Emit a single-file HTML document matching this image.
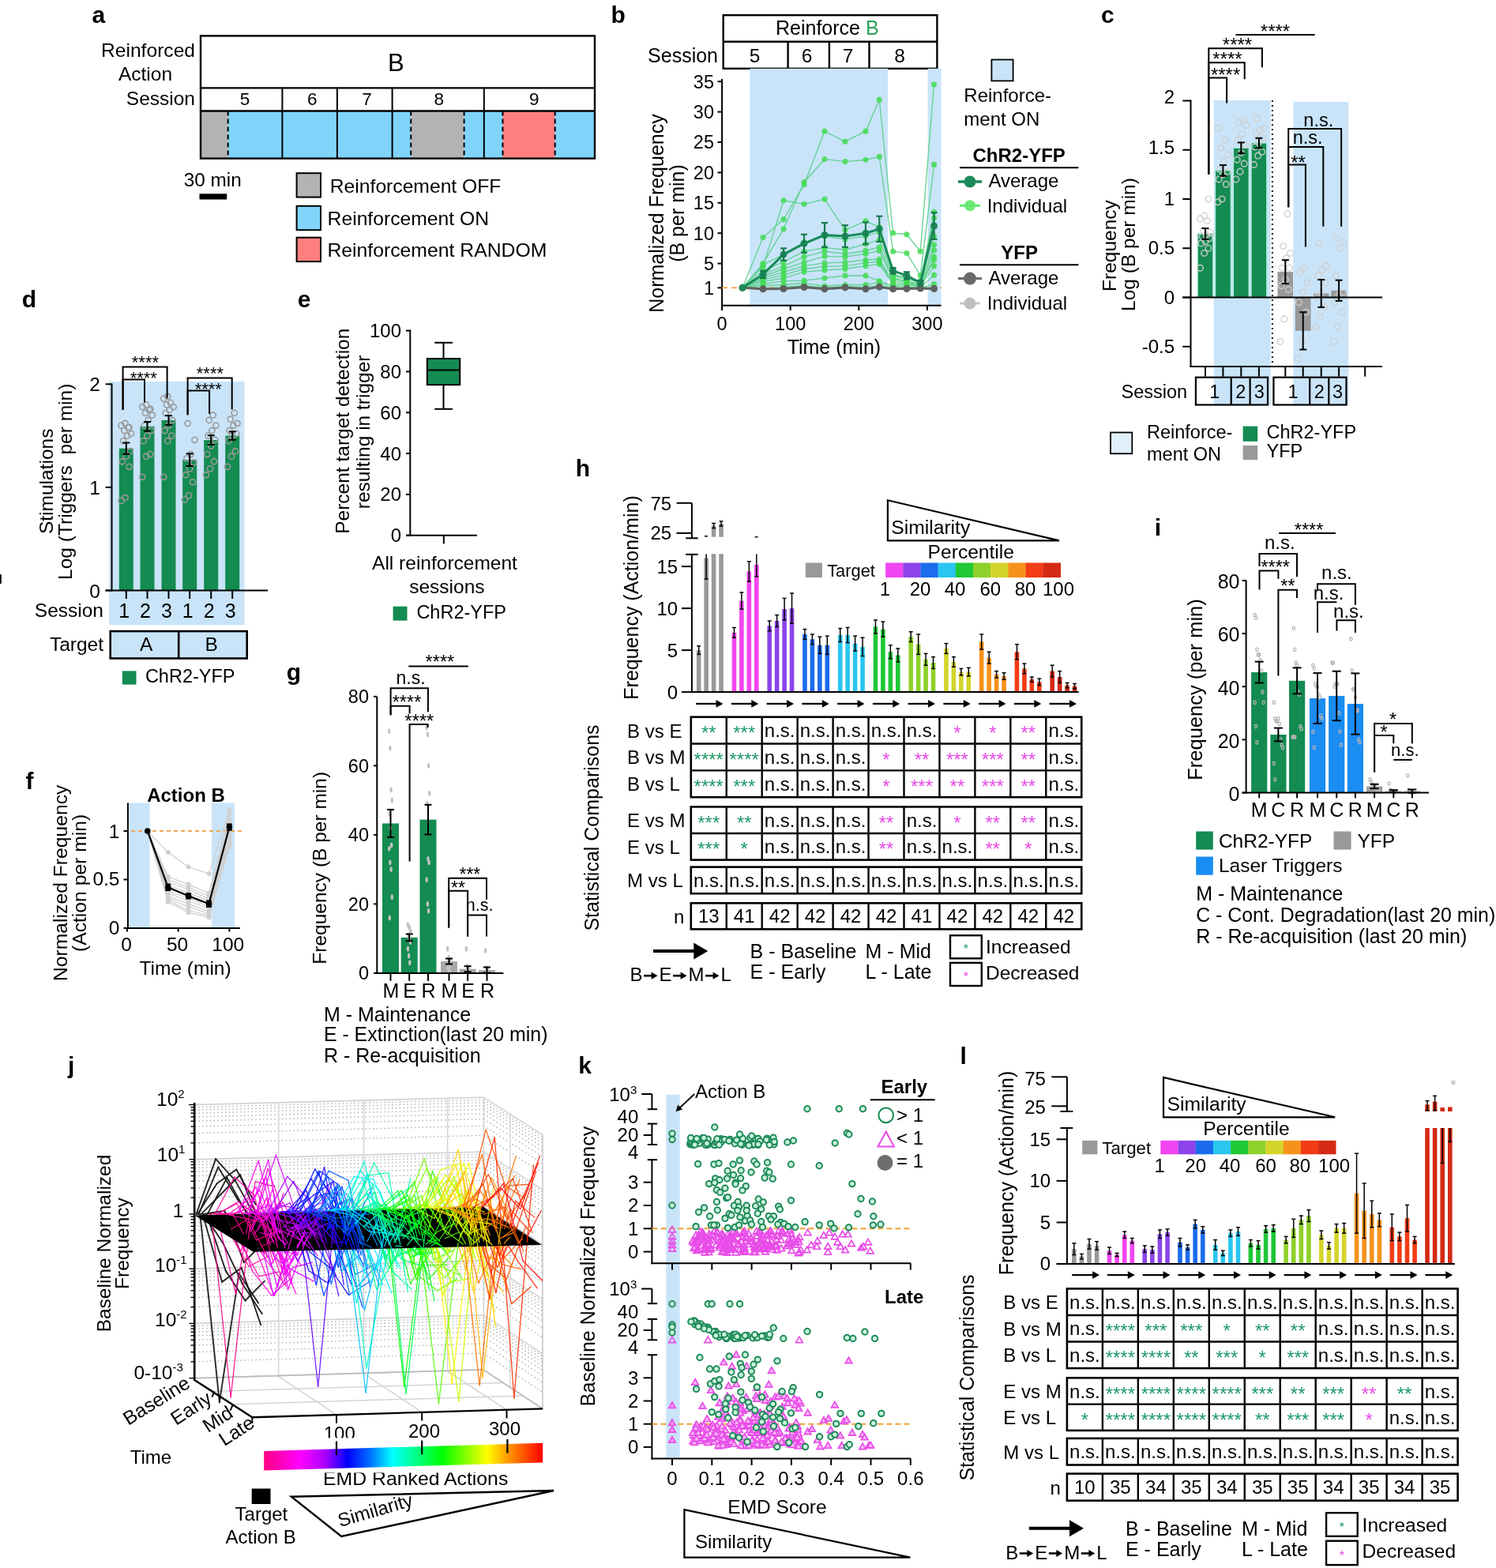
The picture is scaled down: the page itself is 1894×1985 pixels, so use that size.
<!DOCTYPE html>
<html><head><meta charset="utf-8"><title>Figure</title>
<style>html,body{margin:0;padding:0;background:#fff;width:1894px;height:1985px;overflow:hidden}
svg{display:block}text{font-family:'Liberation Sans',Arial,sans-serif}</style></head>
<body><svg width="1894" height="1985" viewBox="0 0 1894 1985">
<rect x="0" y="0" width="1894" height="1985" fill="#fff"/>
<text x="116.5" y="28.8" font-size="30" font-weight="bold">a</text>
<text x="247" y="72" font-size="24.5" text-anchor="end" textLength="119" lengthAdjust="spacingAndGlyphs">Reinforced</text>
<text x="184" y="102.3" font-size="24.5" text-anchor="middle">Action</text>
<text x="247" y="133" font-size="24.5" text-anchor="end">Session</text>
<rect x="254" y="140.5" width="34.7" height="60.1" fill="#b3b3b3"/>
<rect x="288.7" y="140.5" width="68.7" height="60.1" fill="#80d4fa"/>
<rect x="357.4" y="140.5" width="69.5" height="60.1" fill="#80d4fa"/>
<rect x="426.9" y="140.5" width="69.7" height="60.1" fill="#80d4fa"/>
<rect x="496.6" y="140.5" width="23.6" height="60.1" fill="#80d4fa"/>
<rect x="520.2" y="140.5" width="67.4" height="60.1" fill="#b3b3b3"/>
<rect x="587.6" y="140.5" width="25.2" height="60.1" fill="#80d4fa"/>
<rect x="612.8" y="140.5" width="23.7" height="60.1" fill="#80d4fa"/>
<rect x="636.5" y="140.5" width="66.2" height="60.1" fill="#ff7f7f"/>
<rect x="702.7" y="140.5" width="50.3" height="60.1" fill="#80d4fa"/>
<line x1="288.7" y1="140.5" x2="288.7" y2="200.6" stroke="#000" stroke-width="2" stroke-dasharray="6,4"/>
<line x1="520.2" y1="140.5" x2="520.2" y2="200.6" stroke="#000" stroke-width="2" stroke-dasharray="6,4"/>
<line x1="587.6" y1="140.5" x2="587.6" y2="200.6" stroke="#000" stroke-width="2" stroke-dasharray="6,4"/>
<line x1="636.5" y1="140.5" x2="636.5" y2="200.6" stroke="#000" stroke-width="2" stroke-dasharray="6,4"/>
<line x1="702.7" y1="140.5" x2="702.7" y2="200.6" stroke="#000" stroke-width="2" stroke-dasharray="6,4"/>
<line x1="357.4" y1="111.4" x2="357.4" y2="200.6" stroke="#000" stroke-width="2"/>
<line x1="426.9" y1="111.4" x2="426.9" y2="200.6" stroke="#000" stroke-width="2"/>
<line x1="496.6" y1="111.4" x2="496.6" y2="200.6" stroke="#000" stroke-width="2"/>
<line x1="612.8" y1="111.4" x2="612.8" y2="200.6" stroke="#000" stroke-width="2"/>
<rect x="254" y="45.4" width="499" height="155.2" fill="none" stroke="#000" stroke-width="2.4"/>
<line x1="254" y1="111.4" x2="753" y2="111.4" stroke="#000" stroke-width="2.4"/>
<line x1="254" y1="140.5" x2="753" y2="140.5" stroke="#000" stroke-width="2.4"/>
<text x="501.4" y="90" font-size="31" text-anchor="middle">B</text>
<text x="310" y="133.2" font-size="22.5" text-anchor="middle">5</text>
<text x="395.3" y="133.2" font-size="22.5" text-anchor="middle">6</text>
<text x="464.6" y="133.2" font-size="22.5" text-anchor="middle">7</text>
<text x="555.7" y="133.2" font-size="22.5" text-anchor="middle">8</text>
<text x="676.3" y="133.2" font-size="22.5" text-anchor="middle">9</text>
<text x="232.8" y="236" font-size="23" textLength="73" lengthAdjust="spacingAndGlyphs">30 min</text>
<rect x="252.5" y="245.3" width="34.7" height="7.2" fill="#000"/>
<rect x="375.6" y="219.2" width="30.4" height="30.4" fill="#b3b3b3" stroke="#000" stroke-width="2"/>
<rect x="375.6" y="260.8" width="30.4" height="30.4" fill="#80d4fa" stroke="#000" stroke-width="2"/>
<rect x="375.6" y="300.7" width="30.4" height="30.4" fill="#ff7f7f" stroke="#000" stroke-width="2"/>
<text x="417.8" y="244" font-size="24" textLength="216.6" lengthAdjust="spacingAndGlyphs">Reinforcement OFF</text>
<text x="414.6" y="284.8" font-size="24.5" textLength="204.4" lengthAdjust="spacingAndGlyphs">Reinforcement ON</text>
<text x="414.4" y="324.8" font-size="24" textLength="277.9" lengthAdjust="spacingAndGlyphs">Reinforcement RANDOM</text>
<text x="773.6" y="28.6" font-size="30" font-weight="bold">b</text>
<rect x="915.7" y="19.2" width="270.7" height="67.6" fill="none" stroke="#000" stroke-width="2.4"/>
<line x1="915.7" y1="52.8" x2="1186.4" y2="52.8" stroke="#000" stroke-width="2.4"/>
<line x1="997.6" y1="52.8" x2="997.6" y2="86.8" stroke="#000" stroke-width="2.4"/>
<line x1="1049.9" y1="52.8" x2="1049.9" y2="86.8" stroke="#000" stroke-width="2.4"/>
<line x1="1100.5" y1="52.8" x2="1100.5" y2="86.8" stroke="#000" stroke-width="2.4"/>
<text x="1047.3" y="43.5" font-size="25" text-anchor="middle">Reinforce <tspan fill="#2aa05a">B</tspan></text>
<text x="909" y="78.6" font-size="25" text-anchor="end">Session</text>
<text x="955.5" y="78.6" font-size="24.5" text-anchor="middle">5</text>
<text x="1021.5" y="78.6" font-size="24.5" text-anchor="middle">6</text>
<text x="1073.5" y="78.6" font-size="24.5" text-anchor="middle">7</text>
<text x="1139" y="78.6" font-size="24.5" text-anchor="middle">8</text>
<rect x="949.4" y="86.8" width="174.7" height="300" fill="#c9e4f9"/>
<rect x="1174.6" y="86.8" width="16.9" height="300" fill="#c9e4f9"/>
<line x1="914.1" y1="100" x2="914.1" y2="387.8" stroke="#000" stroke-width="2"/>
<line x1="913.1" y1="386.8" x2="1191.5" y2="386.8" stroke="#000" stroke-width="2"/>
<line x1="908.5" y1="103.2" x2="914.1" y2="103.2" stroke="#000" stroke-width="2"/>
<text x="904" y="111.5" font-size="23.5" text-anchor="end">35</text>
<line x1="908.5" y1="141.6" x2="914.1" y2="141.6" stroke="#000" stroke-width="2"/>
<text x="904" y="149.9" font-size="23.5" text-anchor="end">30</text>
<line x1="908.5" y1="180" x2="914.1" y2="180" stroke="#000" stroke-width="2"/>
<text x="904" y="188.3" font-size="23.5" text-anchor="end">25</text>
<line x1="908.5" y1="218.4" x2="914.1" y2="218.4" stroke="#000" stroke-width="2"/>
<text x="904" y="226.7" font-size="23.5" text-anchor="end">20</text>
<line x1="908.5" y1="256.8" x2="914.1" y2="256.8" stroke="#000" stroke-width="2"/>
<text x="904" y="265.1" font-size="23.5" text-anchor="end">15</text>
<line x1="908.5" y1="295.2" x2="914.1" y2="295.2" stroke="#000" stroke-width="2"/>
<text x="904" y="303.5" font-size="23.5" text-anchor="end">10</text>
<line x1="908.5" y1="333.6" x2="914.1" y2="333.6" stroke="#000" stroke-width="2"/>
<text x="904" y="341.9" font-size="23.5" text-anchor="end">5</text>
<line x1="908.5" y1="364.32" x2="914.1" y2="364.32" stroke="#000" stroke-width="2"/>
<text x="904" y="372.62" font-size="23.5" text-anchor="end">1</text>
<line x1="914.1" y1="386.8" x2="914.1" y2="393" stroke="#000" stroke-width="2"/>
<text x="914.1" y="417.7" font-size="23.5" text-anchor="middle">0</text>
<line x1="1000.7" y1="386.8" x2="1000.7" y2="393" stroke="#000" stroke-width="2"/>
<text x="1000.7" y="417.7" font-size="23.5" text-anchor="middle">100</text>
<line x1="1087.3" y1="386.8" x2="1087.3" y2="393" stroke="#000" stroke-width="2"/>
<text x="1087.3" y="417.7" font-size="23.5" text-anchor="middle">200</text>
<line x1="1173.9" y1="386.8" x2="1173.9" y2="393" stroke="#000" stroke-width="2"/>
<text x="1173.9" y="417.7" font-size="23.5" text-anchor="middle">300</text>
<text x="1055.9" y="448.2" font-size="25" text-anchor="middle">Time (min)</text>
<text x="840" y="270" font-size="25" text-anchor="middle" transform="rotate(-90 840 270)">Normalized Frequency</text>
<text x="866" y="270" font-size="25" text-anchor="middle" transform="rotate(-90 866 270)">(B per min)</text>
<line x1="914.1" y1="364.32" x2="1191.5" y2="364.32" stroke="#f2a65a" stroke-width="2" stroke-dasharray="7,5"/>
<path d="M940.08 364.32 L966.06 366.24 L992.04 365.86 L1018.02 362.02 L1044 366.24 L1069.98 363.17 L1095.96 366.24 L1113.28 362.78 L1130.6 365.86 L1147.92 365.86 L1165.24 365.47 L1182.56 365.47" fill="none" stroke="#bdbdbd" stroke-width="1.3" opacity="0.8"/>
<circle cx="940.08" cy="364.32" r="3.2" fill="#bdbdbd" opacity="0.8"/>
<circle cx="966.06" cy="366.24" r="3.2" fill="#bdbdbd" opacity="0.8"/>
<circle cx="992.04" cy="365.86" r="3.2" fill="#bdbdbd" opacity="0.8"/>
<circle cx="1018.02" cy="362.02" r="3.2" fill="#bdbdbd" opacity="0.8"/>
<circle cx="1044" cy="366.24" r="3.2" fill="#bdbdbd" opacity="0.8"/>
<circle cx="1069.98" cy="363.17" r="3.2" fill="#bdbdbd" opacity="0.8"/>
<circle cx="1095.96" cy="366.24" r="3.2" fill="#bdbdbd" opacity="0.8"/>
<circle cx="1113.28" cy="362.78" r="3.2" fill="#bdbdbd" opacity="0.8"/>
<circle cx="1130.6" cy="365.86" r="3.2" fill="#bdbdbd" opacity="0.8"/>
<circle cx="1147.92" cy="365.86" r="3.2" fill="#bdbdbd" opacity="0.8"/>
<circle cx="1165.24" cy="365.47" r="3.2" fill="#bdbdbd" opacity="0.8"/>
<circle cx="1182.56" cy="365.47" r="3.2" fill="#bdbdbd" opacity="0.8"/>
<path d="M940.08 364.32 L966.06 365.86 L992.04 365.47 L1018.02 364.32 L1044 365.86 L1069.98 364.32 L1095.96 365.86 L1113.28 363.55 L1130.6 365.86 L1147.92 365.47 L1165.24 365.09 L1182.56 365.86" fill="none" stroke="#bdbdbd" stroke-width="1.3" opacity="0.8"/>
<circle cx="940.08" cy="364.32" r="3.2" fill="#bdbdbd" opacity="0.8"/>
<circle cx="966.06" cy="365.86" r="3.2" fill="#bdbdbd" opacity="0.8"/>
<circle cx="992.04" cy="365.47" r="3.2" fill="#bdbdbd" opacity="0.8"/>
<circle cx="1018.02" cy="364.32" r="3.2" fill="#bdbdbd" opacity="0.8"/>
<circle cx="1044" cy="365.86" r="3.2" fill="#bdbdbd" opacity="0.8"/>
<circle cx="1069.98" cy="364.32" r="3.2" fill="#bdbdbd" opacity="0.8"/>
<circle cx="1095.96" cy="365.86" r="3.2" fill="#bdbdbd" opacity="0.8"/>
<circle cx="1113.28" cy="363.55" r="3.2" fill="#bdbdbd" opacity="0.8"/>
<circle cx="1130.6" cy="365.86" r="3.2" fill="#bdbdbd" opacity="0.8"/>
<circle cx="1147.92" cy="365.47" r="3.2" fill="#bdbdbd" opacity="0.8"/>
<circle cx="1165.24" cy="365.09" r="3.2" fill="#bdbdbd" opacity="0.8"/>
<circle cx="1182.56" cy="365.86" r="3.2" fill="#bdbdbd" opacity="0.8"/>
<path d="M940.08 364.32 L966.06 365.47 L992.04 365.09 L1018.02 363.55 L1044 365.47 L1069.98 364.7 L1095.96 365.47 L1113.28 363.94 L1130.6 365.47 L1147.92 365.09 L1165.24 364.7 L1182.56 365.09" fill="none" stroke="#bdbdbd" stroke-width="1.3" opacity="0.8"/>
<circle cx="940.08" cy="364.32" r="3.2" fill="#bdbdbd" opacity="0.8"/>
<circle cx="966.06" cy="365.47" r="3.2" fill="#bdbdbd" opacity="0.8"/>
<circle cx="992.04" cy="365.09" r="3.2" fill="#bdbdbd" opacity="0.8"/>
<circle cx="1018.02" cy="363.55" r="3.2" fill="#bdbdbd" opacity="0.8"/>
<circle cx="1044" cy="365.47" r="3.2" fill="#bdbdbd" opacity="0.8"/>
<circle cx="1069.98" cy="364.7" r="3.2" fill="#bdbdbd" opacity="0.8"/>
<circle cx="1095.96" cy="365.47" r="3.2" fill="#bdbdbd" opacity="0.8"/>
<circle cx="1113.28" cy="363.94" r="3.2" fill="#bdbdbd" opacity="0.8"/>
<circle cx="1130.6" cy="365.47" r="3.2" fill="#bdbdbd" opacity="0.8"/>
<circle cx="1147.92" cy="365.09" r="3.2" fill="#bdbdbd" opacity="0.8"/>
<circle cx="1165.24" cy="364.7" r="3.2" fill="#bdbdbd" opacity="0.8"/>
<circle cx="1182.56" cy="365.09" r="3.2" fill="#bdbdbd" opacity="0.8"/>
<path d="M940.08 364.32 L966.06 366.62 L992.04 366.24 L1018.02 364.7 L1044 366.62 L1069.98 365.09 L1095.96 366.62 L1113.28 364.32 L1130.6 366.24 L1147.92 365.86 L1165.24 365.47 L1182.56 366.24" fill="none" stroke="#bdbdbd" stroke-width="1.3" opacity="0.8"/>
<circle cx="940.08" cy="364.32" r="3.2" fill="#bdbdbd" opacity="0.8"/>
<circle cx="966.06" cy="366.62" r="3.2" fill="#bdbdbd" opacity="0.8"/>
<circle cx="992.04" cy="366.24" r="3.2" fill="#bdbdbd" opacity="0.8"/>
<circle cx="1018.02" cy="364.7" r="3.2" fill="#bdbdbd" opacity="0.8"/>
<circle cx="1044" cy="366.62" r="3.2" fill="#bdbdbd" opacity="0.8"/>
<circle cx="1069.98" cy="365.09" r="3.2" fill="#bdbdbd" opacity="0.8"/>
<circle cx="1095.96" cy="366.62" r="3.2" fill="#bdbdbd" opacity="0.8"/>
<circle cx="1113.28" cy="364.32" r="3.2" fill="#bdbdbd" opacity="0.8"/>
<circle cx="1130.6" cy="366.24" r="3.2" fill="#bdbdbd" opacity="0.8"/>
<circle cx="1147.92" cy="365.86" r="3.2" fill="#bdbdbd" opacity="0.8"/>
<circle cx="1165.24" cy="365.47" r="3.2" fill="#bdbdbd" opacity="0.8"/>
<circle cx="1182.56" cy="366.24" r="3.2" fill="#bdbdbd" opacity="0.8"/>
<path d="M940.08 364.32 L966.06 300.58 L992.04 277.54 L1018.02 233.76 L1044 166.18 L1069.98 179.23 L1095.96 166.18 L1113.28 126.24 L1130.6 295.2 L1147.92 296.74 L1165.24 318.24 L1182.56 107.04" fill="none" stroke="#5ccf8c" stroke-width="1.4" opacity="0.9"/>
<circle cx="940.08" cy="364.32" r="3.6" fill="#44dc55" opacity="0.85"/>
<circle cx="966.06" cy="300.58" r="3.6" fill="#44dc55" opacity="0.85"/>
<circle cx="992.04" cy="277.54" r="3.6" fill="#44dc55" opacity="0.85"/>
<circle cx="1018.02" cy="233.76" r="3.6" fill="#44dc55" opacity="0.85"/>
<circle cx="1044" cy="166.18" r="3.6" fill="#44dc55" opacity="0.85"/>
<circle cx="1069.98" cy="179.23" r="3.6" fill="#44dc55" opacity="0.85"/>
<circle cx="1095.96" cy="166.18" r="3.6" fill="#44dc55" opacity="0.85"/>
<circle cx="1113.28" cy="126.24" r="3.6" fill="#44dc55" opacity="0.85"/>
<circle cx="1130.6" cy="295.2" r="3.6" fill="#44dc55" opacity="0.85"/>
<circle cx="1147.92" cy="296.74" r="3.6" fill="#44dc55" opacity="0.85"/>
<circle cx="1165.24" cy="318.24" r="3.6" fill="#44dc55" opacity="0.85"/>
<circle cx="1182.56" cy="107.04" r="3.6" fill="#44dc55" opacity="0.85"/>
<path d="M940.08 364.32 L966.06 333.6 L992.04 289.82 L1018.02 230.69 L1044 201.5 L1069.98 204.58 L1095.96 202.27 L1113.28 198.43 L1130.6 318.24 L1147.92 320.54 L1165.24 348.96 L1182.56 208.42" fill="none" stroke="#5ccf8c" stroke-width="1.4" opacity="0.9"/>
<circle cx="940.08" cy="364.32" r="3.6" fill="#44dc55" opacity="0.85"/>
<circle cx="966.06" cy="333.6" r="3.6" fill="#44dc55" opacity="0.85"/>
<circle cx="992.04" cy="289.82" r="3.6" fill="#44dc55" opacity="0.85"/>
<circle cx="1018.02" cy="230.69" r="3.6" fill="#44dc55" opacity="0.85"/>
<circle cx="1044" cy="201.5" r="3.6" fill="#44dc55" opacity="0.85"/>
<circle cx="1069.98" cy="204.58" r="3.6" fill="#44dc55" opacity="0.85"/>
<circle cx="1095.96" cy="202.27" r="3.6" fill="#44dc55" opacity="0.85"/>
<circle cx="1113.28" cy="198.43" r="3.6" fill="#44dc55" opacity="0.85"/>
<circle cx="1130.6" cy="318.24" r="3.6" fill="#44dc55" opacity="0.85"/>
<circle cx="1147.92" cy="320.54" r="3.6" fill="#44dc55" opacity="0.85"/>
<circle cx="1165.24" cy="348.96" r="3.6" fill="#44dc55" opacity="0.85"/>
<circle cx="1182.56" cy="208.42" r="3.6" fill="#44dc55" opacity="0.85"/>
<path d="M940.08 364.32 L966.06 337.44 L992.04 253.73 L1018.02 258.34 L1044 252.19 L1069.98 291.36 L1095.96 279.84 L1113.28 287.52 L1130.6 348.96 L1147.92 350.5 L1165.24 356.64 L1182.56 268.32" fill="none" stroke="#5ccf8c" stroke-width="1.4" opacity="0.9"/>
<circle cx="940.08" cy="364.32" r="3.6" fill="#44dc55" opacity="0.85"/>
<circle cx="966.06" cy="337.44" r="3.6" fill="#44dc55" opacity="0.85"/>
<circle cx="992.04" cy="253.73" r="3.6" fill="#44dc55" opacity="0.85"/>
<circle cx="1018.02" cy="258.34" r="3.6" fill="#44dc55" opacity="0.85"/>
<circle cx="1044" cy="252.19" r="3.6" fill="#44dc55" opacity="0.85"/>
<circle cx="1069.98" cy="291.36" r="3.6" fill="#44dc55" opacity="0.85"/>
<circle cx="1095.96" cy="279.84" r="3.6" fill="#44dc55" opacity="0.85"/>
<circle cx="1113.28" cy="287.52" r="3.6" fill="#44dc55" opacity="0.85"/>
<circle cx="1130.6" cy="348.96" r="3.6" fill="#44dc55" opacity="0.85"/>
<circle cx="1147.92" cy="350.5" r="3.6" fill="#44dc55" opacity="0.85"/>
<circle cx="1165.24" cy="356.64" r="3.6" fill="#44dc55" opacity="0.85"/>
<circle cx="1182.56" cy="268.32" r="3.6" fill="#44dc55" opacity="0.85"/>
<path d="M940.08 364.32 L966.06 335.14 L992.04 322.08 L1018.02 306.72 L1044 299.04 L1069.98 302.88 L1095.96 299.04 L1113.28 293.66 L1130.6 347.42 L1147.92 352.03 L1165.24 355.87 L1182.56 276" fill="none" stroke="#5ccf8c" stroke-width="1.4" opacity="0.9"/>
<circle cx="940.08" cy="364.32" r="3.6" fill="#44dc55" opacity="0.85"/>
<circle cx="966.06" cy="335.14" r="3.6" fill="#44dc55" opacity="0.85"/>
<circle cx="992.04" cy="322.08" r="3.6" fill="#44dc55" opacity="0.85"/>
<circle cx="1018.02" cy="306.72" r="3.6" fill="#44dc55" opacity="0.85"/>
<circle cx="1044" cy="299.04" r="3.6" fill="#44dc55" opacity="0.85"/>
<circle cx="1069.98" cy="302.88" r="3.6" fill="#44dc55" opacity="0.85"/>
<circle cx="1095.96" cy="299.04" r="3.6" fill="#44dc55" opacity="0.85"/>
<circle cx="1113.28" cy="293.66" r="3.6" fill="#44dc55" opacity="0.85"/>
<circle cx="1130.6" cy="347.42" r="3.6" fill="#44dc55" opacity="0.85"/>
<circle cx="1147.92" cy="352.03" r="3.6" fill="#44dc55" opacity="0.85"/>
<circle cx="1165.24" cy="355.87" r="3.6" fill="#44dc55" opacity="0.85"/>
<circle cx="1182.56" cy="276" r="3.6" fill="#44dc55" opacity="0.85"/>
<path d="M940.08 364.32 L966.06 342.82 L992.04 331.3 L1018.02 318.24 L1044 313.63 L1069.98 315.94 L1095.96 309.02 L1113.28 303.65 L1130.6 349.73 L1147.92 353.57 L1165.24 357.41 L1182.56 299.04" fill="none" stroke="#5ccf8c" stroke-width="1.4" opacity="0.9"/>
<circle cx="940.08" cy="364.32" r="3.6" fill="#44dc55" opacity="0.85"/>
<circle cx="966.06" cy="342.82" r="3.6" fill="#44dc55" opacity="0.85"/>
<circle cx="992.04" cy="331.3" r="3.6" fill="#44dc55" opacity="0.85"/>
<circle cx="1018.02" cy="318.24" r="3.6" fill="#44dc55" opacity="0.85"/>
<circle cx="1044" cy="313.63" r="3.6" fill="#44dc55" opacity="0.85"/>
<circle cx="1069.98" cy="315.94" r="3.6" fill="#44dc55" opacity="0.85"/>
<circle cx="1095.96" cy="309.02" r="3.6" fill="#44dc55" opacity="0.85"/>
<circle cx="1113.28" cy="303.65" r="3.6" fill="#44dc55" opacity="0.85"/>
<circle cx="1130.6" cy="349.73" r="3.6" fill="#44dc55" opacity="0.85"/>
<circle cx="1147.92" cy="353.57" r="3.6" fill="#44dc55" opacity="0.85"/>
<circle cx="1165.24" cy="357.41" r="3.6" fill="#44dc55" opacity="0.85"/>
<circle cx="1182.56" cy="299.04" r="3.6" fill="#44dc55" opacity="0.85"/>
<path d="M940.08 364.32 L966.06 347.42 L992.04 336.67 L1018.02 325.15 L1044 318.24 L1069.98 321.31 L1095.96 317.47 L1113.28 312.86 L1130.6 352.03 L1147.92 355.87 L1165.24 359.71 L1182.56 309.79" fill="none" stroke="#5ccf8c" stroke-width="1.4" opacity="0.9"/>
<circle cx="940.08" cy="364.32" r="3.6" fill="#44dc55" opacity="0.85"/>
<circle cx="966.06" cy="347.42" r="3.6" fill="#44dc55" opacity="0.85"/>
<circle cx="992.04" cy="336.67" r="3.6" fill="#44dc55" opacity="0.85"/>
<circle cx="1018.02" cy="325.15" r="3.6" fill="#44dc55" opacity="0.85"/>
<circle cx="1044" cy="318.24" r="3.6" fill="#44dc55" opacity="0.85"/>
<circle cx="1069.98" cy="321.31" r="3.6" fill="#44dc55" opacity="0.85"/>
<circle cx="1095.96" cy="317.47" r="3.6" fill="#44dc55" opacity="0.85"/>
<circle cx="1113.28" cy="312.86" r="3.6" fill="#44dc55" opacity="0.85"/>
<circle cx="1130.6" cy="352.03" r="3.6" fill="#44dc55" opacity="0.85"/>
<circle cx="1147.92" cy="355.87" r="3.6" fill="#44dc55" opacity="0.85"/>
<circle cx="1165.24" cy="359.71" r="3.6" fill="#44dc55" opacity="0.85"/>
<circle cx="1182.56" cy="309.79" r="3.6" fill="#44dc55" opacity="0.85"/>
<path d="M940.08 364.32 L966.06 349.73 L992.04 340.51 L1018.02 332.06 L1044 324.38 L1069.98 325.15 L1095.96 321.31 L1113.28 317.47 L1130.6 353.57 L1147.92 356.64 L1165.24 360.48 L1182.56 316.7" fill="none" stroke="#5ccf8c" stroke-width="1.4" opacity="0.9"/>
<circle cx="940.08" cy="364.32" r="3.6" fill="#44dc55" opacity="0.85"/>
<circle cx="966.06" cy="349.73" r="3.6" fill="#44dc55" opacity="0.85"/>
<circle cx="992.04" cy="340.51" r="3.6" fill="#44dc55" opacity="0.85"/>
<circle cx="1018.02" cy="332.06" r="3.6" fill="#44dc55" opacity="0.85"/>
<circle cx="1044" cy="324.38" r="3.6" fill="#44dc55" opacity="0.85"/>
<circle cx="1069.98" cy="325.15" r="3.6" fill="#44dc55" opacity="0.85"/>
<circle cx="1095.96" cy="321.31" r="3.6" fill="#44dc55" opacity="0.85"/>
<circle cx="1113.28" cy="317.47" r="3.6" fill="#44dc55" opacity="0.85"/>
<circle cx="1130.6" cy="353.57" r="3.6" fill="#44dc55" opacity="0.85"/>
<circle cx="1147.92" cy="356.64" r="3.6" fill="#44dc55" opacity="0.85"/>
<circle cx="1165.24" cy="360.48" r="3.6" fill="#44dc55" opacity="0.85"/>
<circle cx="1182.56" cy="316.7" r="3.6" fill="#44dc55" opacity="0.85"/>
<path d="M940.08 364.32 L966.06 352.03 L992.04 344.35 L1018.02 336.67 L1044 332.83 L1069.98 332.06 L1095.96 328.99 L1113.28 328.22 L1130.6 355.87 L1147.92 358.18 L1165.24 361.25 L1182.56 325.15" fill="none" stroke="#5ccf8c" stroke-width="1.4" opacity="0.9"/>
<circle cx="940.08" cy="364.32" r="3.6" fill="#44dc55" opacity="0.85"/>
<circle cx="966.06" cy="352.03" r="3.6" fill="#44dc55" opacity="0.85"/>
<circle cx="992.04" cy="344.35" r="3.6" fill="#44dc55" opacity="0.85"/>
<circle cx="1018.02" cy="336.67" r="3.6" fill="#44dc55" opacity="0.85"/>
<circle cx="1044" cy="332.83" r="3.6" fill="#44dc55" opacity="0.85"/>
<circle cx="1069.98" cy="332.06" r="3.6" fill="#44dc55" opacity="0.85"/>
<circle cx="1095.96" cy="328.99" r="3.6" fill="#44dc55" opacity="0.85"/>
<circle cx="1113.28" cy="328.22" r="3.6" fill="#44dc55" opacity="0.85"/>
<circle cx="1130.6" cy="355.87" r="3.6" fill="#44dc55" opacity="0.85"/>
<circle cx="1147.92" cy="358.18" r="3.6" fill="#44dc55" opacity="0.85"/>
<circle cx="1165.24" cy="361.25" r="3.6" fill="#44dc55" opacity="0.85"/>
<circle cx="1182.56" cy="325.15" r="3.6" fill="#44dc55" opacity="0.85"/>
<path d="M940.08 364.32 L966.06 354.34 L992.04 348.19 L1018.02 340.51 L1044 337.44 L1069.98 336.67 L1095.96 332.83 L1113.28 331.3 L1130.6 358.18 L1147.92 359.71 L1165.24 362.02 L1182.56 328.99" fill="none" stroke="#5ccf8c" stroke-width="1.4" opacity="0.9"/>
<circle cx="940.08" cy="364.32" r="3.6" fill="#44dc55" opacity="0.85"/>
<circle cx="966.06" cy="354.34" r="3.6" fill="#44dc55" opacity="0.85"/>
<circle cx="992.04" cy="348.19" r="3.6" fill="#44dc55" opacity="0.85"/>
<circle cx="1018.02" cy="340.51" r="3.6" fill="#44dc55" opacity="0.85"/>
<circle cx="1044" cy="337.44" r="3.6" fill="#44dc55" opacity="0.85"/>
<circle cx="1069.98" cy="336.67" r="3.6" fill="#44dc55" opacity="0.85"/>
<circle cx="1095.96" cy="332.83" r="3.6" fill="#44dc55" opacity="0.85"/>
<circle cx="1113.28" cy="331.3" r="3.6" fill="#44dc55" opacity="0.85"/>
<circle cx="1130.6" cy="358.18" r="3.6" fill="#44dc55" opacity="0.85"/>
<circle cx="1147.92" cy="359.71" r="3.6" fill="#44dc55" opacity="0.85"/>
<circle cx="1165.24" cy="362.02" r="3.6" fill="#44dc55" opacity="0.85"/>
<circle cx="1182.56" cy="328.99" r="3.6" fill="#44dc55" opacity="0.85"/>
<path d="M940.08 364.32 L966.06 356.64 L992.04 352.03 L1018.02 344.35 L1044 342.05 L1069.98 340.51 L1095.96 336.67 L1113.28 334.37 L1130.6 360.48 L1147.92 361.25 L1165.24 362.78 L1182.56 336.67" fill="none" stroke="#5ccf8c" stroke-width="1.4" opacity="0.9"/>
<circle cx="940.08" cy="364.32" r="3.6" fill="#44dc55" opacity="0.85"/>
<circle cx="966.06" cy="356.64" r="3.6" fill="#44dc55" opacity="0.85"/>
<circle cx="992.04" cy="352.03" r="3.6" fill="#44dc55" opacity="0.85"/>
<circle cx="1018.02" cy="344.35" r="3.6" fill="#44dc55" opacity="0.85"/>
<circle cx="1044" cy="342.05" r="3.6" fill="#44dc55" opacity="0.85"/>
<circle cx="1069.98" cy="340.51" r="3.6" fill="#44dc55" opacity="0.85"/>
<circle cx="1095.96" cy="336.67" r="3.6" fill="#44dc55" opacity="0.85"/>
<circle cx="1113.28" cy="334.37" r="3.6" fill="#44dc55" opacity="0.85"/>
<circle cx="1130.6" cy="360.48" r="3.6" fill="#44dc55" opacity="0.85"/>
<circle cx="1147.92" cy="361.25" r="3.6" fill="#44dc55" opacity="0.85"/>
<circle cx="1165.24" cy="362.78" r="3.6" fill="#44dc55" opacity="0.85"/>
<circle cx="1182.56" cy="336.67" r="3.6" fill="#44dc55" opacity="0.85"/>
<path d="M940.08 364.32 L966.06 359.71 L992.04 355.87 L1018.02 355.1 L1044 352.03 L1069.98 348.96 L1095.96 348.96 L1113.28 355.87 L1130.6 362.02 L1147.92 363.55 L1165.24 364.32 L1182.56 348.19" fill="none" stroke="#5ccf8c" stroke-width="1.4" opacity="0.9"/>
<circle cx="940.08" cy="364.32" r="3.6" fill="#44dc55" opacity="0.85"/>
<circle cx="966.06" cy="359.71" r="3.6" fill="#44dc55" opacity="0.85"/>
<circle cx="992.04" cy="355.87" r="3.6" fill="#44dc55" opacity="0.85"/>
<circle cx="1018.02" cy="355.1" r="3.6" fill="#44dc55" opacity="0.85"/>
<circle cx="1044" cy="352.03" r="3.6" fill="#44dc55" opacity="0.85"/>
<circle cx="1069.98" cy="348.96" r="3.6" fill="#44dc55" opacity="0.85"/>
<circle cx="1095.96" cy="348.96" r="3.6" fill="#44dc55" opacity="0.85"/>
<circle cx="1113.28" cy="355.87" r="3.6" fill="#44dc55" opacity="0.85"/>
<circle cx="1130.6" cy="362.02" r="3.6" fill="#44dc55" opacity="0.85"/>
<circle cx="1147.92" cy="363.55" r="3.6" fill="#44dc55" opacity="0.85"/>
<circle cx="1165.24" cy="364.32" r="3.6" fill="#44dc55" opacity="0.85"/>
<circle cx="1182.56" cy="348.19" r="3.6" fill="#44dc55" opacity="0.85"/>
<path d="M940.08 364.32 L966.06 362.02 L992.04 360.48 L1018.02 358.18 L1044 362.02 L1069.98 360.48 L1095.96 360.48 L1113.28 357.41 L1130.6 364.32 L1147.92 364.32 L1165.24 364.32 L1182.56 359.71" fill="none" stroke="#5ccf8c" stroke-width="1.4" opacity="0.9"/>
<circle cx="940.08" cy="364.32" r="3.6" fill="#44dc55" opacity="0.85"/>
<circle cx="966.06" cy="362.02" r="3.6" fill="#44dc55" opacity="0.85"/>
<circle cx="992.04" cy="360.48" r="3.6" fill="#44dc55" opacity="0.85"/>
<circle cx="1018.02" cy="358.18" r="3.6" fill="#44dc55" opacity="0.85"/>
<circle cx="1044" cy="362.02" r="3.6" fill="#44dc55" opacity="0.85"/>
<circle cx="1069.98" cy="360.48" r="3.6" fill="#44dc55" opacity="0.85"/>
<circle cx="1095.96" cy="360.48" r="3.6" fill="#44dc55" opacity="0.85"/>
<circle cx="1113.28" cy="357.41" r="3.6" fill="#44dc55" opacity="0.85"/>
<circle cx="1130.6" cy="364.32" r="3.6" fill="#44dc55" opacity="0.85"/>
<circle cx="1147.92" cy="364.32" r="3.6" fill="#44dc55" opacity="0.85"/>
<circle cx="1165.24" cy="364.32" r="3.6" fill="#44dc55" opacity="0.85"/>
<circle cx="1182.56" cy="359.71" r="3.6" fill="#44dc55" opacity="0.85"/>
<path d="M940.08 364.32 L966.06 365.09 L992.04 363.55 L1018.02 361.25 L1044 364.32 L1069.98 362.78 L1095.96 363.55 L1113.28 361.25 L1130.6 365.09 L1147.92 365.09 L1165.24 364.32 L1182.56 364.32" fill="none" stroke="#5ccf8c" stroke-width="1.4" opacity="0.9"/>
<circle cx="940.08" cy="364.32" r="3.6" fill="#44dc55" opacity="0.85"/>
<circle cx="966.06" cy="365.09" r="3.6" fill="#44dc55" opacity="0.85"/>
<circle cx="992.04" cy="363.55" r="3.6" fill="#44dc55" opacity="0.85"/>
<circle cx="1018.02" cy="361.25" r="3.6" fill="#44dc55" opacity="0.85"/>
<circle cx="1044" cy="364.32" r="3.6" fill="#44dc55" opacity="0.85"/>
<circle cx="1069.98" cy="362.78" r="3.6" fill="#44dc55" opacity="0.85"/>
<circle cx="1095.96" cy="363.55" r="3.6" fill="#44dc55" opacity="0.85"/>
<circle cx="1113.28" cy="361.25" r="3.6" fill="#44dc55" opacity="0.85"/>
<circle cx="1130.6" cy="365.09" r="3.6" fill="#44dc55" opacity="0.85"/>
<circle cx="1147.92" cy="365.09" r="3.6" fill="#44dc55" opacity="0.85"/>
<circle cx="1165.24" cy="364.32" r="3.6" fill="#44dc55" opacity="0.85"/>
<circle cx="1182.56" cy="364.32" r="3.6" fill="#44dc55" opacity="0.85"/>
<path d="M940.08 364.32 L966.06 365.86 L992.04 365.47 L1018.02 363.55 L1044 365.86 L1069.98 363.94 L1095.96 365.86 L1113.28 363.17 L1130.6 365.86 L1147.92 365.47 L1165.24 365.09 L1182.56 365.47" fill="none" stroke="#606060" stroke-width="3"/>
<circle cx="940.08" cy="364.32" r="4.5" fill="#606060"/>
<circle cx="966.06" cy="365.86" r="4.5" fill="#606060"/>
<circle cx="992.04" cy="365.47" r="4.5" fill="#606060"/>
<circle cx="1018.02" cy="363.55" r="4.5" fill="#606060"/>
<circle cx="1044" cy="365.86" r="4.5" fill="#606060"/>
<circle cx="1069.98" cy="363.94" r="4.5" fill="#606060"/>
<circle cx="1095.96" cy="365.86" r="4.5" fill="#606060"/>
<circle cx="1113.28" cy="363.17" r="4.5" fill="#606060"/>
<circle cx="1130.6" cy="365.86" r="4.5" fill="#606060"/>
<circle cx="1147.92" cy="365.47" r="4.5" fill="#606060"/>
<circle cx="1165.24" cy="365.09" r="4.5" fill="#606060"/>
<circle cx="1182.56" cy="365.47" r="4.5" fill="#606060"/>
<path d="M940.08 364.32 L966.06 347.42 L992.04 322.08 L1018.02 308.26 L1044 297.5 L1069.98 299.04 L1095.96 295.2 L1113.28 289.82 L1130.6 342.82 L1147.92 348.96 L1165.24 358.18 L1182.56 285.98" fill="none" stroke="#1a8a5a" stroke-width="3"/>
<circle cx="940.08" cy="364.32" r="4.5" fill="#1a8a5a"/>
<circle cx="966.06" cy="347.42" r="4.5" fill="#1a8a5a"/>
<line x1="966.06" y1="342.82" x2="966.06" y2="352.03" stroke="#1a7a4e" stroke-width="2.2"/>
<line x1="962.06" y1="342.82" x2="970.06" y2="342.82" stroke="#1a7a4e" stroke-width="2.2"/>
<line x1="962.06" y1="352.03" x2="970.06" y2="352.03" stroke="#1a7a4e" stroke-width="2.2"/>
<circle cx="992.04" cy="322.08" r="4.5" fill="#1a8a5a"/>
<line x1="992.04" y1="314.4" x2="992.04" y2="329.76" stroke="#1a7a4e" stroke-width="2.2"/>
<line x1="988.04" y1="314.4" x2="996.04" y2="314.4" stroke="#1a7a4e" stroke-width="2.2"/>
<line x1="988.04" y1="329.76" x2="996.04" y2="329.76" stroke="#1a7a4e" stroke-width="2.2"/>
<circle cx="1018.02" cy="308.26" r="4.5" fill="#1a8a5a"/>
<line x1="1018.02" y1="296.74" x2="1018.02" y2="319.78" stroke="#1a7a4e" stroke-width="2.2"/>
<line x1="1014.02" y1="296.74" x2="1022.02" y2="296.74" stroke="#1a7a4e" stroke-width="2.2"/>
<line x1="1014.02" y1="319.78" x2="1022.02" y2="319.78" stroke="#1a7a4e" stroke-width="2.2"/>
<circle cx="1044" cy="297.5" r="4.5" fill="#1a8a5a"/>
<line x1="1044" y1="282.14" x2="1044" y2="312.86" stroke="#1a7a4e" stroke-width="2.2"/>
<line x1="1040" y1="282.14" x2="1048" y2="282.14" stroke="#1a7a4e" stroke-width="2.2"/>
<line x1="1040" y1="312.86" x2="1048" y2="312.86" stroke="#1a7a4e" stroke-width="2.2"/>
<circle cx="1069.98" cy="299.04" r="4.5" fill="#1a8a5a"/>
<line x1="1069.98" y1="285.22" x2="1069.98" y2="312.86" stroke="#1a7a4e" stroke-width="2.2"/>
<line x1="1065.98" y1="285.22" x2="1073.98" y2="285.22" stroke="#1a7a4e" stroke-width="2.2"/>
<line x1="1065.98" y1="312.86" x2="1073.98" y2="312.86" stroke="#1a7a4e" stroke-width="2.2"/>
<circle cx="1095.96" cy="295.2" r="4.5" fill="#1a8a5a"/>
<line x1="1095.96" y1="281.38" x2="1095.96" y2="309.02" stroke="#1a7a4e" stroke-width="2.2"/>
<line x1="1091.96" y1="281.38" x2="1099.96" y2="281.38" stroke="#1a7a4e" stroke-width="2.2"/>
<line x1="1091.96" y1="309.02" x2="1099.96" y2="309.02" stroke="#1a7a4e" stroke-width="2.2"/>
<circle cx="1113.28" cy="289.82" r="4.5" fill="#1a8a5a"/>
<line x1="1113.28" y1="273.7" x2="1113.28" y2="305.95" stroke="#1a7a4e" stroke-width="2.2"/>
<line x1="1109.28" y1="273.7" x2="1117.28" y2="273.7" stroke="#1a7a4e" stroke-width="2.2"/>
<line x1="1109.28" y1="305.95" x2="1117.28" y2="305.95" stroke="#1a7a4e" stroke-width="2.2"/>
<circle cx="1130.6" cy="342.82" r="4.5" fill="#1a8a5a"/>
<line x1="1130.6" y1="338.98" x2="1130.6" y2="346.66" stroke="#1a7a4e" stroke-width="2.2"/>
<line x1="1126.6" y1="338.98" x2="1134.6" y2="338.98" stroke="#1a7a4e" stroke-width="2.2"/>
<line x1="1126.6" y1="346.66" x2="1134.6" y2="346.66" stroke="#1a7a4e" stroke-width="2.2"/>
<circle cx="1147.92" cy="348.96" r="4.5" fill="#1a8a5a"/>
<line x1="1147.92" y1="344.35" x2="1147.92" y2="353.57" stroke="#1a7a4e" stroke-width="2.2"/>
<line x1="1143.92" y1="344.35" x2="1151.92" y2="344.35" stroke="#1a7a4e" stroke-width="2.2"/>
<line x1="1143.92" y1="353.57" x2="1151.92" y2="353.57" stroke="#1a7a4e" stroke-width="2.2"/>
<circle cx="1165.24" cy="358.18" r="4.5" fill="#1a8a5a"/>
<line x1="1165.24" y1="355.1" x2="1165.24" y2="361.25" stroke="#1a7a4e" stroke-width="2.2"/>
<line x1="1161.24" y1="355.1" x2="1169.24" y2="355.1" stroke="#1a7a4e" stroke-width="2.2"/>
<line x1="1161.24" y1="361.25" x2="1169.24" y2="361.25" stroke="#1a7a4e" stroke-width="2.2"/>
<circle cx="1182.56" cy="285.98" r="4.5" fill="#1a8a5a"/>
<line x1="1182.56" y1="269.09" x2="1182.56" y2="302.88" stroke="#1a7a4e" stroke-width="2.2"/>
<line x1="1178.56" y1="269.09" x2="1186.56" y2="269.09" stroke="#1a7a4e" stroke-width="2.2"/>
<line x1="1178.56" y1="302.88" x2="1186.56" y2="302.88" stroke="#1a7a4e" stroke-width="2.2"/>
<rect x="1255.4" y="75.5" width="27.2" height="26.9" fill="#c9e4f9" stroke="#000" stroke-width="1.8"/>
<text x="1220.3" y="128.6" font-size="24">Reinforce-</text>
<text x="1220.3" y="158.5" font-size="24">ment ON</text>
<text x="1290.2" y="205.1" font-size="24" text-anchor="middle" font-weight="bold">ChR2-YFP</text>
<line x1="1215" y1="212.3" x2="1365.4" y2="212.3" stroke="#000" stroke-width="2"/>
<line x1="1213" y1="230" x2="1243" y2="230" stroke="#1a8a5a" stroke-width="3.5"/>
<circle cx="1228" cy="230" r="7.5" fill="#1a8a5a"/>
<text x="1251.4" y="237.2" font-size="24">Average</text>
<line x1="1215" y1="260.3" x2="1241" y2="260.3" stroke="#5ee86a" stroke-width="3"/>
<circle cx="1228" cy="260.3" r="7" fill="#5ee86a" opacity="0.9"/>
<text x="1249.7" y="269.3" font-size="24">Individual</text>
<text x="1290.6" y="328" font-size="24" text-anchor="middle" font-weight="bold">YFP</text>
<line x1="1215" y1="335.2" x2="1365.4" y2="335.2" stroke="#000" stroke-width="2"/>
<line x1="1213" y1="352.6" x2="1243" y2="352.6" stroke="#6a6a6a" stroke-width="3"/>
<circle cx="1228" cy="352.6" r="8" fill="#6a6a6a"/>
<text x="1251.4" y="360" font-size="24">Average</text>
<line x1="1215" y1="384" x2="1241" y2="384" stroke="#c8c8c8" stroke-width="3"/>
<circle cx="1228" cy="384" r="7.5" fill="#bfbfbf"/>
<text x="1249.7" y="392" font-size="24">Individual</text>
<text x="1393.9" y="28.8" font-size="30" font-weight="bold">c</text>
<rect x="1536.7" y="127" width="71.9" height="386" fill="#c9e4f9"/>
<rect x="1637.4" y="129" width="69.9" height="384" fill="#c9e4f9"/>
<line x1="1610.9" y1="127" x2="1610.9" y2="466" stroke="#000" stroke-width="2" stroke-dasharray="2,4"/>
<rect x="1516.2" y="295.95" width="19.6" height="80.55" fill="#138b51" stroke="#a6ecd6" stroke-width="1.2"/>
<rect x="1538.6" y="215.89" width="19.6" height="160.61" fill="#138b51" stroke="#a6ecd6" stroke-width="1.2"/>
<rect x="1561.5" y="187.26" width="19.6" height="189.24" fill="#138b51" stroke="#a6ecd6" stroke-width="1.2"/>
<rect x="1584.1" y="181.03" width="19.6" height="195.47" fill="#138b51" stroke="#a6ecd6" stroke-width="1.2"/>
<rect x="1617.5" y="344.13" width="19.6" height="32.37" fill="#999999"/>
<rect x="1639.9" y="376.5" width="19.6" height="42.33" fill="#999999"/>
<rect x="1662.9" y="371.52" width="19.6" height="4.98" fill="#999999"/>
<rect x="1685.3" y="367.79" width="19.6" height="8.71" fill="#999999"/>
<circle cx="1519.5" cy="339.15" r="3.8" fill="none" stroke="#cfcfcf" stroke-width="1.6" opacity="0.85"/>
<circle cx="1524.7" cy="320.48" r="3.8" fill="none" stroke="#cfcfcf" stroke-width="1.6" opacity="0.85"/>
<circle cx="1529.9" cy="314.25" r="3.8" fill="none" stroke="#cfcfcf" stroke-width="1.6" opacity="0.85"/>
<circle cx="1520.8" cy="308.02" r="3.8" fill="none" stroke="#cfcfcf" stroke-width="1.6" opacity="0.85"/>
<circle cx="1526" cy="305.54" r="3.8" fill="none" stroke="#cfcfcf" stroke-width="1.6" opacity="0.85"/>
<circle cx="1531.2" cy="301.8" r="3.8" fill="none" stroke="#cfcfcf" stroke-width="1.6" opacity="0.85"/>
<circle cx="1522.1" cy="299.31" r="3.8" fill="none" stroke="#cfcfcf" stroke-width="1.6" opacity="0.85"/>
<circle cx="1527.3" cy="298.06" r="3.8" fill="none" stroke="#cfcfcf" stroke-width="1.6" opacity="0.85"/>
<circle cx="1532.5" cy="294.33" r="3.8" fill="none" stroke="#cfcfcf" stroke-width="1.6" opacity="0.85"/>
<circle cx="1523.4" cy="291.84" r="3.8" fill="none" stroke="#cfcfcf" stroke-width="1.6" opacity="0.85"/>
<circle cx="1528.6" cy="279.39" r="3.8" fill="none" stroke="#cfcfcf" stroke-width="1.6" opacity="0.85"/>
<circle cx="1519.5" cy="276.9" r="3.8" fill="none" stroke="#cfcfcf" stroke-width="1.6" opacity="0.85"/>
<circle cx="1524.7" cy="273.17" r="3.8" fill="none" stroke="#cfcfcf" stroke-width="1.6" opacity="0.85"/>
<circle cx="1529.9" cy="252" r="3.8" fill="none" stroke="#cfcfcf" stroke-width="1.6" opacity="0.85"/>
<circle cx="1541.9" cy="255.74" r="3.8" fill="none" stroke="#cfcfcf" stroke-width="1.6" opacity="0.85"/>
<circle cx="1547.1" cy="252" r="3.8" fill="none" stroke="#cfcfcf" stroke-width="1.6" opacity="0.85"/>
<circle cx="1552.3" cy="233.33" r="3.8" fill="none" stroke="#cfcfcf" stroke-width="1.6" opacity="0.85"/>
<circle cx="1543.2" cy="227.1" r="3.8" fill="none" stroke="#cfcfcf" stroke-width="1.6" opacity="0.85"/>
<circle cx="1548.4" cy="220.88" r="3.8" fill="none" stroke="#cfcfcf" stroke-width="1.6" opacity="0.85"/>
<circle cx="1553.6" cy="217.14" r="3.8" fill="none" stroke="#cfcfcf" stroke-width="1.6" opacity="0.85"/>
<circle cx="1544.5" cy="214.65" r="3.8" fill="none" stroke="#cfcfcf" stroke-width="1.6" opacity="0.85"/>
<circle cx="1549.7" cy="204.69" r="3.8" fill="none" stroke="#cfcfcf" stroke-width="1.6" opacity="0.85"/>
<circle cx="1554.9" cy="195.97" r="3.8" fill="none" stroke="#cfcfcf" stroke-width="1.6" opacity="0.85"/>
<circle cx="1545.8" cy="187.26" r="3.8" fill="none" stroke="#cfcfcf" stroke-width="1.6" opacity="0.85"/>
<circle cx="1551" cy="177.3" r="3.8" fill="none" stroke="#cfcfcf" stroke-width="1.6" opacity="0.85"/>
<circle cx="1541.9" cy="162.36" r="3.8" fill="none" stroke="#cfcfcf" stroke-width="1.6" opacity="0.85"/>
<circle cx="1564.8" cy="227.1" r="3.8" fill="none" stroke="#cfcfcf" stroke-width="1.6" opacity="0.85"/>
<circle cx="1570" cy="217.14" r="3.8" fill="none" stroke="#cfcfcf" stroke-width="1.6" opacity="0.85"/>
<circle cx="1575.2" cy="207.18" r="3.8" fill="none" stroke="#cfcfcf" stroke-width="1.6" opacity="0.85"/>
<circle cx="1566.1" cy="202.2" r="3.8" fill="none" stroke="#cfcfcf" stroke-width="1.6" opacity="0.85"/>
<circle cx="1571.3" cy="193.49" r="3.8" fill="none" stroke="#cfcfcf" stroke-width="1.6" opacity="0.85"/>
<circle cx="1576.5" cy="183.53" r="3.8" fill="none" stroke="#cfcfcf" stroke-width="1.6" opacity="0.85"/>
<circle cx="1567.4" cy="177.3" r="3.8" fill="none" stroke="#cfcfcf" stroke-width="1.6" opacity="0.85"/>
<circle cx="1572.6" cy="169.83" r="3.8" fill="none" stroke="#cfcfcf" stroke-width="1.6" opacity="0.85"/>
<circle cx="1577.8" cy="158.62" r="3.8" fill="none" stroke="#cfcfcf" stroke-width="1.6" opacity="0.85"/>
<circle cx="1568.7" cy="154.89" r="3.8" fill="none" stroke="#cfcfcf" stroke-width="1.6" opacity="0.85"/>
<circle cx="1573.9" cy="152.4" r="3.8" fill="none" stroke="#cfcfcf" stroke-width="1.6" opacity="0.85"/>
<circle cx="1587.4" cy="208.42" r="3.8" fill="none" stroke="#cfcfcf" stroke-width="1.6" opacity="0.85"/>
<circle cx="1592.6" cy="197.22" r="3.8" fill="none" stroke="#cfcfcf" stroke-width="1.6" opacity="0.85"/>
<circle cx="1597.8" cy="192.24" r="3.8" fill="none" stroke="#cfcfcf" stroke-width="1.6" opacity="0.85"/>
<circle cx="1588.7" cy="186.01" r="3.8" fill="none" stroke="#cfcfcf" stroke-width="1.6" opacity="0.85"/>
<circle cx="1593.9" cy="179.79" r="3.8" fill="none" stroke="#cfcfcf" stroke-width="1.6" opacity="0.85"/>
<circle cx="1599.1" cy="174.81" r="3.8" fill="none" stroke="#cfcfcf" stroke-width="1.6" opacity="0.85"/>
<circle cx="1590" cy="169.83" r="3.8" fill="none" stroke="#cfcfcf" stroke-width="1.6" opacity="0.85"/>
<circle cx="1595.2" cy="164.85" r="3.8" fill="none" stroke="#cfcfcf" stroke-width="1.6" opacity="0.85"/>
<circle cx="1600.4" cy="162.36" r="3.8" fill="none" stroke="#cfcfcf" stroke-width="1.6" opacity="0.85"/>
<circle cx="1591.3" cy="149.91" r="3.8" fill="none" stroke="#cfcfcf" stroke-width="1.6" opacity="0.85"/>
<circle cx="1620.8" cy="432.52" r="3.8" fill="none" stroke="#cfcfcf" stroke-width="1.6" opacity="0.85"/>
<circle cx="1626" cy="403.89" r="3.8" fill="none" stroke="#cfcfcf" stroke-width="1.6" opacity="0.85"/>
<circle cx="1631.2" cy="366.54" r="3.8" fill="none" stroke="#cfcfcf" stroke-width="1.6" opacity="0.85"/>
<circle cx="1622.1" cy="361.56" r="3.8" fill="none" stroke="#cfcfcf" stroke-width="1.6" opacity="0.85"/>
<circle cx="1627.3" cy="354.09" r="3.8" fill="none" stroke="#cfcfcf" stroke-width="1.6" opacity="0.85"/>
<circle cx="1632.5" cy="339.15" r="3.8" fill="none" stroke="#cfcfcf" stroke-width="1.6" opacity="0.85"/>
<circle cx="1623.4" cy="339.15" r="3.8" fill="none" stroke="#cfcfcf" stroke-width="1.6" opacity="0.85"/>
<circle cx="1628.6" cy="326.7" r="3.8" fill="none" stroke="#cfcfcf" stroke-width="1.6" opacity="0.85"/>
<circle cx="1633.8" cy="320.48" r="3.8" fill="none" stroke="#cfcfcf" stroke-width="1.6" opacity="0.85"/>
<circle cx="1624.7" cy="311.76" r="3.8" fill="none" stroke="#cfcfcf" stroke-width="1.6" opacity="0.85"/>
<circle cx="1629.9" cy="270.68" r="3.8" fill="none" stroke="#cfcfcf" stroke-width="1.6" opacity="0.85"/>
<circle cx="1643.2" cy="453.69" r="3.8" fill="none" stroke="#cfcfcf" stroke-width="1.6" opacity="0.85"/>
<circle cx="1648.4" cy="432.52" r="3.8" fill="none" stroke="#cfcfcf" stroke-width="1.6" opacity="0.85"/>
<circle cx="1653.6" cy="395.18" r="3.8" fill="none" stroke="#cfcfcf" stroke-width="1.6" opacity="0.85"/>
<circle cx="1644.5" cy="382.73" r="3.8" fill="none" stroke="#cfcfcf" stroke-width="1.6" opacity="0.85"/>
<circle cx="1649.7" cy="370.27" r="3.8" fill="none" stroke="#cfcfcf" stroke-width="1.6" opacity="0.85"/>
<circle cx="1654.9" cy="357.82" r="3.8" fill="none" stroke="#cfcfcf" stroke-width="1.6" opacity="0.85"/>
<circle cx="1645.8" cy="345.38" r="3.8" fill="none" stroke="#cfcfcf" stroke-width="1.6" opacity="0.85"/>
<circle cx="1651" cy="339.15" r="3.8" fill="none" stroke="#cfcfcf" stroke-width="1.6" opacity="0.85"/>
<circle cx="1666.2" cy="413.85" r="3.8" fill="none" stroke="#cfcfcf" stroke-width="1.6" opacity="0.85"/>
<circle cx="1671.4" cy="401.4" r="3.8" fill="none" stroke="#cfcfcf" stroke-width="1.6" opacity="0.85"/>
<circle cx="1676.6" cy="388.95" r="3.8" fill="none" stroke="#cfcfcf" stroke-width="1.6" opacity="0.85"/>
<circle cx="1667.5" cy="376.5" r="3.8" fill="none" stroke="#cfcfcf" stroke-width="1.6" opacity="0.85"/>
<circle cx="1672.7" cy="370.27" r="3.8" fill="none" stroke="#cfcfcf" stroke-width="1.6" opacity="0.85"/>
<circle cx="1677.9" cy="357.82" r="3.8" fill="none" stroke="#cfcfcf" stroke-width="1.6" opacity="0.85"/>
<circle cx="1668.8" cy="349.11" r="3.8" fill="none" stroke="#cfcfcf" stroke-width="1.6" opacity="0.85"/>
<circle cx="1674" cy="341.64" r="3.8" fill="none" stroke="#cfcfcf" stroke-width="1.6" opacity="0.85"/>
<circle cx="1679.2" cy="336.66" r="3.8" fill="none" stroke="#cfcfcf" stroke-width="1.6" opacity="0.85"/>
<circle cx="1670.1" cy="308.02" r="3.8" fill="none" stroke="#cfcfcf" stroke-width="1.6" opacity="0.85"/>
<circle cx="1688.6" cy="432.52" r="3.8" fill="none" stroke="#cfcfcf" stroke-width="1.6" opacity="0.85"/>
<circle cx="1693.8" cy="413.85" r="3.8" fill="none" stroke="#cfcfcf" stroke-width="1.6" opacity="0.85"/>
<circle cx="1699" cy="395.18" r="3.8" fill="none" stroke="#cfcfcf" stroke-width="1.6" opacity="0.85"/>
<circle cx="1689.9" cy="382.73" r="3.8" fill="none" stroke="#cfcfcf" stroke-width="1.6" opacity="0.85"/>
<circle cx="1695.1" cy="374.01" r="3.8" fill="none" stroke="#cfcfcf" stroke-width="1.6" opacity="0.85"/>
<circle cx="1700.3" cy="370.27" r="3.8" fill="none" stroke="#cfcfcf" stroke-width="1.6" opacity="0.85"/>
<circle cx="1691.2" cy="349.11" r="3.8" fill="none" stroke="#cfcfcf" stroke-width="1.6" opacity="0.85"/>
<circle cx="1696.4" cy="314.25" r="3.8" fill="none" stroke="#cfcfcf" stroke-width="1.6" opacity="0.85"/>
<circle cx="1701.6" cy="306.78" r="3.8" fill="none" stroke="#cfcfcf" stroke-width="1.6" opacity="0.85"/>
<circle cx="1692.5" cy="301.8" r="3.8" fill="none" stroke="#cfcfcf" stroke-width="1.6" opacity="0.85"/>
<line x1="1526" y1="289.1" x2="1526" y2="302.8" stroke="#000" stroke-width="2"/>
<line x1="1521.5" y1="289.1" x2="1530.5" y2="289.1" stroke="#000" stroke-width="2"/>
<line x1="1521.5" y1="302.8" x2="1530.5" y2="302.8" stroke="#000" stroke-width="2"/>
<line x1="1548.4" y1="209.05" x2="1548.4" y2="222.74" stroke="#000" stroke-width="2"/>
<line x1="1543.9" y1="209.05" x2="1552.9" y2="209.05" stroke="#000" stroke-width="2"/>
<line x1="1543.9" y1="222.74" x2="1552.9" y2="222.74" stroke="#000" stroke-width="2"/>
<line x1="1571.3" y1="180.41" x2="1571.3" y2="194.11" stroke="#000" stroke-width="2"/>
<line x1="1566.8" y1="180.41" x2="1575.8" y2="180.41" stroke="#000" stroke-width="2"/>
<line x1="1566.8" y1="194.11" x2="1575.8" y2="194.11" stroke="#000" stroke-width="2"/>
<line x1="1593.9" y1="174.81" x2="1593.9" y2="187.26" stroke="#000" stroke-width="2"/>
<line x1="1589.4" y1="174.81" x2="1598.4" y2="174.81" stroke="#000" stroke-width="2"/>
<line x1="1589.4" y1="187.26" x2="1598.4" y2="187.26" stroke="#000" stroke-width="2"/>
<line x1="1627.3" y1="329.19" x2="1627.3" y2="359.07" stroke="#000" stroke-width="2"/>
<line x1="1622.8" y1="329.19" x2="1631.8" y2="329.19" stroke="#000" stroke-width="2"/>
<line x1="1622.8" y1="359.07" x2="1631.8" y2="359.07" stroke="#000" stroke-width="2"/>
<line x1="1649.7" y1="395.18" x2="1649.7" y2="442.49" stroke="#000" stroke-width="2"/>
<line x1="1645.2" y1="395.18" x2="1654.2" y2="395.18" stroke="#000" stroke-width="2"/>
<line x1="1645.2" y1="442.49" x2="1654.2" y2="442.49" stroke="#000" stroke-width="2"/>
<line x1="1672.7" y1="354.09" x2="1672.7" y2="388.95" stroke="#000" stroke-width="2"/>
<line x1="1668.2" y1="354.09" x2="1677.2" y2="354.09" stroke="#000" stroke-width="2"/>
<line x1="1668.2" y1="388.95" x2="1677.2" y2="388.95" stroke="#000" stroke-width="2"/>
<line x1="1695.1" y1="354.71" x2="1695.1" y2="380.86" stroke="#000" stroke-width="2"/>
<line x1="1690.6" y1="354.71" x2="1699.6" y2="354.71" stroke="#000" stroke-width="2"/>
<line x1="1690.6" y1="380.86" x2="1699.6" y2="380.86" stroke="#000" stroke-width="2"/>
<line x1="1507.5" y1="126.5" x2="1507.5" y2="464.9" stroke="#000" stroke-width="2"/>
<line x1="1506.5" y1="463.9" x2="1750" y2="463.9" stroke="#000" stroke-width="2"/>
<line x1="1497" y1="376.5" x2="1750" y2="376.5" stroke="#000" stroke-width="2"/>
<line x1="1497.3" y1="127.5" x2="1507.5" y2="127.5" stroke="#000" stroke-width="2"/>
<text x="1487" y="130.5" font-size="24" text-anchor="end">2</text>
<line x1="1497.3" y1="189.75" x2="1507.5" y2="189.75" stroke="#000" stroke-width="2"/>
<text x="1487" y="194.75" font-size="24" text-anchor="end">1.5</text>
<line x1="1497.3" y1="252" x2="1507.5" y2="252" stroke="#000" stroke-width="2"/>
<text x="1487" y="259.5" font-size="24" text-anchor="end">1</text>
<line x1="1497.3" y1="314.25" x2="1507.5" y2="314.25" stroke="#000" stroke-width="2"/>
<text x="1487" y="322.25" font-size="24" text-anchor="end">0.5</text>
<line x1="1497.3" y1="376.5" x2="1507.5" y2="376.5" stroke="#000" stroke-width="2"/>
<text x="1487" y="384.5" font-size="24" text-anchor="end">0</text>
<line x1="1497.3" y1="438.75" x2="1507.5" y2="438.75" stroke="#000" stroke-width="2"/>
<text x="1487" y="446.75" font-size="24" text-anchor="end">-0.5</text>
<line x1="1526" y1="463.9" x2="1526" y2="476.7" stroke="#000" stroke-width="2"/>
<line x1="1548.4" y1="463.9" x2="1548.4" y2="476.7" stroke="#000" stroke-width="2"/>
<line x1="1571.3" y1="463.9" x2="1571.3" y2="476.7" stroke="#000" stroke-width="2"/>
<line x1="1593.9" y1="463.9" x2="1593.9" y2="476.7" stroke="#000" stroke-width="2"/>
<line x1="1627.3" y1="463.9" x2="1627.3" y2="476.7" stroke="#000" stroke-width="2"/>
<line x1="1649.7" y1="463.9" x2="1649.7" y2="476.7" stroke="#000" stroke-width="2"/>
<line x1="1672.7" y1="463.9" x2="1672.7" y2="476.7" stroke="#000" stroke-width="2"/>
<line x1="1695.1" y1="463.9" x2="1695.1" y2="476.7" stroke="#000" stroke-width="2"/>
<line x1="1728.2" y1="463.9" x2="1728.2" y2="476.7" stroke="#000" stroke-width="2"/>
<rect x="1513.9" y="477.7" width="91.1" height="34.8" fill="none" stroke="#000" stroke-width="2.2"/>
<line x1="1558.7" y1="477.7" x2="1558.7" y2="512.5" stroke="#000" stroke-width="2.2"/>
<line x1="1582.6" y1="477.7" x2="1582.6" y2="512.5" stroke="#000" stroke-width="2.2"/>
<rect x="1612.4" y="477.7" width="92.1" height="34.8" fill="none" stroke="#000" stroke-width="2.2"/>
<line x1="1658.2" y1="477.7" x2="1658.2" y2="512.5" stroke="#000" stroke-width="2.2"/>
<line x1="1682.3" y1="477.7" x2="1682.3" y2="512.5" stroke="#000" stroke-width="2.2"/>
<text x="1537.8" y="504" font-size="23.5" text-anchor="middle">1</text>
<text x="1570.8" y="504" font-size="23.5" text-anchor="middle">2</text>
<text x="1594.3" y="504" font-size="23.5" text-anchor="middle">3</text>
<text x="1637" y="504" font-size="23.5" text-anchor="middle">1</text>
<text x="1670.3" y="504" font-size="23.5" text-anchor="middle">2</text>
<text x="1693.6" y="504" font-size="23.5" text-anchor="middle">3</text>
<text x="1503.2" y="504" font-size="23.5" text-anchor="end">Session</text>
<line x1="1564.4" y1="44.1" x2="1664.6" y2="44.1" stroke="#000" stroke-width="2"/>
<text x="1614.5" y="48" font-size="24" text-anchor="middle">****</text>
<path d="M1530.3 220.7 L1530.3 61.2 L1597.9 61.2 L1597.9 85.3" fill="none" stroke="#000" stroke-width="2"/>
<text x="1566.5" y="64.6" font-size="24" text-anchor="middle">****</text>
<path d="M1530.3 220.7 L1530.3 79.3 L1575.7 79.3 L1575.7 100.2" fill="none" stroke="#000" stroke-width="2"/>
<text x="1554" y="83.2" font-size="24" text-anchor="middle">****</text>
<path d="M1530.3 220.7 L1530.3 98.5 L1553.1 98.5 L1553.1 130.5" fill="none" stroke="#000" stroke-width="2"/>
<text x="1551.6" y="103" font-size="24" text-anchor="middle">****</text>
<path d="M1631.2 262.3 L1631.2 163.1 L1698.1 163.1 L1698.1 286.8" fill="none" stroke="#000" stroke-width="2"/>
<text x="1669.3" y="159.5" font-size="23.5" text-anchor="middle">n.s.</text>
<path d="M1631.2 262.3 L1631.2 185.9 L1675.3 185.9 L1675.3 286.8" fill="none" stroke="#000" stroke-width="2"/>
<text x="1655.6" y="182.3" font-size="23.5" text-anchor="middle">n.s.</text>
<path d="M1631.2 262.3 L1631.2 208.5 L1652.9 208.5 L1652.9 312.5" fill="none" stroke="#000" stroke-width="2"/>
<text x="1643.5" y="214" font-size="24" text-anchor="middle">**</text>
<text x="1412.5" y="311" font-size="24.5" text-anchor="middle" transform="rotate(-90 1412.5 311)">Frequency</text>
<text x="1436.5" y="309.5" font-size="24.5" text-anchor="middle" transform="rotate(-90 1436.5 309.5)">Log (B per min)</text>
<rect x="1406" y="547.5" width="27.3" height="26.8" fill="#dff0fb" stroke="#000" stroke-width="1.8"/>
<text x="1452" y="554.5" font-size="23.5">Reinforce-</text>
<text x="1452" y="582.8" font-size="23.5">ment ON</text>
<rect x="1573.6" y="539.6" width="18.6" height="19.2" fill="#138b51"/>
<text x="1603.5" y="554.5" font-size="23.5">ChR2-YFP</text>
<rect x="1573.6" y="564" width="18.6" height="18.2" fill="#999999"/>
<text x="1603.5" y="579" font-size="23.5">YFP</text>
<text x="27.8" y="389.1" font-size="30" font-weight="bold">d</text>
<rect x="0" y="727.2" width="1.8" height="11.7" fill="#000"/>
<rect x="138.1" y="483" width="171.4" height="308.2" fill="#c9e4f9"/>
<rect x="150.8" y="567.66" width="18" height="179.84" fill="#138b51"/>
<rect x="177.5" y="539.85" width="18" height="207.65" fill="#138b51"/>
<rect x="204.5" y="532.01" width="18" height="215.49" fill="#138b51"/>
<rect x="231.2" y="582.16" width="18" height="165.34" fill="#138b51"/>
<rect x="258.2" y="557.09" width="18" height="190.41" fill="#138b51"/>
<rect x="285.2" y="551.6" width="18" height="195.9" fill="#138b51"/>
<circle cx="153.55" cy="633.88" r="3.6" fill="none" stroke="#9a9a9a" stroke-width="1.6"/>
<circle cx="158.55" cy="629.96" r="3.6" fill="none" stroke="#9a9a9a" stroke-width="1.6"/>
<circle cx="163.55" cy="590.78" r="3.6" fill="none" stroke="#9a9a9a" stroke-width="1.6"/>
<circle cx="154.8" cy="584.25" r="3.6" fill="none" stroke="#9a9a9a" stroke-width="1.6"/>
<circle cx="159.8" cy="577.72" r="3.6" fill="none" stroke="#9a9a9a" stroke-width="1.6"/>
<circle cx="164.8" cy="571.19" r="3.6" fill="none" stroke="#9a9a9a" stroke-width="1.6"/>
<circle cx="156.05" cy="558.13" r="3.6" fill="none" stroke="#9a9a9a" stroke-width="1.6"/>
<circle cx="161.05" cy="551.6" r="3.6" fill="none" stroke="#9a9a9a" stroke-width="1.6"/>
<circle cx="166.05" cy="548.99" r="3.6" fill="none" stroke="#9a9a9a" stroke-width="1.6"/>
<circle cx="157.3" cy="545.07" r="3.6" fill="none" stroke="#9a9a9a" stroke-width="1.6"/>
<circle cx="162.3" cy="541.15" r="3.6" fill="none" stroke="#9a9a9a" stroke-width="1.6"/>
<circle cx="153.55" cy="538.54" r="3.6" fill="none" stroke="#9a9a9a" stroke-width="1.6"/>
<circle cx="158.55" cy="535.93" r="3.6" fill="none" stroke="#9a9a9a" stroke-width="1.6"/>
<circle cx="163.55" cy="541.15" r="3.6" fill="none" stroke="#9a9a9a" stroke-width="1.6"/>
<circle cx="180.25" cy="603.84" r="3.6" fill="none" stroke="#9a9a9a" stroke-width="1.6"/>
<circle cx="185.25" cy="577.72" r="3.6" fill="none" stroke="#9a9a9a" stroke-width="1.6"/>
<circle cx="190.25" cy="575.11" r="3.6" fill="none" stroke="#9a9a9a" stroke-width="1.6"/>
<circle cx="181.5" cy="558.13" r="3.6" fill="none" stroke="#9a9a9a" stroke-width="1.6"/>
<circle cx="186.5" cy="551.6" r="3.6" fill="none" stroke="#9a9a9a" stroke-width="1.6"/>
<circle cx="191.5" cy="545.07" r="3.6" fill="none" stroke="#9a9a9a" stroke-width="1.6"/>
<circle cx="182.75" cy="538.54" r="3.6" fill="none" stroke="#9a9a9a" stroke-width="1.6"/>
<circle cx="187.75" cy="532.01" r="3.6" fill="none" stroke="#9a9a9a" stroke-width="1.6"/>
<circle cx="192.75" cy="525.48" r="3.6" fill="none" stroke="#9a9a9a" stroke-width="1.6"/>
<circle cx="184" cy="522.87" r="3.6" fill="none" stroke="#9a9a9a" stroke-width="1.6"/>
<circle cx="189" cy="518.95" r="3.6" fill="none" stroke="#9a9a9a" stroke-width="1.6"/>
<circle cx="180.25" cy="515.03" r="3.6" fill="none" stroke="#9a9a9a" stroke-width="1.6"/>
<circle cx="185.25" cy="512.42" r="3.6" fill="none" stroke="#9a9a9a" stroke-width="1.6"/>
<circle cx="190.25" cy="517.64" r="3.6" fill="none" stroke="#9a9a9a" stroke-width="1.6"/>
<circle cx="207.25" cy="603.84" r="3.6" fill="none" stroke="#9a9a9a" stroke-width="1.6"/>
<circle cx="212.25" cy="558.13" r="3.6" fill="none" stroke="#9a9a9a" stroke-width="1.6"/>
<circle cx="217.25" cy="551.6" r="3.6" fill="none" stroke="#9a9a9a" stroke-width="1.6"/>
<circle cx="208.5" cy="545.07" r="3.6" fill="none" stroke="#9a9a9a" stroke-width="1.6"/>
<circle cx="213.5" cy="538.54" r="3.6" fill="none" stroke="#9a9a9a" stroke-width="1.6"/>
<circle cx="218.5" cy="532.01" r="3.6" fill="none" stroke="#9a9a9a" stroke-width="1.6"/>
<circle cx="209.75" cy="522.87" r="3.6" fill="none" stroke="#9a9a9a" stroke-width="1.6"/>
<circle cx="214.75" cy="518.95" r="3.6" fill="none" stroke="#9a9a9a" stroke-width="1.6"/>
<circle cx="219.75" cy="515.03" r="3.6" fill="none" stroke="#9a9a9a" stroke-width="1.6"/>
<circle cx="211" cy="512.42" r="3.6" fill="none" stroke="#9a9a9a" stroke-width="1.6"/>
<circle cx="216" cy="509.81" r="3.6" fill="none" stroke="#9a9a9a" stroke-width="1.6"/>
<circle cx="207.25" cy="504.58" r="3.6" fill="none" stroke="#9a9a9a" stroke-width="1.6"/>
<circle cx="212.25" cy="501.97" r="3.6" fill="none" stroke="#9a9a9a" stroke-width="1.6"/>
<circle cx="233.95" cy="632.57" r="3.6" fill="none" stroke="#9a9a9a" stroke-width="1.6"/>
<circle cx="238.95" cy="627.35" r="3.6" fill="none" stroke="#9a9a9a" stroke-width="1.6"/>
<circle cx="243.95" cy="610.37" r="3.6" fill="none" stroke="#9a9a9a" stroke-width="1.6"/>
<circle cx="235.2" cy="601.23" r="3.6" fill="none" stroke="#9a9a9a" stroke-width="1.6"/>
<circle cx="240.2" cy="593.39" r="3.6" fill="none" stroke="#9a9a9a" stroke-width="1.6"/>
<circle cx="245.2" cy="585.56" r="3.6" fill="none" stroke="#9a9a9a" stroke-width="1.6"/>
<circle cx="236.45" cy="580.33" r="3.6" fill="none" stroke="#9a9a9a" stroke-width="1.6"/>
<circle cx="241.45" cy="575.11" r="3.6" fill="none" stroke="#9a9a9a" stroke-width="1.6"/>
<circle cx="246.45" cy="556.82" r="3.6" fill="none" stroke="#9a9a9a" stroke-width="1.6"/>
<circle cx="237.7" cy="535.93" r="3.6" fill="none" stroke="#9a9a9a" stroke-width="1.6"/>
<circle cx="260.95" cy="601.23" r="3.6" fill="none" stroke="#9a9a9a" stroke-width="1.6"/>
<circle cx="265.95" cy="593.39" r="3.6" fill="none" stroke="#9a9a9a" stroke-width="1.6"/>
<circle cx="270.95" cy="584.25" r="3.6" fill="none" stroke="#9a9a9a" stroke-width="1.6"/>
<circle cx="262.2" cy="575.11" r="3.6" fill="none" stroke="#9a9a9a" stroke-width="1.6"/>
<circle cx="267.2" cy="564.66" r="3.6" fill="none" stroke="#9a9a9a" stroke-width="1.6"/>
<circle cx="272.2" cy="556.82" r="3.6" fill="none" stroke="#9a9a9a" stroke-width="1.6"/>
<circle cx="263.45" cy="551.6" r="3.6" fill="none" stroke="#9a9a9a" stroke-width="1.6"/>
<circle cx="268.45" cy="545.07" r="3.6" fill="none" stroke="#9a9a9a" stroke-width="1.6"/>
<circle cx="273.45" cy="538.54" r="3.6" fill="none" stroke="#9a9a9a" stroke-width="1.6"/>
<circle cx="264.7" cy="532.01" r="3.6" fill="none" stroke="#9a9a9a" stroke-width="1.6"/>
<circle cx="269.7" cy="525.48" r="3.6" fill="none" stroke="#9a9a9a" stroke-width="1.6"/>
<circle cx="287.95" cy="590.78" r="3.6" fill="none" stroke="#9a9a9a" stroke-width="1.6"/>
<circle cx="292.95" cy="577.72" r="3.6" fill="none" stroke="#9a9a9a" stroke-width="1.6"/>
<circle cx="297.95" cy="571.19" r="3.6" fill="none" stroke="#9a9a9a" stroke-width="1.6"/>
<circle cx="289.2" cy="558.13" r="3.6" fill="none" stroke="#9a9a9a" stroke-width="1.6"/>
<circle cx="294.2" cy="551.6" r="3.6" fill="none" stroke="#9a9a9a" stroke-width="1.6"/>
<circle cx="299.2" cy="548.99" r="3.6" fill="none" stroke="#9a9a9a" stroke-width="1.6"/>
<circle cx="290.45" cy="545.07" r="3.6" fill="none" stroke="#9a9a9a" stroke-width="1.6"/>
<circle cx="295.45" cy="538.54" r="3.6" fill="none" stroke="#9a9a9a" stroke-width="1.6"/>
<circle cx="300.45" cy="535.93" r="3.6" fill="none" stroke="#9a9a9a" stroke-width="1.6"/>
<circle cx="291.7" cy="530.7" r="3.6" fill="none" stroke="#9a9a9a" stroke-width="1.6"/>
<circle cx="296.7" cy="522.87" r="3.6" fill="none" stroke="#9a9a9a" stroke-width="1.6"/>
<line x1="159.8" y1="560.48" x2="159.8" y2="574.85" stroke="#000" stroke-width="2"/>
<line x1="155.3" y1="560.48" x2="164.3" y2="560.48" stroke="#000" stroke-width="2"/>
<line x1="155.3" y1="574.85" x2="164.3" y2="574.85" stroke="#000" stroke-width="2"/>
<line x1="186.5" y1="533.97" x2="186.5" y2="545.72" stroke="#000" stroke-width="2"/>
<line x1="182" y1="533.97" x2="191" y2="533.97" stroke="#000" stroke-width="2"/>
<line x1="182" y1="545.72" x2="191" y2="545.72" stroke="#000" stroke-width="2"/>
<line x1="213.5" y1="526.13" x2="213.5" y2="537.89" stroke="#000" stroke-width="2"/>
<line x1="209" y1="526.13" x2="218" y2="526.13" stroke="#000" stroke-width="2"/>
<line x1="209" y1="537.89" x2="218" y2="537.89" stroke="#000" stroke-width="2"/>
<line x1="240.2" y1="574.32" x2="240.2" y2="590" stroke="#000" stroke-width="2"/>
<line x1="235.7" y1="574.32" x2="244.7" y2="574.32" stroke="#000" stroke-width="2"/>
<line x1="235.7" y1="590" x2="244.7" y2="590" stroke="#000" stroke-width="2"/>
<line x1="267.2" y1="551.21" x2="267.2" y2="562.96" stroke="#000" stroke-width="2"/>
<line x1="262.7" y1="551.21" x2="271.7" y2="551.21" stroke="#000" stroke-width="2"/>
<line x1="262.7" y1="562.96" x2="271.7" y2="562.96" stroke="#000" stroke-width="2"/>
<line x1="294.2" y1="546.38" x2="294.2" y2="556.82" stroke="#000" stroke-width="2"/>
<line x1="289.7" y1="546.38" x2="298.7" y2="546.38" stroke="#000" stroke-width="2"/>
<line x1="289.7" y1="556.82" x2="298.7" y2="556.82" stroke="#000" stroke-width="2"/>
<line x1="141.5" y1="485.5" x2="141.5" y2="748.5" stroke="#000" stroke-width="2"/>
<line x1="133.6" y1="747.5" x2="339.1" y2="747.5" stroke="#000" stroke-width="2"/>
<line x1="133.6" y1="486.3" x2="141.5" y2="486.3" stroke="#000" stroke-width="2"/>
<text x="127" y="495.3" font-size="24.5" text-anchor="end">2</text>
<line x1="133.6" y1="616.9" x2="141.5" y2="616.9" stroke="#000" stroke-width="2"/>
<text x="127" y="625.9" font-size="24.5" text-anchor="end">1</text>
<line x1="133.6" y1="747.5" x2="141.5" y2="747.5" stroke="#000" stroke-width="2"/>
<text x="127" y="756.5" font-size="24.5" text-anchor="end">0</text>
<line x1="159.8" y1="747.5" x2="159.8" y2="758" stroke="#000" stroke-width="2"/>
<line x1="186.5" y1="747.5" x2="186.5" y2="758" stroke="#000" stroke-width="2"/>
<line x1="213.5" y1="747.5" x2="213.5" y2="758" stroke="#000" stroke-width="2"/>
<line x1="240.2" y1="747.5" x2="240.2" y2="758" stroke="#000" stroke-width="2"/>
<line x1="267.2" y1="747.5" x2="267.2" y2="758" stroke="#000" stroke-width="2"/>
<line x1="294.2" y1="747.5" x2="294.2" y2="758" stroke="#000" stroke-width="2"/>
<text x="157.3" y="781.5" font-size="25" text-anchor="middle">1</text>
<text x="184" y="781.5" font-size="25" text-anchor="middle">2</text>
<text x="211" y="781.5" font-size="25" text-anchor="middle">3</text>
<text x="237.7" y="781.5" font-size="25" text-anchor="middle">1</text>
<text x="264.7" y="781.5" font-size="25" text-anchor="middle">2</text>
<text x="291.7" y="781.5" font-size="25" text-anchor="middle">3</text>
<text x="131" y="780.6" font-size="24.5" text-anchor="end">Session</text>
<rect x="139.7" y="799.1" width="173" height="34.4" fill="#c9e4f9" stroke="#000" stroke-width="2.6"/>
<line x1="226.2" y1="799.1" x2="226.2" y2="833.5" stroke="#000" stroke-width="2.6"/>
<text x="185.2" y="824.3" font-size="24.5" text-anchor="middle">A</text>
<text x="267.7" y="824.3" font-size="24.5" text-anchor="middle">B</text>
<text x="131" y="824.3" font-size="24.5" text-anchor="end">Target</text>
<rect x="154.8" y="849.4" width="17.7" height="17.2" fill="#138b51"/>
<text x="183.9" y="864" font-size="23.5">ChR2-YFP</text>
<path d="M155.6 518.7 L155.6 464.5 L211.6 464.5 L211.6 504.2" fill="none" stroke="#000" stroke-width="2"/>
<text x="183.9" y="466" font-size="22" text-anchor="middle">****</text>
<path d="M155.6 518.7 L155.6 480.4 L183 480.4 L183 509.5" fill="none" stroke="#000" stroke-width="2"/>
<text x="181.8" y="485.5" font-size="22" text-anchor="middle">****</text>
<path d="M237.6 525.3 L237.6 478.5 L293.7 478.5 L293.7 518.2" fill="none" stroke="#000" stroke-width="2"/>
<text x="265.9" y="480" font-size="22" text-anchor="middle">****</text>
<path d="M237.6 525.3 L237.6 494.4 L265.1 494.4 L265.1 524" fill="none" stroke="#000" stroke-width="2"/>
<text x="263.8" y="499.5" font-size="22" text-anchor="middle">****</text>
<text x="67.5" y="609.3" font-size="24.5" text-anchor="middle" transform="rotate(-90 67.5 609.3)">Stimulations</text>
<text x="91.3" y="609.8" font-size="24.5" text-anchor="middle" transform="rotate(-90 91.3 609.8)" xml:space="preserve">Log (Triggers  per min)</text>
<text x="376.8" y="389.1" font-size="30" font-weight="bold">e</text>
<line x1="519.3" y1="417.6" x2="519.3" y2="678.7" stroke="#000" stroke-width="2"/>
<line x1="514" y1="677.7" x2="603.9" y2="677.7" stroke="#000" stroke-width="2"/>
<line x1="514" y1="418.6" x2="519.3" y2="418.6" stroke="#000" stroke-width="2"/>
<text x="508" y="427.1" font-size="24" text-anchor="end">100</text>
<line x1="514" y1="470.42" x2="519.3" y2="470.42" stroke="#000" stroke-width="2"/>
<text x="508" y="478.92" font-size="24" text-anchor="end">80</text>
<line x1="514" y1="522.24" x2="519.3" y2="522.24" stroke="#000" stroke-width="2"/>
<text x="508" y="530.74" font-size="24" text-anchor="end">60</text>
<line x1="514" y1="574.06" x2="519.3" y2="574.06" stroke="#000" stroke-width="2"/>
<text x="508" y="582.56" font-size="24" text-anchor="end">40</text>
<line x1="514" y1="625.88" x2="519.3" y2="625.88" stroke="#000" stroke-width="2"/>
<text x="508" y="634.38" font-size="24" text-anchor="end">20</text>
<line x1="514" y1="677.7" x2="519.3" y2="677.7" stroke="#000" stroke-width="2"/>
<text x="508" y="686.2" font-size="24" text-anchor="end">0</text>
<line x1="561.8" y1="677.7" x2="561.8" y2="688.5" stroke="#000" stroke-width="2"/>
<line x1="561.5" y1="433.8" x2="561.5" y2="517.8" stroke="#000" stroke-width="2"/>
<line x1="550.2" y1="433.8" x2="573" y2="433.8" stroke="#000" stroke-width="2"/>
<line x1="550.2" y1="517.8" x2="573" y2="517.8" stroke="#000" stroke-width="2"/>
<rect x="540.8" y="454" width="41.4" height="33.1" fill="#138b51" stroke="#000" stroke-width="2"/>
<line x1="540.8" y1="468.5" x2="582.2" y2="468.5" stroke="#000" stroke-width="2"/>
<text x="442.4" y="545.7" font-size="24.5" text-anchor="middle" transform="rotate(-90 442.4 545.7)">Percent target detection</text>
<text x="468" y="546.9" font-size="24.5" text-anchor="middle" transform="rotate(-90 468 546.9)">resulting in trigger</text>
<text x="563" y="721.4" font-size="24.5" text-anchor="middle">All reinforcement</text>
<text x="565.9" y="750.5" font-size="24.5" text-anchor="middle">sessions</text>
<rect x="497.6" y="767.7" width="17.9" height="17.9" fill="#138b51"/>
<text x="527.4" y="782.9" font-size="23.5">ChR2-YFP</text>
<text x="32.6" y="999.3" font-size="30" font-weight="bold">f</text>
<text x="235.5" y="1014.7" font-size="24" text-anchor="middle" font-weight="bold">Action B</text>
<rect x="163.3" y="1016.4" width="26.3" height="158.5" fill="#c9e4f9"/>
<rect x="267.9" y="1016.4" width="29.1" height="158.5" fill="#c9e4f9"/>
<line x1="157" y1="1052" x2="309.5" y2="1052" stroke="#f2a65a" stroke-width="1.8" stroke-dasharray="5,4"/>
<path d="M186.8 1052 L212.7 1079.04 L238.6 1097.47 L264.5 1106.08 L290.4 1024.96" fill="none" stroke="#cfcfcf" stroke-width="1.2"/>
<circle cx="212.7" cy="1079.04" r="3" fill="#d0d0d0"/>
<circle cx="238.6" cy="1097.47" r="3" fill="#d0d0d0"/>
<circle cx="264.5" cy="1106.08" r="3" fill="#d0d0d0"/>
<circle cx="290.4" cy="1024.96" r="3" fill="#d0d0d0"/>
<path d="M186.8 1052 L212.7 1109.76 L238.6 1119.6 L264.5 1130.66 L290.4 1029.88" fill="none" stroke="#cfcfcf" stroke-width="1.2"/>
<circle cx="212.7" cy="1109.76" r="3" fill="#d0d0d0"/>
<circle cx="238.6" cy="1119.6" r="3" fill="#d0d0d0"/>
<circle cx="264.5" cy="1130.66" r="3" fill="#d0d0d0"/>
<circle cx="290.4" cy="1029.88" r="3" fill="#d0d0d0"/>
<path d="M186.8 1052 L212.7 1113.45 L238.6 1123.28 L264.5 1134.34 L290.4 1037.25" fill="none" stroke="#cfcfcf" stroke-width="1.2"/>
<circle cx="212.7" cy="1113.45" r="3" fill="#d0d0d0"/>
<circle cx="238.6" cy="1123.28" r="3" fill="#d0d0d0"/>
<circle cx="264.5" cy="1134.34" r="3" fill="#d0d0d0"/>
<circle cx="290.4" cy="1037.25" r="3" fill="#d0d0d0"/>
<path d="M186.8 1052 L212.7 1117.14 L238.6 1125.74 L264.5 1138.03 L290.4 1039.71" fill="none" stroke="#cfcfcf" stroke-width="1.2"/>
<circle cx="212.7" cy="1117.14" r="3" fill="#d0d0d0"/>
<circle cx="238.6" cy="1125.74" r="3" fill="#d0d0d0"/>
<circle cx="264.5" cy="1138.03" r="3" fill="#d0d0d0"/>
<circle cx="290.4" cy="1039.71" r="3" fill="#d0d0d0"/>
<path d="M186.8 1052 L212.7 1120.82 L238.6 1130.66 L264.5 1140.49 L290.4 1044.63" fill="none" stroke="#cfcfcf" stroke-width="1.2"/>
<circle cx="212.7" cy="1120.82" r="3" fill="#d0d0d0"/>
<circle cx="238.6" cy="1130.66" r="3" fill="#d0d0d0"/>
<circle cx="264.5" cy="1140.49" r="3" fill="#d0d0d0"/>
<circle cx="290.4" cy="1044.63" r="3" fill="#d0d0d0"/>
<path d="M186.8 1052 L212.7 1125.74 L238.6 1133.11 L264.5 1144.18 L290.4 1048.31" fill="none" stroke="#cfcfcf" stroke-width="1.2"/>
<circle cx="212.7" cy="1125.74" r="3" fill="#d0d0d0"/>
<circle cx="238.6" cy="1133.11" r="3" fill="#d0d0d0"/>
<circle cx="264.5" cy="1144.18" r="3" fill="#d0d0d0"/>
<circle cx="290.4" cy="1048.31" r="3" fill="#d0d0d0"/>
<path d="M186.8 1052 L212.7 1128.2 L238.6 1136.8 L264.5 1147.86 L290.4 1052" fill="none" stroke="#cfcfcf" stroke-width="1.2"/>
<circle cx="212.7" cy="1128.2" r="3" fill="#d0d0d0"/>
<circle cx="238.6" cy="1136.8" r="3" fill="#d0d0d0"/>
<circle cx="264.5" cy="1147.86" r="3" fill="#d0d0d0"/>
<circle cx="290.4" cy="1052" r="3" fill="#d0d0d0"/>
<path d="M186.8 1052 L212.7 1130.66 L238.6 1140.49 L264.5 1150.32 L290.4 1055.69" fill="none" stroke="#cfcfcf" stroke-width="1.2"/>
<circle cx="212.7" cy="1130.66" r="3" fill="#d0d0d0"/>
<circle cx="238.6" cy="1140.49" r="3" fill="#d0d0d0"/>
<circle cx="264.5" cy="1150.32" r="3" fill="#d0d0d0"/>
<circle cx="290.4" cy="1055.69" r="3" fill="#d0d0d0"/>
<path d="M186.8 1052 L212.7 1134.34 L238.6 1144.18 L264.5 1154.01 L290.4 1060.6" fill="none" stroke="#cfcfcf" stroke-width="1.2"/>
<circle cx="212.7" cy="1134.34" r="3" fill="#d0d0d0"/>
<circle cx="238.6" cy="1144.18" r="3" fill="#d0d0d0"/>
<circle cx="264.5" cy="1154.01" r="3" fill="#d0d0d0"/>
<circle cx="290.4" cy="1060.6" r="3" fill="#d0d0d0"/>
<path d="M186.8 1052 L212.7 1136.8 L238.6 1147.86 L264.5 1156.47 L290.4 1064.29" fill="none" stroke="#cfcfcf" stroke-width="1.2"/>
<circle cx="212.7" cy="1136.8" r="3" fill="#d0d0d0"/>
<circle cx="238.6" cy="1147.86" r="3" fill="#d0d0d0"/>
<circle cx="264.5" cy="1156.47" r="3" fill="#d0d0d0"/>
<circle cx="290.4" cy="1064.29" r="3" fill="#d0d0d0"/>
<path d="M186.8 1052 L212.7 1139.26 L238.6 1152.78 L264.5 1158.92 L290.4 1067.98" fill="none" stroke="#cfcfcf" stroke-width="1.2"/>
<circle cx="212.7" cy="1139.26" r="3" fill="#d0d0d0"/>
<circle cx="238.6" cy="1152.78" r="3" fill="#d0d0d0"/>
<circle cx="264.5" cy="1158.92" r="3" fill="#d0d0d0"/>
<circle cx="290.4" cy="1067.98" r="3" fill="#d0d0d0"/>
<path d="M186.8 1052 L212.7 1141.72 L238.6 1155.24 L264.5 1161.38 L290.4 1071.66" fill="none" stroke="#cfcfcf" stroke-width="1.2"/>
<circle cx="212.7" cy="1141.72" r="3" fill="#d0d0d0"/>
<circle cx="238.6" cy="1155.24" r="3" fill="#d0d0d0"/>
<circle cx="264.5" cy="1161.38" r="3" fill="#d0d0d0"/>
<circle cx="290.4" cy="1071.66" r="3" fill="#d0d0d0"/>
<path d="M186.8 1052 L212.7 1123.28 L238.6 1134.34 L264.5 1144.18 L290.4 1047.08" fill="none" stroke="#000" stroke-width="2.2"/>
<circle cx="186.8" cy="1052" r="3.8" fill="#000"/>
<circle cx="212.7" cy="1123.28" r="3.8" fill="#000"/>
<line x1="212.7" y1="1119.6" x2="212.7" y2="1126.97" stroke="#000" stroke-width="2"/>
<line x1="209.2" y1="1119.6" x2="216.2" y2="1119.6" stroke="#000" stroke-width="2"/>
<line x1="209.2" y1="1126.97" x2="216.2" y2="1126.97" stroke="#000" stroke-width="2"/>
<circle cx="238.6" cy="1134.34" r="3.8" fill="#000"/>
<line x1="238.6" y1="1131.27" x2="238.6" y2="1137.42" stroke="#000" stroke-width="2"/>
<line x1="235.1" y1="1131.27" x2="242.1" y2="1131.27" stroke="#000" stroke-width="2"/>
<line x1="235.1" y1="1137.42" x2="242.1" y2="1137.42" stroke="#000" stroke-width="2"/>
<circle cx="264.5" cy="1144.18" r="3.8" fill="#000"/>
<line x1="264.5" y1="1140.49" x2="264.5" y2="1147.86" stroke="#000" stroke-width="2"/>
<line x1="261" y1="1140.49" x2="268" y2="1140.49" stroke="#000" stroke-width="2"/>
<line x1="261" y1="1147.86" x2="268" y2="1147.86" stroke="#000" stroke-width="2"/>
<circle cx="290.4" cy="1047.08" r="3.8" fill="#000"/>
<line x1="290.4" y1="1043.4" x2="290.4" y2="1050.77" stroke="#000" stroke-width="2"/>
<line x1="286.9" y1="1043.4" x2="293.9" y2="1043.4" stroke="#000" stroke-width="2"/>
<line x1="286.9" y1="1050.77" x2="293.9" y2="1050.77" stroke="#000" stroke-width="2"/>
<line x1="161.9" y1="1016.4" x2="161.9" y2="1175.9" stroke="#000" stroke-width="2"/>
<line x1="160.9" y1="1174.9" x2="303.9" y2="1174.9" stroke="#000" stroke-width="2"/>
<line x1="156.5" y1="1052" x2="161.9" y2="1052" stroke="#000" stroke-width="2"/>
<line x1="156.5" y1="1113.45" x2="161.9" y2="1113.45" stroke="#000" stroke-width="2"/>
<line x1="156.5" y1="1174.9" x2="161.9" y2="1174.9" stroke="#000" stroke-width="2"/>
<line x1="160.9" y1="1174.9" x2="160.9" y2="1179.5" stroke="#000" stroke-width="2"/>
<line x1="225.65" y1="1174.9" x2="225.65" y2="1179.5" stroke="#000" stroke-width="2"/>
<line x1="290.4" y1="1174.9" x2="290.4" y2="1179.5" stroke="#000" stroke-width="2"/>
<text x="151.5" y="1060.5" font-size="24.5" text-anchor="end">1</text>
<text x="151.5" y="1120.5" font-size="24.5" text-anchor="end">0.5</text>
<text x="151.5" y="1182.8" font-size="24.5" text-anchor="end">0</text>
<text x="160.1" y="1203.8" font-size="24.5" text-anchor="middle">0</text>
<text x="224.6" y="1203.8" font-size="24.5" text-anchor="middle">50</text>
<text x="288.8" y="1203.8" font-size="24.5" text-anchor="middle">100</text>
<text x="234.6" y="1234.2" font-size="24.5" text-anchor="middle">Time (min)</text>
<text x="85" y="1117.8" font-size="24.7" text-anchor="middle" transform="rotate(-90 85 1117.8)">Normalized Frequency</text>
<text x="109.5" y="1117.9" font-size="24.7" text-anchor="middle" transform="rotate(-90 109.5 1117.9)">(Action per min)</text>
<text x="362.7" y="861" font-size="30" font-weight="bold">g</text>
<rect x="484" y="1042.42" width="21" height="189.48" fill="#138b51"/>
<rect x="507.7" y="1186.83" width="21" height="45.07" fill="#138b51"/>
<rect x="531.5" y="1037.61" width="21" height="194.29" fill="#138b51"/>
<rect x="558" y="1217.02" width="21" height="14.88" fill="#a8a8a8"/>
<rect x="581.6" y="1226.65" width="21" height="5.25" fill="#a8a8a8"/>
<rect x="606" y="1227.96" width="21" height="3.94" fill="#a8a8a8"/>
<ellipse cx="492.7" cy="925.58" rx="1.7" ry="3.4" fill="#c2c2c2"/>
<ellipse cx="493.9" cy="947.46" rx="1.7" ry="3.4" fill="#c2c2c2"/>
<ellipse cx="495.1" cy="999.97" rx="1.7" ry="3.4" fill="#c2c2c2"/>
<ellipse cx="496.3" cy="1013.1" rx="1.7" ry="3.4" fill="#c2c2c2"/>
<ellipse cx="493.3" cy="1030.6" rx="1.7" ry="3.4" fill="#c2c2c2"/>
<ellipse cx="494.5" cy="1048.11" rx="1.7" ry="3.4" fill="#c2c2c2"/>
<ellipse cx="495.7" cy="1069.99" rx="1.7" ry="3.4" fill="#c2c2c2"/>
<ellipse cx="492.7" cy="1074.36" rx="1.7" ry="3.4" fill="#c2c2c2"/>
<ellipse cx="493.9" cy="1091.87" rx="1.7" ry="3.4" fill="#c2c2c2"/>
<ellipse cx="495.1" cy="1100.62" rx="1.7" ry="3.4" fill="#c2c2c2"/>
<ellipse cx="496.3" cy="1135.63" rx="1.7" ry="3.4" fill="#c2c2c2"/>
<ellipse cx="493.3" cy="1161.88" rx="1.7" ry="3.4" fill="#c2c2c2"/>
<ellipse cx="516.4" cy="1170.64" rx="1.7" ry="3.4" fill="#c2c2c2"/>
<ellipse cx="517.6" cy="1172.82" rx="1.7" ry="3.4" fill="#c2c2c2"/>
<ellipse cx="518.8" cy="1175.01" rx="1.7" ry="3.4" fill="#c2c2c2"/>
<ellipse cx="520" cy="1179.39" rx="1.7" ry="3.4" fill="#c2c2c2"/>
<ellipse cx="517" cy="1183.76" rx="1.7" ry="3.4" fill="#c2c2c2"/>
<ellipse cx="518.2" cy="1188.14" rx="1.7" ry="3.4" fill="#c2c2c2"/>
<ellipse cx="519.4" cy="1192.52" rx="1.7" ry="3.4" fill="#c2c2c2"/>
<ellipse cx="516.4" cy="1201.27" rx="1.7" ry="3.4" fill="#c2c2c2"/>
<ellipse cx="517.6" cy="1210.02" rx="1.7" ry="3.4" fill="#c2c2c2"/>
<ellipse cx="518.8" cy="1218.77" rx="1.7" ry="3.4" fill="#c2c2c2"/>
<ellipse cx="540.2" cy="921.2" rx="1.7" ry="3.4" fill="#c2c2c2"/>
<ellipse cx="541.4" cy="929.96" rx="1.7" ry="3.4" fill="#c2c2c2"/>
<ellipse cx="542.6" cy="969.34" rx="1.7" ry="3.4" fill="#c2c2c2"/>
<ellipse cx="543.8" cy="1004.35" rx="1.7" ry="3.4" fill="#c2c2c2"/>
<ellipse cx="540.8" cy="1017.48" rx="1.7" ry="3.4" fill="#c2c2c2"/>
<ellipse cx="542" cy="1087.49" rx="1.7" ry="3.4" fill="#c2c2c2"/>
<ellipse cx="543.2" cy="1091.87" rx="1.7" ry="3.4" fill="#c2c2c2"/>
<ellipse cx="540.2" cy="1113.75" rx="1.7" ry="3.4" fill="#c2c2c2"/>
<ellipse cx="541.4" cy="1144.38" rx="1.7" ry="3.4" fill="#c2c2c2"/>
<ellipse cx="542.6" cy="1153.13" rx="1.7" ry="3.4" fill="#c2c2c2"/>
<ellipse cx="566.7" cy="1201.27" rx="1.7" ry="3.4" fill="#c2c2c2"/>
<ellipse cx="567.9" cy="1212.21" rx="1.7" ry="3.4" fill="#c2c2c2"/>
<ellipse cx="569.1" cy="1214.4" rx="1.7" ry="3.4" fill="#c2c2c2"/>
<ellipse cx="570.3" cy="1216.58" rx="1.7" ry="3.4" fill="#c2c2c2"/>
<ellipse cx="567.3" cy="1218.77" rx="1.7" ry="3.4" fill="#c2c2c2"/>
<ellipse cx="568.5" cy="1220.96" rx="1.7" ry="3.4" fill="#c2c2c2"/>
<ellipse cx="569.7" cy="1223.15" rx="1.7" ry="3.4" fill="#c2c2c2"/>
<ellipse cx="566.7" cy="1225.34" rx="1.7" ry="3.4" fill="#c2c2c2"/>
<ellipse cx="567.9" cy="1227.52" rx="1.7" ry="3.4" fill="#c2c2c2"/>
<ellipse cx="569.1" cy="1229.71" rx="1.7" ry="3.4" fill="#c2c2c2"/>
<ellipse cx="590.3" cy="1201.27" rx="1.7" ry="3.4" fill="#c2c2c2"/>
<ellipse cx="591.5" cy="1223.15" rx="1.7" ry="3.4" fill="#c2c2c2"/>
<ellipse cx="592.7" cy="1225.34" rx="1.7" ry="3.4" fill="#c2c2c2"/>
<ellipse cx="593.9" cy="1227.52" rx="1.7" ry="3.4" fill="#c2c2c2"/>
<ellipse cx="590.9" cy="1229.71" rx="1.7" ry="3.4" fill="#c2c2c2"/>
<ellipse cx="592.1" cy="1230.59" rx="1.7" ry="3.4" fill="#c2c2c2"/>
<ellipse cx="593.3" cy="1231.02" rx="1.7" ry="3.4" fill="#c2c2c2"/>
<ellipse cx="614.7" cy="1203.46" rx="1.7" ry="3.4" fill="#c2c2c2"/>
<ellipse cx="615.9" cy="1225.34" rx="1.7" ry="3.4" fill="#c2c2c2"/>
<ellipse cx="617.1" cy="1227.52" rx="1.7" ry="3.4" fill="#c2c2c2"/>
<ellipse cx="618.3" cy="1229.71" rx="1.7" ry="3.4" fill="#c2c2c2"/>
<ellipse cx="615.3" cy="1230.59" rx="1.7" ry="3.4" fill="#c2c2c2"/>
<ellipse cx="616.5" cy="1231.02" rx="1.7" ry="3.4" fill="#c2c2c2"/>
<line x1="494.5" y1="1024.92" x2="494.5" y2="1059.92" stroke="#000" stroke-width="2"/>
<line x1="490" y1="1024.92" x2="499" y2="1024.92" stroke="#000" stroke-width="2"/>
<line x1="490" y1="1059.92" x2="499" y2="1059.92" stroke="#000" stroke-width="2"/>
<line x1="518.2" y1="1182.45" x2="518.2" y2="1191.2" stroke="#000" stroke-width="2"/>
<line x1="513.7" y1="1182.45" x2="522.7" y2="1182.45" stroke="#000" stroke-width="2"/>
<line x1="513.7" y1="1191.2" x2="522.7" y2="1191.2" stroke="#000" stroke-width="2"/>
<line x1="542" y1="1018.79" x2="542" y2="1056.42" stroke="#000" stroke-width="2"/>
<line x1="537.5" y1="1018.79" x2="546.5" y2="1018.79" stroke="#000" stroke-width="2"/>
<line x1="537.5" y1="1056.42" x2="546.5" y2="1056.42" stroke="#000" stroke-width="2"/>
<line x1="568.5" y1="1213.52" x2="568.5" y2="1220.52" stroke="#000" stroke-width="2"/>
<line x1="564" y1="1213.52" x2="573" y2="1213.52" stroke="#000" stroke-width="2"/>
<line x1="564" y1="1220.52" x2="573" y2="1220.52" stroke="#000" stroke-width="2"/>
<line x1="592.1" y1="1223.15" x2="592.1" y2="1230.15" stroke="#000" stroke-width="2"/>
<line x1="587.6" y1="1223.15" x2="596.6" y2="1223.15" stroke="#000" stroke-width="2"/>
<line x1="587.6" y1="1230.15" x2="596.6" y2="1230.15" stroke="#000" stroke-width="2"/>
<line x1="616.5" y1="1224.46" x2="616.5" y2="1231.46" stroke="#000" stroke-width="2"/>
<line x1="612" y1="1224.46" x2="621" y2="1224.46" stroke="#000" stroke-width="2"/>
<line x1="612" y1="1231.46" x2="621" y2="1231.46" stroke="#000" stroke-width="2"/>
<line x1="477.3" y1="882" x2="477.3" y2="1232.9" stroke="#000" stroke-width="2"/>
<line x1="474" y1="1231.9" x2="637.4" y2="1231.9" stroke="#000" stroke-width="2"/>
<line x1="473" y1="881.82" x2="477.3" y2="881.82" stroke="#000" stroke-width="2"/>
<text x="467" y="890.32" font-size="23.5" text-anchor="end">80</text>
<line x1="473" y1="969.34" x2="477.3" y2="969.34" stroke="#000" stroke-width="2"/>
<text x="467" y="977.84" font-size="23.5" text-anchor="end">60</text>
<line x1="473" y1="1056.86" x2="477.3" y2="1056.86" stroke="#000" stroke-width="2"/>
<text x="467" y="1065.36" font-size="23.5" text-anchor="end">40</text>
<line x1="473" y1="1144.38" x2="477.3" y2="1144.38" stroke="#000" stroke-width="2"/>
<text x="467" y="1152.88" font-size="23.5" text-anchor="end">20</text>
<line x1="473" y1="1231.9" x2="477.3" y2="1231.9" stroke="#000" stroke-width="2"/>
<text x="467" y="1240.4" font-size="23.5" text-anchor="end">0</text>
<line x1="494.5" y1="1231.9" x2="494.5" y2="1241.7" stroke="#000" stroke-width="2"/>
<line x1="518.2" y1="1231.9" x2="518.2" y2="1241.7" stroke="#000" stroke-width="2"/>
<line x1="542" y1="1231.9" x2="542" y2="1241.7" stroke="#000" stroke-width="2"/>
<line x1="568.5" y1="1231.9" x2="568.5" y2="1241.7" stroke="#000" stroke-width="2"/>
<line x1="592.1" y1="1231.9" x2="592.1" y2="1241.7" stroke="#000" stroke-width="2"/>
<line x1="616.5" y1="1231.9" x2="616.5" y2="1241.7" stroke="#000" stroke-width="2"/>
<text x="495" y="1262.6" font-size="25" text-anchor="middle">M</text>
<text x="518.7" y="1262.6" font-size="25" text-anchor="middle">E</text>
<text x="542.5" y="1262.6" font-size="25" text-anchor="middle">R</text>
<text x="569" y="1262.6" font-size="25" text-anchor="middle">M</text>
<text x="592.6" y="1262.6" font-size="25" text-anchor="middle">E</text>
<text x="617" y="1262.6" font-size="25" text-anchor="middle">R</text>
<text x="413" y="1098.8" font-size="24.5" text-anchor="middle" transform="rotate(-90 413 1098.8)">Frequency (B per min)</text>
<text x="409.9" y="1292.5" font-size="25">M - Maintenance</text>
<text x="409.9" y="1318.3" font-size="25" textLength="283.6" lengthAdjust="spacingAndGlyphs">E - Extinction(last 20 min)</text>
<text x="409.9" y="1345.1" font-size="25">R - Re-acquisition</text>
<line x1="517.3" y1="843.6" x2="592.8" y2="843.6" stroke="#000" stroke-width="2"/>
<text x="556.9" y="845.5" font-size="23.5" text-anchor="middle">****</text>
<path d="M494.6 905.3 L494.6 871.3 L541.9 871.3 L541.9 901.3" fill="none" stroke="#000" stroke-width="2"/>
<text x="520.1" y="865.7" font-size="23" text-anchor="middle">n.s.</text>
<path d="M494.6 905.3 L494.6 893.7 L518.6 893.7 L518.6 903.3" fill="none" stroke="#000" stroke-width="2"/>
<text x="515" y="897.3" font-size="23.5" text-anchor="middle">****</text>
<path d="M518.6 1090.6 L518.6 916.9 L541.6 916.9 L541.6 921" fill="none" stroke="#000" stroke-width="2"/>
<text x="530.9" y="920.6" font-size="23.5" text-anchor="middle">****</text>
<path d="M568.2 1174.4 L568.2 1111.8 L616 1111.8 L616 1138.7" fill="none" stroke="#000" stroke-width="2"/>
<text x="594.9" y="1114.5" font-size="23" text-anchor="middle">***</text>
<path d="M568.2 1174.4 L568.2 1127.7 L592.1 1127.7 L592.1 1185.4" fill="none" stroke="#000" stroke-width="2"/>
<text x="580" y="1132" font-size="23" text-anchor="middle">**</text>
<path d="M592.1 1185.4 L592.1 1158.4 L616 1158.4 L616 1185.4" fill="none" stroke="#000" stroke-width="2"/>
<text x="607.2" y="1153" font-size="21.5" text-anchor="middle">n.s.</text>
<text x="728.8" y="603.4" font-size="30" font-weight="bold">h</text>
<rect x="881.9" y="823.1" width="5.6" height="53" fill="#999999"/>
<line x1="884.7" y1="817.8" x2="884.7" y2="828.4" stroke="#000" stroke-width="1.5"/>
<line x1="882.2" y1="817.8" x2="887.2" y2="817.8" stroke="#000" stroke-width="1.5"/>
<line x1="882.2" y1="828.4" x2="887.2" y2="828.4" stroke="#000" stroke-width="1.5"/>
<rect x="891.35" y="706.5" width="5.6" height="169.6" fill="#999999"/>
<line x1="894.15" y1="701.5" x2="894.15" y2="733" stroke="#000" stroke-width="1.5"/>
<line x1="891.65" y1="733" x2="896.65" y2="733" stroke="#000" stroke-width="1.5"/>
<rect x="900.8" y="701.2" width="5.6" height="174.9" fill="#999999"/>
<rect x="900.8" y="665.53" width="5.6" height="14.17" fill="#999999"/>
<line x1="903.6" y1="662.48" x2="903.6" y2="668.58" stroke="#000" stroke-width="1.5"/>
<line x1="901.1" y1="662.48" x2="906.1" y2="662.48" stroke="#000" stroke-width="1.5"/>
<line x1="901.1" y1="668.58" x2="906.1" y2="668.58" stroke="#000" stroke-width="1.5"/>
<rect x="910.25" y="701.2" width="5.6" height="174.9" fill="#999999"/>
<rect x="910.25" y="662.94" width="5.6" height="16.76" fill="#999999"/>
<line x1="913.05" y1="659.89" x2="913.05" y2="665.98" stroke="#000" stroke-width="1.5"/>
<line x1="910.55" y1="659.89" x2="915.55" y2="659.89" stroke="#000" stroke-width="1.5"/>
<line x1="910.55" y1="665.98" x2="915.55" y2="665.98" stroke="#000" stroke-width="1.5"/>
<rect x="926.65" y="800.84" width="5.6" height="75.26" fill="#f245f2"/>
<line x1="929.45" y1="794.48" x2="929.45" y2="807.2" stroke="#000" stroke-width="1.5"/>
<line x1="926.95" y1="794.48" x2="931.95" y2="794.48" stroke="#000" stroke-width="1.5"/>
<line x1="926.95" y1="807.2" x2="931.95" y2="807.2" stroke="#000" stroke-width="1.5"/>
<rect x="936.1" y="760.56" width="5.6" height="115.54" fill="#f245f2"/>
<line x1="938.9" y1="749.96" x2="938.9" y2="771.16" stroke="#000" stroke-width="1.5"/>
<line x1="936.4" y1="749.96" x2="941.4" y2="749.96" stroke="#000" stroke-width="1.5"/>
<line x1="936.4" y1="771.16" x2="941.4" y2="771.16" stroke="#000" stroke-width="1.5"/>
<rect x="945.55" y="723.46" width="5.6" height="152.64" fill="#f245f2"/>
<line x1="948.35" y1="710.74" x2="948.35" y2="736.18" stroke="#000" stroke-width="1.5"/>
<line x1="945.85" y1="710.74" x2="950.85" y2="710.74" stroke="#000" stroke-width="1.5"/>
<line x1="945.85" y1="736.18" x2="950.85" y2="736.18" stroke="#000" stroke-width="1.5"/>
<rect x="955" y="714.98" width="5.6" height="161.12" fill="#f245f2"/>
<line x1="957.8" y1="701.5" x2="957.8" y2="729.82" stroke="#000" stroke-width="1.5"/>
<line x1="955.3" y1="729.82" x2="960.3" y2="729.82" stroke="#000" stroke-width="1.5"/>
<rect x="971.4" y="792.36" width="5.6" height="83.74" fill="#8c44ea"/>
<line x1="974.2" y1="786" x2="974.2" y2="798.72" stroke="#000" stroke-width="1.5"/>
<line x1="971.7" y1="786" x2="976.7" y2="786" stroke="#000" stroke-width="1.5"/>
<line x1="971.7" y1="798.72" x2="976.7" y2="798.72" stroke="#000" stroke-width="1.5"/>
<rect x="980.85" y="786" width="5.6" height="90.1" fill="#8c44ea"/>
<line x1="983.65" y1="778.58" x2="983.65" y2="793.42" stroke="#000" stroke-width="1.5"/>
<line x1="981.15" y1="778.58" x2="986.15" y2="778.58" stroke="#000" stroke-width="1.5"/>
<line x1="981.15" y1="793.42" x2="986.15" y2="793.42" stroke="#000" stroke-width="1.5"/>
<rect x="990.3" y="771.16" width="5.6" height="104.94" fill="#8c44ea"/>
<line x1="993.1" y1="757.38" x2="993.1" y2="784.94" stroke="#000" stroke-width="1.5"/>
<line x1="990.6" y1="757.38" x2="995.6" y2="757.38" stroke="#000" stroke-width="1.5"/>
<line x1="990.6" y1="784.94" x2="995.6" y2="784.94" stroke="#000" stroke-width="1.5"/>
<rect x="999.75" y="770.1" width="5.6" height="106" fill="#8c44ea"/>
<line x1="1002.55" y1="751.02" x2="1002.55" y2="789.18" stroke="#000" stroke-width="1.5"/>
<line x1="1000.05" y1="751.02" x2="1005.05" y2="751.02" stroke="#000" stroke-width="1.5"/>
<line x1="1000.05" y1="789.18" x2="1005.05" y2="789.18" stroke="#000" stroke-width="1.5"/>
<rect x="1016.15" y="802.96" width="5.6" height="73.14" fill="#1b6ced"/>
<line x1="1018.95" y1="796.6" x2="1018.95" y2="809.32" stroke="#000" stroke-width="1.5"/>
<line x1="1016.45" y1="796.6" x2="1021.45" y2="796.6" stroke="#000" stroke-width="1.5"/>
<line x1="1016.45" y1="809.32" x2="1021.45" y2="809.32" stroke="#000" stroke-width="1.5"/>
<rect x="1025.6" y="809.32" width="5.6" height="66.78" fill="#1b6ced"/>
<line x1="1028.4" y1="802.96" x2="1028.4" y2="815.68" stroke="#000" stroke-width="1.5"/>
<line x1="1025.9" y1="802.96" x2="1030.9" y2="802.96" stroke="#000" stroke-width="1.5"/>
<line x1="1025.9" y1="815.68" x2="1030.9" y2="815.68" stroke="#000" stroke-width="1.5"/>
<rect x="1035.05" y="816.74" width="5.6" height="59.36" fill="#1b6ced"/>
<line x1="1037.85" y1="806.14" x2="1037.85" y2="827.34" stroke="#000" stroke-width="1.5"/>
<line x1="1035.35" y1="806.14" x2="1040.35" y2="806.14" stroke="#000" stroke-width="1.5"/>
<line x1="1035.35" y1="827.34" x2="1040.35" y2="827.34" stroke="#000" stroke-width="1.5"/>
<rect x="1044.5" y="816.74" width="5.6" height="59.36" fill="#1b6ced"/>
<line x1="1047.3" y1="805.08" x2="1047.3" y2="828.4" stroke="#000" stroke-width="1.5"/>
<line x1="1044.8" y1="805.08" x2="1049.8" y2="805.08" stroke="#000" stroke-width="1.5"/>
<line x1="1044.8" y1="828.4" x2="1049.8" y2="828.4" stroke="#000" stroke-width="1.5"/>
<rect x="1060.9" y="804.02" width="5.6" height="72.08" fill="#2ac6ef"/>
<line x1="1063.7" y1="795.54" x2="1063.7" y2="812.5" stroke="#000" stroke-width="1.5"/>
<line x1="1061.2" y1="795.54" x2="1066.2" y2="795.54" stroke="#000" stroke-width="1.5"/>
<line x1="1061.2" y1="812.5" x2="1066.2" y2="812.5" stroke="#000" stroke-width="1.5"/>
<rect x="1070.35" y="804.02" width="5.6" height="72.08" fill="#2ac6ef"/>
<line x1="1073.15" y1="794.48" x2="1073.15" y2="813.56" stroke="#000" stroke-width="1.5"/>
<line x1="1070.65" y1="794.48" x2="1075.65" y2="794.48" stroke="#000" stroke-width="1.5"/>
<line x1="1070.65" y1="813.56" x2="1075.65" y2="813.56" stroke="#000" stroke-width="1.5"/>
<rect x="1079.8" y="814.62" width="5.6" height="61.48" fill="#2ac6ef"/>
<line x1="1082.6" y1="805.08" x2="1082.6" y2="824.16" stroke="#000" stroke-width="1.5"/>
<line x1="1080.1" y1="805.08" x2="1085.1" y2="805.08" stroke="#000" stroke-width="1.5"/>
<line x1="1080.1" y1="824.16" x2="1085.1" y2="824.16" stroke="#000" stroke-width="1.5"/>
<rect x="1089.25" y="818.86" width="5.6" height="57.24" fill="#2ac6ef"/>
<line x1="1092.05" y1="807.2" x2="1092.05" y2="830.52" stroke="#000" stroke-width="1.5"/>
<line x1="1089.55" y1="807.2" x2="1094.55" y2="807.2" stroke="#000" stroke-width="1.5"/>
<line x1="1089.55" y1="830.52" x2="1094.55" y2="830.52" stroke="#000" stroke-width="1.5"/>
<rect x="1105.65" y="793.42" width="5.6" height="82.68" fill="#1ec836"/>
<line x1="1108.45" y1="784.94" x2="1108.45" y2="801.9" stroke="#000" stroke-width="1.5"/>
<line x1="1105.95" y1="784.94" x2="1110.95" y2="784.94" stroke="#000" stroke-width="1.5"/>
<line x1="1105.95" y1="801.9" x2="1110.95" y2="801.9" stroke="#000" stroke-width="1.5"/>
<rect x="1115.1" y="796.6" width="5.6" height="79.5" fill="#1ec836"/>
<line x1="1117.9" y1="787.06" x2="1117.9" y2="806.14" stroke="#000" stroke-width="1.5"/>
<line x1="1115.4" y1="787.06" x2="1120.4" y2="787.06" stroke="#000" stroke-width="1.5"/>
<line x1="1115.4" y1="806.14" x2="1120.4" y2="806.14" stroke="#000" stroke-width="1.5"/>
<rect x="1124.55" y="825.22" width="5.6" height="50.88" fill="#1ec836"/>
<line x1="1127.35" y1="816.74" x2="1127.35" y2="833.7" stroke="#000" stroke-width="1.5"/>
<line x1="1124.85" y1="816.74" x2="1129.85" y2="816.74" stroke="#000" stroke-width="1.5"/>
<line x1="1124.85" y1="833.7" x2="1129.85" y2="833.7" stroke="#000" stroke-width="1.5"/>
<rect x="1134" y="829.46" width="5.6" height="46.64" fill="#1ec836"/>
<line x1="1136.8" y1="820.98" x2="1136.8" y2="837.94" stroke="#000" stroke-width="1.5"/>
<line x1="1134.3" y1="820.98" x2="1139.3" y2="820.98" stroke="#000" stroke-width="1.5"/>
<line x1="1134.3" y1="837.94" x2="1139.3" y2="837.94" stroke="#000" stroke-width="1.5"/>
<rect x="1150.4" y="806.14" width="5.6" height="69.96" fill="#8ed12a"/>
<line x1="1153.2" y1="799.78" x2="1153.2" y2="812.5" stroke="#000" stroke-width="1.5"/>
<line x1="1150.7" y1="799.78" x2="1155.7" y2="799.78" stroke="#000" stroke-width="1.5"/>
<line x1="1150.7" y1="812.5" x2="1155.7" y2="812.5" stroke="#000" stroke-width="1.5"/>
<rect x="1159.85" y="815.68" width="5.6" height="60.42" fill="#8ed12a"/>
<line x1="1162.65" y1="802.96" x2="1162.65" y2="828.4" stroke="#000" stroke-width="1.5"/>
<line x1="1160.15" y1="802.96" x2="1165.15" y2="802.96" stroke="#000" stroke-width="1.5"/>
<line x1="1160.15" y1="828.4" x2="1165.15" y2="828.4" stroke="#000" stroke-width="1.5"/>
<rect x="1169.3" y="834.76" width="5.6" height="41.34" fill="#8ed12a"/>
<line x1="1172.1" y1="827.34" x2="1172.1" y2="842.18" stroke="#000" stroke-width="1.5"/>
<line x1="1169.6" y1="827.34" x2="1174.6" y2="827.34" stroke="#000" stroke-width="1.5"/>
<line x1="1169.6" y1="842.18" x2="1174.6" y2="842.18" stroke="#000" stroke-width="1.5"/>
<rect x="1178.75" y="839" width="5.6" height="37.1" fill="#8ed12a"/>
<line x1="1181.55" y1="831.58" x2="1181.55" y2="846.42" stroke="#000" stroke-width="1.5"/>
<line x1="1179.05" y1="831.58" x2="1184.05" y2="831.58" stroke="#000" stroke-width="1.5"/>
<line x1="1179.05" y1="846.42" x2="1184.05" y2="846.42" stroke="#000" stroke-width="1.5"/>
<rect x="1195.15" y="820.98" width="5.6" height="55.12" fill="#d4d42a"/>
<line x1="1197.95" y1="814.62" x2="1197.95" y2="827.34" stroke="#000" stroke-width="1.5"/>
<line x1="1195.45" y1="814.62" x2="1200.45" y2="814.62" stroke="#000" stroke-width="1.5"/>
<line x1="1195.45" y1="827.34" x2="1200.45" y2="827.34" stroke="#000" stroke-width="1.5"/>
<rect x="1204.6" y="837.94" width="5.6" height="38.16" fill="#d4d42a"/>
<line x1="1207.4" y1="831.58" x2="1207.4" y2="844.3" stroke="#000" stroke-width="1.5"/>
<line x1="1204.9" y1="831.58" x2="1209.9" y2="831.58" stroke="#000" stroke-width="1.5"/>
<line x1="1204.9" y1="844.3" x2="1209.9" y2="844.3" stroke="#000" stroke-width="1.5"/>
<rect x="1214.05" y="850.66" width="5.6" height="25.44" fill="#d4d42a"/>
<line x1="1216.85" y1="846.42" x2="1216.85" y2="854.9" stroke="#000" stroke-width="1.5"/>
<line x1="1214.35" y1="846.42" x2="1219.35" y2="846.42" stroke="#000" stroke-width="1.5"/>
<line x1="1214.35" y1="854.9" x2="1219.35" y2="854.9" stroke="#000" stroke-width="1.5"/>
<rect x="1223.5" y="850.66" width="5.6" height="25.44" fill="#d4d42a"/>
<line x1="1226.3" y1="845.36" x2="1226.3" y2="855.96" stroke="#000" stroke-width="1.5"/>
<line x1="1223.8" y1="845.36" x2="1228.8" y2="845.36" stroke="#000" stroke-width="1.5"/>
<line x1="1223.8" y1="855.96" x2="1228.8" y2="855.96" stroke="#000" stroke-width="1.5"/>
<rect x="1239.9" y="812.5" width="5.6" height="63.6" fill="#f6921c"/>
<line x1="1242.7" y1="802.96" x2="1242.7" y2="822.04" stroke="#000" stroke-width="1.5"/>
<line x1="1240.2" y1="802.96" x2="1245.2" y2="802.96" stroke="#000" stroke-width="1.5"/>
<line x1="1240.2" y1="822.04" x2="1245.2" y2="822.04" stroke="#000" stroke-width="1.5"/>
<rect x="1249.35" y="832.64" width="5.6" height="43.46" fill="#f6921c"/>
<line x1="1252.15" y1="825.22" x2="1252.15" y2="840.06" stroke="#000" stroke-width="1.5"/>
<line x1="1249.65" y1="825.22" x2="1254.65" y2="825.22" stroke="#000" stroke-width="1.5"/>
<line x1="1249.65" y1="840.06" x2="1254.65" y2="840.06" stroke="#000" stroke-width="1.5"/>
<rect x="1258.8" y="853.84" width="5.6" height="22.26" fill="#f6921c"/>
<line x1="1261.6" y1="849.6" x2="1261.6" y2="858.08" stroke="#000" stroke-width="1.5"/>
<line x1="1259.1" y1="849.6" x2="1264.1" y2="849.6" stroke="#000" stroke-width="1.5"/>
<line x1="1259.1" y1="858.08" x2="1264.1" y2="858.08" stroke="#000" stroke-width="1.5"/>
<rect x="1268.25" y="855.96" width="5.6" height="20.14" fill="#f6921c"/>
<line x1="1271.05" y1="851.72" x2="1271.05" y2="860.2" stroke="#000" stroke-width="1.5"/>
<line x1="1268.55" y1="851.72" x2="1273.55" y2="851.72" stroke="#000" stroke-width="1.5"/>
<line x1="1268.55" y1="860.2" x2="1273.55" y2="860.2" stroke="#000" stroke-width="1.5"/>
<rect x="1284.65" y="825.22" width="5.6" height="50.88" fill="#f23c16"/>
<line x1="1287.45" y1="815.68" x2="1287.45" y2="834.76" stroke="#000" stroke-width="1.5"/>
<line x1="1284.95" y1="815.68" x2="1289.95" y2="815.68" stroke="#000" stroke-width="1.5"/>
<line x1="1284.95" y1="834.76" x2="1289.95" y2="834.76" stroke="#000" stroke-width="1.5"/>
<rect x="1294.1" y="846.42" width="5.6" height="29.68" fill="#f23c16"/>
<line x1="1296.9" y1="840.06" x2="1296.9" y2="852.78" stroke="#000" stroke-width="1.5"/>
<line x1="1294.4" y1="840.06" x2="1299.4" y2="840.06" stroke="#000" stroke-width="1.5"/>
<line x1="1294.4" y1="852.78" x2="1299.4" y2="852.78" stroke="#000" stroke-width="1.5"/>
<rect x="1303.55" y="860.2" width="5.6" height="15.9" fill="#f23c16"/>
<line x1="1306.35" y1="857.02" x2="1306.35" y2="863.38" stroke="#000" stroke-width="1.5"/>
<line x1="1303.85" y1="857.02" x2="1308.85" y2="857.02" stroke="#000" stroke-width="1.5"/>
<line x1="1303.85" y1="863.38" x2="1308.85" y2="863.38" stroke="#000" stroke-width="1.5"/>
<rect x="1313" y="863.38" width="5.6" height="12.72" fill="#f23c16"/>
<line x1="1315.8" y1="859.14" x2="1315.8" y2="867.62" stroke="#000" stroke-width="1.5"/>
<line x1="1313.3" y1="859.14" x2="1318.3" y2="859.14" stroke="#000" stroke-width="1.5"/>
<line x1="1313.3" y1="867.62" x2="1318.3" y2="867.62" stroke="#000" stroke-width="1.5"/>
<rect x="1329.4" y="849.6" width="5.6" height="26.5" fill="#d42a14"/>
<line x1="1332.2" y1="842.18" x2="1332.2" y2="857.02" stroke="#000" stroke-width="1.5"/>
<line x1="1329.7" y1="842.18" x2="1334.7" y2="842.18" stroke="#000" stroke-width="1.5"/>
<line x1="1329.7" y1="857.02" x2="1334.7" y2="857.02" stroke="#000" stroke-width="1.5"/>
<rect x="1338.85" y="857.02" width="5.6" height="19.08" fill="#d42a14"/>
<line x1="1341.65" y1="849.6" x2="1341.65" y2="864.44" stroke="#000" stroke-width="1.5"/>
<line x1="1339.15" y1="849.6" x2="1344.15" y2="849.6" stroke="#000" stroke-width="1.5"/>
<line x1="1339.15" y1="864.44" x2="1344.15" y2="864.44" stroke="#000" stroke-width="1.5"/>
<rect x="1348.3" y="867.62" width="5.6" height="8.48" fill="#d42a14"/>
<line x1="1351.1" y1="864.44" x2="1351.1" y2="870.8" stroke="#000" stroke-width="1.5"/>
<line x1="1348.6" y1="864.44" x2="1353.6" y2="864.44" stroke="#000" stroke-width="1.5"/>
<line x1="1348.6" y1="870.8" x2="1353.6" y2="870.8" stroke="#000" stroke-width="1.5"/>
<rect x="1357.75" y="868.68" width="5.6" height="7.42" fill="#d42a14"/>
<line x1="1360.55" y1="865.5" x2="1360.55" y2="871.86" stroke="#000" stroke-width="1.5"/>
<line x1="1358.05" y1="865.5" x2="1363.05" y2="865.5" stroke="#000" stroke-width="1.5"/>
<line x1="1358.05" y1="871.86" x2="1363.05" y2="871.86" stroke="#000" stroke-width="1.5"/>
<rect x="892" y="677.8" width="4" height="2" fill="#333"/>
<rect x="955.6" y="678.7" width="4" height="2" fill="#333"/>
<line x1="875.9" y1="636.8" x2="875.9" y2="681.3" stroke="#000" stroke-width="2"/>
<line x1="875.9" y1="701.9" x2="875.9" y2="877.1" stroke="#000" stroke-width="2"/>
<line x1="875.9" y1="876.1" x2="1365.6" y2="876.1" stroke="#000" stroke-width="2"/>
<line x1="856.5" y1="636.8" x2="875.9" y2="636.8" stroke="#000" stroke-width="2"/>
<line x1="856.5" y1="674.9" x2="875.9" y2="674.9" stroke="#000" stroke-width="2"/>
<line x1="868.2" y1="681.3" x2="883.7" y2="681.3" stroke="#000" stroke-width="2"/>
<line x1="868.2" y1="701.9" x2="883.7" y2="701.9" stroke="#000" stroke-width="2"/>
<line x1="862.9" y1="717.1" x2="875.9" y2="717.1" stroke="#000" stroke-width="2"/>
<text x="858.1" y="725.6" font-size="24" text-anchor="end">15</text>
<line x1="862.9" y1="770.1" x2="875.9" y2="770.1" stroke="#000" stroke-width="2"/>
<text x="858.1" y="778.6" font-size="24" text-anchor="end">10</text>
<line x1="862.9" y1="823.1" x2="875.9" y2="823.1" stroke="#000" stroke-width="2"/>
<text x="858.1" y="831.6" font-size="24" text-anchor="end">5</text>
<line x1="862.9" y1="876.1" x2="875.9" y2="876.1" stroke="#000" stroke-width="2"/>
<text x="858.1" y="884.6" font-size="24" text-anchor="end">0</text>
<text x="850.1" y="646.1" font-size="24" text-anchor="end">75</text>
<text x="850.1" y="682.9" font-size="24" text-anchor="end">25</text>
<text x="808" y="756.5" font-size="25" text-anchor="middle" transform="rotate(-90 808 756.5)">Frequency (Action/min)</text>
<line x1="881.1" y1="890.9" x2="907.55" y2="890.9" stroke="#000" stroke-width="2.2"/>
<path d="M915.55 890.9 L906.55 886.1 L906.55 895.7 Z" fill="#000"/>
<line x1="925.85" y1="890.9" x2="952.3" y2="890.9" stroke="#000" stroke-width="2.2"/>
<path d="M960.3 890.9 L951.3 886.1 L951.3 895.7 Z" fill="#000"/>
<line x1="970.6" y1="890.9" x2="997.05" y2="890.9" stroke="#000" stroke-width="2.2"/>
<path d="M1005.05 890.9 L996.05 886.1 L996.05 895.7 Z" fill="#000"/>
<line x1="1015.35" y1="890.9" x2="1041.8" y2="890.9" stroke="#000" stroke-width="2.2"/>
<path d="M1049.8 890.9 L1040.8 886.1 L1040.8 895.7 Z" fill="#000"/>
<line x1="1060.1" y1="890.9" x2="1086.55" y2="890.9" stroke="#000" stroke-width="2.2"/>
<path d="M1094.55 890.9 L1085.55 886.1 L1085.55 895.7 Z" fill="#000"/>
<line x1="1104.85" y1="890.9" x2="1131.3" y2="890.9" stroke="#000" stroke-width="2.2"/>
<path d="M1139.3 890.9 L1130.3 886.1 L1130.3 895.7 Z" fill="#000"/>
<line x1="1149.6" y1="890.9" x2="1176.05" y2="890.9" stroke="#000" stroke-width="2.2"/>
<path d="M1184.05 890.9 L1175.05 886.1 L1175.05 895.7 Z" fill="#000"/>
<line x1="1194.35" y1="890.9" x2="1220.8" y2="890.9" stroke="#000" stroke-width="2.2"/>
<path d="M1228.8 890.9 L1219.8 886.1 L1219.8 895.7 Z" fill="#000"/>
<line x1="1239.1" y1="890.9" x2="1265.55" y2="890.9" stroke="#000" stroke-width="2.2"/>
<path d="M1273.55 890.9 L1264.55 886.1 L1264.55 895.7 Z" fill="#000"/>
<line x1="1283.85" y1="890.9" x2="1310.3" y2="890.9" stroke="#000" stroke-width="2.2"/>
<path d="M1318.3 890.9 L1309.3 886.1 L1309.3 895.7 Z" fill="#000"/>
<line x1="1328.6" y1="890.9" x2="1355.05" y2="890.9" stroke="#000" stroke-width="2.2"/>
<path d="M1363.05 890.9 L1354.05 886.1 L1354.05 895.7 Z" fill="#000"/>
<rect x="1019.8" y="712.5" width="21.1" height="18.6" fill="#999999"/>
<text x="1047.2" y="730.1" font-size="22.5" textLength="60.7" lengthAdjust="spacingAndGlyphs">Target</text>
<rect x="1121.1" y="712.5" width="22.4" height="18.6" fill="#f245f2"/>
<rect x="1143.27" y="712.5" width="22.4" height="18.6" fill="#8c44ea"/>
<rect x="1165.44" y="712.5" width="22.4" height="18.6" fill="#1b6ced"/>
<rect x="1187.61" y="712.5" width="22.4" height="18.6" fill="#2ac6ef"/>
<rect x="1209.78" y="712.5" width="22.4" height="18.6" fill="#1ec836"/>
<rect x="1231.95" y="712.5" width="22.4" height="18.6" fill="#8ed12a"/>
<rect x="1254.12" y="712.5" width="22.4" height="18.6" fill="#d4d42a"/>
<rect x="1276.29" y="712.5" width="22.4" height="18.6" fill="#f6921c"/>
<rect x="1298.46" y="712.5" width="22.4" height="18.6" fill="#f23c16"/>
<rect x="1320.63" y="712.5" width="22.4" height="18.6" fill="#d42a14"/>
<text x="1229.3" y="707.2" font-size="24.6" text-anchor="middle">Percentile</text>
<text x="1120.4" y="753.7" font-size="24" text-anchor="middle">1</text>
<text x="1165" y="753.7" font-size="24" text-anchor="middle">20</text>
<text x="1209" y="753.7" font-size="24" text-anchor="middle">40</text>
<text x="1253.8" y="753.7" font-size="24" text-anchor="middle">60</text>
<text x="1298.1" y="753.7" font-size="24" text-anchor="middle">80</text>
<text x="1340" y="753.7" font-size="24" text-anchor="middle">100</text>
<path d="M1123.9 633.3 L1123.9 684.4 L1341 684.4 Z" fill="none" stroke="#000" stroke-width="2.2"/>
<text x="1128.2" y="676.3" font-size="24.7">Similarity</text>
<text x="794.1" y="933.62" font-size="24">B vs E</text>
<text x="897.27" y="936.22" font-size="24" text-anchor="middle" fill="#1f9a68">**</text>
<text x="942.22" y="936.22" font-size="24" text-anchor="middle" fill="#1f9a68">***</text>
<text x="987.17" y="933.22" font-size="24" text-anchor="middle">n.s.</text>
<text x="1032.12" y="933.22" font-size="24" text-anchor="middle">n.s.</text>
<text x="1077.08" y="933.22" font-size="24" text-anchor="middle">n.s.</text>
<text x="1122.03" y="933.22" font-size="24" text-anchor="middle">n.s.</text>
<text x="1166.97" y="933.22" font-size="24" text-anchor="middle">n.s.</text>
<text x="1211.92" y="936.22" font-size="24" text-anchor="middle" fill="#e64ae6">*</text>
<text x="1256.88" y="936.22" font-size="24" text-anchor="middle" fill="#e64ae6">*</text>
<text x="1301.83" y="936.22" font-size="24" text-anchor="middle" fill="#e64ae6">**</text>
<text x="1346.78" y="933.22" font-size="24" text-anchor="middle">n.s.</text>
<text x="794.1" y="967.45" font-size="24">B vs M</text>
<text x="897.27" y="970.05" font-size="24" text-anchor="middle" fill="#1f9a68">****</text>
<text x="942.22" y="970.05" font-size="24" text-anchor="middle" fill="#1f9a68">****</text>
<text x="987.17" y="967.05" font-size="24" text-anchor="middle">n.s.</text>
<text x="1032.12" y="967.05" font-size="24" text-anchor="middle">n.s.</text>
<text x="1077.08" y="967.05" font-size="24" text-anchor="middle">n.s.</text>
<text x="1122.03" y="970.05" font-size="24" text-anchor="middle" fill="#e64ae6">*</text>
<text x="1166.97" y="970.05" font-size="24" text-anchor="middle" fill="#e64ae6">**</text>
<text x="1211.92" y="970.05" font-size="24" text-anchor="middle" fill="#e64ae6">***</text>
<text x="1256.88" y="970.05" font-size="24" text-anchor="middle" fill="#e64ae6">***</text>
<text x="1301.83" y="970.05" font-size="24" text-anchor="middle" fill="#e64ae6">**</text>
<text x="1346.78" y="967.05" font-size="24" text-anchor="middle">n.s.</text>
<text x="794.1" y="1001.28" font-size="24">B vs L</text>
<text x="897.27" y="1003.88" font-size="24" text-anchor="middle" fill="#1f9a68">****</text>
<text x="942.22" y="1003.88" font-size="24" text-anchor="middle" fill="#1f9a68">***</text>
<text x="987.17" y="1000.88" font-size="24" text-anchor="middle">n.s.</text>
<text x="1032.12" y="1000.88" font-size="24" text-anchor="middle">n.s.</text>
<text x="1077.08" y="1000.88" font-size="24" text-anchor="middle">n.s.</text>
<text x="1122.03" y="1003.88" font-size="24" text-anchor="middle" fill="#e64ae6">*</text>
<text x="1166.97" y="1003.88" font-size="24" text-anchor="middle" fill="#e64ae6">***</text>
<text x="1211.92" y="1003.88" font-size="24" text-anchor="middle" fill="#e64ae6">**</text>
<text x="1256.88" y="1003.88" font-size="24" text-anchor="middle" fill="#e64ae6">***</text>
<text x="1301.83" y="1003.88" font-size="24" text-anchor="middle" fill="#e64ae6">**</text>
<text x="1346.78" y="1000.88" font-size="24" text-anchor="middle">n.s.</text>
<rect x="874.8" y="907.7" width="494.45" height="101.49" fill="none" stroke="#000" stroke-width="2.6"/>
<line x1="874.8" y1="941.53" x2="1369.25" y2="941.53" stroke="#000" stroke-width="2.4"/>
<line x1="874.8" y1="975.36" x2="1369.25" y2="975.36" stroke="#000" stroke-width="2.4"/>
<line x1="919.75" y1="907.7" x2="919.75" y2="1009.19" stroke="#000" stroke-width="2.4"/>
<line x1="964.7" y1="907.7" x2="964.7" y2="1009.19" stroke="#000" stroke-width="2.4"/>
<line x1="1009.65" y1="907.7" x2="1009.65" y2="1009.19" stroke="#000" stroke-width="2.4"/>
<line x1="1054.6" y1="907.7" x2="1054.6" y2="1009.19" stroke="#000" stroke-width="2.4"/>
<line x1="1099.55" y1="907.7" x2="1099.55" y2="1009.19" stroke="#000" stroke-width="2.4"/>
<line x1="1144.5" y1="907.7" x2="1144.5" y2="1009.19" stroke="#000" stroke-width="2.4"/>
<line x1="1189.45" y1="907.7" x2="1189.45" y2="1009.19" stroke="#000" stroke-width="2.4"/>
<line x1="1234.4" y1="907.7" x2="1234.4" y2="1009.19" stroke="#000" stroke-width="2.4"/>
<line x1="1279.35" y1="907.7" x2="1279.35" y2="1009.19" stroke="#000" stroke-width="2.4"/>
<line x1="1324.3" y1="907.7" x2="1324.3" y2="1009.19" stroke="#000" stroke-width="2.4"/>
<text x="794.1" y="1047.2" font-size="24">E vs M</text>
<text x="897.27" y="1049.8" font-size="24" text-anchor="middle" fill="#1f9a68">***</text>
<text x="942.22" y="1049.8" font-size="24" text-anchor="middle" fill="#1f9a68">**</text>
<text x="987.17" y="1046.8" font-size="24" text-anchor="middle">n.s.</text>
<text x="1032.12" y="1046.8" font-size="24" text-anchor="middle">n.s.</text>
<text x="1077.08" y="1046.8" font-size="24" text-anchor="middle">n.s.</text>
<text x="1122.03" y="1049.8" font-size="24" text-anchor="middle" fill="#e64ae6">**</text>
<text x="1166.97" y="1046.8" font-size="24" text-anchor="middle">n.s.</text>
<text x="1211.92" y="1049.8" font-size="24" text-anchor="middle" fill="#e64ae6">*</text>
<text x="1256.88" y="1049.8" font-size="24" text-anchor="middle" fill="#e64ae6">**</text>
<text x="1301.83" y="1049.8" font-size="24" text-anchor="middle" fill="#e64ae6">**</text>
<text x="1346.78" y="1046.8" font-size="24" text-anchor="middle">n.s.</text>
<text x="794.1" y="1080.8" font-size="24">E vs L</text>
<text x="897.27" y="1083.4" font-size="24" text-anchor="middle" fill="#1f9a68">***</text>
<text x="942.22" y="1083.4" font-size="24" text-anchor="middle" fill="#1f9a68">*</text>
<text x="987.17" y="1080.4" font-size="24" text-anchor="middle">n.s.</text>
<text x="1032.12" y="1080.4" font-size="24" text-anchor="middle">n.s.</text>
<text x="1077.08" y="1080.4" font-size="24" text-anchor="middle">n.s.</text>
<text x="1122.03" y="1083.4" font-size="24" text-anchor="middle" fill="#e64ae6">**</text>
<text x="1166.97" y="1080.4" font-size="24" text-anchor="middle">n.s.</text>
<text x="1211.92" y="1080.4" font-size="24" text-anchor="middle">n.s.</text>
<text x="1256.88" y="1083.4" font-size="24" text-anchor="middle" fill="#e64ae6">**</text>
<text x="1301.83" y="1083.4" font-size="24" text-anchor="middle" fill="#e64ae6">*</text>
<text x="1346.78" y="1080.4" font-size="24" text-anchor="middle">n.s.</text>
<rect x="874.8" y="1021.4" width="494.45" height="67.2" fill="none" stroke="#000" stroke-width="2.6"/>
<line x1="874.8" y1="1055" x2="1369.25" y2="1055" stroke="#000" stroke-width="2.4"/>
<line x1="919.75" y1="1021.4" x2="919.75" y2="1088.6" stroke="#000" stroke-width="2.4"/>
<line x1="964.7" y1="1021.4" x2="964.7" y2="1088.6" stroke="#000" stroke-width="2.4"/>
<line x1="1009.65" y1="1021.4" x2="1009.65" y2="1088.6" stroke="#000" stroke-width="2.4"/>
<line x1="1054.6" y1="1021.4" x2="1054.6" y2="1088.6" stroke="#000" stroke-width="2.4"/>
<line x1="1099.55" y1="1021.4" x2="1099.55" y2="1088.6" stroke="#000" stroke-width="2.4"/>
<line x1="1144.5" y1="1021.4" x2="1144.5" y2="1088.6" stroke="#000" stroke-width="2.4"/>
<line x1="1189.45" y1="1021.4" x2="1189.45" y2="1088.6" stroke="#000" stroke-width="2.4"/>
<line x1="1234.4" y1="1021.4" x2="1234.4" y2="1088.6" stroke="#000" stroke-width="2.4"/>
<line x1="1279.35" y1="1021.4" x2="1279.35" y2="1088.6" stroke="#000" stroke-width="2.4"/>
<line x1="1324.3" y1="1021.4" x2="1324.3" y2="1088.6" stroke="#000" stroke-width="2.4"/>
<text x="794.1" y="1123.4" font-size="24">M vs L</text>
<text x="897.27" y="1123" font-size="24" text-anchor="middle">n.s.</text>
<text x="942.22" y="1123" font-size="24" text-anchor="middle">n.s.</text>
<text x="987.17" y="1123" font-size="24" text-anchor="middle">n.s.</text>
<text x="1032.12" y="1123" font-size="24" text-anchor="middle">n.s.</text>
<text x="1077.08" y="1123" font-size="24" text-anchor="middle">n.s.</text>
<text x="1122.03" y="1123" font-size="24" text-anchor="middle">n.s.</text>
<text x="1166.97" y="1123" font-size="24" text-anchor="middle">n.s.</text>
<text x="1211.92" y="1123" font-size="24" text-anchor="middle">n.s.</text>
<text x="1256.88" y="1123" font-size="24" text-anchor="middle">n.s.</text>
<text x="1301.83" y="1123" font-size="24" text-anchor="middle">n.s.</text>
<text x="1346.78" y="1123" font-size="24" text-anchor="middle">n.s.</text>
<rect x="874.8" y="1097.6" width="494.45" height="33.6" fill="none" stroke="#000" stroke-width="2.6"/>
<line x1="919.75" y1="1097.6" x2="919.75" y2="1131.2" stroke="#000" stroke-width="2.4"/>
<line x1="964.7" y1="1097.6" x2="964.7" y2="1131.2" stroke="#000" stroke-width="2.4"/>
<line x1="1009.65" y1="1097.6" x2="1009.65" y2="1131.2" stroke="#000" stroke-width="2.4"/>
<line x1="1054.6" y1="1097.6" x2="1054.6" y2="1131.2" stroke="#000" stroke-width="2.4"/>
<line x1="1099.55" y1="1097.6" x2="1099.55" y2="1131.2" stroke="#000" stroke-width="2.4"/>
<line x1="1144.5" y1="1097.6" x2="1144.5" y2="1131.2" stroke="#000" stroke-width="2.4"/>
<line x1="1189.45" y1="1097.6" x2="1189.45" y2="1131.2" stroke="#000" stroke-width="2.4"/>
<line x1="1234.4" y1="1097.6" x2="1234.4" y2="1131.2" stroke="#000" stroke-width="2.4"/>
<line x1="1279.35" y1="1097.6" x2="1279.35" y2="1131.2" stroke="#000" stroke-width="2.4"/>
<line x1="1324.3" y1="1097.6" x2="1324.3" y2="1131.2" stroke="#000" stroke-width="2.4"/>
<text x="897.27" y="1168.4" font-size="24" text-anchor="middle">13</text>
<text x="942.22" y="1168.4" font-size="24" text-anchor="middle">41</text>
<text x="987.17" y="1168.4" font-size="24" text-anchor="middle">42</text>
<text x="1032.12" y="1168.4" font-size="24" text-anchor="middle">42</text>
<text x="1077.08" y="1168.4" font-size="24" text-anchor="middle">42</text>
<text x="1122.03" y="1168.4" font-size="24" text-anchor="middle">42</text>
<text x="1166.97" y="1168.4" font-size="24" text-anchor="middle">41</text>
<text x="1211.92" y="1168.4" font-size="24" text-anchor="middle">42</text>
<text x="1256.88" y="1168.4" font-size="24" text-anchor="middle">42</text>
<text x="1301.83" y="1168.4" font-size="24" text-anchor="middle">42</text>
<text x="1346.78" y="1168.4" font-size="24" text-anchor="middle">42</text>
<rect x="874.8" y="1143.3" width="494.45" height="33" fill="none" stroke="#000" stroke-width="2.6"/>
<line x1="919.75" y1="1143.3" x2="919.75" y2="1176.3" stroke="#000" stroke-width="2.4"/>
<line x1="964.7" y1="1143.3" x2="964.7" y2="1176.3" stroke="#000" stroke-width="2.4"/>
<line x1="1009.65" y1="1143.3" x2="1009.65" y2="1176.3" stroke="#000" stroke-width="2.4"/>
<line x1="1054.6" y1="1143.3" x2="1054.6" y2="1176.3" stroke="#000" stroke-width="2.4"/>
<line x1="1099.55" y1="1143.3" x2="1099.55" y2="1176.3" stroke="#000" stroke-width="2.4"/>
<line x1="1144.5" y1="1143.3" x2="1144.5" y2="1176.3" stroke="#000" stroke-width="2.4"/>
<line x1="1189.45" y1="1143.3" x2="1189.45" y2="1176.3" stroke="#000" stroke-width="2.4"/>
<line x1="1234.4" y1="1143.3" x2="1234.4" y2="1176.3" stroke="#000" stroke-width="2.4"/>
<line x1="1279.35" y1="1143.3" x2="1279.35" y2="1176.3" stroke="#000" stroke-width="2.4"/>
<line x1="1324.3" y1="1143.3" x2="1324.3" y2="1176.3" stroke="#000" stroke-width="2.4"/>
<text x="853" y="1169.3" font-size="24">n</text>
<text x="758" y="1048" font-size="25" text-anchor="middle" transform="rotate(-90 758 1048)">Statistical Comparisons</text>
<line x1="827" y1="1204" x2="879.3" y2="1204" stroke="#000" stroke-width="4"/>
<path d="M896.3 1204 L878.3 1193.5 L878.3 1214.5 Z" fill="#000"/>
<text x="797.6" y="1242.1" font-size="24">B</text>
<line x1="815.1" y1="1235.2" x2="825.6" y2="1235.2" stroke="#000" stroke-width="2.6"/>
<path d="M832.6 1235.2 L824.6 1230.6 L824.6 1239.8 Z" fill="#000"/>
<text x="834.6" y="1242.1" font-size="24">E</text>
<line x1="852.1" y1="1235.2" x2="862.6" y2="1235.2" stroke="#000" stroke-width="2.6"/>
<path d="M869.6 1235.2 L861.6 1230.6 L861.6 1239.8 Z" fill="#000"/>
<text x="871.6" y="1242.1" font-size="24">M</text>
<line x1="893.1" y1="1235.2" x2="903.6" y2="1235.2" stroke="#000" stroke-width="2.6"/>
<path d="M910.6 1235.2 L902.6 1230.6 L902.6 1239.8 Z" fill="#000"/>
<text x="912.6" y="1242.1" font-size="24">L</text>
<text x="949.6" y="1212.6" font-size="25">B - Baseline</text>
<text x="949.6" y="1238.6" font-size="25">E - Early</text>
<text x="1095.6" y="1212.6" font-size="25">M - Mid</text>
<text x="1095.6" y="1238.6" font-size="25">L - Late</text>
<rect x="1203" y="1184.2" width="39.8" height="29.1" fill="none" stroke="#000" stroke-width="2.4"/>
<rect x="1203" y="1218.9" width="39.8" height="29.1" fill="none" stroke="#000" stroke-width="2.4"/>
<text x="1222.9" y="1207" font-size="16" text-anchor="middle" fill="#1f9a68">*</text>
<text x="1222.9" y="1241.5" font-size="16" text-anchor="middle" fill="#e64ae6">*</text>
<text x="1248" y="1207.4" font-size="24.5">Increased</text>
<text x="1248" y="1240.4" font-size="24.5">Decreased</text>
<text x="1461.8" y="678.2" font-size="30" font-weight="bold">i</text>
<rect x="1584.1" y="851.07" width="20.2" height="152.43" fill="#138b51"/>
<rect x="1608.3" y="929.97" width="20.2" height="73.53" fill="#138b51"/>
<rect x="1632" y="861.81" width="20.2" height="141.69" fill="#138b51"/>
<rect x="1657.9" y="883.97" width="20.2" height="119.53" fill="#1a8cf2"/>
<rect x="1682.1" y="880.95" width="20.2" height="122.55" fill="#1a8cf2"/>
<rect x="1705.8" y="891.02" width="20.2" height="112.48" fill="#1a8cf2"/>
<rect x="1730" y="995.44" width="20.2" height="8.06" fill="#a0a0a0"/>
<rect x="1754.2" y="1001.49" width="20.2" height="2.01" fill="#a0a0a0"/>
<rect x="1777.7" y="1001.49" width="20.2" height="2.01" fill="#a0a0a0"/>
<ellipse cx="1588.6" cy="778.55" rx="1.6" ry="2.2" fill="none" stroke="#b5b5b5" stroke-width="1.2"/>
<ellipse cx="1590" cy="781.9" rx="1.6" ry="2.2" fill="none" stroke="#b5b5b5" stroke-width="1.2"/>
<ellipse cx="1591.4" cy="822.19" rx="1.6" ry="2.2" fill="none" stroke="#b5b5b5" stroke-width="1.2"/>
<ellipse cx="1592.8" cy="828.91" rx="1.6" ry="2.2" fill="none" stroke="#b5b5b5" stroke-width="1.2"/>
<ellipse cx="1594.2" cy="828.91" rx="1.6" ry="2.2" fill="none" stroke="#b5b5b5" stroke-width="1.2"/>
<ellipse cx="1595.6" cy="835.62" rx="1.6" ry="2.2" fill="none" stroke="#b5b5b5" stroke-width="1.2"/>
<ellipse cx="1597" cy="849.06" rx="1.6" ry="2.2" fill="none" stroke="#b5b5b5" stroke-width="1.2"/>
<ellipse cx="1598.4" cy="875.91" rx="1.6" ry="2.2" fill="none" stroke="#b5b5b5" stroke-width="1.2"/>
<ellipse cx="1599.8" cy="889.35" rx="1.6" ry="2.2" fill="none" stroke="#b5b5b5" stroke-width="1.2"/>
<ellipse cx="1588.6" cy="889.35" rx="1.6" ry="2.2" fill="none" stroke="#b5b5b5" stroke-width="1.2"/>
<ellipse cx="1590" cy="919.56" rx="1.6" ry="2.2" fill="none" stroke="#b5b5b5" stroke-width="1.2"/>
<ellipse cx="1591.4" cy="939.71" rx="1.6" ry="2.2" fill="none" stroke="#b5b5b5" stroke-width="1.2"/>
<ellipse cx="1612.8" cy="889.35" rx="1.6" ry="2.2" fill="none" stroke="#b5b5b5" stroke-width="1.2"/>
<ellipse cx="1614.2" cy="909.49" rx="1.6" ry="2.2" fill="none" stroke="#b5b5b5" stroke-width="1.2"/>
<ellipse cx="1615.6" cy="912.85" rx="1.6" ry="2.2" fill="none" stroke="#b5b5b5" stroke-width="1.2"/>
<ellipse cx="1617" cy="912.85" rx="1.6" ry="2.2" fill="none" stroke="#b5b5b5" stroke-width="1.2"/>
<ellipse cx="1618.4" cy="909.49" rx="1.6" ry="2.2" fill="none" stroke="#b5b5b5" stroke-width="1.2"/>
<ellipse cx="1619.8" cy="916.21" rx="1.6" ry="2.2" fill="none" stroke="#b5b5b5" stroke-width="1.2"/>
<ellipse cx="1621.2" cy="936.35" rx="1.6" ry="2.2" fill="none" stroke="#b5b5b5" stroke-width="1.2"/>
<ellipse cx="1622.6" cy="943.07" rx="1.6" ry="2.2" fill="none" stroke="#b5b5b5" stroke-width="1.2"/>
<ellipse cx="1624" cy="946.42" rx="1.6" ry="2.2" fill="none" stroke="#b5b5b5" stroke-width="1.2"/>
<ellipse cx="1612.8" cy="966.57" rx="1.6" ry="2.2" fill="none" stroke="#b5b5b5" stroke-width="1.2"/>
<ellipse cx="1614.2" cy="986.71" rx="1.6" ry="2.2" fill="none" stroke="#b5b5b5" stroke-width="1.2"/>
<ellipse cx="1636.5" cy="734.9" rx="1.6" ry="2.2" fill="none" stroke="#b5b5b5" stroke-width="1.2"/>
<ellipse cx="1637.9" cy="795.34" rx="1.6" ry="2.2" fill="none" stroke="#b5b5b5" stroke-width="1.2"/>
<ellipse cx="1639.3" cy="822.19" rx="1.6" ry="2.2" fill="none" stroke="#b5b5b5" stroke-width="1.2"/>
<ellipse cx="1640.7" cy="838.98" rx="1.6" ry="2.2" fill="none" stroke="#b5b5b5" stroke-width="1.2"/>
<ellipse cx="1642.1" cy="842.34" rx="1.6" ry="2.2" fill="none" stroke="#b5b5b5" stroke-width="1.2"/>
<ellipse cx="1643.5" cy="875.91" rx="1.6" ry="2.2" fill="none" stroke="#b5b5b5" stroke-width="1.2"/>
<ellipse cx="1644.9" cy="879.27" rx="1.6" ry="2.2" fill="none" stroke="#b5b5b5" stroke-width="1.2"/>
<ellipse cx="1646.3" cy="919.56" rx="1.6" ry="2.2" fill="none" stroke="#b5b5b5" stroke-width="1.2"/>
<ellipse cx="1647.7" cy="922.92" rx="1.6" ry="2.2" fill="none" stroke="#b5b5b5" stroke-width="1.2"/>
<ellipse cx="1636.5" cy="932.99" rx="1.6" ry="2.2" fill="none" stroke="#b5b5b5" stroke-width="1.2"/>
<ellipse cx="1637.9" cy="932.99" rx="1.6" ry="2.2" fill="none" stroke="#b5b5b5" stroke-width="1.2"/>
<ellipse cx="1639.3" cy="932.99" rx="1.6" ry="2.2" fill="none" stroke="#b5b5b5" stroke-width="1.2"/>
<ellipse cx="1662.4" cy="842.34" rx="1.6" ry="2.2" fill="none" stroke="#b5b5b5" stroke-width="1.2"/>
<ellipse cx="1663.8" cy="845.7" rx="1.6" ry="2.2" fill="none" stroke="#b5b5b5" stroke-width="1.2"/>
<ellipse cx="1665.2" cy="865.84" rx="1.6" ry="2.2" fill="none" stroke="#b5b5b5" stroke-width="1.2"/>
<ellipse cx="1666.6" cy="869.2" rx="1.6" ry="2.2" fill="none" stroke="#b5b5b5" stroke-width="1.2"/>
<ellipse cx="1668" cy="869.2" rx="1.6" ry="2.2" fill="none" stroke="#b5b5b5" stroke-width="1.2"/>
<ellipse cx="1669.4" cy="879.27" rx="1.6" ry="2.2" fill="none" stroke="#b5b5b5" stroke-width="1.2"/>
<ellipse cx="1670.8" cy="882.63" rx="1.6" ry="2.2" fill="none" stroke="#b5b5b5" stroke-width="1.2"/>
<ellipse cx="1672.2" cy="906.13" rx="1.6" ry="2.2" fill="none" stroke="#b5b5b5" stroke-width="1.2"/>
<ellipse cx="1673.6" cy="909.49" rx="1.6" ry="2.2" fill="none" stroke="#b5b5b5" stroke-width="1.2"/>
<ellipse cx="1662.4" cy="926.28" rx="1.6" ry="2.2" fill="none" stroke="#b5b5b5" stroke-width="1.2"/>
<ellipse cx="1663.8" cy="946.42" rx="1.6" ry="2.2" fill="none" stroke="#b5b5b5" stroke-width="1.2"/>
<ellipse cx="1686.6" cy="838.98" rx="1.6" ry="2.2" fill="none" stroke="#b5b5b5" stroke-width="1.2"/>
<ellipse cx="1688" cy="838.98" rx="1.6" ry="2.2" fill="none" stroke="#b5b5b5" stroke-width="1.2"/>
<ellipse cx="1689.4" cy="869.2" rx="1.6" ry="2.2" fill="none" stroke="#b5b5b5" stroke-width="1.2"/>
<ellipse cx="1690.8" cy="865.84" rx="1.6" ry="2.2" fill="none" stroke="#b5b5b5" stroke-width="1.2"/>
<ellipse cx="1692.2" cy="865.84" rx="1.6" ry="2.2" fill="none" stroke="#b5b5b5" stroke-width="1.2"/>
<ellipse cx="1693.6" cy="865.84" rx="1.6" ry="2.2" fill="none" stroke="#b5b5b5" stroke-width="1.2"/>
<ellipse cx="1695" cy="902.77" rx="1.6" ry="2.2" fill="none" stroke="#b5b5b5" stroke-width="1.2"/>
<ellipse cx="1696.4" cy="926.28" rx="1.6" ry="2.2" fill="none" stroke="#b5b5b5" stroke-width="1.2"/>
<ellipse cx="1697.8" cy="943.07" rx="1.6" ry="2.2" fill="none" stroke="#b5b5b5" stroke-width="1.2"/>
<ellipse cx="1710.3" cy="808.76" rx="1.6" ry="2.2" fill="none" stroke="#b5b5b5" stroke-width="1.2"/>
<ellipse cx="1711.7" cy="849.06" rx="1.6" ry="2.2" fill="none" stroke="#b5b5b5" stroke-width="1.2"/>
<ellipse cx="1713.1" cy="872.56" rx="1.6" ry="2.2" fill="none" stroke="#b5b5b5" stroke-width="1.2"/>
<ellipse cx="1714.5" cy="872.56" rx="1.6" ry="2.2" fill="none" stroke="#b5b5b5" stroke-width="1.2"/>
<ellipse cx="1715.9" cy="882.63" rx="1.6" ry="2.2" fill="none" stroke="#b5b5b5" stroke-width="1.2"/>
<ellipse cx="1717.3" cy="899.42" rx="1.6" ry="2.2" fill="none" stroke="#b5b5b5" stroke-width="1.2"/>
<ellipse cx="1718.7" cy="899.42" rx="1.6" ry="2.2" fill="none" stroke="#b5b5b5" stroke-width="1.2"/>
<ellipse cx="1720.1" cy="936.35" rx="1.6" ry="2.2" fill="none" stroke="#b5b5b5" stroke-width="1.2"/>
<ellipse cx="1721.5" cy="939.71" rx="1.6" ry="2.2" fill="none" stroke="#b5b5b5" stroke-width="1.2"/>
<ellipse cx="1734.5" cy="986.71" rx="1.6" ry="2.2" fill="none" stroke="#b5b5b5" stroke-width="1.2"/>
<ellipse cx="1735.9" cy="990.07" rx="1.6" ry="2.2" fill="none" stroke="#b5b5b5" stroke-width="1.2"/>
<ellipse cx="1737.3" cy="993.43" rx="1.6" ry="2.2" fill="none" stroke="#b5b5b5" stroke-width="1.2"/>
<ellipse cx="1738.7" cy="993.43" rx="1.6" ry="2.2" fill="none" stroke="#b5b5b5" stroke-width="1.2"/>
<ellipse cx="1740.1" cy="995.11" rx="1.6" ry="2.2" fill="none" stroke="#b5b5b5" stroke-width="1.2"/>
<ellipse cx="1741.5" cy="996.78" rx="1.6" ry="2.2" fill="none" stroke="#b5b5b5" stroke-width="1.2"/>
<ellipse cx="1742.9" cy="998.46" rx="1.6" ry="2.2" fill="none" stroke="#b5b5b5" stroke-width="1.2"/>
<ellipse cx="1744.3" cy="1000.14" rx="1.6" ry="2.2" fill="none" stroke="#b5b5b5" stroke-width="1.2"/>
<ellipse cx="1745.7" cy="1001.82" rx="1.6" ry="2.2" fill="none" stroke="#b5b5b5" stroke-width="1.2"/>
<ellipse cx="1758.7" cy="991.75" rx="1.6" ry="2.2" fill="none" stroke="#b5b5b5" stroke-width="1.2"/>
<ellipse cx="1760.1" cy="1000.14" rx="1.6" ry="2.2" fill="none" stroke="#b5b5b5" stroke-width="1.2"/>
<ellipse cx="1761.5" cy="1000.81" rx="1.6" ry="2.2" fill="none" stroke="#b5b5b5" stroke-width="1.2"/>
<ellipse cx="1762.9" cy="1001.82" rx="1.6" ry="2.2" fill="none" stroke="#b5b5b5" stroke-width="1.2"/>
<ellipse cx="1764.3" cy="1002.49" rx="1.6" ry="2.2" fill="none" stroke="#b5b5b5" stroke-width="1.2"/>
<ellipse cx="1765.7" cy="1002.83" rx="1.6" ry="2.2" fill="none" stroke="#b5b5b5" stroke-width="1.2"/>
<ellipse cx="1782.2" cy="981.68" rx="1.6" ry="2.2" fill="none" stroke="#b5b5b5" stroke-width="1.2"/>
<ellipse cx="1783.6" cy="1000.14" rx="1.6" ry="2.2" fill="none" stroke="#b5b5b5" stroke-width="1.2"/>
<ellipse cx="1785" cy="1001.82" rx="1.6" ry="2.2" fill="none" stroke="#b5b5b5" stroke-width="1.2"/>
<ellipse cx="1786.4" cy="1002.49" rx="1.6" ry="2.2" fill="none" stroke="#b5b5b5" stroke-width="1.2"/>
<ellipse cx="1787.8" cy="1002.83" rx="1.6" ry="2.2" fill="none" stroke="#b5b5b5" stroke-width="1.2"/>
<ellipse cx="1789.2" cy="1003.16" rx="1.6" ry="2.2" fill="none" stroke="#b5b5b5" stroke-width="1.2"/>
<line x1="1594.2" y1="837.64" x2="1594.2" y2="864.5" stroke="#000" stroke-width="2"/>
<line x1="1588.7" y1="837.64" x2="1599.7" y2="837.64" stroke="#000" stroke-width="2"/>
<line x1="1588.7" y1="864.5" x2="1599.7" y2="864.5" stroke="#000" stroke-width="2"/>
<line x1="1618.4" y1="921.58" x2="1618.4" y2="938.36" stroke="#000" stroke-width="2"/>
<line x1="1612.9" y1="921.58" x2="1623.9" y2="921.58" stroke="#000" stroke-width="2"/>
<line x1="1612.9" y1="938.36" x2="1623.9" y2="938.36" stroke="#000" stroke-width="2"/>
<line x1="1642.1" y1="845.36" x2="1642.1" y2="878.27" stroke="#000" stroke-width="2"/>
<line x1="1636.6" y1="845.36" x2="1647.6" y2="845.36" stroke="#000" stroke-width="2"/>
<line x1="1636.6" y1="878.27" x2="1647.6" y2="878.27" stroke="#000" stroke-width="2"/>
<line x1="1668" y1="852.08" x2="1668" y2="915.87" stroke="#000" stroke-width="2"/>
<line x1="1662.5" y1="852.08" x2="1673.5" y2="852.08" stroke="#000" stroke-width="2"/>
<line x1="1662.5" y1="915.87" x2="1673.5" y2="915.87" stroke="#000" stroke-width="2"/>
<line x1="1692.2" y1="849.73" x2="1692.2" y2="912.18" stroke="#000" stroke-width="2"/>
<line x1="1686.7" y1="849.73" x2="1697.7" y2="849.73" stroke="#000" stroke-width="2"/>
<line x1="1686.7" y1="912.18" x2="1697.7" y2="912.18" stroke="#000" stroke-width="2"/>
<line x1="1715.9" y1="852.41" x2="1715.9" y2="929.63" stroke="#000" stroke-width="2"/>
<line x1="1710.4" y1="852.41" x2="1721.4" y2="852.41" stroke="#000" stroke-width="2"/>
<line x1="1710.4" y1="929.63" x2="1721.4" y2="929.63" stroke="#000" stroke-width="2"/>
<line x1="1740.1" y1="992.76" x2="1740.1" y2="998.13" stroke="#000" stroke-width="2"/>
<line x1="1734.6" y1="992.76" x2="1745.6" y2="992.76" stroke="#000" stroke-width="2"/>
<line x1="1734.6" y1="998.13" x2="1745.6" y2="998.13" stroke="#000" stroke-width="2"/>
<line x1="1764.3" y1="1000.14" x2="1764.3" y2="1002.83" stroke="#000" stroke-width="2"/>
<line x1="1758.8" y1="1000.14" x2="1769.8" y2="1000.14" stroke="#000" stroke-width="2"/>
<line x1="1758.8" y1="1002.83" x2="1769.8" y2="1002.83" stroke="#000" stroke-width="2"/>
<line x1="1787.8" y1="999.47" x2="1787.8" y2="1003.5" stroke="#000" stroke-width="2"/>
<line x1="1782.3" y1="999.47" x2="1793.3" y2="999.47" stroke="#000" stroke-width="2"/>
<line x1="1782.3" y1="1003.5" x2="1793.3" y2="1003.5" stroke="#000" stroke-width="2"/>
<line x1="1577.6" y1="734.5" x2="1577.6" y2="1004.5" stroke="#000" stroke-width="2"/>
<line x1="1572.6" y1="1003.5" x2="1809" y2="1003.5" stroke="#000" stroke-width="2"/>
<line x1="1572.6" y1="734.9" x2="1577.6" y2="734.9" stroke="#000" stroke-width="2"/>
<text x="1569.5" y="745.2" font-size="25" text-anchor="end">80</text>
<line x1="1572.6" y1="802.05" x2="1577.6" y2="802.05" stroke="#000" stroke-width="2"/>
<text x="1569.5" y="812.35" font-size="25" text-anchor="end">60</text>
<line x1="1572.6" y1="869.2" x2="1577.6" y2="869.2" stroke="#000" stroke-width="2"/>
<text x="1569.5" y="879.5" font-size="25" text-anchor="end">40</text>
<line x1="1572.6" y1="936.35" x2="1577.6" y2="936.35" stroke="#000" stroke-width="2"/>
<text x="1569.5" y="946.65" font-size="25" text-anchor="end">20</text>
<line x1="1572.6" y1="1003.5" x2="1577.6" y2="1003.5" stroke="#000" stroke-width="2"/>
<text x="1569.5" y="1013.8" font-size="25" text-anchor="end">0</text>
<line x1="1594.2" y1="1003.5" x2="1594.2" y2="1010.3" stroke="#000" stroke-width="2"/>
<line x1="1618.4" y1="1003.5" x2="1618.4" y2="1010.3" stroke="#000" stroke-width="2"/>
<line x1="1642.1" y1="1003.5" x2="1642.1" y2="1010.3" stroke="#000" stroke-width="2"/>
<line x1="1668" y1="1003.5" x2="1668" y2="1010.3" stroke="#000" stroke-width="2"/>
<line x1="1692.2" y1="1003.5" x2="1692.2" y2="1010.3" stroke="#000" stroke-width="2"/>
<line x1="1715.9" y1="1003.5" x2="1715.9" y2="1010.3" stroke="#000" stroke-width="2"/>
<line x1="1740.1" y1="1003.5" x2="1740.1" y2="1010.3" stroke="#000" stroke-width="2"/>
<line x1="1764.3" y1="1003.5" x2="1764.3" y2="1010.3" stroke="#000" stroke-width="2"/>
<line x1="1787.8" y1="1003.5" x2="1787.8" y2="1010.3" stroke="#000" stroke-width="2"/>
<text x="1594.2" y="1034.1" font-size="25" text-anchor="middle">M</text>
<text x="1618.4" y="1034.1" font-size="25" text-anchor="middle">C</text>
<text x="1642.1" y="1034.1" font-size="25" text-anchor="middle">R</text>
<text x="1668" y="1034.1" font-size="25" text-anchor="middle">M</text>
<text x="1692.2" y="1034.1" font-size="25" text-anchor="middle">C</text>
<text x="1715.9" y="1034.1" font-size="25" text-anchor="middle">R</text>
<text x="1740.1" y="1034.1" font-size="25" text-anchor="middle">M</text>
<text x="1764.3" y="1034.1" font-size="25" text-anchor="middle">C</text>
<text x="1787.8" y="1034.1" font-size="25" text-anchor="middle">R</text>
<text x="1521.5" y="873" font-size="25.5" text-anchor="middle" transform="rotate(-90 1521.5 873)">Frequency (per min)</text>
<line x1="1619.1" y1="675.1" x2="1691" y2="675.1" stroke="#000" stroke-width="2"/>
<text x="1657.1" y="678.5" font-size="23.5" text-anchor="middle">****</text>
<path d="M1594.5 717 L1594.5 700.9 L1642 700.9 L1642 730.3" fill="none" stroke="#000" stroke-width="2"/>
<text x="1620.3" y="694.5" font-size="24" text-anchor="middle">n.s.</text>
<path d="M1594.5 746.5 L1594.5 722.6 L1618.4 722.6 L1618.4 732.8" fill="none" stroke="#000" stroke-width="2"/>
<text x="1614.7" y="726.1" font-size="23.5" text-anchor="middle">****</text>
<path d="M1618.4 855.4 L1618.4 746.7 L1642 746.7 L1642 757.1" fill="none" stroke="#000" stroke-width="2"/>
<text x="1630.3" y="749.5" font-size="23.5" text-anchor="middle">**</text>
<path d="M1668 748 L1668 739.2 L1715.9 739.2 L1715.9 765.8" fill="none" stroke="#000" stroke-width="2"/>
<text x="1692.4" y="733.2" font-size="24" text-anchor="middle">n.s.</text>
<path d="M1668 801 L1668 762.2 L1692.4 762.2 L1692.4 762.2" fill="none" stroke="#000" stroke-width="2"/>
<text x="1682" y="758.6" font-size="24" text-anchor="middle">n.s.</text>
<path d="M1692.4 798.5 L1692.4 785.2 L1715.9 785.2 L1715.9 801" fill="none" stroke="#000" stroke-width="2"/>
<text x="1707.4" y="781.6" font-size="24" text-anchor="middle">n.s.</text>
<path d="M1740.1 977.6 L1740.1 915.9 L1787.8 915.9 L1787.8 941.3" fill="none" stroke="#000" stroke-width="2"/>
<text x="1763.6" y="918.5" font-size="23.5" text-anchor="middle">*</text>
<path d="M1740.1 977.6 L1740.1 931.1 L1764.3 931.1 L1764.3 941.3" fill="none" stroke="#000" stroke-width="2"/>
<text x="1752.2" y="934.5" font-size="23.5" text-anchor="middle">*</text>
<line x1="1764.3" y1="961.9" x2="1787.8" y2="961.9" stroke="#000" stroke-width="2"/>
<text x="1778.8" y="957" font-size="22" text-anchor="middle">n.s.</text>
<rect x="1514.2" y="1052.5" width="21.6" height="23.1" fill="#138b51"/>
<text x="1542.9" y="1072.8" font-size="24.5">ChR2-YFP</text>
<rect x="1688.5" y="1052.5" width="22.1" height="23.1" fill="#999999"/>
<text x="1718.4" y="1072.8" font-size="24.5">YFP</text>
<rect x="1514.2" y="1084.5" width="21.6" height="23.2" fill="#1a8cf2"/>
<text x="1542.9" y="1104.3" font-size="24.5">Laser Triggers</text>
<text x="1514.2" y="1140.1" font-size="25">M - Maintenance</text>
<text x="1514.2" y="1166.6" font-size="25" textLength="379" lengthAdjust="spacingAndGlyphs">C - Cont. Degradation(last 20 min)</text>
<text x="1514.2" y="1194.2" font-size="25">R - Re-acquisition (last 20 min)</text>
<text x="86.1" y="1359" font-size="30" font-weight="bold">j</text>
<line x1="246.5" y1="1723.86" x2="612.4" y2="1713.14" stroke="#b4b4b4" stroke-width="1.4" stroke-dasharray="1.6,3.2"/>
<line x1="612.4" y1="1713.14" x2="686.8" y2="1762.51" stroke="#b4b4b4" stroke-width="1.4" stroke-dasharray="1.6,3.2"/>
<line x1="246.5" y1="1711.66" x2="612.4" y2="1701" stroke="#b4b4b4" stroke-width="1.4" stroke-dasharray="1.6,3.2"/>
<line x1="612.4" y1="1701" x2="686.8" y2="1750.3" stroke="#b4b4b4" stroke-width="1.4" stroke-dasharray="1.6,3.2"/>
<line x1="246.5" y1="1703.01" x2="612.4" y2="1692.38" stroke="#b4b4b4" stroke-width="1.4" stroke-dasharray="1.6,3.2"/>
<line x1="612.4" y1="1692.38" x2="686.8" y2="1741.63" stroke="#b4b4b4" stroke-width="1.4" stroke-dasharray="1.6,3.2"/>
<line x1="246.5" y1="1696.3" x2="612.4" y2="1685.7" stroke="#b4b4b4" stroke-width="1.4" stroke-dasharray="1.6,3.2"/>
<line x1="612.4" y1="1685.7" x2="686.8" y2="1734.91" stroke="#b4b4b4" stroke-width="1.4" stroke-dasharray="1.6,3.2"/>
<line x1="246.5" y1="1690.82" x2="612.4" y2="1680.24" stroke="#b4b4b4" stroke-width="1.4" stroke-dasharray="1.6,3.2"/>
<line x1="612.4" y1="1680.24" x2="686.8" y2="1729.41" stroke="#b4b4b4" stroke-width="1.4" stroke-dasharray="1.6,3.2"/>
<line x1="246.5" y1="1686.19" x2="612.4" y2="1675.62" stroke="#b4b4b4" stroke-width="1.4" stroke-dasharray="1.6,3.2"/>
<line x1="612.4" y1="1675.62" x2="686.8" y2="1724.77" stroke="#b4b4b4" stroke-width="1.4" stroke-dasharray="1.6,3.2"/>
<line x1="246.5" y1="1682.17" x2="612.4" y2="1671.62" stroke="#b4b4b4" stroke-width="1.4" stroke-dasharray="1.6,3.2"/>
<line x1="612.4" y1="1671.62" x2="686.8" y2="1720.74" stroke="#b4b4b4" stroke-width="1.4" stroke-dasharray="1.6,3.2"/>
<line x1="246.5" y1="1678.63" x2="612.4" y2="1668.1" stroke="#b4b4b4" stroke-width="1.4" stroke-dasharray="1.6,3.2"/>
<line x1="612.4" y1="1668.1" x2="686.8" y2="1717.19" stroke="#b4b4b4" stroke-width="1.4" stroke-dasharray="1.6,3.2"/>
<line x1="246.5" y1="1654.62" x2="612.4" y2="1644.18" stroke="#b4b4b4" stroke-width="1.4" stroke-dasharray="1.6,3.2"/>
<line x1="612.4" y1="1644.18" x2="686.8" y2="1693.13" stroke="#b4b4b4" stroke-width="1.4" stroke-dasharray="1.6,3.2"/>
<line x1="246.5" y1="1642.42" x2="612.4" y2="1632.04" stroke="#b4b4b4" stroke-width="1.4" stroke-dasharray="1.6,3.2"/>
<line x1="612.4" y1="1632.04" x2="686.8" y2="1680.92" stroke="#b4b4b4" stroke-width="1.4" stroke-dasharray="1.6,3.2"/>
<line x1="246.5" y1="1633.77" x2="612.4" y2="1623.42" stroke="#b4b4b4" stroke-width="1.4" stroke-dasharray="1.6,3.2"/>
<line x1="612.4" y1="1623.42" x2="686.8" y2="1672.25" stroke="#b4b4b4" stroke-width="1.4" stroke-dasharray="1.6,3.2"/>
<line x1="246.5" y1="1627.06" x2="612.4" y2="1616.74" stroke="#b4b4b4" stroke-width="1.4" stroke-dasharray="1.6,3.2"/>
<line x1="612.4" y1="1616.74" x2="686.8" y2="1665.53" stroke="#b4b4b4" stroke-width="1.4" stroke-dasharray="1.6,3.2"/>
<line x1="246.5" y1="1621.58" x2="612.4" y2="1611.28" stroke="#b4b4b4" stroke-width="1.4" stroke-dasharray="1.6,3.2"/>
<line x1="612.4" y1="1611.28" x2="686.8" y2="1660.03" stroke="#b4b4b4" stroke-width="1.4" stroke-dasharray="1.6,3.2"/>
<line x1="246.5" y1="1616.95" x2="612.4" y2="1606.66" stroke="#b4b4b4" stroke-width="1.4" stroke-dasharray="1.6,3.2"/>
<line x1="612.4" y1="1606.66" x2="686.8" y2="1655.39" stroke="#b4b4b4" stroke-width="1.4" stroke-dasharray="1.6,3.2"/>
<line x1="246.5" y1="1612.93" x2="612.4" y2="1602.66" stroke="#b4b4b4" stroke-width="1.4" stroke-dasharray="1.6,3.2"/>
<line x1="612.4" y1="1602.66" x2="686.8" y2="1651.36" stroke="#b4b4b4" stroke-width="1.4" stroke-dasharray="1.6,3.2"/>
<line x1="246.5" y1="1609.39" x2="612.4" y2="1599.14" stroke="#b4b4b4" stroke-width="1.4" stroke-dasharray="1.6,3.2"/>
<line x1="612.4" y1="1599.14" x2="686.8" y2="1647.81" stroke="#b4b4b4" stroke-width="1.4" stroke-dasharray="1.6,3.2"/>
<line x1="246.5" y1="1585.38" x2="612.4" y2="1575.22" stroke="#b4b4b4" stroke-width="1.4" stroke-dasharray="1.6,3.2"/>
<line x1="612.4" y1="1575.22" x2="686.8" y2="1623.75" stroke="#b4b4b4" stroke-width="1.4" stroke-dasharray="1.6,3.2"/>
<line x1="246.5" y1="1573.18" x2="612.4" y2="1563.08" stroke="#b4b4b4" stroke-width="1.4" stroke-dasharray="1.6,3.2"/>
<line x1="612.4" y1="1563.08" x2="686.8" y2="1611.54" stroke="#b4b4b4" stroke-width="1.4" stroke-dasharray="1.6,3.2"/>
<line x1="246.5" y1="1564.53" x2="612.4" y2="1554.46" stroke="#b4b4b4" stroke-width="1.4" stroke-dasharray="1.6,3.2"/>
<line x1="612.4" y1="1554.46" x2="686.8" y2="1602.87" stroke="#b4b4b4" stroke-width="1.4" stroke-dasharray="1.6,3.2"/>
<line x1="246.5" y1="1557.82" x2="612.4" y2="1547.78" stroke="#b4b4b4" stroke-width="1.4" stroke-dasharray="1.6,3.2"/>
<line x1="612.4" y1="1547.78" x2="686.8" y2="1596.15" stroke="#b4b4b4" stroke-width="1.4" stroke-dasharray="1.6,3.2"/>
<line x1="246.5" y1="1552.34" x2="612.4" y2="1542.32" stroke="#b4b4b4" stroke-width="1.4" stroke-dasharray="1.6,3.2"/>
<line x1="612.4" y1="1542.32" x2="686.8" y2="1590.65" stroke="#b4b4b4" stroke-width="1.4" stroke-dasharray="1.6,3.2"/>
<line x1="246.5" y1="1547.71" x2="612.4" y2="1537.7" stroke="#b4b4b4" stroke-width="1.4" stroke-dasharray="1.6,3.2"/>
<line x1="612.4" y1="1537.7" x2="686.8" y2="1586.01" stroke="#b4b4b4" stroke-width="1.4" stroke-dasharray="1.6,3.2"/>
<line x1="246.5" y1="1543.69" x2="612.4" y2="1533.7" stroke="#b4b4b4" stroke-width="1.4" stroke-dasharray="1.6,3.2"/>
<line x1="612.4" y1="1533.7" x2="686.8" y2="1581.98" stroke="#b4b4b4" stroke-width="1.4" stroke-dasharray="1.6,3.2"/>
<line x1="246.5" y1="1540.15" x2="612.4" y2="1530.18" stroke="#b4b4b4" stroke-width="1.4" stroke-dasharray="1.6,3.2"/>
<line x1="612.4" y1="1530.18" x2="686.8" y2="1578.43" stroke="#b4b4b4" stroke-width="1.4" stroke-dasharray="1.6,3.2"/>
<line x1="246.5" y1="1516.14" x2="612.4" y2="1506.26" stroke="#b4b4b4" stroke-width="1.4" stroke-dasharray="1.6,3.2"/>
<line x1="612.4" y1="1506.26" x2="686.8" y2="1554.37" stroke="#b4b4b4" stroke-width="1.4" stroke-dasharray="1.6,3.2"/>
<line x1="246.5" y1="1503.94" x2="612.4" y2="1494.12" stroke="#b4b4b4" stroke-width="1.4" stroke-dasharray="1.6,3.2"/>
<line x1="612.4" y1="1494.12" x2="686.8" y2="1542.16" stroke="#b4b4b4" stroke-width="1.4" stroke-dasharray="1.6,3.2"/>
<line x1="246.5" y1="1495.29" x2="612.4" y2="1485.5" stroke="#b4b4b4" stroke-width="1.4" stroke-dasharray="1.6,3.2"/>
<line x1="612.4" y1="1485.5" x2="686.8" y2="1533.49" stroke="#b4b4b4" stroke-width="1.4" stroke-dasharray="1.6,3.2"/>
<line x1="246.5" y1="1488.58" x2="612.4" y2="1478.82" stroke="#b4b4b4" stroke-width="1.4" stroke-dasharray="1.6,3.2"/>
<line x1="612.4" y1="1478.82" x2="686.8" y2="1526.77" stroke="#b4b4b4" stroke-width="1.4" stroke-dasharray="1.6,3.2"/>
<line x1="246.5" y1="1483.1" x2="612.4" y2="1473.36" stroke="#b4b4b4" stroke-width="1.4" stroke-dasharray="1.6,3.2"/>
<line x1="612.4" y1="1473.36" x2="686.8" y2="1521.27" stroke="#b4b4b4" stroke-width="1.4" stroke-dasharray="1.6,3.2"/>
<line x1="246.5" y1="1478.47" x2="612.4" y2="1468.74" stroke="#b4b4b4" stroke-width="1.4" stroke-dasharray="1.6,3.2"/>
<line x1="612.4" y1="1468.74" x2="686.8" y2="1516.63" stroke="#b4b4b4" stroke-width="1.4" stroke-dasharray="1.6,3.2"/>
<line x1="246.5" y1="1474.45" x2="612.4" y2="1464.74" stroke="#b4b4b4" stroke-width="1.4" stroke-dasharray="1.6,3.2"/>
<line x1="612.4" y1="1464.74" x2="686.8" y2="1512.6" stroke="#b4b4b4" stroke-width="1.4" stroke-dasharray="1.6,3.2"/>
<line x1="246.5" y1="1470.91" x2="612.4" y2="1461.22" stroke="#b4b4b4" stroke-width="1.4" stroke-dasharray="1.6,3.2"/>
<line x1="612.4" y1="1461.22" x2="686.8" y2="1509.05" stroke="#b4b4b4" stroke-width="1.4" stroke-dasharray="1.6,3.2"/>
<line x1="246.5" y1="1446.9" x2="612.4" y2="1437.3" stroke="#b4b4b4" stroke-width="1.4" stroke-dasharray="1.6,3.2"/>
<line x1="612.4" y1="1437.3" x2="686.8" y2="1484.99" stroke="#b4b4b4" stroke-width="1.4" stroke-dasharray="1.6,3.2"/>
<line x1="246.5" y1="1434.7" x2="612.4" y2="1425.16" stroke="#b4b4b4" stroke-width="1.4" stroke-dasharray="1.6,3.2"/>
<line x1="612.4" y1="1425.16" x2="686.8" y2="1472.78" stroke="#b4b4b4" stroke-width="1.4" stroke-dasharray="1.6,3.2"/>
<line x1="246.5" y1="1426.05" x2="612.4" y2="1416.54" stroke="#b4b4b4" stroke-width="1.4" stroke-dasharray="1.6,3.2"/>
<line x1="612.4" y1="1416.54" x2="686.8" y2="1464.11" stroke="#b4b4b4" stroke-width="1.4" stroke-dasharray="1.6,3.2"/>
<line x1="246.5" y1="1419.34" x2="612.4" y2="1409.86" stroke="#b4b4b4" stroke-width="1.4" stroke-dasharray="1.6,3.2"/>
<line x1="612.4" y1="1409.86" x2="686.8" y2="1457.39" stroke="#b4b4b4" stroke-width="1.4" stroke-dasharray="1.6,3.2"/>
<line x1="246.5" y1="1413.86" x2="612.4" y2="1404.4" stroke="#b4b4b4" stroke-width="1.4" stroke-dasharray="1.6,3.2"/>
<line x1="612.4" y1="1404.4" x2="686.8" y2="1451.89" stroke="#b4b4b4" stroke-width="1.4" stroke-dasharray="1.6,3.2"/>
<line x1="246.5" y1="1409.23" x2="612.4" y2="1399.78" stroke="#b4b4b4" stroke-width="1.4" stroke-dasharray="1.6,3.2"/>
<line x1="612.4" y1="1399.78" x2="686.8" y2="1447.25" stroke="#b4b4b4" stroke-width="1.4" stroke-dasharray="1.6,3.2"/>
<line x1="246.5" y1="1405.21" x2="612.4" y2="1395.78" stroke="#b4b4b4" stroke-width="1.4" stroke-dasharray="1.6,3.2"/>
<line x1="612.4" y1="1395.78" x2="686.8" y2="1443.22" stroke="#b4b4b4" stroke-width="1.4" stroke-dasharray="1.6,3.2"/>
<line x1="246.5" y1="1401.67" x2="612.4" y2="1392.26" stroke="#b4b4b4" stroke-width="1.4" stroke-dasharray="1.6,3.2"/>
<line x1="612.4" y1="1392.26" x2="686.8" y2="1439.67" stroke="#b4b4b4" stroke-width="1.4" stroke-dasharray="1.6,3.2"/>
<line x1="246.5" y1="1398.5" x2="612.4" y2="1389.1" stroke="#d4d4d4" stroke-width="1.8"/>
<line x1="612.4" y1="1389.1" x2="686.8" y2="1436.5" stroke="#d4d4d4" stroke-width="1.6"/>
<line x1="246.5" y1="1467.74" x2="612.4" y2="1458.06" stroke="#d4d4d4" stroke-width="1.8"/>
<line x1="612.4" y1="1458.06" x2="686.8" y2="1505.88" stroke="#d4d4d4" stroke-width="1.6"/>
<line x1="246.5" y1="1536.98" x2="612.4" y2="1527.02" stroke="#d4d4d4" stroke-width="1.8"/>
<line x1="612.4" y1="1527.02" x2="686.8" y2="1575.26" stroke="#d4d4d4" stroke-width="1.6"/>
<line x1="246.5" y1="1606.22" x2="612.4" y2="1595.98" stroke="#d4d4d4" stroke-width="1.8"/>
<line x1="612.4" y1="1595.98" x2="686.8" y2="1644.64" stroke="#d4d4d4" stroke-width="1.6"/>
<line x1="246.5" y1="1675.46" x2="612.4" y2="1664.94" stroke="#d4d4d4" stroke-width="1.8"/>
<line x1="612.4" y1="1664.94" x2="686.8" y2="1714.02" stroke="#d4d4d4" stroke-width="1.6"/>
<line x1="246.5" y1="1744.7" x2="612.4" y2="1733.9" stroke="#d4d4d4" stroke-width="1.8"/>
<line x1="612.4" y1="1733.9" x2="686.8" y2="1783.4" stroke="#d4d4d4" stroke-width="1.6"/>
<line x1="352.61" y1="1395.77" x2="352.61" y2="1741.57" stroke="#d4d4d4" stroke-width="1.6"/>
<line x1="460.55" y1="1393" x2="460.55" y2="1738.38" stroke="#d4d4d4" stroke-width="1.6"/>
<line x1="566.66" y1="1390.27" x2="566.66" y2="1735.25" stroke="#d4d4d4" stroke-width="1.6"/>
<line x1="612.4" y1="1389.1" x2="612.4" y2="1733.9" stroke="#d4d4d4" stroke-width="1.6"/>
<line x1="645.88" y1="1410.43" x2="645.88" y2="1756.18" stroke="#d4d4d4" stroke-width="1.4"/>
<line x1="686.8" y1="1436.5" x2="686.8" y2="1783.4" stroke="#d4d4d4" stroke-width="1.4"/>
<line x1="269.83" y1="1761.2" x2="636.73" y2="1750.4" stroke="#d4d4d4" stroke-width="1.5"/>
<line x1="294.57" y1="1777.7" x2="661.97" y2="1766.9" stroke="#d4d4d4" stroke-width="1.5"/>
<line x1="351.36" y1="1741.57" x2="425.99" y2="1791.07" stroke="#d4d4d4" stroke-width="1.5"/>
<line x1="459.44" y1="1738.38" x2="534.52" y2="1787.88" stroke="#d4d4d4" stroke-width="1.5"/>
<line x1="565.7" y1="1735.25" x2="641.21" y2="1784.75" stroke="#d4d4d4" stroke-width="1.5"/>
<line x1="245.1" y1="1744.7" x2="611.5" y2="1733.9" stroke="#bbbbbb" stroke-width="1.6"/>
<line x1="611.5" y1="1733.9" x2="687.2" y2="1783.4" stroke="#bbbbbb" stroke-width="1.6"/>
<line x1="686.8" y1="1436.5" x2="686.8" y2="1783.4" stroke="#cccccc" stroke-width="1.6"/>
<line x1="253.27" y1="1536.85" x2="277.87" y2="1775.41" stroke="#111111" stroke-width="1.9" stroke-linecap="round" opacity="0.9"/>
<line x1="277.87" y1="1775.41" x2="302.47" y2="1612.03" stroke="#111111" stroke-width="1.9" stroke-linecap="round" opacity="0.9"/>
<line x1="302.47" y1="1612.03" x2="327.07" y2="1649.62" stroke="#111111" stroke-width="1.9" stroke-linecap="round" opacity="0.9"/>
<line x1="256.45" y1="1536.76" x2="281.05" y2="1622.86" stroke="#111111" stroke-width="1.9" stroke-linecap="round" opacity="0.9"/>
<line x1="281.05" y1="1622.86" x2="305.65" y2="1605.01" stroke="#111111" stroke-width="1.9" stroke-linecap="round" opacity="0.9"/>
<line x1="305.65" y1="1605.01" x2="330.25" y2="1677.25" stroke="#111111" stroke-width="1.9" stroke-linecap="round" opacity="0.9"/>
<line x1="258.05" y1="1536.72" x2="282.65" y2="1574.31" stroke="#111111" stroke-width="1.9" stroke-linecap="round" opacity="0.9"/>
<line x1="282.65" y1="1574.31" x2="307.25" y2="1625.76" stroke="#111111" stroke-width="1.9" stroke-linecap="round" opacity="0.9"/>
<line x1="307.25" y1="1625.76" x2="331.85" y2="1663.35" stroke="#111111" stroke-width="1.9" stroke-linecap="round" opacity="0.9"/>
<line x1="294.78" y1="1560.68" x2="308.84" y2="1598" stroke="#111111" stroke-width="1.9" stroke-linecap="round" opacity="0.9"/>
<line x1="308.84" y1="1598" x2="325.24" y2="1581.48" stroke="#111111" stroke-width="1.9" stroke-linecap="round" opacity="0.9"/>
<line x1="261.23" y1="1536.63" x2="285.83" y2="1608.87" stroke="#111111" stroke-width="1.9" stroke-linecap="round" opacity="0.9"/>
<line x1="285.83" y1="1608.87" x2="310.43" y2="1646.46" stroke="#111111" stroke-width="1.9" stroke-linecap="round" opacity="0.9"/>
<line x1="310.43" y1="1646.46" x2="335.03" y2="1621.68" stroke="#111111" stroke-width="1.9" stroke-linecap="round" opacity="0.9"/>
<line x1="264.41" y1="1536.55" x2="289.01" y2="1558.44" stroke="#ff0080" stroke-width="1.25" stroke-linecap="round" opacity="0.9"/>
<line x1="289.01" y1="1558.44" x2="292.94" y2="1556.03" stroke="#ff0080" stroke-width="1.25" stroke-linecap="round" opacity="0.9"/>
<line x1="335.11" y1="1584.83" x2="338.21" y2="1590.8" stroke="#ff0080" stroke-width="1.25" stroke-linecap="round" opacity="0.9"/>
<line x1="266" y1="1536.5" x2="290.6" y2="1560.86" stroke="#ff0084" stroke-width="1.25" stroke-linecap="round" opacity="0.9"/>
<line x1="290.6" y1="1560.86" x2="315.2" y2="1603.23" stroke="#ff0084" stroke-width="1.25" stroke-linecap="round" opacity="0.9"/>
<line x1="315.2" y1="1603.23" x2="339.8" y2="1590.23" stroke="#ff0084" stroke-width="1.25" stroke-linecap="round" opacity="0.9"/>
<line x1="267.59" y1="1536.46" x2="292.19" y2="1768.89" stroke="#ff0089" stroke-width="1.25" stroke-linecap="round" opacity="0.9"/>
<line x1="292.19" y1="1768.89" x2="314.4" y2="1568.43" stroke="#ff0089" stroke-width="1.25" stroke-linecap="round" opacity="0.9"/>
<line x1="308.56" y1="1562.18" x2="319.97" y2="1583.36" stroke="#ff0092" stroke-width="1.25" stroke-linecap="round" opacity="0.9"/>
<line x1="319.97" y1="1583.36" x2="331.44" y2="1577.81" stroke="#ff0092" stroke-width="1.25" stroke-linecap="round" opacity="0.9"/>
<line x1="341.88" y1="1583.8" x2="346.16" y2="1598.79" stroke="#ff0096" stroke-width="1.25" stroke-linecap="round" opacity="0.9"/>
<line x1="273.95" y1="1536.29" x2="298.55" y2="1638.13" stroke="#ff009b" stroke-width="1.25" stroke-linecap="round" opacity="0.9"/>
<line x1="298.55" y1="1638.13" x2="311.68" y2="1562.05" stroke="#ff009b" stroke-width="1.25" stroke-linecap="round" opacity="0.9"/>
<line x1="324.6" y1="1569.75" x2="324.74" y2="1570.02" stroke="#ff009f" stroke-width="1.25" stroke-linecap="round" opacity="0.9"/>
<line x1="324.74" y1="1570.02" x2="324.9" y2="1569.95" stroke="#ff009f" stroke-width="1.25" stroke-linecap="round" opacity="0.9"/>
<line x1="278.73" y1="1536.16" x2="303.33" y2="1571.43" stroke="#ff00a8" stroke-width="1.25" stroke-linecap="round" opacity="0.9"/>
<line x1="303.33" y1="1571.43" x2="327.93" y2="1615.93" stroke="#ff00a8" stroke-width="1.25" stroke-linecap="round" opacity="0.9"/>
<line x1="327.93" y1="1615.93" x2="352.53" y2="1610.13" stroke="#ff00a8" stroke-width="1.25" stroke-linecap="round" opacity="0.9"/>
<line x1="280.32" y1="1536.11" x2="304.92" y2="1583.8" stroke="#ff00ac" stroke-width="1.25" stroke-linecap="round" opacity="0.9"/>
<line x1="304.92" y1="1583.8" x2="315.17" y2="1559.92" stroke="#ff00ac" stroke-width="1.25" stroke-linecap="round" opacity="0.9"/>
<line x1="283.5" y1="1536.03" x2="308.1" y2="1579.72" stroke="#ff00b5" stroke-width="1.25" stroke-linecap="round" opacity="0.9"/>
<line x1="308.1" y1="1579.72" x2="321.79" y2="1562.18" stroke="#ff00b5" stroke-width="1.25" stroke-linecap="round" opacity="0.9"/>
<line x1="342.26" y1="1576.15" x2="357.3" y2="1620.13" stroke="#ff00b5" stroke-width="1.25" stroke-linecap="round" opacity="0.9"/>
<line x1="285.09" y1="1535.98" x2="309.69" y2="1570.64" stroke="#ff00ba" stroke-width="1.25" stroke-linecap="round" opacity="0.9"/>
<line x1="309.69" y1="1570.64" x2="334.29" y2="1586.79" stroke="#ff00ba" stroke-width="1.25" stroke-linecap="round" opacity="0.9"/>
<line x1="334.29" y1="1586.79" x2="338.84" y2="1572.69" stroke="#ff00ba" stroke-width="1.25" stroke-linecap="round" opacity="0.9"/>
<line x1="286.68" y1="1535.94" x2="311.28" y2="1557" stroke="#ff00be" stroke-width="1.25" stroke-linecap="round" opacity="0.9"/>
<line x1="311.28" y1="1557" x2="335.88" y2="1593.52" stroke="#ff00be" stroke-width="1.25" stroke-linecap="round" opacity="0.9"/>
<line x1="335.88" y1="1593.52" x2="360.48" y2="1626.1" stroke="#ff00be" stroke-width="1.25" stroke-linecap="round" opacity="0.9"/>
<line x1="288.27" y1="1535.9" x2="312.87" y2="1570.03" stroke="#ff00c3" stroke-width="1.25" stroke-linecap="round" opacity="0.9"/>
<line x1="312.87" y1="1570.03" x2="318.92" y2="1556.83" stroke="#ff00c3" stroke-width="1.25" stroke-linecap="round" opacity="0.9"/>
<line x1="351.22" y1="1578.88" x2="362.07" y2="1628.25" stroke="#ff00c3" stroke-width="1.25" stroke-linecap="round" opacity="0.9"/>
<line x1="289.86" y1="1535.85" x2="314.46" y2="1574.6" stroke="#ff00c7" stroke-width="1.25" stroke-linecap="round" opacity="0.9"/>
<line x1="314.46" y1="1574.6" x2="319.28" y2="1555.95" stroke="#ff00c7" stroke-width="1.25" stroke-linecap="round" opacity="0.9"/>
<line x1="347.18" y1="1573.87" x2="365.25" y2="1604.52" stroke="#ff00cb" stroke-width="1.25" stroke-linecap="round" opacity="0.9"/>
<line x1="293.04" y1="1535.77" x2="317.64" y2="1558.76" stroke="#ff00d0" stroke-width="1.25" stroke-linecap="round" opacity="0.9"/>
<line x1="317.64" y1="1558.76" x2="329.78" y2="1560.85" stroke="#ff00d0" stroke-width="1.25" stroke-linecap="round" opacity="0.9"/>
<line x1="346.64" y1="1572.37" x2="366.84" y2="1615.39" stroke="#ff00d0" stroke-width="1.25" stroke-linecap="round" opacity="0.9"/>
<line x1="294.64" y1="1535.72" x2="319.24" y2="1608.57" stroke="#ff00d4" stroke-width="1.25" stroke-linecap="round" opacity="0.9"/>
<line x1="319.24" y1="1608.57" x2="343.84" y2="1639.88" stroke="#ff00d4" stroke-width="1.25" stroke-linecap="round" opacity="0.9"/>
<line x1="343.84" y1="1639.88" x2="368.44" y2="1618.17" stroke="#ff00d4" stroke-width="1.25" stroke-linecap="round" opacity="0.9"/>
<line x1="296.23" y1="1535.68" x2="320.83" y2="1571.93" stroke="#ff00d9" stroke-width="1.25" stroke-linecap="round" opacity="0.9"/>
<line x1="320.83" y1="1571.93" x2="326.52" y2="1556.37" stroke="#ff00d9" stroke-width="1.25" stroke-linecap="round" opacity="0.9"/>
<line x1="360.64" y1="1579.67" x2="370.03" y2="1625.95" stroke="#ff00d9" stroke-width="1.25" stroke-linecap="round" opacity="0.9"/>
<line x1="297.82" y1="1535.64" x2="322.42" y2="1577.49" stroke="#ff00dd" stroke-width="1.25" stroke-linecap="round" opacity="0.9"/>
<line x1="322.42" y1="1577.49" x2="347.02" y2="1640.3" stroke="#ff00dd" stroke-width="1.25" stroke-linecap="round" opacity="0.9"/>
<line x1="347.02" y1="1640.3" x2="364.81" y2="1581.39" stroke="#ff00dd" stroke-width="1.25" stroke-linecap="round" opacity="0.9"/>
<line x1="344.32" y1="1566.27" x2="348.61" y2="1579.71" stroke="#ff00e2" stroke-width="1.25" stroke-linecap="round" opacity="0.9"/>
<line x1="348.61" y1="1579.71" x2="373.21" y2="1588.01" stroke="#ff00e2" stroke-width="1.25" stroke-linecap="round" opacity="0.9"/>
<line x1="301" y1="1535.55" x2="325.6" y2="1559.43" stroke="#ff00e6" stroke-width="1.25" stroke-linecap="round" opacity="0.9"/>
<line x1="325.6" y1="1559.43" x2="350.2" y2="1581.62" stroke="#ff00e6" stroke-width="1.25" stroke-linecap="round" opacity="0.9"/>
<line x1="350.2" y1="1581.62" x2="374.8" y2="1637.66" stroke="#ff00e6" stroke-width="1.25" stroke-linecap="round" opacity="0.9"/>
<line x1="361.6" y1="1575.81" x2="376.39" y2="1589.22" stroke="#ff00eb" stroke-width="1.25" stroke-linecap="round" opacity="0.9"/>
<line x1="362.05" y1="1574.98" x2="377.98" y2="1588.07" stroke="#ff00ef" stroke-width="1.25" stroke-linecap="round" opacity="0.9"/>
<line x1="305.77" y1="1535.42" x2="330.37" y2="1571.17" stroke="#ff00f3" stroke-width="1.25" stroke-linecap="round" opacity="0.9"/>
<line x1="330.37" y1="1571.17" x2="345.65" y2="1562.66" stroke="#ff00f3" stroke-width="1.25" stroke-linecap="round" opacity="0.9"/>
<line x1="364.73" y1="1574.55" x2="381.16" y2="1601.97" stroke="#ff00f8" stroke-width="1.25" stroke-linecap="round" opacity="0.9"/>
<line x1="310.54" y1="1535.29" x2="335.14" y2="1558.87" stroke="#fd00ff" stroke-width="1.25" stroke-linecap="round" opacity="0.9"/>
<line x1="335.14" y1="1558.87" x2="359.74" y2="1613.2" stroke="#fd00ff" stroke-width="1.25" stroke-linecap="round" opacity="0.9"/>
<line x1="359.74" y1="1613.2" x2="376.18" y2="1580.11" stroke="#fd00ff" stroke-width="1.25" stroke-linecap="round" opacity="0.9"/>
<line x1="350.94" y1="1561.75" x2="361.33" y2="1614.75" stroke="#f900ff" stroke-width="1.25" stroke-linecap="round" opacity="0.9"/>
<line x1="361.33" y1="1614.75" x2="376.7" y2="1579.34" stroke="#f900ff" stroke-width="1.25" stroke-linecap="round" opacity="0.9"/>
<line x1="313.73" y1="1535.2" x2="338.33" y2="1571.8" stroke="#f500ff" stroke-width="1.25" stroke-linecap="round" opacity="0.9"/>
<line x1="338.33" y1="1571.8" x2="362.93" y2="1597.04" stroke="#f500ff" stroke-width="1.25" stroke-linecap="round" opacity="0.9"/>
<line x1="362.93" y1="1597.04" x2="375.87" y2="1577.64" stroke="#f500ff" stroke-width="1.25" stroke-linecap="round" opacity="0.9"/>
<line x1="353.85" y1="1561.48" x2="364.52" y2="1632.78" stroke="#f000ff" stroke-width="1.25" stroke-linecap="round" opacity="0.9"/>
<line x1="364.52" y1="1632.78" x2="383.12" y2="1581.47" stroke="#f000ff" stroke-width="1.25" stroke-linecap="round" opacity="0.9"/>
<line x1="318.5" y1="1535.07" x2="343.1" y2="1601.54" stroke="#e800ff" stroke-width="1.25" stroke-linecap="round" opacity="0.9"/>
<line x1="343.1" y1="1601.54" x2="363.31" y2="1565.68" stroke="#e800ff" stroke-width="1.25" stroke-linecap="round" opacity="0.9"/>
<line x1="350.61" y1="1555.88" x2="369.29" y2="1597.94" stroke="#e400ff" stroke-width="1.25" stroke-linecap="round" opacity="0.9"/>
<line x1="369.29" y1="1597.94" x2="382.56" y2="1577.7" stroke="#e400ff" stroke-width="1.25" stroke-linecap="round" opacity="0.9"/>
<line x1="321.68" y1="1534.99" x2="346.28" y2="1640.29" stroke="#df00ff" stroke-width="1.25" stroke-linecap="round" opacity="0.9"/>
<line x1="346.28" y1="1640.29" x2="370.88" y2="1604.69" stroke="#df00ff" stroke-width="1.25" stroke-linecap="round" opacity="0.9"/>
<line x1="370.88" y1="1604.69" x2="395.48" y2="1598.13" stroke="#df00ff" stroke-width="1.25" stroke-linecap="round" opacity="0.9"/>
<line x1="323.27" y1="1534.94" x2="347.87" y2="1592.8" stroke="#db00ff" stroke-width="1.25" stroke-linecap="round" opacity="0.9"/>
<line x1="347.87" y1="1592.8" x2="372.47" y2="1609.16" stroke="#db00ff" stroke-width="1.25" stroke-linecap="round" opacity="0.9"/>
<line x1="372.47" y1="1609.16" x2="397.07" y2="1621.85" stroke="#db00ff" stroke-width="1.25" stroke-linecap="round" opacity="0.9"/>
<line x1="326.45" y1="1534.86" x2="351.05" y2="1629.33" stroke="#d200ff" stroke-width="1.25" stroke-linecap="round" opacity="0.9"/>
<line x1="351.05" y1="1629.33" x2="371.06" y2="1565.32" stroke="#d200ff" stroke-width="1.25" stroke-linecap="round" opacity="0.9"/>
<line x1="384.1" y1="1574.23" x2="400.25" y2="1619.36" stroke="#d200ff" stroke-width="1.25" stroke-linecap="round" opacity="0.9"/>
<line x1="328.04" y1="1534.81" x2="352.64" y2="1561.72" stroke="#ce00ff" stroke-width="1.25" stroke-linecap="round" opacity="0.9"/>
<line x1="352.64" y1="1561.72" x2="361.79" y2="1557.86" stroke="#ce00ff" stroke-width="1.25" stroke-linecap="round" opacity="0.9"/>
<line x1="396.83" y1="1581.79" x2="401.84" y2="1589.58" stroke="#ce00ff" stroke-width="1.25" stroke-linecap="round" opacity="0.9"/>
<line x1="329.63" y1="1534.77" x2="354.23" y2="1557.17" stroke="#ca00ff" stroke-width="1.25" stroke-linecap="round" opacity="0.9"/>
<line x1="354.23" y1="1557.17" x2="357.95" y2="1554.11" stroke="#ca00ff" stroke-width="1.25" stroke-linecap="round" opacity="0.9"/>
<line x1="334.41" y1="1534.64" x2="359.01" y2="1552.09" stroke="#bd00ff" stroke-width="1.25" stroke-linecap="round" opacity="0.9"/>
<line x1="359.01" y1="1552.09" x2="360.2" y2="1552.25" stroke="#bd00ff" stroke-width="1.25" stroke-linecap="round" opacity="0.9"/>
<line x1="336" y1="1534.6" x2="360.6" y2="1586.6" stroke="#b900ff" stroke-width="1.25" stroke-linecap="round" opacity="0.9"/>
<line x1="360.6" y1="1586.6" x2="375.12" y2="1561.32" stroke="#b900ff" stroke-width="1.25" stroke-linecap="round" opacity="0.9"/>
<line x1="337.59" y1="1534.55" x2="362.19" y2="1568.54" stroke="#b400ff" stroke-width="1.25" stroke-linecap="round" opacity="0.9"/>
<line x1="362.19" y1="1568.54" x2="369.86" y2="1556.59" stroke="#b400ff" stroke-width="1.25" stroke-linecap="round" opacity="0.9"/>
<line x1="340.77" y1="1534.47" x2="365.37" y2="1563.25" stroke="#ac00ff" stroke-width="1.25" stroke-linecap="round" opacity="0.9"/>
<line x1="365.37" y1="1563.25" x2="380.63" y2="1561.69" stroke="#ac00ff" stroke-width="1.25" stroke-linecap="round" opacity="0.9"/>
<line x1="390.18" y1="1567.08" x2="391.56" y2="1569.71" stroke="#a400ff" stroke-width="1.25" stroke-linecap="round" opacity="0.9"/>
<line x1="391.56" y1="1569.71" x2="392.05" y2="1568.36" stroke="#a400ff" stroke-width="1.25" stroke-linecap="round" opacity="0.9"/>
<line x1="345.54" y1="1534.34" x2="370.14" y2="1561.04" stroke="#9100ff" stroke-width="1.25" stroke-linecap="round" opacity="0.9"/>
<line x1="370.14" y1="1561.04" x2="375.34" y2="1554.68" stroke="#9100ff" stroke-width="1.25" stroke-linecap="round" opacity="0.9"/>
<line x1="348.72" y1="1534.25" x2="373.32" y2="1556.68" stroke="#7e00ff" stroke-width="1.25" stroke-linecap="round" opacity="0.9"/>
<line x1="373.32" y1="1556.68" x2="397.92" y2="1573.04" stroke="#7e00ff" stroke-width="1.25" stroke-linecap="round" opacity="0.9"/>
<line x1="397.92" y1="1573.04" x2="422.52" y2="1609.62" stroke="#7e00ff" stroke-width="1.25" stroke-linecap="round" opacity="0.9"/>
<line x1="350.32" y1="1534.21" x2="374.92" y2="1562.29" stroke="#7400ff" stroke-width="1.25" stroke-linecap="round" opacity="0.9"/>
<line x1="374.92" y1="1562.29" x2="382.73" y2="1556.35" stroke="#7400ff" stroke-width="1.25" stroke-linecap="round" opacity="0.9"/>
<line x1="351.91" y1="1534.17" x2="376.51" y2="1596.22" stroke="#6a00ff" stroke-width="1.25" stroke-linecap="round" opacity="0.9"/>
<line x1="376.51" y1="1596.22" x2="395.85" y2="1564.18" stroke="#6a00ff" stroke-width="1.25" stroke-linecap="round" opacity="0.9"/>
<line x1="408.09" y1="1572.53" x2="425.71" y2="1615.59" stroke="#6a00ff" stroke-width="1.25" stroke-linecap="round" opacity="0.9"/>
<line x1="380.29" y1="1552.42" x2="402.7" y2="1755.29" stroke="#6100ff" stroke-width="1.25" stroke-linecap="round" opacity="0.9"/>
<line x1="402.7" y1="1755.29" x2="419.53" y2="1579.22" stroke="#6100ff" stroke-width="1.25" stroke-linecap="round" opacity="0.9"/>
<line x1="355.09" y1="1534.08" x2="379.69" y2="1553.03" stroke="#5700ff" stroke-width="1.25" stroke-linecap="round" opacity="0.9"/>
<line x1="379.69" y1="1553.03" x2="381.15" y2="1551.88" stroke="#5700ff" stroke-width="1.25" stroke-linecap="round" opacity="0.9"/>
<line x1="413.52" y1="1573.98" x2="428.89" y2="1640.98" stroke="#5700ff" stroke-width="1.25" stroke-linecap="round" opacity="0.9"/>
<line x1="430.19" y1="1584.24" x2="430.48" y2="1585.1" stroke="#4d00ff" stroke-width="1.25" stroke-linecap="round" opacity="0.9"/>
<line x1="361.45" y1="1533.91" x2="386.05" y2="1557.38" stroke="#3000ff" stroke-width="1.25" stroke-linecap="round" opacity="0.9"/>
<line x1="386.05" y1="1557.38" x2="387.75" y2="1551.86" stroke="#3000ff" stroke-width="1.25" stroke-linecap="round" opacity="0.9"/>
<line x1="427.41" y1="1578.95" x2="435.25" y2="1626.45" stroke="#3000ff" stroke-width="1.25" stroke-linecap="round" opacity="0.9"/>
<line x1="409.48" y1="1565.58" x2="412.24" y2="1572.97" stroke="#2700ff" stroke-width="1.25" stroke-linecap="round" opacity="0.9"/>
<line x1="412.24" y1="1572.97" x2="420.42" y2="1573.05" stroke="#2700ff" stroke-width="1.25" stroke-linecap="round" opacity="0.9"/>
<line x1="366.22" y1="1533.78" x2="390.82" y2="1608.54" stroke="#1300ff" stroke-width="1.25" stroke-linecap="round" opacity="0.9"/>
<line x1="390.82" y1="1608.54" x2="415.42" y2="1624.6" stroke="#1300ff" stroke-width="1.25" stroke-linecap="round" opacity="0.9"/>
<line x1="415.42" y1="1624.6" x2="431.36" y2="1578.26" stroke="#1300ff" stroke-width="1.25" stroke-linecap="round" opacity="0.9"/>
<line x1="367.82" y1="1533.73" x2="392.42" y2="1585.04" stroke="#0a00ff" stroke-width="1.25" stroke-linecap="round" opacity="0.9"/>
<line x1="392.42" y1="1585.04" x2="417.02" y2="1604.48" stroke="#0a00ff" stroke-width="1.25" stroke-linecap="round" opacity="0.9"/>
<line x1="417.02" y1="1604.48" x2="441.62" y2="1639.72" stroke="#0a00ff" stroke-width="1.25" stroke-linecap="round" opacity="0.9"/>
<line x1="371" y1="1533.65" x2="395.6" y2="1583.89" stroke="#0006ff" stroke-width="1.25" stroke-linecap="round" opacity="0.9"/>
<line x1="395.6" y1="1583.89" x2="416.68" y2="1564.84" stroke="#0006ff" stroke-width="1.25" stroke-linecap="round" opacity="0.9"/>
<line x1="423.09" y1="1569.22" x2="444.8" y2="1625.92" stroke="#0006ff" stroke-width="1.25" stroke-linecap="round" opacity="0.9"/>
<line x1="438.88" y1="1578.87" x2="446.39" y2="1615.47" stroke="#000dff" stroke-width="1.25" stroke-linecap="round" opacity="0.9"/>
<line x1="447.04" y1="1583.32" x2="447.98" y2="1585.81" stroke="#0013ff" stroke-width="1.25" stroke-linecap="round" opacity="0.9"/>
<line x1="375.77" y1="1533.52" x2="400.37" y2="1626.77" stroke="#0019ff" stroke-width="1.25" stroke-linecap="round" opacity="0.9"/>
<line x1="400.37" y1="1626.77" x2="413.76" y2="1559.46" stroke="#0019ff" stroke-width="1.25" stroke-linecap="round" opacity="0.9"/>
<line x1="377.36" y1="1533.47" x2="401.96" y2="1569.79" stroke="#001fff" stroke-width="1.25" stroke-linecap="round" opacity="0.9"/>
<line x1="401.96" y1="1569.79" x2="413.48" y2="1558.14" stroke="#001fff" stroke-width="1.25" stroke-linecap="round" opacity="0.9"/>
<line x1="419.49" y1="1561.11" x2="428.15" y2="1603.9" stroke="#0026ff" stroke-width="1.25" stroke-linecap="round" opacity="0.9"/>
<line x1="428.15" y1="1603.9" x2="438.27" y2="1573.94" stroke="#0026ff" stroke-width="1.25" stroke-linecap="round" opacity="0.9"/>
<line x1="453.63" y1="1583.3" x2="454.34" y2="1585.75" stroke="#002cff" stroke-width="1.25" stroke-linecap="round" opacity="0.9"/>
<line x1="382.13" y1="1533.34" x2="406.73" y2="1575.54" stroke="#0032ff" stroke-width="1.25" stroke-linecap="round" opacity="0.9"/>
<line x1="406.73" y1="1575.54" x2="415.26" y2="1555.96" stroke="#0032ff" stroke-width="1.25" stroke-linecap="round" opacity="0.9"/>
<line x1="455.63" y1="1582.4" x2="457.52" y2="1589.11" stroke="#0038ff" stroke-width="1.25" stroke-linecap="round" opacity="0.9"/>
<line x1="385.31" y1="1533.26" x2="409.91" y2="1640.01" stroke="#003fff" stroke-width="1.25" stroke-linecap="round" opacity="0.9"/>
<line x1="409.91" y1="1640.01" x2="434.51" y2="1577.41" stroke="#003fff" stroke-width="1.25" stroke-linecap="round" opacity="0.9"/>
<line x1="434.51" y1="1577.41" x2="459.11" y2="1655.2" stroke="#003fff" stroke-width="1.25" stroke-linecap="round" opacity="0.9"/>
<line x1="448.04" y1="1574.96" x2="460.71" y2="1603.48" stroke="#0045ff" stroke-width="1.25" stroke-linecap="round" opacity="0.9"/>
<line x1="459.67" y1="1579.52" x2="465.48" y2="1605.87" stroke="#0058ff" stroke-width="1.25" stroke-linecap="round" opacity="0.9"/>
<line x1="426.91" y1="1556.02" x2="442.47" y2="1639.1" stroke="#005eff" stroke-width="1.25" stroke-linecap="round" opacity="0.9"/>
<line x1="442.47" y1="1639.1" x2="467.07" y2="1622.94" stroke="#005eff" stroke-width="1.25" stroke-linecap="round" opacity="0.9"/>
<line x1="394.86" y1="1533" x2="419.46" y2="1625.86" stroke="#0064ff" stroke-width="1.25" stroke-linecap="round" opacity="0.9"/>
<line x1="419.46" y1="1625.86" x2="434.3" y2="1559.93" stroke="#0064ff" stroke-width="1.25" stroke-linecap="round" opacity="0.9"/>
<line x1="456.91" y1="1575.37" x2="468.66" y2="1629.08" stroke="#0064ff" stroke-width="1.25" stroke-linecap="round" opacity="0.9"/>
<line x1="437.58" y1="1561.04" x2="445.65" y2="1569" stroke="#006aff" stroke-width="1.25" stroke-linecap="round" opacity="0.9"/>
<line x1="445.65" y1="1569" x2="454.5" y2="1572.6" stroke="#006aff" stroke-width="1.25" stroke-linecap="round" opacity="0.9"/>
<line x1="398.04" y1="1532.91" x2="422.64" y2="1568.76" stroke="#0071ff" stroke-width="1.25" stroke-linecap="round" opacity="0.9"/>
<line x1="422.64" y1="1568.76" x2="436.3" y2="1559.04" stroke="#0071ff" stroke-width="1.25" stroke-linecap="round" opacity="0.9"/>
<line x1="401.22" y1="1532.82" x2="425.82" y2="1552.31" stroke="#0082ff" stroke-width="1.25" stroke-linecap="round" opacity="0.9"/>
<line x1="425.82" y1="1552.31" x2="450.42" y2="1613.26" stroke="#0082ff" stroke-width="1.25" stroke-linecap="round" opacity="0.9"/>
<line x1="450.42" y1="1613.26" x2="475.02" y2="1600.77" stroke="#0082ff" stroke-width="1.25" stroke-linecap="round" opacity="0.9"/>
<line x1="438.33" y1="1557.03" x2="452.01" y2="1629.29" stroke="#008aff" stroke-width="1.25" stroke-linecap="round" opacity="0.9"/>
<line x1="452.01" y1="1629.29" x2="476.61" y2="1602.49" stroke="#008aff" stroke-width="1.25" stroke-linecap="round" opacity="0.9"/>
<line x1="460.67" y1="1570.03" x2="479.8" y2="1626.57" stroke="#009aff" stroke-width="1.25" stroke-linecap="round" opacity="0.9"/>
<line x1="407.59" y1="1532.65" x2="432.19" y2="1608.93" stroke="#00a3ff" stroke-width="1.25" stroke-linecap="round" opacity="0.9"/>
<line x1="432.19" y1="1608.93" x2="456.79" y2="1587.27" stroke="#00a3ff" stroke-width="1.25" stroke-linecap="round" opacity="0.9"/>
<line x1="456.79" y1="1587.27" x2="464.75" y2="1571.69" stroke="#00a3ff" stroke-width="1.25" stroke-linecap="round" opacity="0.9"/>
<line x1="409.18" y1="1532.61" x2="433.78" y2="1567.38" stroke="#00abff" stroke-width="1.25" stroke-linecap="round" opacity="0.9"/>
<line x1="433.78" y1="1567.38" x2="458.38" y2="1598.18" stroke="#00abff" stroke-width="1.25" stroke-linecap="round" opacity="0.9"/>
<line x1="458.38" y1="1598.18" x2="482.98" y2="1609.52" stroke="#00abff" stroke-width="1.25" stroke-linecap="round" opacity="0.9"/>
<line x1="410.77" y1="1532.56" x2="435.37" y2="1607.51" stroke="#00b3ff" stroke-width="1.25" stroke-linecap="round" opacity="0.9"/>
<line x1="435.37" y1="1607.51" x2="459.69" y2="1565.97" stroke="#00b3ff" stroke-width="1.25" stroke-linecap="round" opacity="0.9"/>
<line x1="460.34" y1="1566.42" x2="484.57" y2="1626.47" stroke="#00b3ff" stroke-width="1.25" stroke-linecap="round" opacity="0.9"/>
<line x1="441.45" y1="1552.39" x2="461.56" y2="1658.71" stroke="#00bbff" stroke-width="1.25" stroke-linecap="round" opacity="0.9"/>
<line x1="461.56" y1="1658.71" x2="481.94" y2="1580.04" stroke="#00bbff" stroke-width="1.25" stroke-linecap="round" opacity="0.9"/>
<line x1="413.95" y1="1532.48" x2="438.55" y2="1570.41" stroke="#00c4ff" stroke-width="1.25" stroke-linecap="round" opacity="0.9"/>
<line x1="438.55" y1="1570.41" x2="463.15" y2="1763.05" stroke="#00c4ff" stroke-width="1.25" stroke-linecap="round" opacity="0.9"/>
<line x1="463.15" y1="1763.05" x2="483.98" y2="1580.3" stroke="#00c4ff" stroke-width="1.25" stroke-linecap="round" opacity="0.9"/>
<line x1="415.54" y1="1532.43" x2="440.14" y2="1555.14" stroke="#00ccff" stroke-width="1.25" stroke-linecap="round" opacity="0.9"/>
<line x1="440.14" y1="1555.14" x2="441.83" y2="1550.39" stroke="#00ccff" stroke-width="1.25" stroke-linecap="round" opacity="0.9"/>
<line x1="484" y1="1579.18" x2="489.34" y2="1605.07" stroke="#00ccff" stroke-width="1.25" stroke-linecap="round" opacity="0.9"/>
<line x1="483.4" y1="1577.65" x2="490.93" y2="1592.33" stroke="#00d4ff" stroke-width="1.25" stroke-linecap="round" opacity="0.9"/>
<line x1="420.31" y1="1532.3" x2="444.91" y2="1578.84" stroke="#00e5ff" stroke-width="1.25" stroke-linecap="round" opacity="0.9"/>
<line x1="444.91" y1="1578.84" x2="469.51" y2="1624.03" stroke="#00e5ff" stroke-width="1.25" stroke-linecap="round" opacity="0.9"/>
<line x1="469.51" y1="1624.03" x2="486.76" y2="1577.68" stroke="#00e5ff" stroke-width="1.25" stroke-linecap="round" opacity="0.9"/>
<line x1="421.9" y1="1532.26" x2="446.5" y2="1558.03" stroke="#00edff" stroke-width="1.25" stroke-linecap="round" opacity="0.9"/>
<line x1="446.5" y1="1558.03" x2="471.1" y2="1573.22" stroke="#00edff" stroke-width="1.25" stroke-linecap="round" opacity="0.9"/>
<line x1="471.1" y1="1573.22" x2="495.7" y2="1636.83" stroke="#00edff" stroke-width="1.25" stroke-linecap="round" opacity="0.9"/>
<line x1="425.09" y1="1532.17" x2="449.69" y2="1549.36" stroke="#00fdff" stroke-width="1.25" stroke-linecap="round" opacity="0.9"/>
<line x1="449.69" y1="1549.36" x2="449.89" y2="1549.11" stroke="#00fdff" stroke-width="1.25" stroke-linecap="round" opacity="0.9"/>
<line x1="495.7" y1="1580.4" x2="498.89" y2="1589.35" stroke="#00fdff" stroke-width="1.25" stroke-linecap="round" opacity="0.9"/>
<line x1="426.68" y1="1532.13" x2="451.28" y2="1649.41" stroke="#00fffa" stroke-width="1.25" stroke-linecap="round" opacity="0.9"/>
<line x1="451.28" y1="1649.41" x2="472.57" y2="1563.47" stroke="#00fffa" stroke-width="1.25" stroke-linecap="round" opacity="0.9"/>
<line x1="428.27" y1="1532.09" x2="452.87" y2="1564.78" stroke="#00fff3" stroke-width="1.25" stroke-linecap="round" opacity="0.9"/>
<line x1="452.87" y1="1564.78" x2="477.47" y2="1605.64" stroke="#00fff3" stroke-width="1.25" stroke-linecap="round" opacity="0.9"/>
<line x1="477.47" y1="1605.64" x2="492.28" y2="1575.8" stroke="#00fff3" stroke-width="1.25" stroke-linecap="round" opacity="0.9"/>
<line x1="429.86" y1="1532.04" x2="454.46" y2="1557.88" stroke="#00ffed" stroke-width="1.25" stroke-linecap="round" opacity="0.9"/>
<line x1="454.46" y1="1557.88" x2="460.33" y2="1552.85" stroke="#00ffed" stroke-width="1.25" stroke-linecap="round" opacity="0.9"/>
<line x1="492.94" y1="1575.12" x2="503.66" y2="1604.67" stroke="#00ffed" stroke-width="1.25" stroke-linecap="round" opacity="0.9"/>
<line x1="433.04" y1="1531.96" x2="457.64" y2="1550.61" stroke="#00ffe0" stroke-width="1.25" stroke-linecap="round" opacity="0.9"/>
<line x1="457.64" y1="1550.61" x2="462.06" y2="1551.77" stroke="#00ffe0" stroke-width="1.25" stroke-linecap="round" opacity="0.9"/>
<line x1="488.86" y1="1570.08" x2="506.84" y2="1605.31" stroke="#00ffe0" stroke-width="1.25" stroke-linecap="round" opacity="0.9"/>
<line x1="480.25" y1="1563.07" x2="483.83" y2="1575.08" stroke="#00ffda" stroke-width="1.25" stroke-linecap="round" opacity="0.9"/>
<line x1="483.83" y1="1575.08" x2="500.71" y2="1577.04" stroke="#00ffda" stroke-width="1.25" stroke-linecap="round" opacity="0.9"/>
<line x1="485.02" y1="1565.19" x2="485.42" y2="1566.78" stroke="#00ffd3" stroke-width="1.25" stroke-linecap="round" opacity="0.9"/>
<line x1="485.42" y1="1566.78" x2="486.66" y2="1566.32" stroke="#00ffd3" stroke-width="1.25" stroke-linecap="round" opacity="0.9"/>
<line x1="439.4" y1="1531.78" x2="464" y2="1732.14" stroke="#00ffc7" stroke-width="1.25" stroke-linecap="round" opacity="0.9"/>
<line x1="464" y1="1732.14" x2="488.6" y2="1592.31" stroke="#00ffc7" stroke-width="1.25" stroke-linecap="round" opacity="0.9"/>
<line x1="488.6" y1="1592.31" x2="499.22" y2="1572.64" stroke="#00ffc7" stroke-width="1.25" stroke-linecap="round" opacity="0.9"/>
<line x1="501.17" y1="1572.84" x2="514.8" y2="1605.79" stroke="#00ffc0" stroke-width="1.25" stroke-linecap="round" opacity="0.9"/>
<line x1="506.67" y1="1575.46" x2="516.39" y2="1634.86" stroke="#00ffba" stroke-width="1.25" stroke-linecap="round" opacity="0.9"/>
<line x1="444.18" y1="1531.65" x2="468.78" y2="1570.62" stroke="#00ffb3" stroke-width="1.25" stroke-linecap="round" opacity="0.9"/>
<line x1="468.78" y1="1570.62" x2="482.47" y2="1557.8" stroke="#00ffb3" stroke-width="1.25" stroke-linecap="round" opacity="0.9"/>
<line x1="445.77" y1="1531.61" x2="470.37" y2="1559.44" stroke="#00ffad" stroke-width="1.25" stroke-linecap="round" opacity="0.9"/>
<line x1="470.37" y1="1559.44" x2="494.97" y2="1600.17" stroke="#00ffad" stroke-width="1.25" stroke-linecap="round" opacity="0.9"/>
<line x1="494.97" y1="1600.17" x2="501.85" y2="1569.91" stroke="#00ffad" stroke-width="1.25" stroke-linecap="round" opacity="0.9"/>
<line x1="484.86" y1="1557.18" x2="496.56" y2="1609.28" stroke="#00ffa6" stroke-width="1.25" stroke-linecap="round" opacity="0.9"/>
<line x1="496.56" y1="1609.28" x2="521.16" y2="1632.35" stroke="#00ffa6" stroke-width="1.25" stroke-linecap="round" opacity="0.9"/>
<line x1="488.94" y1="1557.7" x2="499.74" y2="1595.8" stroke="#00ff9a" stroke-width="1.25" stroke-linecap="round" opacity="0.9"/>
<line x1="499.74" y1="1595.8" x2="515.78" y2="1576.04" stroke="#00ff9a" stroke-width="1.25" stroke-linecap="round" opacity="0.9"/>
<line x1="452.13" y1="1531.44" x2="476.73" y2="1632.51" stroke="#00ff93" stroke-width="1.25" stroke-linecap="round" opacity="0.9"/>
<line x1="476.73" y1="1632.51" x2="501.33" y2="1590.6" stroke="#00ff93" stroke-width="1.25" stroke-linecap="round" opacity="0.9"/>
<line x1="501.33" y1="1590.6" x2="523.27" y2="1580.02" stroke="#00ff93" stroke-width="1.25" stroke-linecap="round" opacity="0.9"/>
<line x1="491.23" y1="1557.01" x2="502.92" y2="1589.7" stroke="#00ff8d" stroke-width="1.25" stroke-linecap="round" opacity="0.9"/>
<line x1="502.92" y1="1589.7" x2="527.15" y2="1581.54" stroke="#00ff8d" stroke-width="1.25" stroke-linecap="round" opacity="0.9"/>
<line x1="497.31" y1="1558.9" x2="506.1" y2="1572.83" stroke="#00ff80" stroke-width="1.25" stroke-linecap="round" opacity="0.9"/>
<line x1="506.1" y1="1572.83" x2="510.32" y2="1567.78" stroke="#00ff80" stroke-width="1.25" stroke-linecap="round" opacity="0.9"/>
<line x1="488.23" y1="1551.57" x2="507.69" y2="1593.67" stroke="#00ff7a" stroke-width="1.25" stroke-linecap="round" opacity="0.9"/>
<line x1="507.69" y1="1593.67" x2="532.29" y2="1602.15" stroke="#00ff7a" stroke-width="1.25" stroke-linecap="round" opacity="0.9"/>
<line x1="535.4" y1="1581.53" x2="535.48" y2="1581.62" stroke="#00ff6d" stroke-width="1.25" stroke-linecap="round" opacity="0.9"/>
<line x1="463.27" y1="1531.13" x2="487.87" y2="1594.72" stroke="#00ff66" stroke-width="1.25" stroke-linecap="round" opacity="0.9"/>
<line x1="487.87" y1="1594.72" x2="504.34" y2="1559.19" stroke="#00ff66" stroke-width="1.25" stroke-linecap="round" opacity="0.9"/>
<line x1="492.06" y1="1549.67" x2="514.06" y2="1764.12" stroke="#00ff60" stroke-width="1.25" stroke-linecap="round" opacity="0.9"/>
<line x1="514.06" y1="1764.12" x2="536.01" y2="1579.68" stroke="#00ff60" stroke-width="1.25" stroke-linecap="round" opacity="0.9"/>
<line x1="466.45" y1="1531.05" x2="491.05" y2="1582.46" stroke="#00ff59" stroke-width="1.25" stroke-linecap="round" opacity="0.9"/>
<line x1="491.05" y1="1582.46" x2="504.96" y2="1557.35" stroke="#00ff59" stroke-width="1.25" stroke-linecap="round" opacity="0.9"/>
<line x1="527.16" y1="1572.51" x2="540.25" y2="1611.72" stroke="#00ff59" stroke-width="1.25" stroke-linecap="round" opacity="0.9"/>
<line x1="468.04" y1="1531" x2="492.64" y2="1605.64" stroke="#00ff53" stroke-width="1.25" stroke-linecap="round" opacity="0.9"/>
<line x1="492.64" y1="1605.64" x2="516.07" y2="1563.81" stroke="#00ff53" stroke-width="1.25" stroke-linecap="round" opacity="0.9"/>
<line x1="529.28" y1="1571.7" x2="543.43" y2="1632.43" stroke="#00ff4c" stroke-width="1.25" stroke-linecap="round" opacity="0.9"/>
<line x1="471.22" y1="1530.92" x2="495.82" y2="1569.98" stroke="#00ff46" stroke-width="1.25" stroke-linecap="round" opacity="0.9"/>
<line x1="495.82" y1="1569.98" x2="520.42" y2="1590.91" stroke="#00ff46" stroke-width="1.25" stroke-linecap="round" opacity="0.9"/>
<line x1="520.42" y1="1590.91" x2="545.02" y2="1583.77" stroke="#00ff46" stroke-width="1.25" stroke-linecap="round" opacity="0.9"/>
<line x1="502.04" y1="1549.71" x2="523.6" y2="1590.78" stroke="#00ff39" stroke-width="1.25" stroke-linecap="round" opacity="0.9"/>
<line x1="523.6" y1="1590.78" x2="539.43" y2="1575.24" stroke="#00ff39" stroke-width="1.25" stroke-linecap="round" opacity="0.9"/>
<line x1="536.02" y1="1571.78" x2="549.79" y2="1646.27" stroke="#00ff32" stroke-width="1.25" stroke-linecap="round" opacity="0.9"/>
<line x1="477.59" y1="1530.74" x2="502.19" y2="1558.2" stroke="#00ff2c" stroke-width="1.25" stroke-linecap="round" opacity="0.9"/>
<line x1="502.19" y1="1558.2" x2="526.79" y2="1588.51" stroke="#00ff2c" stroke-width="1.25" stroke-linecap="round" opacity="0.9"/>
<line x1="526.79" y1="1588.51" x2="545.72" y2="1577.27" stroke="#00ff2c" stroke-width="1.25" stroke-linecap="round" opacity="0.9"/>
<line x1="520.75" y1="1559.1" x2="528.38" y2="1582.32" stroke="#00ff25" stroke-width="1.25" stroke-linecap="round" opacity="0.9"/>
<line x1="528.38" y1="1582.32" x2="543.3" y2="1574.49" stroke="#00ff25" stroke-width="1.25" stroke-linecap="round" opacity="0.9"/>
<line x1="480.77" y1="1530.66" x2="505.37" y2="1572.55" stroke="#00ff1f" stroke-width="1.25" stroke-linecap="round" opacity="0.9"/>
<line x1="505.37" y1="1572.55" x2="520.25" y2="1557.62" stroke="#00ff1f" stroke-width="1.25" stroke-linecap="round" opacity="0.9"/>
<line x1="482.36" y1="1530.61" x2="506.96" y2="1568.39" stroke="#00ff19" stroke-width="1.25" stroke-linecap="round" opacity="0.9"/>
<line x1="506.96" y1="1568.39" x2="531.56" y2="1588.45" stroke="#00ff19" stroke-width="1.25" stroke-linecap="round" opacity="0.9"/>
<line x1="531.56" y1="1588.45" x2="556.16" y2="1584.54" stroke="#00ff19" stroke-width="1.25" stroke-linecap="round" opacity="0.9"/>
<line x1="531.93" y1="1563.34" x2="533.15" y2="1566.29" stroke="#00ff12" stroke-width="1.25" stroke-linecap="round" opacity="0.9"/>
<line x1="533.15" y1="1566.29" x2="541.2" y2="1569.67" stroke="#00ff12" stroke-width="1.25" stroke-linecap="round" opacity="0.9"/>
<line x1="514.93" y1="1550.6" x2="534.74" y2="1593.3" stroke="#00ff0c" stroke-width="1.25" stroke-linecap="round" opacity="0.9"/>
<line x1="534.74" y1="1593.3" x2="545.51" y2="1571.48" stroke="#00ff0c" stroke-width="1.25" stroke-linecap="round" opacity="0.9"/>
<line x1="487.13" y1="1530.48" x2="511.73" y2="1755.51" stroke="#00ff05" stroke-width="1.25" stroke-linecap="round" opacity="0.9"/>
<line x1="511.73" y1="1755.51" x2="535.75" y2="1563.69" stroke="#00ff05" stroke-width="1.25" stroke-linecap="round" opacity="0.9"/>
<line x1="555.05" y1="1574.61" x2="564.11" y2="1585.37" stroke="#09ff00" stroke-width="1.25" stroke-linecap="round" opacity="0.9"/>
<line x1="528.09" y1="1555.07" x2="541.1" y2="1602.24" stroke="#10ff00" stroke-width="1.25" stroke-linecap="round" opacity="0.9"/>
<line x1="541.1" y1="1602.24" x2="565.7" y2="1601.35" stroke="#10ff00" stroke-width="1.25" stroke-linecap="round" opacity="0.9"/>
<line x1="520.41" y1="1548.69" x2="542.69" y2="1619.24" stroke="#17ff00" stroke-width="1.25" stroke-linecap="round" opacity="0.9"/>
<line x1="542.69" y1="1619.24" x2="567.29" y2="1593.29" stroke="#17ff00" stroke-width="1.25" stroke-linecap="round" opacity="0.9"/>
<line x1="495.08" y1="1530.27" x2="519.68" y2="1625.05" stroke="#1eff00" stroke-width="1.25" stroke-linecap="round" opacity="0.9"/>
<line x1="519.68" y1="1625.05" x2="544.28" y2="1586.72" stroke="#1eff00" stroke-width="1.25" stroke-linecap="round" opacity="0.9"/>
<line x1="544.28" y1="1586.72" x2="555.09" y2="1571.25" stroke="#1eff00" stroke-width="1.25" stroke-linecap="round" opacity="0.9"/>
<line x1="556.79" y1="1571.28" x2="570.48" y2="1584.73" stroke="#26ff00" stroke-width="1.25" stroke-linecap="round" opacity="0.9"/>
<line x1="498.27" y1="1530.18" x2="522.87" y2="1600.35" stroke="#2dff00" stroke-width="1.25" stroke-linecap="round" opacity="0.9"/>
<line x1="522.87" y1="1600.35" x2="532.6" y2="1553.63" stroke="#2dff00" stroke-width="1.25" stroke-linecap="round" opacity="0.9"/>
<line x1="539.73" y1="1557.37" x2="549.06" y2="1594.88" stroke="#34ff00" stroke-width="1.25" stroke-linecap="round" opacity="0.9"/>
<line x1="549.06" y1="1594.88" x2="573.66" y2="1582.7" stroke="#34ff00" stroke-width="1.25" stroke-linecap="round" opacity="0.9"/>
<line x1="501.45" y1="1530.09" x2="526.05" y2="1617.01" stroke="#3bff00" stroke-width="1.25" stroke-linecap="round" opacity="0.9"/>
<line x1="526.05" y1="1617.01" x2="542" y2="1557.79" stroke="#3bff00" stroke-width="1.25" stroke-linecap="round" opacity="0.9"/>
<line x1="503.04" y1="1530.05" x2="527.64" y2="1620.2" stroke="#43ff00" stroke-width="1.25" stroke-linecap="round" opacity="0.9"/>
<line x1="527.64" y1="1620.2" x2="551.16" y2="1562.91" stroke="#43ff00" stroke-width="1.25" stroke-linecap="round" opacity="0.9"/>
<line x1="504.63" y1="1530.01" x2="529.23" y2="1614.53" stroke="#4aff00" stroke-width="1.25" stroke-linecap="round" opacity="0.9"/>
<line x1="529.23" y1="1614.53" x2="553.83" y2="1633.97" stroke="#4aff00" stroke-width="1.25" stroke-linecap="round" opacity="0.9"/>
<line x1="553.83" y1="1633.97" x2="578.43" y2="1619.15" stroke="#4aff00" stroke-width="1.25" stroke-linecap="round" opacity="0.9"/>
<line x1="506.22" y1="1529.96" x2="530.82" y2="1567.38" stroke="#51ff00" stroke-width="1.25" stroke-linecap="round" opacity="0.9"/>
<line x1="530.82" y1="1567.38" x2="555.42" y2="1776.79" stroke="#51ff00" stroke-width="1.25" stroke-linecap="round" opacity="0.9"/>
<line x1="555.42" y1="1776.79" x2="579.25" y2="1579.84" stroke="#51ff00" stroke-width="1.25" stroke-linecap="round" opacity="0.9"/>
<line x1="549.5" y1="1558.39" x2="557.01" y2="1570.52" stroke="#58ff00" stroke-width="1.25" stroke-linecap="round" opacity="0.9"/>
<line x1="557.01" y1="1570.52" x2="563.26" y2="1567.79" stroke="#58ff00" stroke-width="1.25" stroke-linecap="round" opacity="0.9"/>
<line x1="545.08" y1="1554.24" x2="558.6" y2="1603.56" stroke="#60ff00" stroke-width="1.25" stroke-linecap="round" opacity="0.9"/>
<line x1="558.6" y1="1603.56" x2="583.2" y2="1615.26" stroke="#60ff00" stroke-width="1.25" stroke-linecap="round" opacity="0.9"/>
<line x1="510.99" y1="1529.83" x2="535.59" y2="1583.05" stroke="#67ff00" stroke-width="1.25" stroke-linecap="round" opacity="0.9"/>
<line x1="535.59" y1="1583.05" x2="560.19" y2="1578.23" stroke="#67ff00" stroke-width="1.25" stroke-linecap="round" opacity="0.9"/>
<line x1="560.19" y1="1578.23" x2="584.79" y2="1618.39" stroke="#67ff00" stroke-width="1.25" stroke-linecap="round" opacity="0.9"/>
<line x1="514.18" y1="1529.75" x2="538.78" y2="1590.17" stroke="#75ff00" stroke-width="1.25" stroke-linecap="round" opacity="0.9"/>
<line x1="538.78" y1="1590.17" x2="563.38" y2="1617.34" stroke="#75ff00" stroke-width="1.25" stroke-linecap="round" opacity="0.9"/>
<line x1="563.38" y1="1617.34" x2="587.98" y2="1587.99" stroke="#75ff00" stroke-width="1.25" stroke-linecap="round" opacity="0.9"/>
<line x1="565.47" y1="1562.52" x2="566.56" y2="1564.28" stroke="#84ff00" stroke-width="1.25" stroke-linecap="round" opacity="0.9"/>
<line x1="566.56" y1="1564.28" x2="566.9" y2="1563.49" stroke="#84ff00" stroke-width="1.25" stroke-linecap="round" opacity="0.9"/>
<line x1="520.54" y1="1529.57" x2="545.14" y2="1548.2" stroke="#92ff00" stroke-width="1.25" stroke-linecap="round" opacity="0.9"/>
<line x1="545.14" y1="1548.2" x2="569.74" y2="1592.76" stroke="#92ff00" stroke-width="1.25" stroke-linecap="round" opacity="0.9"/>
<line x1="569.74" y1="1592.76" x2="580.59" y2="1570.59" stroke="#92ff00" stroke-width="1.25" stroke-linecap="round" opacity="0.9"/>
<line x1="522.13" y1="1529.53" x2="546.73" y2="1569.51" stroke="#9aff00" stroke-width="1.25" stroke-linecap="round" opacity="0.9"/>
<line x1="546.73" y1="1569.51" x2="571.33" y2="1622.49" stroke="#9aff00" stroke-width="1.25" stroke-linecap="round" opacity="0.9"/>
<line x1="571.33" y1="1622.49" x2="595.93" y2="1618.65" stroke="#9aff00" stroke-width="1.25" stroke-linecap="round" opacity="0.9"/>
<line x1="523.72" y1="1529.49" x2="548.32" y2="1580.75" stroke="#a1ff00" stroke-width="1.25" stroke-linecap="round" opacity="0.9"/>
<line x1="548.32" y1="1580.75" x2="562.27" y2="1555.82" stroke="#a1ff00" stroke-width="1.25" stroke-linecap="round" opacity="0.9"/>
<line x1="595.56" y1="1577.42" x2="599.11" y2="1592.36" stroke="#a8ff00" stroke-width="1.25" stroke-linecap="round" opacity="0.9"/>
<line x1="528.49" y1="1529.36" x2="553.09" y2="1547.92" stroke="#b7ff00" stroke-width="1.25" stroke-linecap="round" opacity="0.9"/>
<line x1="553.09" y1="1547.92" x2="553.72" y2="1546.59" stroke="#b7ff00" stroke-width="1.25" stroke-linecap="round" opacity="0.9"/>
<line x1="597.41" y1="1576.43" x2="602.29" y2="1596.39" stroke="#b7ff00" stroke-width="1.25" stroke-linecap="round" opacity="0.9"/>
<line x1="530.08" y1="1529.32" x2="554.68" y2="1598.9" stroke="#beff00" stroke-width="1.25" stroke-linecap="round" opacity="0.9"/>
<line x1="554.68" y1="1598.9" x2="579.28" y2="1570.1" stroke="#beff00" stroke-width="1.25" stroke-linecap="round" opacity="0.9"/>
<line x1="579.28" y1="1570.1" x2="582.17" y2="1564.89" stroke="#beff00" stroke-width="1.25" stroke-linecap="round" opacity="0.9"/>
<line x1="531.67" y1="1529.27" x2="556.27" y2="1585.98" stroke="#c5ff00" stroke-width="1.25" stroke-linecap="round" opacity="0.9"/>
<line x1="556.27" y1="1585.98" x2="580.87" y2="1773.57" stroke="#c5ff00" stroke-width="1.25" stroke-linecap="round" opacity="0.9"/>
<line x1="580.87" y1="1773.57" x2="599.32" y2="1575.47" stroke="#c5ff00" stroke-width="1.25" stroke-linecap="round" opacity="0.9"/>
<line x1="605.1" y1="1578.29" x2="607.07" y2="1587.45" stroke="#ccff00" stroke-width="1.25" stroke-linecap="round" opacity="0.9"/>
<line x1="536.45" y1="1529.14" x2="561.05" y2="1639.19" stroke="#dbff00" stroke-width="1.25" stroke-linecap="round" opacity="0.9"/>
<line x1="561.05" y1="1639.19" x2="585.65" y2="1588.44" stroke="#dbff00" stroke-width="1.25" stroke-linecap="round" opacity="0.9"/>
<line x1="585.65" y1="1588.44" x2="600.88" y2="1573.14" stroke="#dbff00" stroke-width="1.25" stroke-linecap="round" opacity="0.9"/>
<line x1="589.58" y1="1562.04" x2="590.42" y2="1563.56" stroke="#f1ff00" stroke-width="1.25" stroke-linecap="round" opacity="0.9"/>
<line x1="590.42" y1="1563.56" x2="591.26" y2="1563.19" stroke="#f1ff00" stroke-width="1.25" stroke-linecap="round" opacity="0.9"/>
<line x1="542.81" y1="1528.97" x2="567.41" y2="1585.05" stroke="#f8ff00" stroke-width="1.25" stroke-linecap="round" opacity="0.9"/>
<line x1="567.41" y1="1585.05" x2="577.7" y2="1552.79" stroke="#f8ff00" stroke-width="1.25" stroke-linecap="round" opacity="0.9"/>
<line x1="606.72" y1="1572.61" x2="616.61" y2="1616.12" stroke="#f8ff00" stroke-width="1.25" stroke-linecap="round" opacity="0.9"/>
<line x1="617.22" y1="1578.65" x2="618.2" y2="1583.07" stroke="#ffff00" stroke-width="1.25" stroke-linecap="round" opacity="0.9"/>
<line x1="547.58" y1="1528.84" x2="572.18" y2="1751.89" stroke="#fff300" stroke-width="1.25" stroke-linecap="round" opacity="0.9"/>
<line x1="572.18" y1="1751.89" x2="594.98" y2="1561.21" stroke="#fff300" stroke-width="1.25" stroke-linecap="round" opacity="0.9"/>
<line x1="577.19" y1="1546.8" x2="599.97" y2="1636.29" stroke="#ffe600" stroke-width="1.25" stroke-linecap="round" opacity="0.9"/>
<line x1="599.97" y1="1636.29" x2="612.2" y2="1570.71" stroke="#ffe600" stroke-width="1.25" stroke-linecap="round" opacity="0.9"/>
<line x1="597.23" y1="1559.35" x2="601.56" y2="1577.38" stroke="#ffe000" stroke-width="1.25" stroke-linecap="round" opacity="0.9"/>
<line x1="601.56" y1="1577.38" x2="626.16" y2="1660.69" stroke="#ffe000" stroke-width="1.25" stroke-linecap="round" opacity="0.9"/>
<line x1="553.95" y1="1528.67" x2="578.55" y2="1549.86" stroke="#ffda00" stroke-width="1.25" stroke-linecap="round" opacity="0.9"/>
<line x1="578.55" y1="1549.86" x2="580.76" y2="1546.98" stroke="#ffda00" stroke-width="1.25" stroke-linecap="round" opacity="0.9"/>
<line x1="610.69" y1="1567.42" x2="627.75" y2="1679.55" stroke="#ffda00" stroke-width="1.25" stroke-linecap="round" opacity="0.9"/>
<line x1="598.94" y1="1558.26" x2="604.74" y2="1590" stroke="#ffd400" stroke-width="1.25" stroke-linecap="round" opacity="0.9"/>
<line x1="604.74" y1="1590" x2="629.34" y2="1594.38" stroke="#ffd400" stroke-width="1.25" stroke-linecap="round" opacity="0.9"/>
<line x1="557.13" y1="1528.58" x2="581.73" y2="1569.84" stroke="#ffce00" stroke-width="1.25" stroke-linecap="round" opacity="0.9"/>
<line x1="581.73" y1="1569.84" x2="595.23" y2="1554.6" stroke="#ffce00" stroke-width="1.25" stroke-linecap="round" opacity="0.9"/>
<line x1="619.96" y1="1570.36" x2="632.52" y2="1602.78" stroke="#ffc700" stroke-width="1.25" stroke-linecap="round" opacity="0.9"/>
<line x1="605.43" y1="1559.31" x2="609.51" y2="1568.95" stroke="#ffc100" stroke-width="1.25" stroke-linecap="round" opacity="0.9"/>
<line x1="609.51" y1="1568.95" x2="632.02" y2="1577.46" stroke="#ffc100" stroke-width="1.25" stroke-linecap="round" opacity="0.9"/>
<line x1="592.22" y1="1549.15" x2="611.1" y2="1743.9" stroke="#ffbb00" stroke-width="1.25" stroke-linecap="round" opacity="0.9"/>
<line x1="611.1" y1="1743.9" x2="631.01" y2="1575.64" stroke="#ffbb00" stroke-width="1.25" stroke-linecap="round" opacity="0.9"/>
<line x1="602.38" y1="1554.96" x2="612.69" y2="1606.99" stroke="#ffb500" stroke-width="1.25" stroke-linecap="round" opacity="0.9"/>
<line x1="612.69" y1="1606.99" x2="637.29" y2="1635.85" stroke="#ffb500" stroke-width="1.25" stroke-linecap="round" opacity="0.9"/>
<line x1="565.08" y1="1528.36" x2="589.68" y2="1607.02" stroke="#ffaf00" stroke-width="1.25" stroke-linecap="round" opacity="0.9"/>
<line x1="589.68" y1="1607.02" x2="602.77" y2="1554.1" stroke="#ffaf00" stroke-width="1.25" stroke-linecap="round" opacity="0.9"/>
<line x1="633.98" y1="1575.41" x2="638.88" y2="1592.33" stroke="#ffaf00" stroke-width="1.25" stroke-linecap="round" opacity="0.9"/>
<line x1="598.37" y1="1549.97" x2="615.87" y2="1569.38" stroke="#ffa900" stroke-width="1.25" stroke-linecap="round" opacity="0.9"/>
<line x1="615.87" y1="1569.38" x2="638.91" y2="1577.65" stroke="#ffa900" stroke-width="1.25" stroke-linecap="round" opacity="0.9"/>
<line x1="568.26" y1="1528.28" x2="592.86" y2="1584.78" stroke="#ffa200" stroke-width="1.25" stroke-linecap="round" opacity="0.9"/>
<line x1="592.86" y1="1584.78" x2="613.98" y2="1559.5" stroke="#ffa200" stroke-width="1.25" stroke-linecap="round" opacity="0.9"/>
<line x1="620.11" y1="1563.68" x2="642.06" y2="1632.92" stroke="#ffa200" stroke-width="1.25" stroke-linecap="round" opacity="0.9"/>
<line x1="571.45" y1="1528.19" x2="596.05" y2="1549.08" stroke="#ff9700" stroke-width="1.25" stroke-linecap="round" opacity="0.9"/>
<line x1="596.05" y1="1549.08" x2="620.65" y2="1593.82" stroke="#ff9700" stroke-width="1.25" stroke-linecap="round" opacity="0.9"/>
<line x1="620.65" y1="1593.82" x2="638.47" y2="1573.96" stroke="#ff9700" stroke-width="1.25" stroke-linecap="round" opacity="0.9"/>
<line x1="573.04" y1="1528.15" x2="597.64" y2="1559.55" stroke="#ff9100" stroke-width="1.25" stroke-linecap="round" opacity="0.9"/>
<line x1="597.64" y1="1559.55" x2="601.85" y2="1547.82" stroke="#ff9100" stroke-width="1.25" stroke-linecap="round" opacity="0.9"/>
<line x1="600.48" y1="1545.76" x2="623.83" y2="1575.75" stroke="#ff8c00" stroke-width="1.25" stroke-linecap="round" opacity="0.9"/>
<line x1="623.83" y1="1575.75" x2="648.43" y2="1602.18" stroke="#ff8c00" stroke-width="1.25" stroke-linecap="round" opacity="0.9"/>
<line x1="576.22" y1="1528.06" x2="600.82" y2="1578.29" stroke="#ff8600" stroke-width="1.25" stroke-linecap="round" opacity="0.9"/>
<line x1="600.82" y1="1578.29" x2="625.42" y2="1570.79" stroke="#ff8600" stroke-width="1.25" stroke-linecap="round" opacity="0.9"/>
<line x1="625.42" y1="1570.79" x2="633.76" y2="1567.36" stroke="#ff8600" stroke-width="1.25" stroke-linecap="round" opacity="0.9"/>
<line x1="579.4" y1="1527.97" x2="604" y2="1564.08" stroke="#ff7b00" stroke-width="1.25" stroke-linecap="round" opacity="0.9"/>
<line x1="604" y1="1564.08" x2="616.73" y2="1553.47" stroke="#ff7b00" stroke-width="1.25" stroke-linecap="round" opacity="0.9"/>
<line x1="580.99" y1="1527.93" x2="605.59" y2="1624.45" stroke="#ff7500" stroke-width="1.25" stroke-linecap="round" opacity="0.9"/>
<line x1="605.59" y1="1624.45" x2="630.19" y2="1571.31" stroke="#ff7500" stroke-width="1.25" stroke-linecap="round" opacity="0.9"/>
<line x1="630.19" y1="1571.31" x2="636.89" y2="1566.1" stroke="#ff7500" stroke-width="1.25" stroke-linecap="round" opacity="0.9"/>
<line x1="582.58" y1="1527.89" x2="607.18" y2="1753.87" stroke="#ff7000" stroke-width="1.25" stroke-linecap="round" opacity="0.9"/>
<line x1="607.18" y1="1753.87" x2="627.96" y2="1558.87" stroke="#ff7000" stroke-width="1.25" stroke-linecap="round" opacity="0.9"/>
<line x1="627.11" y1="1556.03" x2="634.96" y2="1600.36" stroke="#ff6500" stroke-width="1.25" stroke-linecap="round" opacity="0.9"/>
<line x1="634.96" y1="1600.36" x2="659.56" y2="1606.73" stroke="#ff6500" stroke-width="1.25" stroke-linecap="round" opacity="0.9"/>
<line x1="626.25" y1="1554.32" x2="636.56" y2="1594" stroke="#ff5f00" stroke-width="1.25" stroke-linecap="round" opacity="0.9"/>
<line x1="636.56" y1="1594" x2="655.53" y2="1574.31" stroke="#ff5f00" stroke-width="1.25" stroke-linecap="round" opacity="0.9"/>
<line x1="658.92" y1="1575.5" x2="662.75" y2="1584.21" stroke="#ff5a00" stroke-width="1.25" stroke-linecap="round" opacity="0.9"/>
<line x1="592.13" y1="1527.63" x2="616.73" y2="1598.2" stroke="#ff4e00" stroke-width="1.25" stroke-linecap="round" opacity="0.9"/>
<line x1="616.73" y1="1598.2" x2="641.33" y2="1619.26" stroke="#ff4e00" stroke-width="1.25" stroke-linecap="round" opacity="0.9"/>
<line x1="641.33" y1="1619.26" x2="658.3" y2="1572.82" stroke="#ff4e00" stroke-width="1.25" stroke-linecap="round" opacity="0.9"/>
<line x1="595.31" y1="1527.54" x2="619.91" y2="1644.82" stroke="#ff4300" stroke-width="1.25" stroke-linecap="round" opacity="0.9"/>
<line x1="619.91" y1="1644.82" x2="635.28" y2="1554.84" stroke="#ff4300" stroke-width="1.25" stroke-linecap="round" opacity="0.9"/>
<line x1="596.9" y1="1527.5" x2="621.5" y2="1612.89" stroke="#ff3e00" stroke-width="1.25" stroke-linecap="round" opacity="0.9"/>
<line x1="621.5" y1="1612.89" x2="638.53" y2="1555.92" stroke="#ff3e00" stroke-width="1.25" stroke-linecap="round" opacity="0.9"/>
<line x1="598.49" y1="1527.45" x2="623.09" y2="1554.74" stroke="#ff3800" stroke-width="1.25" stroke-linecap="round" opacity="0.9"/>
<line x1="623.09" y1="1554.74" x2="647.69" y2="1650.68" stroke="#ff3800" stroke-width="1.25" stroke-linecap="round" opacity="0.9"/>
<line x1="647.69" y1="1650.68" x2="672.29" y2="1628.69" stroke="#ff3800" stroke-width="1.25" stroke-linecap="round" opacity="0.9"/>
<line x1="634.47" y1="1549.77" x2="650.87" y2="1769.79" stroke="#ff2d00" stroke-width="1.25" stroke-linecap="round" opacity="0.9"/>
<line x1="650.87" y1="1769.79" x2="667.35" y2="1572.22" stroke="#ff2d00" stroke-width="1.25" stroke-linecap="round" opacity="0.9"/>
<line x1="603.26" y1="1527.32" x2="627.86" y2="1636.51" stroke="#ff2700" stroke-width="1.25" stroke-linecap="round" opacity="0.9"/>
<line x1="627.86" y1="1636.51" x2="644.95" y2="1555.79" stroke="#ff2700" stroke-width="1.25" stroke-linecap="round" opacity="0.9"/>
<line x1="604.85" y1="1527.28" x2="629.45" y2="1604.66" stroke="#ff2200" stroke-width="1.25" stroke-linecap="round" opacity="0.9"/>
<line x1="629.45" y1="1604.66" x2="651.74" y2="1559.3" stroke="#ff2200" stroke-width="1.25" stroke-linecap="round" opacity="0.9"/>
<line x1="606.45" y1="1527.24" x2="631.05" y2="1556.59" stroke="#ff1c00" stroke-width="1.25" stroke-linecap="round" opacity="0.9"/>
<line x1="631.05" y1="1556.59" x2="655.65" y2="1596.67" stroke="#ff1c00" stroke-width="1.25" stroke-linecap="round" opacity="0.9"/>
<line x1="655.65" y1="1596.67" x2="680.25" y2="1630.98" stroke="#ff1c00" stroke-width="1.25" stroke-linecap="round" opacity="0.9"/>
<line x1="608.04" y1="1527.19" x2="632.64" y2="1590.14" stroke="#ff1600" stroke-width="1.25" stroke-linecap="round" opacity="0.9"/>
<line x1="632.64" y1="1590.14" x2="646.67" y2="1553.57" stroke="#ff1600" stroke-width="1.25" stroke-linecap="round" opacity="0.9"/>
<line x1="611.22" y1="1527.11" x2="635.82" y2="1553.58" stroke="#ff0b00" stroke-width="1.25" stroke-linecap="round" opacity="0.9"/>
<line x1="635.82" y1="1553.58" x2="660.42" y2="1578.42" stroke="#ff0b00" stroke-width="1.25" stroke-linecap="round" opacity="0.9"/>
<line x1="660.42" y1="1578.42" x2="667.39" y2="1565.47" stroke="#ff0b00" stroke-width="1.25" stroke-linecap="round" opacity="0.9"/>
<line x1="651.29" y1="1553.34" x2="662.01" y2="1596.08" stroke="#ff0600" stroke-width="1.25" stroke-linecap="round" opacity="0.9"/>
<line x1="662.01" y1="1596.08" x2="686.61" y2="1620.95" stroke="#ff0600" stroke-width="1.25" stroke-linecap="round" opacity="0.9"/>
<path d="M246.5 1538.5 L611.5 1527.8 L686 1576 L320.5 1584.8 Z" fill="#000"/>
<line x1="248.5" y1="1536.98" x2="273.1" y2="1467.15" stroke="#111111" stroke-width="1.9" stroke-linecap="round" opacity="0.9"/>
<line x1="273.1" y1="1467.15" x2="297.7" y2="1494.35" stroke="#111111" stroke-width="1.9" stroke-linecap="round" opacity="0.9"/>
<line x1="297.7" y1="1494.35" x2="322.3" y2="1538.87" stroke="#111111" stroke-width="1.9" stroke-linecap="round" opacity="0.9"/>
<line x1="250.09" y1="1536.94" x2="274.69" y2="1498.3" stroke="#111111" stroke-width="1.9" stroke-linecap="round" opacity="0.9"/>
<line x1="274.69" y1="1498.3" x2="299.29" y2="1480.45" stroke="#111111" stroke-width="1.9" stroke-linecap="round" opacity="0.9"/>
<line x1="299.29" y1="1480.45" x2="323.89" y2="1524.97" stroke="#111111" stroke-width="1.9" stroke-linecap="round" opacity="0.9"/>
<line x1="251.68" y1="1536.89" x2="276.28" y2="1477.46" stroke="#111111" stroke-width="1.9" stroke-linecap="round" opacity="0.9"/>
<line x1="276.28" y1="1477.46" x2="300.88" y2="1518.52" stroke="#111111" stroke-width="1.9" stroke-linecap="round" opacity="0.9"/>
<line x1="300.88" y1="1518.52" x2="325.48" y2="1552.64" stroke="#111111" stroke-width="1.9" stroke-linecap="round" opacity="0.9"/>
<line x1="254.86" y1="1536.81" x2="279.46" y2="1512.03" stroke="#111111" stroke-width="1.9" stroke-linecap="round" opacity="0.9"/>
<line x1="279.46" y1="1512.03" x2="304.06" y2="1487.25" stroke="#111111" stroke-width="1.9" stroke-linecap="round" opacity="0.9"/>
<line x1="304.06" y1="1487.25" x2="328.66" y2="1549.09" stroke="#111111" stroke-width="1.9" stroke-linecap="round" opacity="0.9"/>
<line x1="259.64" y1="1536.68" x2="284.24" y2="1532.69" stroke="#111111" stroke-width="1.9" stroke-linecap="round" opacity="0.9"/>
<line x1="284.24" y1="1532.69" x2="294.78" y2="1560.68" stroke="#111111" stroke-width="1.9" stroke-linecap="round" opacity="0.9"/>
<line x1="325.24" y1="1581.48" x2="333.44" y2="1573.22" stroke="#111111" stroke-width="1.9" stroke-linecap="round" opacity="0.9"/>
<line x1="262.82" y1="1536.59" x2="287.42" y2="1491.02" stroke="#111111" stroke-width="1.9" stroke-linecap="round" opacity="0.9"/>
<line x1="287.42" y1="1491.02" x2="312.02" y2="1535.54" stroke="#111111" stroke-width="1.9" stroke-linecap="round" opacity="0.9"/>
<line x1="312.02" y1="1535.54" x2="336.62" y2="1559.27" stroke="#111111" stroke-width="1.9" stroke-linecap="round" opacity="0.9"/>
<line x1="292.94" y1="1556.03" x2="313.61" y2="1543.34" stroke="#ff0080" stroke-width="1.25" stroke-linecap="round" opacity="0.9"/>
<line x1="313.61" y1="1543.34" x2="335.11" y2="1584.83" stroke="#ff0080" stroke-width="1.25" stroke-linecap="round" opacity="0.9"/>
<line x1="314.4" y1="1568.43" x2="316.79" y2="1546.88" stroke="#ff0089" stroke-width="1.25" stroke-linecap="round" opacity="0.9"/>
<line x1="316.79" y1="1546.88" x2="341.39" y2="1538.2" stroke="#ff0089" stroke-width="1.25" stroke-linecap="round" opacity="0.9"/>
<line x1="269.18" y1="1536.42" x2="293.78" y2="1537.32" stroke="#ff008d" stroke-width="1.25" stroke-linecap="round" opacity="0.9"/>
<line x1="293.78" y1="1537.32" x2="318.38" y2="1527.67" stroke="#ff008d" stroke-width="1.25" stroke-linecap="round" opacity="0.9"/>
<line x1="318.38" y1="1527.67" x2="342.98" y2="1557.69" stroke="#ff008d" stroke-width="1.25" stroke-linecap="round" opacity="0.9"/>
<line x1="270.77" y1="1536.37" x2="295.37" y2="1537.7" stroke="#ff0092" stroke-width="1.25" stroke-linecap="round" opacity="0.9"/>
<line x1="295.37" y1="1537.7" x2="308.56" y2="1562.18" stroke="#ff0092" stroke-width="1.25" stroke-linecap="round" opacity="0.9"/>
<line x1="331.44" y1="1577.81" x2="344.57" y2="1571.45" stroke="#ff0092" stroke-width="1.25" stroke-linecap="round" opacity="0.9"/>
<line x1="272.36" y1="1536.33" x2="296.96" y2="1489.98" stroke="#ff0096" stroke-width="1.25" stroke-linecap="round" opacity="0.9"/>
<line x1="296.96" y1="1489.98" x2="321.56" y2="1512.75" stroke="#ff0096" stroke-width="1.25" stroke-linecap="round" opacity="0.9"/>
<line x1="321.56" y1="1512.75" x2="341.88" y2="1583.8" stroke="#ff0096" stroke-width="1.25" stroke-linecap="round" opacity="0.9"/>
<line x1="311.68" y1="1562.05" x2="323.15" y2="1495.59" stroke="#ff009b" stroke-width="1.25" stroke-linecap="round" opacity="0.9"/>
<line x1="323.15" y1="1495.59" x2="347.75" y2="1502.42" stroke="#ff009b" stroke-width="1.25" stroke-linecap="round" opacity="0.9"/>
<line x1="275.54" y1="1536.24" x2="300.14" y2="1523.78" stroke="#ff009f" stroke-width="1.25" stroke-linecap="round" opacity="0.9"/>
<line x1="300.14" y1="1523.78" x2="324.6" y2="1569.75" stroke="#ff009f" stroke-width="1.25" stroke-linecap="round" opacity="0.9"/>
<line x1="324.9" y1="1569.95" x2="349.34" y2="1558.61" stroke="#ff009f" stroke-width="1.25" stroke-linecap="round" opacity="0.9"/>
<line x1="277.14" y1="1536.2" x2="301.74" y2="1521.09" stroke="#ff00a4" stroke-width="1.25" stroke-linecap="round" opacity="0.9"/>
<line x1="301.74" y1="1521.09" x2="326.34" y2="1540.17" stroke="#ff00a4" stroke-width="1.25" stroke-linecap="round" opacity="0.9"/>
<line x1="326.34" y1="1540.17" x2="350.94" y2="1570.46" stroke="#ff00a4" stroke-width="1.25" stroke-linecap="round" opacity="0.9"/>
<line x1="315.17" y1="1559.92" x2="329.52" y2="1526.53" stroke="#ff00ac" stroke-width="1.25" stroke-linecap="round" opacity="0.9"/>
<line x1="329.52" y1="1526.53" x2="354.12" y2="1567.51" stroke="#ff00ac" stroke-width="1.25" stroke-linecap="round" opacity="0.9"/>
<line x1="281.91" y1="1536.07" x2="306.51" y2="1541.72" stroke="#ff00b1" stroke-width="1.25" stroke-linecap="round" opacity="0.9"/>
<line x1="306.51" y1="1541.72" x2="331.11" y2="1546.97" stroke="#ff00b1" stroke-width="1.25" stroke-linecap="round" opacity="0.9"/>
<line x1="331.11" y1="1546.97" x2="355.71" y2="1520.51" stroke="#ff00b1" stroke-width="1.25" stroke-linecap="round" opacity="0.9"/>
<line x1="321.79" y1="1562.18" x2="332.7" y2="1548.22" stroke="#ff00b5" stroke-width="1.25" stroke-linecap="round" opacity="0.9"/>
<line x1="332.7" y1="1548.22" x2="342.26" y2="1576.15" stroke="#ff00b5" stroke-width="1.25" stroke-linecap="round" opacity="0.9"/>
<line x1="338.84" y1="1572.69" x2="358.89" y2="1510.47" stroke="#ff00ba" stroke-width="1.25" stroke-linecap="round" opacity="0.9"/>
<line x1="318.92" y1="1556.83" x2="337.47" y2="1516.37" stroke="#ff00c3" stroke-width="1.25" stroke-linecap="round" opacity="0.9"/>
<line x1="337.47" y1="1516.37" x2="351.22" y2="1578.88" stroke="#ff00c3" stroke-width="1.25" stroke-linecap="round" opacity="0.9"/>
<line x1="319.28" y1="1555.95" x2="339.06" y2="1479.36" stroke="#ff00c7" stroke-width="1.25" stroke-linecap="round" opacity="0.9"/>
<line x1="339.06" y1="1479.36" x2="363.66" y2="1548.81" stroke="#ff00c7" stroke-width="1.25" stroke-linecap="round" opacity="0.9"/>
<line x1="291.45" y1="1535.81" x2="316.05" y2="1517.83" stroke="#ff00cb" stroke-width="1.25" stroke-linecap="round" opacity="0.9"/>
<line x1="316.05" y1="1517.83" x2="340.65" y2="1562.8" stroke="#ff00cb" stroke-width="1.25" stroke-linecap="round" opacity="0.9"/>
<line x1="340.65" y1="1562.8" x2="347.18" y2="1573.87" stroke="#ff00cb" stroke-width="1.25" stroke-linecap="round" opacity="0.9"/>
<line x1="329.78" y1="1560.85" x2="342.24" y2="1563.01" stroke="#ff00d0" stroke-width="1.25" stroke-linecap="round" opacity="0.9"/>
<line x1="342.24" y1="1563.01" x2="346.64" y2="1572.37" stroke="#ff00d0" stroke-width="1.25" stroke-linecap="round" opacity="0.9"/>
<line x1="326.52" y1="1556.37" x2="345.43" y2="1504.71" stroke="#ff00d9" stroke-width="1.25" stroke-linecap="round" opacity="0.9"/>
<line x1="345.43" y1="1504.71" x2="360.64" y2="1579.67" stroke="#ff00d9" stroke-width="1.25" stroke-linecap="round" opacity="0.9"/>
<line x1="364.81" y1="1581.39" x2="371.62" y2="1558.87" stroke="#ff00dd" stroke-width="1.25" stroke-linecap="round" opacity="0.9"/>
<line x1="299.41" y1="1535.59" x2="324.01" y2="1502.53" stroke="#ff00e2" stroke-width="1.25" stroke-linecap="round" opacity="0.9"/>
<line x1="324.01" y1="1502.53" x2="344.32" y2="1566.27" stroke="#ff00e2" stroke-width="1.25" stroke-linecap="round" opacity="0.9"/>
<line x1="302.59" y1="1535.51" x2="327.19" y2="1469.59" stroke="#ff00eb" stroke-width="1.25" stroke-linecap="round" opacity="0.9"/>
<line x1="327.19" y1="1469.59" x2="351.79" y2="1566.91" stroke="#ff00eb" stroke-width="1.25" stroke-linecap="round" opacity="0.9"/>
<line x1="351.79" y1="1566.91" x2="361.6" y2="1575.81" stroke="#ff00eb" stroke-width="1.25" stroke-linecap="round" opacity="0.9"/>
<line x1="304.18" y1="1535.46" x2="328.78" y2="1506.63" stroke="#ff00ef" stroke-width="1.25" stroke-linecap="round" opacity="0.9"/>
<line x1="328.78" y1="1506.63" x2="353.38" y2="1567.87" stroke="#ff00ef" stroke-width="1.25" stroke-linecap="round" opacity="0.9"/>
<line x1="353.38" y1="1567.87" x2="362.05" y2="1574.98" stroke="#ff00ef" stroke-width="1.25" stroke-linecap="round" opacity="0.9"/>
<line x1="345.65" y1="1562.66" x2="354.97" y2="1557.47" stroke="#ff00f3" stroke-width="1.25" stroke-linecap="round" opacity="0.9"/>
<line x1="354.97" y1="1557.47" x2="379.57" y2="1569.53" stroke="#ff00f3" stroke-width="1.25" stroke-linecap="round" opacity="0.9"/>
<line x1="307.36" y1="1535.38" x2="331.96" y2="1536.91" stroke="#ff00f8" stroke-width="1.25" stroke-linecap="round" opacity="0.9"/>
<line x1="331.96" y1="1536.91" x2="356.56" y2="1560.93" stroke="#ff00f8" stroke-width="1.25" stroke-linecap="round" opacity="0.9"/>
<line x1="356.56" y1="1560.93" x2="364.73" y2="1574.55" stroke="#ff00f8" stroke-width="1.25" stroke-linecap="round" opacity="0.9"/>
<line x1="308.95" y1="1535.33" x2="333.55" y2="1545.97" stroke="#ff00fc" stroke-width="1.25" stroke-linecap="round" opacity="0.9"/>
<line x1="333.55" y1="1545.97" x2="358.15" y2="1521.99" stroke="#ff00fc" stroke-width="1.25" stroke-linecap="round" opacity="0.9"/>
<line x1="358.15" y1="1521.99" x2="382.75" y2="1568.41" stroke="#ff00fc" stroke-width="1.25" stroke-linecap="round" opacity="0.9"/>
<line x1="376.18" y1="1580.11" x2="384.34" y2="1563.67" stroke="#fd00ff" stroke-width="1.25" stroke-linecap="round" opacity="0.9"/>
<line x1="312.13" y1="1535.25" x2="336.73" y2="1489.33" stroke="#f900ff" stroke-width="1.25" stroke-linecap="round" opacity="0.9"/>
<line x1="336.73" y1="1489.33" x2="350.94" y2="1561.75" stroke="#f900ff" stroke-width="1.25" stroke-linecap="round" opacity="0.9"/>
<line x1="376.7" y1="1579.34" x2="385.93" y2="1558.05" stroke="#f900ff" stroke-width="1.25" stroke-linecap="round" opacity="0.9"/>
<line x1="375.87" y1="1577.64" x2="387.53" y2="1560.17" stroke="#f500ff" stroke-width="1.25" stroke-linecap="round" opacity="0.9"/>
<line x1="315.32" y1="1535.16" x2="339.92" y2="1468.31" stroke="#f000ff" stroke-width="1.25" stroke-linecap="round" opacity="0.9"/>
<line x1="339.92" y1="1468.31" x2="353.85" y2="1561.48" stroke="#f000ff" stroke-width="1.25" stroke-linecap="round" opacity="0.9"/>
<line x1="383.12" y1="1581.47" x2="389.12" y2="1564.92" stroke="#f000ff" stroke-width="1.25" stroke-linecap="round" opacity="0.9"/>
<line x1="316.91" y1="1535.12" x2="341.51" y2="1525.34" stroke="#ec00ff" stroke-width="1.25" stroke-linecap="round" opacity="0.9"/>
<line x1="341.51" y1="1525.34" x2="366.11" y2="1559.74" stroke="#ec00ff" stroke-width="1.25" stroke-linecap="round" opacity="0.9"/>
<line x1="366.11" y1="1559.74" x2="390.71" y2="1549.86" stroke="#ec00ff" stroke-width="1.25" stroke-linecap="round" opacity="0.9"/>
<line x1="363.31" y1="1565.68" x2="367.7" y2="1557.9" stroke="#e800ff" stroke-width="1.25" stroke-linecap="round" opacity="0.9"/>
<line x1="367.7" y1="1557.9" x2="392.3" y2="1580.23" stroke="#e800ff" stroke-width="1.25" stroke-linecap="round" opacity="0.9"/>
<line x1="320.09" y1="1535.03" x2="344.69" y2="1542.53" stroke="#e400ff" stroke-width="1.25" stroke-linecap="round" opacity="0.9"/>
<line x1="344.69" y1="1542.53" x2="350.61" y2="1555.88" stroke="#e400ff" stroke-width="1.25" stroke-linecap="round" opacity="0.9"/>
<line x1="382.56" y1="1577.7" x2="393.89" y2="1560.43" stroke="#e400ff" stroke-width="1.25" stroke-linecap="round" opacity="0.9"/>
<line x1="324.86" y1="1534.9" x2="349.46" y2="1462.1" stroke="#d700ff" stroke-width="1.25" stroke-linecap="round" opacity="0.9"/>
<line x1="349.46" y1="1462.1" x2="374.06" y2="1533.29" stroke="#d700ff" stroke-width="1.25" stroke-linecap="round" opacity="0.9"/>
<line x1="374.06" y1="1533.29" x2="398.66" y2="1563.9" stroke="#d700ff" stroke-width="1.25" stroke-linecap="round" opacity="0.9"/>
<line x1="371.06" y1="1565.32" x2="375.65" y2="1550.62" stroke="#d200ff" stroke-width="1.25" stroke-linecap="round" opacity="0.9"/>
<line x1="375.65" y1="1550.62" x2="384.1" y2="1574.23" stroke="#d200ff" stroke-width="1.25" stroke-linecap="round" opacity="0.9"/>
<line x1="361.79" y1="1557.86" x2="377.24" y2="1551.34" stroke="#ce00ff" stroke-width="1.25" stroke-linecap="round" opacity="0.9"/>
<line x1="377.24" y1="1551.34" x2="396.83" y2="1581.79" stroke="#ce00ff" stroke-width="1.25" stroke-linecap="round" opacity="0.9"/>
<line x1="357.95" y1="1554.11" x2="378.83" y2="1536.88" stroke="#ca00ff" stroke-width="1.25" stroke-linecap="round" opacity="0.9"/>
<line x1="378.83" y1="1536.88" x2="403.43" y2="1567.94" stroke="#ca00ff" stroke-width="1.25" stroke-linecap="round" opacity="0.9"/>
<line x1="331.23" y1="1534.73" x2="355.83" y2="1526.14" stroke="#c500ff" stroke-width="1.25" stroke-linecap="round" opacity="0.9"/>
<line x1="355.83" y1="1526.14" x2="380.43" y2="1530.49" stroke="#c500ff" stroke-width="1.25" stroke-linecap="round" opacity="0.9"/>
<line x1="380.43" y1="1530.49" x2="405.03" y2="1578.73" stroke="#c500ff" stroke-width="1.25" stroke-linecap="round" opacity="0.9"/>
<line x1="332.82" y1="1534.68" x2="357.42" y2="1545.65" stroke="#c100ff" stroke-width="1.25" stroke-linecap="round" opacity="0.9"/>
<line x1="357.42" y1="1545.65" x2="382.02" y2="1551.56" stroke="#c100ff" stroke-width="1.25" stroke-linecap="round" opacity="0.9"/>
<line x1="382.02" y1="1551.56" x2="406.62" y2="1563.89" stroke="#c100ff" stroke-width="1.25" stroke-linecap="round" opacity="0.9"/>
<line x1="360.2" y1="1552.25" x2="383.61" y2="1555.55" stroke="#bd00ff" stroke-width="1.25" stroke-linecap="round" opacity="0.9"/>
<line x1="383.61" y1="1555.55" x2="408.21" y2="1539.1" stroke="#bd00ff" stroke-width="1.25" stroke-linecap="round" opacity="0.9"/>
<line x1="375.12" y1="1561.32" x2="385.2" y2="1543.79" stroke="#b900ff" stroke-width="1.25" stroke-linecap="round" opacity="0.9"/>
<line x1="385.2" y1="1543.79" x2="409.8" y2="1553.98" stroke="#b900ff" stroke-width="1.25" stroke-linecap="round" opacity="0.9"/>
<line x1="369.86" y1="1556.59" x2="386.79" y2="1530.22" stroke="#b400ff" stroke-width="1.25" stroke-linecap="round" opacity="0.9"/>
<line x1="386.79" y1="1530.22" x2="411.39" y2="1521.48" stroke="#b400ff" stroke-width="1.25" stroke-linecap="round" opacity="0.9"/>
<line x1="339.18" y1="1534.51" x2="363.78" y2="1489.38" stroke="#b000ff" stroke-width="1.25" stroke-linecap="round" opacity="0.9"/>
<line x1="363.78" y1="1489.38" x2="388.38" y2="1516.04" stroke="#b000ff" stroke-width="1.25" stroke-linecap="round" opacity="0.9"/>
<line x1="388.38" y1="1516.04" x2="412.98" y2="1581.39" stroke="#b000ff" stroke-width="1.25" stroke-linecap="round" opacity="0.9"/>
<line x1="380.63" y1="1561.69" x2="389.97" y2="1560.74" stroke="#ac00ff" stroke-width="1.25" stroke-linecap="round" opacity="0.9"/>
<line x1="389.97" y1="1560.74" x2="414.57" y2="1548.82" stroke="#ac00ff" stroke-width="1.25" stroke-linecap="round" opacity="0.9"/>
<line x1="342.36" y1="1534.43" x2="366.96" y2="1522.87" stroke="#a400ff" stroke-width="1.25" stroke-linecap="round" opacity="0.9"/>
<line x1="366.96" y1="1522.87" x2="390.18" y2="1567.08" stroke="#a400ff" stroke-width="1.25" stroke-linecap="round" opacity="0.9"/>
<line x1="392.05" y1="1568.36" x2="416.16" y2="1501.49" stroke="#a400ff" stroke-width="1.25" stroke-linecap="round" opacity="0.9"/>
<line x1="343.95" y1="1534.38" x2="368.55" y2="1540.89" stroke="#9b00ff" stroke-width="1.25" stroke-linecap="round" opacity="0.9"/>
<line x1="368.55" y1="1540.89" x2="393.15" y2="1554.81" stroke="#9b00ff" stroke-width="1.25" stroke-linecap="round" opacity="0.9"/>
<line x1="393.15" y1="1554.81" x2="417.75" y2="1530.67" stroke="#9b00ff" stroke-width="1.25" stroke-linecap="round" opacity="0.9"/>
<line x1="375.34" y1="1554.68" x2="394.74" y2="1530.91" stroke="#9100ff" stroke-width="1.25" stroke-linecap="round" opacity="0.9"/>
<line x1="394.74" y1="1530.91" x2="419.34" y2="1537.75" stroke="#9100ff" stroke-width="1.25" stroke-linecap="round" opacity="0.9"/>
<line x1="347.13" y1="1534.3" x2="371.73" y2="1495.33" stroke="#8700ff" stroke-width="1.25" stroke-linecap="round" opacity="0.9"/>
<line x1="371.73" y1="1495.33" x2="396.33" y2="1553.73" stroke="#8700ff" stroke-width="1.25" stroke-linecap="round" opacity="0.9"/>
<line x1="396.33" y1="1553.73" x2="420.93" y2="1496.95" stroke="#8700ff" stroke-width="1.25" stroke-linecap="round" opacity="0.9"/>
<line x1="382.73" y1="1556.35" x2="399.52" y2="1543.59" stroke="#7400ff" stroke-width="1.25" stroke-linecap="round" opacity="0.9"/>
<line x1="399.52" y1="1543.59" x2="424.12" y2="1572.02" stroke="#7400ff" stroke-width="1.25" stroke-linecap="round" opacity="0.9"/>
<line x1="395.85" y1="1564.18" x2="401.11" y2="1555.47" stroke="#6a00ff" stroke-width="1.25" stroke-linecap="round" opacity="0.9"/>
<line x1="401.11" y1="1555.47" x2="408.09" y2="1572.53" stroke="#6a00ff" stroke-width="1.25" stroke-linecap="round" opacity="0.9"/>
<line x1="353.5" y1="1534.12" x2="378.1" y2="1532.57" stroke="#6100ff" stroke-width="1.25" stroke-linecap="round" opacity="0.9"/>
<line x1="378.1" y1="1532.57" x2="380.29" y2="1552.42" stroke="#6100ff" stroke-width="1.25" stroke-linecap="round" opacity="0.9"/>
<line x1="419.53" y1="1579.22" x2="427.3" y2="1497.97" stroke="#6100ff" stroke-width="1.25" stroke-linecap="round" opacity="0.9"/>
<line x1="381.15" y1="1551.88" x2="404.29" y2="1533.73" stroke="#5700ff" stroke-width="1.25" stroke-linecap="round" opacity="0.9"/>
<line x1="404.29" y1="1533.73" x2="413.52" y2="1573.98" stroke="#5700ff" stroke-width="1.25" stroke-linecap="round" opacity="0.9"/>
<line x1="356.68" y1="1534.04" x2="381.28" y2="1537.98" stroke="#4d00ff" stroke-width="1.25" stroke-linecap="round" opacity="0.9"/>
<line x1="381.28" y1="1537.98" x2="405.88" y2="1512.42" stroke="#4d00ff" stroke-width="1.25" stroke-linecap="round" opacity="0.9"/>
<line x1="405.88" y1="1512.42" x2="430.19" y2="1584.24" stroke="#4d00ff" stroke-width="1.25" stroke-linecap="round" opacity="0.9"/>
<line x1="358.27" y1="1533.99" x2="382.87" y2="1537.3" stroke="#4400ff" stroke-width="1.25" stroke-linecap="round" opacity="0.9"/>
<line x1="382.87" y1="1537.3" x2="407.47" y2="1528.9" stroke="#4400ff" stroke-width="1.25" stroke-linecap="round" opacity="0.9"/>
<line x1="407.47" y1="1528.9" x2="432.07" y2="1572.97" stroke="#4400ff" stroke-width="1.25" stroke-linecap="round" opacity="0.9"/>
<line x1="359.86" y1="1533.95" x2="384.46" y2="1548.88" stroke="#3a00ff" stroke-width="1.25" stroke-linecap="round" opacity="0.9"/>
<line x1="384.46" y1="1548.88" x2="409.06" y2="1498.25" stroke="#3a00ff" stroke-width="1.25" stroke-linecap="round" opacity="0.9"/>
<line x1="409.06" y1="1498.25" x2="433.66" y2="1535.21" stroke="#3a00ff" stroke-width="1.25" stroke-linecap="round" opacity="0.9"/>
<line x1="387.75" y1="1551.86" x2="410.65" y2="1477.42" stroke="#3000ff" stroke-width="1.25" stroke-linecap="round" opacity="0.9"/>
<line x1="410.65" y1="1477.42" x2="427.41" y2="1578.95" stroke="#3000ff" stroke-width="1.25" stroke-linecap="round" opacity="0.9"/>
<line x1="363.04" y1="1533.86" x2="387.64" y2="1507.09" stroke="#2700ff" stroke-width="1.25" stroke-linecap="round" opacity="0.9"/>
<line x1="387.64" y1="1507.09" x2="409.48" y2="1565.58" stroke="#2700ff" stroke-width="1.25" stroke-linecap="round" opacity="0.9"/>
<line x1="420.42" y1="1573.05" x2="436.84" y2="1573.21" stroke="#2700ff" stroke-width="1.25" stroke-linecap="round" opacity="0.9"/>
<line x1="364.63" y1="1533.82" x2="389.23" y2="1515.76" stroke="#1d00ff" stroke-width="1.25" stroke-linecap="round" opacity="0.9"/>
<line x1="389.23" y1="1515.76" x2="413.83" y2="1552.63" stroke="#1d00ff" stroke-width="1.25" stroke-linecap="round" opacity="0.9"/>
<line x1="413.83" y1="1552.63" x2="438.43" y2="1552.12" stroke="#1d00ff" stroke-width="1.25" stroke-linecap="round" opacity="0.9"/>
<line x1="431.36" y1="1578.26" x2="440.02" y2="1553.06" stroke="#1300ff" stroke-width="1.25" stroke-linecap="round" opacity="0.9"/>
<line x1="369.41" y1="1533.69" x2="394.01" y2="1492.29" stroke="#0000ff" stroke-width="1.25" stroke-linecap="round" opacity="0.9"/>
<line x1="394.01" y1="1492.29" x2="418.61" y2="1530.7" stroke="#0000ff" stroke-width="1.25" stroke-linecap="round" opacity="0.9"/>
<line x1="418.61" y1="1530.7" x2="443.21" y2="1517.29" stroke="#0000ff" stroke-width="1.25" stroke-linecap="round" opacity="0.9"/>
<line x1="416.68" y1="1564.84" x2="420.2" y2="1561.66" stroke="#0006ff" stroke-width="1.25" stroke-linecap="round" opacity="0.9"/>
<line x1="420.2" y1="1561.66" x2="423.09" y2="1569.22" stroke="#0006ff" stroke-width="1.25" stroke-linecap="round" opacity="0.9"/>
<line x1="372.59" y1="1533.6" x2="397.19" y2="1513.01" stroke="#000dff" stroke-width="1.25" stroke-linecap="round" opacity="0.9"/>
<line x1="397.19" y1="1513.01" x2="421.79" y2="1495.57" stroke="#000dff" stroke-width="1.25" stroke-linecap="round" opacity="0.9"/>
<line x1="421.79" y1="1495.57" x2="438.88" y2="1578.87" stroke="#000dff" stroke-width="1.25" stroke-linecap="round" opacity="0.9"/>
<line x1="374.18" y1="1533.56" x2="398.78" y2="1479.94" stroke="#0013ff" stroke-width="1.25" stroke-linecap="round" opacity="0.9"/>
<line x1="398.78" y1="1479.94" x2="423.38" y2="1520.53" stroke="#0013ff" stroke-width="1.25" stroke-linecap="round" opacity="0.9"/>
<line x1="423.38" y1="1520.53" x2="447.04" y2="1583.32" stroke="#0013ff" stroke-width="1.25" stroke-linecap="round" opacity="0.9"/>
<line x1="413.76" y1="1559.46" x2="424.97" y2="1503.08" stroke="#0019ff" stroke-width="1.25" stroke-linecap="round" opacity="0.9"/>
<line x1="424.97" y1="1503.08" x2="449.57" y2="1582.37" stroke="#0019ff" stroke-width="1.25" stroke-linecap="round" opacity="0.9"/>
<line x1="413.48" y1="1558.14" x2="426.56" y2="1544.91" stroke="#001fff" stroke-width="1.25" stroke-linecap="round" opacity="0.9"/>
<line x1="426.56" y1="1544.91" x2="451.16" y2="1561.28" stroke="#001fff" stroke-width="1.25" stroke-linecap="round" opacity="0.9"/>
<line x1="378.95" y1="1533.43" x2="403.55" y2="1482.39" stroke="#0026ff" stroke-width="1.25" stroke-linecap="round" opacity="0.9"/>
<line x1="403.55" y1="1482.39" x2="419.49" y2="1561.11" stroke="#0026ff" stroke-width="1.25" stroke-linecap="round" opacity="0.9"/>
<line x1="438.27" y1="1573.94" x2="452.75" y2="1531.04" stroke="#0026ff" stroke-width="1.25" stroke-linecap="round" opacity="0.9"/>
<line x1="380.54" y1="1533.39" x2="405.14" y2="1482.8" stroke="#002cff" stroke-width="1.25" stroke-linecap="round" opacity="0.9"/>
<line x1="405.14" y1="1482.8" x2="429.74" y2="1501.06" stroke="#002cff" stroke-width="1.25" stroke-linecap="round" opacity="0.9"/>
<line x1="429.74" y1="1501.06" x2="453.63" y2="1583.3" stroke="#002cff" stroke-width="1.25" stroke-linecap="round" opacity="0.9"/>
<line x1="415.26" y1="1555.96" x2="431.33" y2="1519.05" stroke="#0032ff" stroke-width="1.25" stroke-linecap="round" opacity="0.9"/>
<line x1="431.33" y1="1519.05" x2="455.93" y2="1573.41" stroke="#0032ff" stroke-width="1.25" stroke-linecap="round" opacity="0.9"/>
<line x1="383.72" y1="1533.3" x2="408.32" y2="1539.39" stroke="#0038ff" stroke-width="1.25" stroke-linecap="round" opacity="0.9"/>
<line x1="408.32" y1="1539.39" x2="432.92" y2="1502.14" stroke="#0038ff" stroke-width="1.25" stroke-linecap="round" opacity="0.9"/>
<line x1="432.92" y1="1502.14" x2="455.63" y2="1582.4" stroke="#0038ff" stroke-width="1.25" stroke-linecap="round" opacity="0.9"/>
<line x1="386.91" y1="1533.21" x2="411.51" y2="1510.42" stroke="#0045ff" stroke-width="1.25" stroke-linecap="round" opacity="0.9"/>
<line x1="411.51" y1="1510.42" x2="436.11" y2="1548.09" stroke="#0045ff" stroke-width="1.25" stroke-linecap="round" opacity="0.9"/>
<line x1="436.11" y1="1548.09" x2="448.04" y2="1574.96" stroke="#0045ff" stroke-width="1.25" stroke-linecap="round" opacity="0.9"/>
<line x1="388.5" y1="1533.17" x2="413.1" y2="1544.82" stroke="#004bff" stroke-width="1.25" stroke-linecap="round" opacity="0.9"/>
<line x1="413.1" y1="1544.82" x2="437.7" y2="1526.6" stroke="#004bff" stroke-width="1.25" stroke-linecap="round" opacity="0.9"/>
<line x1="437.7" y1="1526.6" x2="462.3" y2="1574.74" stroke="#004bff" stroke-width="1.25" stroke-linecap="round" opacity="0.9"/>
<line x1="390.09" y1="1533.13" x2="414.69" y2="1489.23" stroke="#0051ff" stroke-width="1.25" stroke-linecap="round" opacity="0.9"/>
<line x1="414.69" y1="1489.23" x2="439.29" y2="1563.73" stroke="#0051ff" stroke-width="1.25" stroke-linecap="round" opacity="0.9"/>
<line x1="439.29" y1="1563.73" x2="463.89" y2="1534.72" stroke="#0051ff" stroke-width="1.25" stroke-linecap="round" opacity="0.9"/>
<line x1="391.68" y1="1533.08" x2="416.28" y2="1482.32" stroke="#0058ff" stroke-width="1.25" stroke-linecap="round" opacity="0.9"/>
<line x1="416.28" y1="1482.32" x2="440.88" y2="1494.2" stroke="#0058ff" stroke-width="1.25" stroke-linecap="round" opacity="0.9"/>
<line x1="440.88" y1="1494.2" x2="459.67" y2="1579.52" stroke="#0058ff" stroke-width="1.25" stroke-linecap="round" opacity="0.9"/>
<line x1="393.27" y1="1533.04" x2="417.87" y2="1507.71" stroke="#005eff" stroke-width="1.25" stroke-linecap="round" opacity="0.9"/>
<line x1="417.87" y1="1507.71" x2="426.91" y2="1556.02" stroke="#005eff" stroke-width="1.25" stroke-linecap="round" opacity="0.9"/>
<line x1="434.3" y1="1559.93" x2="444.06" y2="1516.6" stroke="#0064ff" stroke-width="1.25" stroke-linecap="round" opacity="0.9"/>
<line x1="444.06" y1="1516.6" x2="456.91" y2="1575.37" stroke="#0064ff" stroke-width="1.25" stroke-linecap="round" opacity="0.9"/>
<line x1="396.45" y1="1532.95" x2="421.05" y2="1544.74" stroke="#006aff" stroke-width="1.25" stroke-linecap="round" opacity="0.9"/>
<line x1="421.05" y1="1544.74" x2="437.58" y2="1561.04" stroke="#006aff" stroke-width="1.25" stroke-linecap="round" opacity="0.9"/>
<line x1="454.5" y1="1572.6" x2="470.25" y2="1579" stroke="#006aff" stroke-width="1.25" stroke-linecap="round" opacity="0.9"/>
<line x1="436.3" y1="1559.04" x2="447.24" y2="1551.25" stroke="#0071ff" stroke-width="1.25" stroke-linecap="round" opacity="0.9"/>
<line x1="447.24" y1="1551.25" x2="471.84" y2="1503.28" stroke="#0071ff" stroke-width="1.25" stroke-linecap="round" opacity="0.9"/>
<line x1="399.63" y1="1532.87" x2="424.23" y2="1542.28" stroke="#007aff" stroke-width="1.25" stroke-linecap="round" opacity="0.9"/>
<line x1="424.23" y1="1542.28" x2="448.83" y2="1538.84" stroke="#007aff" stroke-width="1.25" stroke-linecap="round" opacity="0.9"/>
<line x1="448.83" y1="1538.84" x2="473.43" y2="1536.12" stroke="#007aff" stroke-width="1.25" stroke-linecap="round" opacity="0.9"/>
<line x1="402.81" y1="1532.78" x2="427.41" y2="1499.4" stroke="#008aff" stroke-width="1.25" stroke-linecap="round" opacity="0.9"/>
<line x1="427.41" y1="1499.4" x2="438.33" y2="1557.03" stroke="#008aff" stroke-width="1.25" stroke-linecap="round" opacity="0.9"/>
<line x1="404.41" y1="1532.74" x2="429.01" y2="1502.1" stroke="#0092ff" stroke-width="1.25" stroke-linecap="round" opacity="0.9"/>
<line x1="429.01" y1="1502.1" x2="453.61" y2="1527.83" stroke="#0092ff" stroke-width="1.25" stroke-linecap="round" opacity="0.9"/>
<line x1="453.61" y1="1527.83" x2="478.21" y2="1577.28" stroke="#0092ff" stroke-width="1.25" stroke-linecap="round" opacity="0.9"/>
<line x1="406" y1="1532.69" x2="430.6" y2="1510.47" stroke="#009aff" stroke-width="1.25" stroke-linecap="round" opacity="0.9"/>
<line x1="430.6" y1="1510.47" x2="455.2" y2="1553.85" stroke="#009aff" stroke-width="1.25" stroke-linecap="round" opacity="0.9"/>
<line x1="455.2" y1="1553.85" x2="460.67" y2="1570.03" stroke="#009aff" stroke-width="1.25" stroke-linecap="round" opacity="0.9"/>
<line x1="464.75" y1="1571.69" x2="481.39" y2="1539.14" stroke="#00a3ff" stroke-width="1.25" stroke-linecap="round" opacity="0.9"/>
<line x1="459.69" y1="1565.97" x2="459.97" y2="1565.5" stroke="#00b3ff" stroke-width="1.25" stroke-linecap="round" opacity="0.9"/>
<line x1="459.97" y1="1565.5" x2="460.34" y2="1566.42" stroke="#00b3ff" stroke-width="1.25" stroke-linecap="round" opacity="0.9"/>
<line x1="412.36" y1="1532.52" x2="436.96" y2="1528.63" stroke="#00bbff" stroke-width="1.25" stroke-linecap="round" opacity="0.9"/>
<line x1="436.96" y1="1528.63" x2="441.45" y2="1552.39" stroke="#00bbff" stroke-width="1.25" stroke-linecap="round" opacity="0.9"/>
<line x1="481.94" y1="1580.04" x2="486.16" y2="1563.75" stroke="#00bbff" stroke-width="1.25" stroke-linecap="round" opacity="0.9"/>
<line x1="483.98" y1="1580.3" x2="487.75" y2="1547.2" stroke="#00c4ff" stroke-width="1.25" stroke-linecap="round" opacity="0.9"/>
<line x1="441.83" y1="1550.39" x2="464.74" y2="1485.89" stroke="#00ccff" stroke-width="1.25" stroke-linecap="round" opacity="0.9"/>
<line x1="464.74" y1="1485.89" x2="484" y2="1579.18" stroke="#00ccff" stroke-width="1.25" stroke-linecap="round" opacity="0.9"/>
<line x1="417.13" y1="1532.39" x2="441.73" y2="1529.86" stroke="#00d4ff" stroke-width="1.25" stroke-linecap="round" opacity="0.9"/>
<line x1="441.73" y1="1529.86" x2="466.33" y2="1544.38" stroke="#00d4ff" stroke-width="1.25" stroke-linecap="round" opacity="0.9"/>
<line x1="466.33" y1="1544.38" x2="483.4" y2="1577.65" stroke="#00d4ff" stroke-width="1.25" stroke-linecap="round" opacity="0.9"/>
<line x1="418.72" y1="1532.35" x2="443.32" y2="1537.86" stroke="#00dcff" stroke-width="1.25" stroke-linecap="round" opacity="0.9"/>
<line x1="443.32" y1="1537.86" x2="467.92" y2="1559.45" stroke="#00dcff" stroke-width="1.25" stroke-linecap="round" opacity="0.9"/>
<line x1="467.92" y1="1559.45" x2="492.52" y2="1561.03" stroke="#00dcff" stroke-width="1.25" stroke-linecap="round" opacity="0.9"/>
<line x1="486.76" y1="1577.68" x2="494.11" y2="1557.94" stroke="#00e5ff" stroke-width="1.25" stroke-linecap="round" opacity="0.9"/>
<line x1="423.5" y1="1532.22" x2="448.1" y2="1489.84" stroke="#00f5ff" stroke-width="1.25" stroke-linecap="round" opacity="0.9"/>
<line x1="448.1" y1="1489.84" x2="472.7" y2="1492.91" stroke="#00f5ff" stroke-width="1.25" stroke-linecap="round" opacity="0.9"/>
<line x1="472.7" y1="1492.91" x2="497.3" y2="1548.4" stroke="#00f5ff" stroke-width="1.25" stroke-linecap="round" opacity="0.9"/>
<line x1="449.89" y1="1549.11" x2="474.29" y2="1520.17" stroke="#00fdff" stroke-width="1.25" stroke-linecap="round" opacity="0.9"/>
<line x1="474.29" y1="1520.17" x2="495.7" y2="1580.4" stroke="#00fdff" stroke-width="1.25" stroke-linecap="round" opacity="0.9"/>
<line x1="472.57" y1="1563.47" x2="475.88" y2="1550.11" stroke="#00fffa" stroke-width="1.25" stroke-linecap="round" opacity="0.9"/>
<line x1="475.88" y1="1550.11" x2="500.48" y2="1564.77" stroke="#00fffa" stroke-width="1.25" stroke-linecap="round" opacity="0.9"/>
<line x1="492.28" y1="1575.8" x2="502.07" y2="1556.06" stroke="#00fff3" stroke-width="1.25" stroke-linecap="round" opacity="0.9"/>
<line x1="460.33" y1="1552.85" x2="479.06" y2="1536.85" stroke="#00ffed" stroke-width="1.25" stroke-linecap="round" opacity="0.9"/>
<line x1="479.06" y1="1536.85" x2="492.94" y2="1575.12" stroke="#00ffed" stroke-width="1.25" stroke-linecap="round" opacity="0.9"/>
<line x1="431.45" y1="1532" x2="456.05" y2="1482.78" stroke="#00ffe7" stroke-width="1.25" stroke-linecap="round" opacity="0.9"/>
<line x1="456.05" y1="1482.78" x2="480.65" y2="1507.61" stroke="#00ffe7" stroke-width="1.25" stroke-linecap="round" opacity="0.9"/>
<line x1="480.65" y1="1507.61" x2="505.25" y2="1570.4" stroke="#00ffe7" stroke-width="1.25" stroke-linecap="round" opacity="0.9"/>
<line x1="462.06" y1="1551.77" x2="482.24" y2="1557.11" stroke="#00ffe0" stroke-width="1.25" stroke-linecap="round" opacity="0.9"/>
<line x1="482.24" y1="1557.11" x2="488.86" y2="1570.08" stroke="#00ffe0" stroke-width="1.25" stroke-linecap="round" opacity="0.9"/>
<line x1="434.63" y1="1531.91" x2="459.23" y2="1492.48" stroke="#00ffda" stroke-width="1.25" stroke-linecap="round" opacity="0.9"/>
<line x1="459.23" y1="1492.48" x2="480.25" y2="1563.07" stroke="#00ffda" stroke-width="1.25" stroke-linecap="round" opacity="0.9"/>
<line x1="500.71" y1="1577.04" x2="508.43" y2="1577.94" stroke="#00ffda" stroke-width="1.25" stroke-linecap="round" opacity="0.9"/>
<line x1="436.22" y1="1531.87" x2="460.82" y2="1470.17" stroke="#00ffd3" stroke-width="1.25" stroke-linecap="round" opacity="0.9"/>
<line x1="460.82" y1="1470.17" x2="485.02" y2="1565.19" stroke="#00ffd3" stroke-width="1.25" stroke-linecap="round" opacity="0.9"/>
<line x1="486.66" y1="1566.32" x2="510.02" y2="1557.47" stroke="#00ffd3" stroke-width="1.25" stroke-linecap="round" opacity="0.9"/>
<line x1="437.81" y1="1531.83" x2="462.41" y2="1546.54" stroke="#00ffcd" stroke-width="1.25" stroke-linecap="round" opacity="0.9"/>
<line x1="462.41" y1="1546.54" x2="487.01" y2="1561.04" stroke="#00ffcd" stroke-width="1.25" stroke-linecap="round" opacity="0.9"/>
<line x1="487.01" y1="1561.04" x2="511.61" y2="1564.92" stroke="#00ffcd" stroke-width="1.25" stroke-linecap="round" opacity="0.9"/>
<line x1="499.22" y1="1572.64" x2="513.2" y2="1546.74" stroke="#00ffc7" stroke-width="1.25" stroke-linecap="round" opacity="0.9"/>
<line x1="441" y1="1531.74" x2="465.6" y2="1511.33" stroke="#00ffc0" stroke-width="1.25" stroke-linecap="round" opacity="0.9"/>
<line x1="465.6" y1="1511.33" x2="490.2" y2="1546.29" stroke="#00ffc0" stroke-width="1.25" stroke-linecap="round" opacity="0.9"/>
<line x1="490.2" y1="1546.29" x2="501.17" y2="1572.84" stroke="#00ffc0" stroke-width="1.25" stroke-linecap="round" opacity="0.9"/>
<line x1="442.59" y1="1531.7" x2="467.19" y2="1487.84" stroke="#00ffba" stroke-width="1.25" stroke-linecap="round" opacity="0.9"/>
<line x1="467.19" y1="1487.84" x2="491.79" y2="1484.52" stroke="#00ffba" stroke-width="1.25" stroke-linecap="round" opacity="0.9"/>
<line x1="491.79" y1="1484.52" x2="506.67" y2="1575.46" stroke="#00ffba" stroke-width="1.25" stroke-linecap="round" opacity="0.9"/>
<line x1="482.47" y1="1557.8" x2="493.38" y2="1547.6" stroke="#00ffb3" stroke-width="1.25" stroke-linecap="round" opacity="0.9"/>
<line x1="493.38" y1="1547.6" x2="517.98" y2="1568.88" stroke="#00ffb3" stroke-width="1.25" stroke-linecap="round" opacity="0.9"/>
<line x1="501.85" y1="1569.91" x2="519.57" y2="1491.92" stroke="#00ffad" stroke-width="1.25" stroke-linecap="round" opacity="0.9"/>
<line x1="447.36" y1="1531.57" x2="471.96" y2="1499.69" stroke="#00ffa6" stroke-width="1.25" stroke-linecap="round" opacity="0.9"/>
<line x1="471.96" y1="1499.69" x2="484.86" y2="1557.18" stroke="#00ffa6" stroke-width="1.25" stroke-linecap="round" opacity="0.9"/>
<line x1="448.95" y1="1531.52" x2="473.55" y2="1471.96" stroke="#00ffa0" stroke-width="1.25" stroke-linecap="round" opacity="0.9"/>
<line x1="473.55" y1="1471.96" x2="498.15" y2="1518.45" stroke="#00ffa0" stroke-width="1.25" stroke-linecap="round" opacity="0.9"/>
<line x1="498.15" y1="1518.45" x2="522.75" y2="1500.66" stroke="#00ffa0" stroke-width="1.25" stroke-linecap="round" opacity="0.9"/>
<line x1="450.54" y1="1531.48" x2="475.14" y2="1509.05" stroke="#00ff9a" stroke-width="1.25" stroke-linecap="round" opacity="0.9"/>
<line x1="475.14" y1="1509.05" x2="488.94" y2="1557.7" stroke="#00ff9a" stroke-width="1.25" stroke-linecap="round" opacity="0.9"/>
<line x1="515.78" y1="1576.04" x2="524.34" y2="1565.5" stroke="#00ff9a" stroke-width="1.25" stroke-linecap="round" opacity="0.9"/>
<line x1="523.27" y1="1580.02" x2="525.93" y2="1578.74" stroke="#00ff93" stroke-width="1.25" stroke-linecap="round" opacity="0.9"/>
<line x1="453.72" y1="1531.39" x2="478.32" y2="1520.91" stroke="#00ff8d" stroke-width="1.25" stroke-linecap="round" opacity="0.9"/>
<line x1="478.32" y1="1520.91" x2="491.23" y2="1557.01" stroke="#00ff8d" stroke-width="1.25" stroke-linecap="round" opacity="0.9"/>
<line x1="527.15" y1="1581.54" x2="527.52" y2="1581.41" stroke="#00ff8d" stroke-width="1.25" stroke-linecap="round" opacity="0.9"/>
<line x1="455.31" y1="1531.35" x2="479.91" y2="1523.54" stroke="#00ff86" stroke-width="1.25" stroke-linecap="round" opacity="0.9"/>
<line x1="479.91" y1="1523.54" x2="504.51" y2="1543.74" stroke="#00ff86" stroke-width="1.25" stroke-linecap="round" opacity="0.9"/>
<line x1="504.51" y1="1543.74" x2="529.11" y2="1549.68" stroke="#00ff86" stroke-width="1.25" stroke-linecap="round" opacity="0.9"/>
<line x1="456.9" y1="1531.31" x2="481.5" y2="1533.87" stroke="#00ff80" stroke-width="1.25" stroke-linecap="round" opacity="0.9"/>
<line x1="481.5" y1="1533.87" x2="497.31" y2="1558.9" stroke="#00ff80" stroke-width="1.25" stroke-linecap="round" opacity="0.9"/>
<line x1="510.32" y1="1567.78" x2="530.7" y2="1543.35" stroke="#00ff80" stroke-width="1.25" stroke-linecap="round" opacity="0.9"/>
<line x1="458.49" y1="1531.26" x2="483.09" y2="1540.47" stroke="#00ff7a" stroke-width="1.25" stroke-linecap="round" opacity="0.9"/>
<line x1="483.09" y1="1540.47" x2="488.23" y2="1551.57" stroke="#00ff7a" stroke-width="1.25" stroke-linecap="round" opacity="0.9"/>
<line x1="460.09" y1="1531.22" x2="484.69" y2="1542.49" stroke="#00ff73" stroke-width="1.25" stroke-linecap="round" opacity="0.9"/>
<line x1="484.69" y1="1542.49" x2="509.29" y2="1563.83" stroke="#00ff73" stroke-width="1.25" stroke-linecap="round" opacity="0.9"/>
<line x1="509.29" y1="1563.83" x2="533.89" y2="1569.55" stroke="#00ff73" stroke-width="1.25" stroke-linecap="round" opacity="0.9"/>
<line x1="461.68" y1="1531.18" x2="486.28" y2="1542.45" stroke="#00ff6d" stroke-width="1.25" stroke-linecap="round" opacity="0.9"/>
<line x1="486.28" y1="1542.45" x2="510.88" y2="1551.92" stroke="#00ff6d" stroke-width="1.25" stroke-linecap="round" opacity="0.9"/>
<line x1="510.88" y1="1551.92" x2="535.4" y2="1581.53" stroke="#00ff6d" stroke-width="1.25" stroke-linecap="round" opacity="0.9"/>
<line x1="504.34" y1="1559.19" x2="512.47" y2="1541.67" stroke="#00ff66" stroke-width="1.25" stroke-linecap="round" opacity="0.9"/>
<line x1="512.47" y1="1541.67" x2="537.07" y2="1532.18" stroke="#00ff66" stroke-width="1.25" stroke-linecap="round" opacity="0.9"/>
<line x1="464.86" y1="1531.09" x2="489.46" y2="1524.27" stroke="#00ff60" stroke-width="1.25" stroke-linecap="round" opacity="0.9"/>
<line x1="489.46" y1="1524.27" x2="492.06" y2="1549.67" stroke="#00ff60" stroke-width="1.25" stroke-linecap="round" opacity="0.9"/>
<line x1="536.01" y1="1579.68" x2="538.66" y2="1557.38" stroke="#00ff60" stroke-width="1.25" stroke-linecap="round" opacity="0.9"/>
<line x1="504.96" y1="1557.35" x2="515.65" y2="1538.04" stroke="#00ff59" stroke-width="1.25" stroke-linecap="round" opacity="0.9"/>
<line x1="515.65" y1="1538.04" x2="527.16" y2="1572.51" stroke="#00ff59" stroke-width="1.25" stroke-linecap="round" opacity="0.9"/>
<line x1="516.07" y1="1563.81" x2="517.24" y2="1561.72" stroke="#00ff53" stroke-width="1.25" stroke-linecap="round" opacity="0.9"/>
<line x1="517.24" y1="1561.72" x2="541.84" y2="1538" stroke="#00ff53" stroke-width="1.25" stroke-linecap="round" opacity="0.9"/>
<line x1="469.63" y1="1530.96" x2="494.23" y2="1546.41" stroke="#00ff4c" stroke-width="1.25" stroke-linecap="round" opacity="0.9"/>
<line x1="494.23" y1="1546.41" x2="518.83" y2="1526.83" stroke="#00ff4c" stroke-width="1.25" stroke-linecap="round" opacity="0.9"/>
<line x1="518.83" y1="1526.83" x2="529.28" y2="1571.7" stroke="#00ff4c" stroke-width="1.25" stroke-linecap="round" opacity="0.9"/>
<line x1="472.81" y1="1530.87" x2="497.41" y2="1530.76" stroke="#00ff3f" stroke-width="1.25" stroke-linecap="round" opacity="0.9"/>
<line x1="497.41" y1="1530.76" x2="522.01" y2="1548.02" stroke="#00ff3f" stroke-width="1.25" stroke-linecap="round" opacity="0.9"/>
<line x1="522.01" y1="1548.02" x2="546.61" y2="1564.13" stroke="#00ff3f" stroke-width="1.25" stroke-linecap="round" opacity="0.9"/>
<line x1="474.4" y1="1530.83" x2="499" y2="1543.91" stroke="#00ff39" stroke-width="1.25" stroke-linecap="round" opacity="0.9"/>
<line x1="499" y1="1543.91" x2="502.04" y2="1549.71" stroke="#00ff39" stroke-width="1.25" stroke-linecap="round" opacity="0.9"/>
<line x1="539.43" y1="1575.24" x2="548.2" y2="1566.63" stroke="#00ff39" stroke-width="1.25" stroke-linecap="round" opacity="0.9"/>
<line x1="475.99" y1="1530.79" x2="500.59" y2="1527.1" stroke="#00ff32" stroke-width="1.25" stroke-linecap="round" opacity="0.9"/>
<line x1="500.59" y1="1527.1" x2="525.19" y2="1513.23" stroke="#00ff32" stroke-width="1.25" stroke-linecap="round" opacity="0.9"/>
<line x1="525.19" y1="1513.23" x2="536.02" y2="1571.78" stroke="#00ff32" stroke-width="1.25" stroke-linecap="round" opacity="0.9"/>
<line x1="545.72" y1="1577.27" x2="551.39" y2="1573.91" stroke="#00ff2c" stroke-width="1.25" stroke-linecap="round" opacity="0.9"/>
<line x1="479.18" y1="1530.7" x2="503.78" y2="1507.37" stroke="#00ff25" stroke-width="1.25" stroke-linecap="round" opacity="0.9"/>
<line x1="503.78" y1="1507.37" x2="520.75" y2="1559.1" stroke="#00ff25" stroke-width="1.25" stroke-linecap="round" opacity="0.9"/>
<line x1="543.3" y1="1574.49" x2="552.98" y2="1569.42" stroke="#00ff25" stroke-width="1.25" stroke-linecap="round" opacity="0.9"/>
<line x1="520.25" y1="1557.62" x2="529.97" y2="1547.86" stroke="#00ff1f" stroke-width="1.25" stroke-linecap="round" opacity="0.9"/>
<line x1="529.97" y1="1547.86" x2="554.57" y2="1490.97" stroke="#00ff1f" stroke-width="1.25" stroke-linecap="round" opacity="0.9"/>
<line x1="483.95" y1="1530.57" x2="508.55" y2="1506.87" stroke="#00ff12" stroke-width="1.25" stroke-linecap="round" opacity="0.9"/>
<line x1="508.55" y1="1506.87" x2="531.93" y2="1563.34" stroke="#00ff12" stroke-width="1.25" stroke-linecap="round" opacity="0.9"/>
<line x1="541.2" y1="1569.67" x2="557.75" y2="1576.62" stroke="#00ff12" stroke-width="1.25" stroke-linecap="round" opacity="0.9"/>
<line x1="485.54" y1="1530.53" x2="510.14" y2="1540.28" stroke="#00ff0c" stroke-width="1.25" stroke-linecap="round" opacity="0.9"/>
<line x1="510.14" y1="1540.28" x2="514.93" y2="1550.6" stroke="#00ff0c" stroke-width="1.25" stroke-linecap="round" opacity="0.9"/>
<line x1="545.51" y1="1571.48" x2="559.34" y2="1543.44" stroke="#00ff0c" stroke-width="1.25" stroke-linecap="round" opacity="0.9"/>
<line x1="535.75" y1="1563.69" x2="536.33" y2="1559.02" stroke="#00ff05" stroke-width="1.25" stroke-linecap="round" opacity="0.9"/>
<line x1="536.33" y1="1559.02" x2="560.93" y2="1579.48" stroke="#00ff05" stroke-width="1.25" stroke-linecap="round" opacity="0.9"/>
<line x1="488.72" y1="1530.44" x2="513.32" y2="1541.82" stroke="#01ff00" stroke-width="1.25" stroke-linecap="round" opacity="0.9"/>
<line x1="513.32" y1="1541.82" x2="537.92" y2="1523.01" stroke="#01ff00" stroke-width="1.25" stroke-linecap="round" opacity="0.9"/>
<line x1="537.92" y1="1523.01" x2="562.52" y2="1552.85" stroke="#01ff00" stroke-width="1.25" stroke-linecap="round" opacity="0.9"/>
<line x1="490.31" y1="1530.4" x2="514.91" y2="1533.09" stroke="#09ff00" stroke-width="1.25" stroke-linecap="round" opacity="0.9"/>
<line x1="514.91" y1="1533.09" x2="539.51" y2="1556.16" stroke="#09ff00" stroke-width="1.25" stroke-linecap="round" opacity="0.9"/>
<line x1="539.51" y1="1556.16" x2="555.05" y2="1574.61" stroke="#09ff00" stroke-width="1.25" stroke-linecap="round" opacity="0.9"/>
<line x1="491.9" y1="1530.35" x2="516.5" y2="1513.08" stroke="#10ff00" stroke-width="1.25" stroke-linecap="round" opacity="0.9"/>
<line x1="516.5" y1="1513.08" x2="528.09" y2="1555.07" stroke="#10ff00" stroke-width="1.25" stroke-linecap="round" opacity="0.9"/>
<line x1="493.49" y1="1530.31" x2="518.09" y2="1541.36" stroke="#17ff00" stroke-width="1.25" stroke-linecap="round" opacity="0.9"/>
<line x1="518.09" y1="1541.36" x2="520.41" y2="1548.69" stroke="#17ff00" stroke-width="1.25" stroke-linecap="round" opacity="0.9"/>
<line x1="555.09" y1="1571.25" x2="568.88" y2="1551.49" stroke="#1eff00" stroke-width="1.25" stroke-linecap="round" opacity="0.9"/>
<line x1="496.68" y1="1530.22" x2="521.28" y2="1517.93" stroke="#26ff00" stroke-width="1.25" stroke-linecap="round" opacity="0.9"/>
<line x1="521.28" y1="1517.93" x2="545.88" y2="1560.55" stroke="#26ff00" stroke-width="1.25" stroke-linecap="round" opacity="0.9"/>
<line x1="545.88" y1="1560.55" x2="556.79" y2="1571.28" stroke="#26ff00" stroke-width="1.25" stroke-linecap="round" opacity="0.9"/>
<line x1="532.6" y1="1553.63" x2="547.47" y2="1482.24" stroke="#2dff00" stroke-width="1.25" stroke-linecap="round" opacity="0.9"/>
<line x1="547.47" y1="1482.24" x2="572.07" y2="1553.58" stroke="#2dff00" stroke-width="1.25" stroke-linecap="round" opacity="0.9"/>
<line x1="499.86" y1="1530.14" x2="524.46" y2="1495.93" stroke="#34ff00" stroke-width="1.25" stroke-linecap="round" opacity="0.9"/>
<line x1="524.46" y1="1495.93" x2="539.73" y2="1557.37" stroke="#34ff00" stroke-width="1.25" stroke-linecap="round" opacity="0.9"/>
<line x1="542" y1="1557.79" x2="550.65" y2="1525.7" stroke="#3bff00" stroke-width="1.25" stroke-linecap="round" opacity="0.9"/>
<line x1="550.65" y1="1525.7" x2="575.25" y2="1536.07" stroke="#3bff00" stroke-width="1.25" stroke-linecap="round" opacity="0.9"/>
<line x1="551.16" y1="1562.91" x2="552.24" y2="1560.27" stroke="#43ff00" stroke-width="1.25" stroke-linecap="round" opacity="0.9"/>
<line x1="552.24" y1="1560.27" x2="576.84" y2="1548.7" stroke="#43ff00" stroke-width="1.25" stroke-linecap="round" opacity="0.9"/>
<line x1="579.25" y1="1579.84" x2="580.02" y2="1573.51" stroke="#51ff00" stroke-width="1.25" stroke-linecap="round" opacity="0.9"/>
<line x1="507.81" y1="1529.92" x2="532.41" y2="1530.8" stroke="#58ff00" stroke-width="1.25" stroke-linecap="round" opacity="0.9"/>
<line x1="532.41" y1="1530.8" x2="549.5" y2="1558.39" stroke="#58ff00" stroke-width="1.25" stroke-linecap="round" opacity="0.9"/>
<line x1="563.26" y1="1567.79" x2="581.61" y2="1559.75" stroke="#58ff00" stroke-width="1.25" stroke-linecap="round" opacity="0.9"/>
<line x1="509.4" y1="1529.88" x2="534" y2="1513.83" stroke="#60ff00" stroke-width="1.25" stroke-linecap="round" opacity="0.9"/>
<line x1="534" y1="1513.83" x2="545.08" y2="1554.24" stroke="#60ff00" stroke-width="1.25" stroke-linecap="round" opacity="0.9"/>
<line x1="512.58" y1="1529.79" x2="537.18" y2="1466.73" stroke="#6eff00" stroke-width="1.25" stroke-linecap="round" opacity="0.9"/>
<line x1="537.18" y1="1466.73" x2="561.78" y2="1556.3" stroke="#6eff00" stroke-width="1.25" stroke-linecap="round" opacity="0.9"/>
<line x1="561.78" y1="1556.3" x2="586.38" y2="1575.18" stroke="#6eff00" stroke-width="1.25" stroke-linecap="round" opacity="0.9"/>
<line x1="515.77" y1="1529.7" x2="540.37" y2="1478.79" stroke="#7dff00" stroke-width="1.25" stroke-linecap="round" opacity="0.9"/>
<line x1="540.37" y1="1478.79" x2="564.97" y2="1530.37" stroke="#7dff00" stroke-width="1.25" stroke-linecap="round" opacity="0.9"/>
<line x1="564.97" y1="1530.37" x2="589.57" y2="1574.79" stroke="#7dff00" stroke-width="1.25" stroke-linecap="round" opacity="0.9"/>
<line x1="517.36" y1="1529.66" x2="541.96" y2="1524.56" stroke="#84ff00" stroke-width="1.25" stroke-linecap="round" opacity="0.9"/>
<line x1="541.96" y1="1524.56" x2="565.47" y2="1562.52" stroke="#84ff00" stroke-width="1.25" stroke-linecap="round" opacity="0.9"/>
<line x1="566.9" y1="1563.49" x2="591.16" y2="1507.62" stroke="#84ff00" stroke-width="1.25" stroke-linecap="round" opacity="0.9"/>
<line x1="518.95" y1="1529.62" x2="543.55" y2="1521.93" stroke="#8bff00" stroke-width="1.25" stroke-linecap="round" opacity="0.9"/>
<line x1="543.55" y1="1521.93" x2="568.15" y2="1492.13" stroke="#8bff00" stroke-width="1.25" stroke-linecap="round" opacity="0.9"/>
<line x1="568.15" y1="1492.13" x2="592.75" y2="1526.51" stroke="#8bff00" stroke-width="1.25" stroke-linecap="round" opacity="0.9"/>
<line x1="580.59" y1="1570.59" x2="594.34" y2="1542.49" stroke="#92ff00" stroke-width="1.25" stroke-linecap="round" opacity="0.9"/>
<line x1="562.27" y1="1555.82" x2="572.92" y2="1536.79" stroke="#a1ff00" stroke-width="1.25" stroke-linecap="round" opacity="0.9"/>
<line x1="572.92" y1="1536.79" x2="597.52" y2="1563.36" stroke="#a1ff00" stroke-width="1.25" stroke-linecap="round" opacity="0.9"/>
<line x1="525.31" y1="1529.45" x2="549.91" y2="1542.4" stroke="#a8ff00" stroke-width="1.25" stroke-linecap="round" opacity="0.9"/>
<line x1="549.91" y1="1542.4" x2="574.51" y2="1488.96" stroke="#a8ff00" stroke-width="1.25" stroke-linecap="round" opacity="0.9"/>
<line x1="574.51" y1="1488.96" x2="595.56" y2="1577.42" stroke="#a8ff00" stroke-width="1.25" stroke-linecap="round" opacity="0.9"/>
<line x1="526.9" y1="1529.4" x2="551.5" y2="1489.92" stroke="#afff00" stroke-width="1.25" stroke-linecap="round" opacity="0.9"/>
<line x1="551.5" y1="1489.92" x2="576.1" y2="1542.79" stroke="#afff00" stroke-width="1.25" stroke-linecap="round" opacity="0.9"/>
<line x1="576.1" y1="1542.79" x2="600.7" y2="1573.11" stroke="#afff00" stroke-width="1.25" stroke-linecap="round" opacity="0.9"/>
<line x1="553.72" y1="1546.59" x2="577.69" y2="1495.76" stroke="#b7ff00" stroke-width="1.25" stroke-linecap="round" opacity="0.9"/>
<line x1="577.69" y1="1495.76" x2="597.41" y2="1576.43" stroke="#b7ff00" stroke-width="1.25" stroke-linecap="round" opacity="0.9"/>
<line x1="582.17" y1="1564.89" x2="603.88" y2="1525.68" stroke="#beff00" stroke-width="1.25" stroke-linecap="round" opacity="0.9"/>
<line x1="599.32" y1="1575.47" x2="605.47" y2="1509.39" stroke="#c5ff00" stroke-width="1.25" stroke-linecap="round" opacity="0.9"/>
<line x1="533.27" y1="1529.23" x2="557.87" y2="1480.83" stroke="#ccff00" stroke-width="1.25" stroke-linecap="round" opacity="0.9"/>
<line x1="557.87" y1="1480.83" x2="582.47" y2="1472.74" stroke="#ccff00" stroke-width="1.25" stroke-linecap="round" opacity="0.9"/>
<line x1="582.47" y1="1472.74" x2="605.1" y2="1578.29" stroke="#ccff00" stroke-width="1.25" stroke-linecap="round" opacity="0.9"/>
<line x1="534.86" y1="1529.19" x2="559.46" y2="1494.63" stroke="#d4ff00" stroke-width="1.25" stroke-linecap="round" opacity="0.9"/>
<line x1="559.46" y1="1494.63" x2="584.06" y2="1552.18" stroke="#d4ff00" stroke-width="1.25" stroke-linecap="round" opacity="0.9"/>
<line x1="584.06" y1="1552.18" x2="608.66" y2="1527.63" stroke="#d4ff00" stroke-width="1.25" stroke-linecap="round" opacity="0.9"/>
<line x1="600.88" y1="1573.14" x2="610.25" y2="1563.73" stroke="#dbff00" stroke-width="1.25" stroke-linecap="round" opacity="0.9"/>
<line x1="538.04" y1="1529.1" x2="562.64" y2="1515.3" stroke="#e2ff00" stroke-width="1.25" stroke-linecap="round" opacity="0.9"/>
<line x1="562.64" y1="1515.3" x2="587.24" y2="1472.61" stroke="#e2ff00" stroke-width="1.25" stroke-linecap="round" opacity="0.9"/>
<line x1="587.24" y1="1472.61" x2="611.84" y2="1560.54" stroke="#e2ff00" stroke-width="1.25" stroke-linecap="round" opacity="0.9"/>
<line x1="539.63" y1="1529.06" x2="564.23" y2="1487.1" stroke="#e9ff00" stroke-width="1.25" stroke-linecap="round" opacity="0.9"/>
<line x1="564.23" y1="1487.1" x2="588.83" y2="1525.24" stroke="#e9ff00" stroke-width="1.25" stroke-linecap="round" opacity="0.9"/>
<line x1="588.83" y1="1525.24" x2="613.43" y2="1534.52" stroke="#e9ff00" stroke-width="1.25" stroke-linecap="round" opacity="0.9"/>
<line x1="541.22" y1="1529.01" x2="565.82" y2="1519.06" stroke="#f1ff00" stroke-width="1.25" stroke-linecap="round" opacity="0.9"/>
<line x1="565.82" y1="1519.06" x2="589.58" y2="1562.04" stroke="#f1ff00" stroke-width="1.25" stroke-linecap="round" opacity="0.9"/>
<line x1="591.26" y1="1563.19" x2="615.02" y2="1552.7" stroke="#f1ff00" stroke-width="1.25" stroke-linecap="round" opacity="0.9"/>
<line x1="577.7" y1="1552.79" x2="592.01" y2="1507.9" stroke="#f8ff00" stroke-width="1.25" stroke-linecap="round" opacity="0.9"/>
<line x1="592.01" y1="1507.9" x2="606.72" y2="1572.61" stroke="#f8ff00" stroke-width="1.25" stroke-linecap="round" opacity="0.9"/>
<line x1="544.4" y1="1528.93" x2="569" y2="1529.82" stroke="#ffff00" stroke-width="1.25" stroke-linecap="round" opacity="0.9"/>
<line x1="569" y1="1529.82" x2="593.6" y2="1472.44" stroke="#ffff00" stroke-width="1.25" stroke-linecap="round" opacity="0.9"/>
<line x1="593.6" y1="1472.44" x2="617.22" y2="1578.65" stroke="#ffff00" stroke-width="1.25" stroke-linecap="round" opacity="0.9"/>
<line x1="545.99" y1="1528.88" x2="570.59" y2="1539.33" stroke="#fff900" stroke-width="1.25" stroke-linecap="round" opacity="0.9"/>
<line x1="570.59" y1="1539.33" x2="595.19" y2="1508.58" stroke="#fff900" stroke-width="1.25" stroke-linecap="round" opacity="0.9"/>
<line x1="595.19" y1="1508.58" x2="619.79" y2="1572.65" stroke="#fff900" stroke-width="1.25" stroke-linecap="round" opacity="0.9"/>
<line x1="594.98" y1="1561.21" x2="596.78" y2="1546.16" stroke="#fff300" stroke-width="1.25" stroke-linecap="round" opacity="0.9"/>
<line x1="596.78" y1="1546.16" x2="621.38" y2="1549.49" stroke="#fff300" stroke-width="1.25" stroke-linecap="round" opacity="0.9"/>
<line x1="549.17" y1="1528.8" x2="573.77" y2="1510.53" stroke="#ffec00" stroke-width="1.25" stroke-linecap="round" opacity="0.9"/>
<line x1="573.77" y1="1510.53" x2="598.37" y2="1555.53" stroke="#ffec00" stroke-width="1.25" stroke-linecap="round" opacity="0.9"/>
<line x1="598.37" y1="1555.53" x2="622.97" y2="1575.72" stroke="#ffec00" stroke-width="1.25" stroke-linecap="round" opacity="0.9"/>
<line x1="550.77" y1="1528.75" x2="575.37" y2="1539.64" stroke="#ffe600" stroke-width="1.25" stroke-linecap="round" opacity="0.9"/>
<line x1="575.37" y1="1539.64" x2="577.19" y2="1546.8" stroke="#ffe600" stroke-width="1.25" stroke-linecap="round" opacity="0.9"/>
<line x1="612.2" y1="1570.71" x2="624.57" y2="1504.39" stroke="#ffe600" stroke-width="1.25" stroke-linecap="round" opacity="0.9"/>
<line x1="552.36" y1="1528.71" x2="576.96" y2="1474.93" stroke="#ffe000" stroke-width="1.25" stroke-linecap="round" opacity="0.9"/>
<line x1="576.96" y1="1474.93" x2="597.23" y2="1559.35" stroke="#ffe000" stroke-width="1.25" stroke-linecap="round" opacity="0.9"/>
<line x1="580.76" y1="1546.98" x2="603.15" y2="1517.85" stroke="#ffda00" stroke-width="1.25" stroke-linecap="round" opacity="0.9"/>
<line x1="603.15" y1="1517.85" x2="610.69" y2="1567.42" stroke="#ffda00" stroke-width="1.25" stroke-linecap="round" opacity="0.9"/>
<line x1="555.54" y1="1528.62" x2="580.14" y2="1455.33" stroke="#ffd400" stroke-width="1.25" stroke-linecap="round" opacity="0.9"/>
<line x1="580.14" y1="1455.33" x2="598.94" y2="1558.26" stroke="#ffd400" stroke-width="1.25" stroke-linecap="round" opacity="0.9"/>
<line x1="595.23" y1="1554.6" x2="606.33" y2="1542.06" stroke="#ffce00" stroke-width="1.25" stroke-linecap="round" opacity="0.9"/>
<line x1="606.33" y1="1542.06" x2="630.93" y2="1555.06" stroke="#ffce00" stroke-width="1.25" stroke-linecap="round" opacity="0.9"/>
<line x1="558.72" y1="1528.54" x2="583.32" y2="1534.04" stroke="#ffc700" stroke-width="1.25" stroke-linecap="round" opacity="0.9"/>
<line x1="583.32" y1="1534.04" x2="607.92" y2="1539.29" stroke="#ffc700" stroke-width="1.25" stroke-linecap="round" opacity="0.9"/>
<line x1="607.92" y1="1539.29" x2="619.96" y2="1570.36" stroke="#ffc700" stroke-width="1.25" stroke-linecap="round" opacity="0.9"/>
<line x1="560.31" y1="1528.49" x2="584.91" y2="1510.8" stroke="#ffc100" stroke-width="1.25" stroke-linecap="round" opacity="0.9"/>
<line x1="584.91" y1="1510.8" x2="605.43" y2="1559.31" stroke="#ffc100" stroke-width="1.25" stroke-linecap="round" opacity="0.9"/>
<line x1="632.02" y1="1577.46" x2="634.11" y2="1578.26" stroke="#ffc100" stroke-width="1.25" stroke-linecap="round" opacity="0.9"/>
<line x1="561.9" y1="1528.45" x2="586.5" y2="1490.21" stroke="#ffbb00" stroke-width="1.25" stroke-linecap="round" opacity="0.9"/>
<line x1="586.5" y1="1490.21" x2="592.22" y2="1549.15" stroke="#ffbb00" stroke-width="1.25" stroke-linecap="round" opacity="0.9"/>
<line x1="631.01" y1="1575.64" x2="635.7" y2="1535.94" stroke="#ffbb00" stroke-width="1.25" stroke-linecap="round" opacity="0.9"/>
<line x1="563.49" y1="1528.41" x2="588.09" y2="1482.87" stroke="#ffb500" stroke-width="1.25" stroke-linecap="round" opacity="0.9"/>
<line x1="588.09" y1="1482.87" x2="602.38" y2="1554.96" stroke="#ffb500" stroke-width="1.25" stroke-linecap="round" opacity="0.9"/>
<line x1="602.77" y1="1554.1" x2="614.28" y2="1507.53" stroke="#ffaf00" stroke-width="1.25" stroke-linecap="round" opacity="0.9"/>
<line x1="614.28" y1="1507.53" x2="633.98" y2="1575.41" stroke="#ffaf00" stroke-width="1.25" stroke-linecap="round" opacity="0.9"/>
<line x1="566.67" y1="1528.32" x2="591.27" y2="1542.09" stroke="#ffa900" stroke-width="1.25" stroke-linecap="round" opacity="0.9"/>
<line x1="591.27" y1="1542.09" x2="598.37" y2="1549.97" stroke="#ffa900" stroke-width="1.25" stroke-linecap="round" opacity="0.9"/>
<line x1="638.91" y1="1577.65" x2="640.47" y2="1578.21" stroke="#ffa900" stroke-width="1.25" stroke-linecap="round" opacity="0.9"/>
<line x1="613.98" y1="1559.5" x2="617.46" y2="1555.33" stroke="#ffa200" stroke-width="1.25" stroke-linecap="round" opacity="0.9"/>
<line x1="617.46" y1="1555.33" x2="620.11" y2="1563.68" stroke="#ffa200" stroke-width="1.25" stroke-linecap="round" opacity="0.9"/>
<line x1="569.86" y1="1528.23" x2="594.46" y2="1542.46" stroke="#ff9d00" stroke-width="1.25" stroke-linecap="round" opacity="0.9"/>
<line x1="594.46" y1="1542.46" x2="619.06" y2="1543.45" stroke="#ff9d00" stroke-width="1.25" stroke-linecap="round" opacity="0.9"/>
<line x1="619.06" y1="1543.45" x2="643.66" y2="1553.65" stroke="#ff9d00" stroke-width="1.25" stroke-linecap="round" opacity="0.9"/>
<line x1="638.47" y1="1573.96" x2="645.25" y2="1566.41" stroke="#ff9700" stroke-width="1.25" stroke-linecap="round" opacity="0.9"/>
<line x1="601.85" y1="1547.82" x2="622.24" y2="1491.09" stroke="#ff9100" stroke-width="1.25" stroke-linecap="round" opacity="0.9"/>
<line x1="622.24" y1="1491.09" x2="646.84" y2="1541.08" stroke="#ff9100" stroke-width="1.25" stroke-linecap="round" opacity="0.9"/>
<line x1="574.63" y1="1528.1" x2="599.23" y2="1544.15" stroke="#ff8c00" stroke-width="1.25" stroke-linecap="round" opacity="0.9"/>
<line x1="599.23" y1="1544.15" x2="600.48" y2="1545.76" stroke="#ff8c00" stroke-width="1.25" stroke-linecap="round" opacity="0.9"/>
<line x1="633.76" y1="1567.36" x2="650.02" y2="1560.66" stroke="#ff8600" stroke-width="1.25" stroke-linecap="round" opacity="0.9"/>
<line x1="577.81" y1="1528.02" x2="602.41" y2="1517.84" stroke="#ff8100" stroke-width="1.25" stroke-linecap="round" opacity="0.9"/>
<line x1="602.41" y1="1517.84" x2="627.01" y2="1532.42" stroke="#ff8100" stroke-width="1.25" stroke-linecap="round" opacity="0.9"/>
<line x1="627.01" y1="1532.42" x2="651.61" y2="1488.33" stroke="#ff8100" stroke-width="1.25" stroke-linecap="round" opacity="0.9"/>
<line x1="616.73" y1="1553.47" x2="628.6" y2="1543.57" stroke="#ff7b00" stroke-width="1.25" stroke-linecap="round" opacity="0.9"/>
<line x1="628.6" y1="1543.57" x2="653.2" y2="1464.03" stroke="#ff7b00" stroke-width="1.25" stroke-linecap="round" opacity="0.9"/>
<line x1="636.89" y1="1566.1" x2="654.79" y2="1552.19" stroke="#ff7500" stroke-width="1.25" stroke-linecap="round" opacity="0.9"/>
<line x1="627.96" y1="1558.87" x2="631.78" y2="1522.96" stroke="#ff7000" stroke-width="1.25" stroke-linecap="round" opacity="0.9"/>
<line x1="631.78" y1="1522.96" x2="656.38" y2="1573.37" stroke="#ff7000" stroke-width="1.25" stroke-linecap="round" opacity="0.9"/>
<line x1="584.17" y1="1527.84" x2="608.77" y2="1508.29" stroke="#ff6a00" stroke-width="1.25" stroke-linecap="round" opacity="0.9"/>
<line x1="608.77" y1="1508.29" x2="633.37" y2="1547.66" stroke="#ff6a00" stroke-width="1.25" stroke-linecap="round" opacity="0.9"/>
<line x1="633.37" y1="1547.66" x2="657.97" y2="1493.52" stroke="#ff6a00" stroke-width="1.25" stroke-linecap="round" opacity="0.9"/>
<line x1="585.76" y1="1527.8" x2="610.36" y2="1461.59" stroke="#ff6500" stroke-width="1.25" stroke-linecap="round" opacity="0.9"/>
<line x1="610.36" y1="1461.59" x2="627.11" y2="1556.03" stroke="#ff6500" stroke-width="1.25" stroke-linecap="round" opacity="0.9"/>
<line x1="587.36" y1="1527.76" x2="611.96" y2="1499.24" stroke="#ff5f00" stroke-width="1.25" stroke-linecap="round" opacity="0.9"/>
<line x1="611.96" y1="1499.24" x2="626.25" y2="1554.32" stroke="#ff5f00" stroke-width="1.25" stroke-linecap="round" opacity="0.9"/>
<line x1="655.53" y1="1574.31" x2="661.16" y2="1568.48" stroke="#ff5f00" stroke-width="1.25" stroke-linecap="round" opacity="0.9"/>
<line x1="588.95" y1="1527.71" x2="613.55" y2="1536.98" stroke="#ff5a00" stroke-width="1.25" stroke-linecap="round" opacity="0.9"/>
<line x1="613.55" y1="1536.98" x2="638.15" y2="1528.17" stroke="#ff5a00" stroke-width="1.25" stroke-linecap="round" opacity="0.9"/>
<line x1="638.15" y1="1528.17" x2="658.92" y2="1575.5" stroke="#ff5a00" stroke-width="1.25" stroke-linecap="round" opacity="0.9"/>
<line x1="590.54" y1="1527.67" x2="615.14" y2="1430.12" stroke="#ff5400" stroke-width="1.25" stroke-linecap="round" opacity="0.9"/>
<line x1="615.14" y1="1430.12" x2="639.74" y2="1500.7" stroke="#ff5400" stroke-width="1.25" stroke-linecap="round" opacity="0.9"/>
<line x1="639.74" y1="1500.7" x2="664.34" y2="1517.02" stroke="#ff5400" stroke-width="1.25" stroke-linecap="round" opacity="0.9"/>
<line x1="658.3" y1="1572.82" x2="665.93" y2="1551.93" stroke="#ff4e00" stroke-width="1.25" stroke-linecap="round" opacity="0.9"/>
<line x1="593.72" y1="1527.58" x2="618.32" y2="1486.67" stroke="#ff4900" stroke-width="1.25" stroke-linecap="round" opacity="0.9"/>
<line x1="618.32" y1="1486.67" x2="642.92" y2="1543.35" stroke="#ff4900" stroke-width="1.25" stroke-linecap="round" opacity="0.9"/>
<line x1="642.92" y1="1543.35" x2="667.52" y2="1508.15" stroke="#ff4900" stroke-width="1.25" stroke-linecap="round" opacity="0.9"/>
<line x1="635.28" y1="1554.84" x2="644.51" y2="1500.79" stroke="#ff4300" stroke-width="1.25" stroke-linecap="round" opacity="0.9"/>
<line x1="644.51" y1="1500.79" x2="669.11" y2="1499.27" stroke="#ff4300" stroke-width="1.25" stroke-linecap="round" opacity="0.9"/>
<line x1="638.53" y1="1555.92" x2="646.1" y2="1530.59" stroke="#ff3e00" stroke-width="1.25" stroke-linecap="round" opacity="0.9"/>
<line x1="646.1" y1="1530.59" x2="670.7" y2="1558.75" stroke="#ff3e00" stroke-width="1.25" stroke-linecap="round" opacity="0.9"/>
<line x1="600.08" y1="1527.41" x2="624.68" y2="1515.33" stroke="#ff3200" stroke-width="1.25" stroke-linecap="round" opacity="0.9"/>
<line x1="624.68" y1="1515.33" x2="649.28" y2="1491.88" stroke="#ff3200" stroke-width="1.25" stroke-linecap="round" opacity="0.9"/>
<line x1="649.28" y1="1491.88" x2="673.88" y2="1560.43" stroke="#ff3200" stroke-width="1.25" stroke-linecap="round" opacity="0.9"/>
<line x1="601.67" y1="1527.37" x2="626.27" y2="1439.79" stroke="#ff2d00" stroke-width="1.25" stroke-linecap="round" opacity="0.9"/>
<line x1="626.27" y1="1439.79" x2="634.47" y2="1549.77" stroke="#ff2d00" stroke-width="1.25" stroke-linecap="round" opacity="0.9"/>
<line x1="667.35" y1="1572.22" x2="675.47" y2="1474.83" stroke="#ff2d00" stroke-width="1.25" stroke-linecap="round" opacity="0.9"/>
<line x1="644.95" y1="1555.79" x2="652.46" y2="1520.29" stroke="#ff2700" stroke-width="1.25" stroke-linecap="round" opacity="0.9"/>
<line x1="652.46" y1="1520.29" x2="677.06" y2="1541.35" stroke="#ff2700" stroke-width="1.25" stroke-linecap="round" opacity="0.9"/>
<line x1="651.74" y1="1559.3" x2="654.05" y2="1554.58" stroke="#ff2200" stroke-width="1.25" stroke-linecap="round" opacity="0.9"/>
<line x1="654.05" y1="1554.58" x2="678.65" y2="1482.78" stroke="#ff2200" stroke-width="1.25" stroke-linecap="round" opacity="0.9"/>
<line x1="646.67" y1="1553.57" x2="657.24" y2="1526.03" stroke="#ff1600" stroke-width="1.25" stroke-linecap="round" opacity="0.9"/>
<line x1="657.24" y1="1526.03" x2="681.84" y2="1472.3" stroke="#ff1600" stroke-width="1.25" stroke-linecap="round" opacity="0.9"/>
<line x1="609.63" y1="1527.15" x2="634.23" y2="1504.3" stroke="#ff1100" stroke-width="1.25" stroke-linecap="round" opacity="0.9"/>
<line x1="634.23" y1="1504.3" x2="658.83" y2="1530.66" stroke="#ff1100" stroke-width="1.25" stroke-linecap="round" opacity="0.9"/>
<line x1="658.83" y1="1530.66" x2="683.43" y2="1463.2" stroke="#ff1100" stroke-width="1.25" stroke-linecap="round" opacity="0.9"/>
<line x1="667.39" y1="1565.47" x2="685.02" y2="1532.72" stroke="#ff0b00" stroke-width="1.25" stroke-linecap="round" opacity="0.9"/>
<line x1="612.81" y1="1527.06" x2="637.41" y2="1498.03" stroke="#ff0600" stroke-width="1.25" stroke-linecap="round" opacity="0.9"/>
<line x1="637.41" y1="1498.03" x2="651.29" y2="1553.34" stroke="#ff0600" stroke-width="1.25" stroke-linecap="round" opacity="0.9"/>
<line x1="246.2" y1="1396" x2="246.2" y2="1746" stroke="#000" stroke-width="2.6"/>
<line x1="239.5" y1="1744.7" x2="246.2" y2="1744.7" stroke="#000" stroke-width="1.4"/>
<line x1="241.5" y1="1723.86" x2="246.2" y2="1723.86" stroke="#000" stroke-width="1.4"/>
<line x1="241.5" y1="1711.66" x2="246.2" y2="1711.66" stroke="#000" stroke-width="1.4"/>
<line x1="241.5" y1="1703.01" x2="246.2" y2="1703.01" stroke="#000" stroke-width="1.4"/>
<line x1="241.5" y1="1696.3" x2="246.2" y2="1696.3" stroke="#000" stroke-width="1.4"/>
<line x1="241.5" y1="1690.82" x2="246.2" y2="1690.82" stroke="#000" stroke-width="1.4"/>
<line x1="241.5" y1="1686.19" x2="246.2" y2="1686.19" stroke="#000" stroke-width="1.4"/>
<line x1="241.5" y1="1682.17" x2="246.2" y2="1682.17" stroke="#000" stroke-width="1.4"/>
<line x1="241.5" y1="1678.63" x2="246.2" y2="1678.63" stroke="#000" stroke-width="1.4"/>
<line x1="239.5" y1="1675.46" x2="246.2" y2="1675.46" stroke="#000" stroke-width="1.4"/>
<line x1="241.5" y1="1654.62" x2="246.2" y2="1654.62" stroke="#000" stroke-width="1.4"/>
<line x1="241.5" y1="1642.42" x2="246.2" y2="1642.42" stroke="#000" stroke-width="1.4"/>
<line x1="241.5" y1="1633.77" x2="246.2" y2="1633.77" stroke="#000" stroke-width="1.4"/>
<line x1="241.5" y1="1627.06" x2="246.2" y2="1627.06" stroke="#000" stroke-width="1.4"/>
<line x1="241.5" y1="1621.58" x2="246.2" y2="1621.58" stroke="#000" stroke-width="1.4"/>
<line x1="241.5" y1="1616.95" x2="246.2" y2="1616.95" stroke="#000" stroke-width="1.4"/>
<line x1="241.5" y1="1612.93" x2="246.2" y2="1612.93" stroke="#000" stroke-width="1.4"/>
<line x1="241.5" y1="1609.39" x2="246.2" y2="1609.39" stroke="#000" stroke-width="1.4"/>
<line x1="239.5" y1="1606.22" x2="246.2" y2="1606.22" stroke="#000" stroke-width="1.4"/>
<line x1="241.5" y1="1585.38" x2="246.2" y2="1585.38" stroke="#000" stroke-width="1.4"/>
<line x1="241.5" y1="1573.18" x2="246.2" y2="1573.18" stroke="#000" stroke-width="1.4"/>
<line x1="241.5" y1="1564.53" x2="246.2" y2="1564.53" stroke="#000" stroke-width="1.4"/>
<line x1="241.5" y1="1557.82" x2="246.2" y2="1557.82" stroke="#000" stroke-width="1.4"/>
<line x1="241.5" y1="1552.34" x2="246.2" y2="1552.34" stroke="#000" stroke-width="1.4"/>
<line x1="241.5" y1="1547.71" x2="246.2" y2="1547.71" stroke="#000" stroke-width="1.4"/>
<line x1="241.5" y1="1543.69" x2="246.2" y2="1543.69" stroke="#000" stroke-width="1.4"/>
<line x1="241.5" y1="1540.15" x2="246.2" y2="1540.15" stroke="#000" stroke-width="1.4"/>
<line x1="239.5" y1="1536.98" x2="246.2" y2="1536.98" stroke="#000" stroke-width="1.4"/>
<line x1="241.5" y1="1516.14" x2="246.2" y2="1516.14" stroke="#000" stroke-width="1.4"/>
<line x1="241.5" y1="1503.94" x2="246.2" y2="1503.94" stroke="#000" stroke-width="1.4"/>
<line x1="241.5" y1="1495.29" x2="246.2" y2="1495.29" stroke="#000" stroke-width="1.4"/>
<line x1="241.5" y1="1488.58" x2="246.2" y2="1488.58" stroke="#000" stroke-width="1.4"/>
<line x1="241.5" y1="1483.1" x2="246.2" y2="1483.1" stroke="#000" stroke-width="1.4"/>
<line x1="241.5" y1="1478.47" x2="246.2" y2="1478.47" stroke="#000" stroke-width="1.4"/>
<line x1="241.5" y1="1474.45" x2="246.2" y2="1474.45" stroke="#000" stroke-width="1.4"/>
<line x1="241.5" y1="1470.91" x2="246.2" y2="1470.91" stroke="#000" stroke-width="1.4"/>
<line x1="239.5" y1="1467.74" x2="246.2" y2="1467.74" stroke="#000" stroke-width="1.4"/>
<line x1="241.5" y1="1446.9" x2="246.2" y2="1446.9" stroke="#000" stroke-width="1.4"/>
<line x1="241.5" y1="1434.7" x2="246.2" y2="1434.7" stroke="#000" stroke-width="1.4"/>
<line x1="241.5" y1="1426.05" x2="246.2" y2="1426.05" stroke="#000" stroke-width="1.4"/>
<line x1="241.5" y1="1419.34" x2="246.2" y2="1419.34" stroke="#000" stroke-width="1.4"/>
<line x1="241.5" y1="1413.86" x2="246.2" y2="1413.86" stroke="#000" stroke-width="1.4"/>
<line x1="241.5" y1="1409.23" x2="246.2" y2="1409.23" stroke="#000" stroke-width="1.4"/>
<line x1="241.5" y1="1405.21" x2="246.2" y2="1405.21" stroke="#000" stroke-width="1.4"/>
<line x1="241.5" y1="1401.67" x2="246.2" y2="1401.67" stroke="#000" stroke-width="1.4"/>
<line x1="246.2" y1="1398.5" x2="239" y2="1398.5" stroke="#000" stroke-width="1.4"/>
<line x1="245.1" y1="1746.3" x2="319.3" y2="1794.2" stroke="#000" stroke-width="2.4"/>
<line x1="319.3" y1="1794.2" x2="687.2" y2="1783.4" stroke="#000" stroke-width="2.4"/>
<line x1="319.3" y1="1794.2" x2="319.3" y2="1802" stroke="#000" stroke-width="2"/>
<line x1="271.4" y1="1761.7" x2="268.4" y2="1768.7" stroke="#000" stroke-width="2"/>
<line x1="294.6" y1="1778.7" x2="291.6" y2="1785.7" stroke="#000" stroke-width="2"/>
<line x1="426" y1="1791.7" x2="426" y2="1801.7" stroke="#000" stroke-width="2"/>
<line x1="534.2" y1="1788.5" x2="534.2" y2="1798.5" stroke="#000" stroke-width="2"/>
<line x1="641.5" y1="1785.5" x2="641.5" y2="1795.5" stroke="#000" stroke-width="2"/>
<text x="198" y="1399.7" font-size="24.5">10<tspan dy="-10" font-size="15">2</tspan></text>
<text x="198.8" y="1469.8" font-size="24.5">10<tspan dy="-10" font-size="15">1</tspan></text>
<text x="232.4" y="1540.8" font-size="24.5" text-anchor="end">1</text>
<text x="196" y="1609.9" font-size="24.5">10<tspan dy="-10" font-size="15">-1</tspan></text>
<text x="196" y="1678.5" font-size="24.5">10<tspan dy="-10" font-size="15">-2</tspan></text>
<text x="169.4" y="1746.3" font-size="24.5">0-10<tspan dy="-10" font-size="15">-3</tspan></text>
<text x="139.5" y="1574" font-size="24.5" text-anchor="middle" transform="rotate(-90 139.5 1574)">Baseline Normalized</text>
<text x="163" y="1574" font-size="24.5" text-anchor="middle" transform="rotate(-90 163 1574)">Frequency</text>
<text x="162.5" y="1805" font-size="24.5" transform="rotate(-32 162.5 1805)">Baseline</text>
<text x="223" y="1805" font-size="24.5" transform="rotate(-33 223 1805)">Early</text>
<text x="263.5" y="1814.3" font-size="24.5" transform="rotate(-33 263.5 1814.3)">Mid</text>
<text x="284" y="1831.3" font-size="24.5" transform="rotate(-33 284 1831.3)">Late</text>
<text x="164.7" y="1853" font-size="24">Time</text>
<text x="429.8" y="1823" font-size="24" text-anchor="middle">100</text>
<text x="537" y="1819.6" font-size="24" text-anchor="middle">200</text>
<text x="639" y="1816.5" font-size="24" text-anchor="middle">300</text>
<text x="409" y="1880.4" font-size="24.5" textLength="234.3" lengthAdjust="spacingAndGlyphs">EMD Ranked Actions</text>
<rect x="398" y="1820.4" width="292" height="44" fill="#fff"/>
<defs><linearGradient id="jcb" x1="0" y1="0" x2="1" y2="0"><stop offset="0" stop-color="#ff0080"/><stop offset="0.13" stop-color="#ff00ff"/><stop offset="0.22" stop-color="#aa00ff"/><stop offset="0.3" stop-color="#0000ff"/><stop offset="0.38" stop-color="#006eff"/><stop offset="0.46" stop-color="#00ffff"/><stop offset="0.55" stop-color="#00ff80"/><stop offset="0.64" stop-color="#00ff00"/><stop offset="0.8" stop-color="#ffff00"/><stop offset="0.87" stop-color="#ffa000"/><stop offset="1" stop-color="#ff0000"/></linearGradient></defs>
<path d="M334.2 1836.9 L687.2 1826.7 L687.2 1851.4 L334.2 1861.6 Z" fill="url(#jcb)"/>
<line x1="426" y1="1824.5" x2="426" y2="1842.1" stroke="#000" stroke-width="2.2"/>
<line x1="534.2" y1="1823.6" x2="534.2" y2="1841.2" stroke="#000" stroke-width="2.2"/>
<line x1="642.4" y1="1822" x2="642.4" y2="1839.6" stroke="#000" stroke-width="2.2"/>
<rect x="318.7" y="1884.5" width="23.8" height="19.5" fill="#000"/>
<text x="330.9" y="1924.7" font-size="24" text-anchor="middle">Target</text>
<text x="330.2" y="1954.3" font-size="24" text-anchor="middle">Action B</text>
<path d="M368.8 1894.7 L701.1 1887 L432.2 1945 Z" fill="none" stroke="#000" stroke-width="2.4"/>
<text x="430.6" y="1933.3" font-size="24" transform="rotate(-16.2 430.6 1933.3)">Similarity</text>
<text x="732.3" y="1359.4" font-size="30" font-weight="bold">k</text>
<rect x="843.3" y="1385.8" width="17.4" height="459.4" fill="#c9e4f9"/>
<line x1="825.4" y1="1385" x2="825.4" y2="1404.2" stroke="#000" stroke-width="2"/>
<line x1="825.4" y1="1422.6" x2="825.4" y2="1449" stroke="#000" stroke-width="2"/>
<line x1="825.4" y1="1468.2" x2="825.4" y2="1600.2" stroke="#000" stroke-width="2"/>
<line x1="812.1" y1="1385" x2="825.4" y2="1385" stroke="#000" stroke-width="2"/>
<line x1="819.8" y1="1404.2" x2="832.1" y2="1404.2" stroke="#000" stroke-width="2"/>
<line x1="819.8" y1="1422.6" x2="832.1" y2="1422.6" stroke="#000" stroke-width="2"/>
<line x1="819.8" y1="1449" x2="832.1" y2="1449" stroke="#000" stroke-width="2"/>
<line x1="819.8" y1="1468.2" x2="832.1" y2="1468.2" stroke="#000" stroke-width="2"/>
<line x1="814.7" y1="1437" x2="825.4" y2="1437" stroke="#000" stroke-width="2"/>
<line x1="814.7" y1="1496.7" x2="825.4" y2="1496.7" stroke="#000" stroke-width="2"/>
<line x1="814.7" y1="1526" x2="825.4" y2="1526" stroke="#000" stroke-width="2"/>
<line x1="814.7" y1="1555.3" x2="825.4" y2="1555.3" stroke="#000" stroke-width="2"/>
<line x1="814.7" y1="1584.6" x2="825.4" y2="1584.6" stroke="#000" stroke-width="2"/>
<line x1="824.4" y1="1599.2" x2="1153" y2="1599.2" stroke="#000" stroke-width="2"/>
<line x1="851" y1="1599.2" x2="851" y2="1607.6" stroke="#000" stroke-width="2"/>
<line x1="901.3" y1="1599.2" x2="901.3" y2="1607.6" stroke="#000" stroke-width="2"/>
<line x1="951.6" y1="1599.2" x2="951.6" y2="1607.6" stroke="#000" stroke-width="2"/>
<line x1="1001.9" y1="1599.2" x2="1001.9" y2="1607.6" stroke="#000" stroke-width="2"/>
<line x1="1052.2" y1="1599.2" x2="1052.2" y2="1607.6" stroke="#000" stroke-width="2"/>
<line x1="1102.5" y1="1599.2" x2="1102.5" y2="1607.6" stroke="#000" stroke-width="2"/>
<line x1="1152.8" y1="1599.2" x2="1152.8" y2="1607.6" stroke="#000" stroke-width="2"/>
<line x1="825.4" y1="1555.3" x2="1153.7" y2="1555.3" stroke="#f0a030" stroke-width="2" stroke-dasharray="7,4"/>
<text x="771.2" y="1394" font-size="24">10<tspan dy="-9" font-size="15">3</tspan></text>
<text x="808.3" y="1422.1" font-size="24" text-anchor="end">40</text>
<text x="808.3" y="1445.1" font-size="24" text-anchor="end">20</text>
<text x="808.3" y="1466.9" font-size="24" text-anchor="end">4</text>
<text x="808.3" y="1505" font-size="24" text-anchor="end">3</text>
<text x="808.3" y="1534.3" font-size="24" text-anchor="end">2</text>
<text x="808.3" y="1563.6" font-size="24" text-anchor="end">1</text>
<text x="808.3" y="1592.9" font-size="24" text-anchor="end">0</text>
<line x1="825.4" y1="1631.5" x2="825.4" y2="1650.2" stroke="#000" stroke-width="2"/>
<line x1="825.4" y1="1669.9" x2="825.4" y2="1696.3" stroke="#000" stroke-width="2"/>
<line x1="825.4" y1="1715.2" x2="825.4" y2="1847.5" stroke="#000" stroke-width="2"/>
<line x1="812.1" y1="1631.5" x2="825.4" y2="1631.5" stroke="#000" stroke-width="2"/>
<line x1="819.8" y1="1650.2" x2="832.1" y2="1650.2" stroke="#000" stroke-width="2"/>
<line x1="819.8" y1="1669.9" x2="832.1" y2="1669.9" stroke="#000" stroke-width="2"/>
<line x1="819.8" y1="1696.3" x2="832.1" y2="1696.3" stroke="#000" stroke-width="2"/>
<line x1="819.8" y1="1715.2" x2="832.1" y2="1715.2" stroke="#000" stroke-width="2"/>
<line x1="814.7" y1="1684" x2="825.4" y2="1684" stroke="#000" stroke-width="2"/>
<line x1="814.7" y1="1744.3" x2="825.4" y2="1744.3" stroke="#000" stroke-width="2"/>
<line x1="814.7" y1="1773.5" x2="825.4" y2="1773.5" stroke="#000" stroke-width="2"/>
<line x1="814.7" y1="1802.7" x2="825.4" y2="1802.7" stroke="#000" stroke-width="2"/>
<line x1="814.7" y1="1831.9" x2="825.4" y2="1831.9" stroke="#000" stroke-width="2"/>
<line x1="824.4" y1="1846.5" x2="1153" y2="1846.5" stroke="#000" stroke-width="2"/>
<line x1="851" y1="1846.5" x2="851" y2="1854.9" stroke="#000" stroke-width="2"/>
<line x1="901.3" y1="1846.5" x2="901.3" y2="1854.9" stroke="#000" stroke-width="2"/>
<line x1="951.6" y1="1846.5" x2="951.6" y2="1854.9" stroke="#000" stroke-width="2"/>
<line x1="1001.9" y1="1846.5" x2="1001.9" y2="1854.9" stroke="#000" stroke-width="2"/>
<line x1="1052.2" y1="1846.5" x2="1052.2" y2="1854.9" stroke="#000" stroke-width="2"/>
<line x1="1102.5" y1="1846.5" x2="1102.5" y2="1854.9" stroke="#000" stroke-width="2"/>
<line x1="1152.8" y1="1846.5" x2="1152.8" y2="1854.9" stroke="#000" stroke-width="2"/>
<line x1="825.4" y1="1802.7" x2="1153.7" y2="1802.7" stroke="#f0a030" stroke-width="2" stroke-dasharray="7,4"/>
<text x="771.2" y="1639.6" font-size="24">10<tspan dy="-9" font-size="15">3</tspan></text>
<text x="808.3" y="1668.5" font-size="24" text-anchor="end">40</text>
<text x="808.3" y="1691.5" font-size="24" text-anchor="end">20</text>
<text x="808.3" y="1713.5" font-size="24" text-anchor="end">4</text>
<text x="808.3" y="1752.6" font-size="24" text-anchor="end">3</text>
<text x="808.3" y="1781.8" font-size="24" text-anchor="end">2</text>
<text x="808.3" y="1811" font-size="24" text-anchor="end">1</text>
<text x="808.3" y="1840.2" font-size="24" text-anchor="end">0</text>
<text x="851" y="1879.7" font-size="24" text-anchor="middle">0</text>
<text x="901.3" y="1879.7" font-size="24" text-anchor="middle">0.1</text>
<text x="951.6" y="1879.7" font-size="24" text-anchor="middle">0.2</text>
<text x="1001.9" y="1879.7" font-size="24" text-anchor="middle">0.3</text>
<text x="1052.2" y="1879.7" font-size="24" text-anchor="middle">0.4</text>
<text x="1102.5" y="1879.7" font-size="24" text-anchor="middle">0.5</text>
<text x="1152.8" y="1879.7" font-size="24" text-anchor="middle">0.6</text>
<text x="984" y="1915.5" font-size="24.5" text-anchor="middle">EMD Score</text>
<path d="M866.4 1911.2 L866.4 1971.6 L1152.4 1971.6 Z" fill="none" stroke="#000" stroke-width="2.2"/>
<text x="879.9" y="1959.8" font-size="24">Similarity</text>
<text x="753" y="1603" font-size="25" text-anchor="middle" transform="rotate(-90 753 1603)">Baseline Normalized Frequency</text>
<text x="879.9" y="1390.1" font-size="24">Action B</text>
<line x1="879.2" y1="1385" x2="860" y2="1403" stroke="#000" stroke-width="1.8"/>
<path d="M855.5 1407.2 L858.3 1398.5 L864 1404.5 Z" fill="#000"/>
<text x="1144.8" y="1383.7" font-size="24" text-anchor="middle" font-weight="bold">Early</text>
<line x1="1101.8" y1="1392.2" x2="1183.7" y2="1392.2" stroke="#000" stroke-width="2"/>
<circle cx="1121.7" cy="1411.9" r="9.3" fill="none" stroke="#138b51" stroke-width="2"/>
<text x="1135" y="1420.1" font-size="24">&gt; 1</text>
<path d="M1121.7 1432.5 L1111.5 1451.5 L1131.9 1451.5 Z" fill="none" stroke="#e64ae6" stroke-width="2"/>
<text x="1135" y="1449" font-size="24">&lt; 1</text>
<circle cx="1120.5" cy="1472" r="10" fill="#6e6e6e"/>
<text x="1135" y="1478.4" font-size="24">= 1</text>
<text x="1144.8" y="1649.9" font-size="24" text-anchor="middle" font-weight="bold">Late</text>
<circle cx="851" cy="1434.9" r="3.7" fill="#c9f2dc" stroke="#1e8a58" stroke-width="2"/>
<circle cx="851" cy="1442.6" r="3.7" fill="#c9f2dc" stroke="#1e8a58" stroke-width="2"/>
<circle cx="851" cy="1526" r="3.7" fill="#c9f2dc" stroke="#1e8a58" stroke-width="2"/>
<path d="M851 1552.36 L846.7 1559.86 L855.3 1559.86 Z" fill="none" stroke="#e84ce8" stroke-width="1.7"/>
<path d="M851 1561.15 L846.7 1568.65 L855.3 1568.65 Z" fill="none" stroke="#e84ce8" stroke-width="1.7"/>
<path d="M851 1567.01 L846.7 1574.51 L855.3 1574.51 Z" fill="none" stroke="#e84ce8" stroke-width="1.7"/>
<path d="M851 1572 L846.7 1579.5 L855.3 1579.5 Z" fill="none" stroke="#e84ce8" stroke-width="1.7"/>
<path d="M851 1576.68 L846.7 1584.18 L855.3 1584.18 Z" fill="none" stroke="#e84ce8" stroke-width="1.7"/>
<circle cx="941" cy="1447.42" r="3.7" fill="#c9f2dc" stroke="#1e8a58" stroke-width="2"/>
<circle cx="959.63" cy="1449.42" r="3.7" fill="#c9f2dc" stroke="#1e8a58" stroke-width="2"/>
<circle cx="953.65" cy="1449.22" r="3.7" fill="#c9f2dc" stroke="#1e8a58" stroke-width="2"/>
<circle cx="876.77" cy="1444.66" r="3.7" fill="#c9f2dc" stroke="#1e8a58" stroke-width="2"/>
<circle cx="975.65" cy="1446.49" r="3.7" fill="#c9f2dc" stroke="#1e8a58" stroke-width="2"/>
<circle cx="971.06" cy="1441.13" r="3.7" fill="#c9f2dc" stroke="#1e8a58" stroke-width="2"/>
<circle cx="924.36" cy="1442.47" r="3.7" fill="#c9f2dc" stroke="#1e8a58" stroke-width="2"/>
<circle cx="932.44" cy="1445.74" r="3.7" fill="#c9f2dc" stroke="#1e8a58" stroke-width="2"/>
<circle cx="875.05" cy="1442.17" r="3.7" fill="#c9f2dc" stroke="#1e8a58" stroke-width="2"/>
<circle cx="903.86" cy="1449.16" r="3.7" fill="#c9f2dc" stroke="#1e8a58" stroke-width="2"/>
<circle cx="956.44" cy="1441.6" r="3.7" fill="#c9f2dc" stroke="#1e8a58" stroke-width="2"/>
<circle cx="959.84" cy="1441.39" r="3.7" fill="#c9f2dc" stroke="#1e8a58" stroke-width="2"/>
<circle cx="940.41" cy="1441.27" r="3.7" fill="#c9f2dc" stroke="#1e8a58" stroke-width="2"/>
<circle cx="873.83" cy="1448.71" r="3.7" fill="#c9f2dc" stroke="#1e8a58" stroke-width="2"/>
<circle cx="896.29" cy="1442.15" r="3.7" fill="#c9f2dc" stroke="#1e8a58" stroke-width="2"/>
<circle cx="979.88" cy="1448.72" r="3.7" fill="#c9f2dc" stroke="#1e8a58" stroke-width="2"/>
<circle cx="904.92" cy="1449.61" r="3.7" fill="#c9f2dc" stroke="#1e8a58" stroke-width="2"/>
<circle cx="931.95" cy="1446.78" r="3.7" fill="#c9f2dc" stroke="#1e8a58" stroke-width="2"/>
<circle cx="895.78" cy="1449.41" r="3.7" fill="#c9f2dc" stroke="#1e8a58" stroke-width="2"/>
<circle cx="948.32" cy="1449.67" r="3.7" fill="#c9f2dc" stroke="#1e8a58" stroke-width="2"/>
<circle cx="970.29" cy="1442.99" r="3.7" fill="#c9f2dc" stroke="#1e8a58" stroke-width="2"/>
<circle cx="912.7" cy="1441.66" r="3.7" fill="#c9f2dc" stroke="#1e8a58" stroke-width="2"/>
<circle cx="889.39" cy="1440.65" r="3.7" fill="#c9f2dc" stroke="#1e8a58" stroke-width="2"/>
<circle cx="906.23" cy="1446.03" r="3.7" fill="#c9f2dc" stroke="#1e8a58" stroke-width="2"/>
<circle cx="874" cy="1446.78" r="3.7" fill="#c9f2dc" stroke="#1e8a58" stroke-width="2"/>
<circle cx="910.18" cy="1443.1" r="3.7" fill="#c9f2dc" stroke="#1e8a58" stroke-width="2"/>
<circle cx="962.15" cy="1444.81" r="3.7" fill="#c9f2dc" stroke="#1e8a58" stroke-width="2"/>
<circle cx="907.79" cy="1444.81" r="3.7" fill="#c9f2dc" stroke="#1e8a58" stroke-width="2"/>
<circle cx="949.84" cy="1440.57" r="3.7" fill="#c9f2dc" stroke="#1e8a58" stroke-width="2"/>
<circle cx="979.09" cy="1440.23" r="3.7" fill="#c9f2dc" stroke="#1e8a58" stroke-width="2"/>
<circle cx="954.72" cy="1448.45" r="3.7" fill="#c9f2dc" stroke="#1e8a58" stroke-width="2"/>
<circle cx="875.59" cy="1447.88" r="3.7" fill="#c9f2dc" stroke="#1e8a58" stroke-width="2"/>
<circle cx="913.24" cy="1445.79" r="3.7" fill="#c9f2dc" stroke="#1e8a58" stroke-width="2"/>
<circle cx="874.62" cy="1440.47" r="3.7" fill="#c9f2dc" stroke="#1e8a58" stroke-width="2"/>
<circle cx="893.2" cy="1449.55" r="3.7" fill="#c9f2dc" stroke="#1e8a58" stroke-width="2"/>
<circle cx="894.89" cy="1447.56" r="3.7" fill="#c9f2dc" stroke="#1e8a58" stroke-width="2"/>
<circle cx="974.17" cy="1449.42" r="3.7" fill="#c9f2dc" stroke="#1e8a58" stroke-width="2"/>
<circle cx="910.88" cy="1443.55" r="3.7" fill="#c9f2dc" stroke="#1e8a58" stroke-width="2"/>
<circle cx="930.38" cy="1447.76" r="3.7" fill="#c9f2dc" stroke="#1e8a58" stroke-width="2"/>
<circle cx="885.32" cy="1447.48" r="3.7" fill="#c9f2dc" stroke="#1e8a58" stroke-width="2"/>
<circle cx="959.85" cy="1448.6" r="3.7" fill="#c9f2dc" stroke="#1e8a58" stroke-width="2"/>
<circle cx="877.6" cy="1449.46" r="3.7" fill="#c9f2dc" stroke="#1e8a58" stroke-width="2"/>
<circle cx="883.5" cy="1443.41" r="3.7" fill="#c9f2dc" stroke="#1e8a58" stroke-width="2"/>
<circle cx="939.69" cy="1449.18" r="3.7" fill="#c9f2dc" stroke="#1e8a58" stroke-width="2"/>
<circle cx="910.4" cy="1449.24" r="3.7" fill="#c9f2dc" stroke="#1e8a58" stroke-width="2"/>
<circle cx="932.59" cy="1443.12" r="3.7" fill="#c9f2dc" stroke="#1e8a58" stroke-width="2"/>
<circle cx="907.9" cy="1441.77" r="3.7" fill="#c9f2dc" stroke="#1e8a58" stroke-width="2"/>
<circle cx="882.09" cy="1441.49" r="3.7" fill="#c9f2dc" stroke="#1e8a58" stroke-width="2"/>
<circle cx="948.17" cy="1449.97" r="3.7" fill="#c9f2dc" stroke="#1e8a58" stroke-width="2"/>
<circle cx="891.1" cy="1440.49" r="3.7" fill="#c9f2dc" stroke="#1e8a58" stroke-width="2"/>
<circle cx="980.34" cy="1445.34" r="3.7" fill="#c9f2dc" stroke="#1e8a58" stroke-width="2"/>
<circle cx="917.53" cy="1442.37" r="3.7" fill="#c9f2dc" stroke="#1e8a58" stroke-width="2"/>
<circle cx="937.87" cy="1448.26" r="3.7" fill="#c9f2dc" stroke="#1e8a58" stroke-width="2"/>
<circle cx="922.91" cy="1444.22" r="3.7" fill="#c9f2dc" stroke="#1e8a58" stroke-width="2"/>
<circle cx="879.66" cy="1449.16" r="3.7" fill="#c9f2dc" stroke="#1e8a58" stroke-width="2"/>
<circle cx="904.82" cy="1427" r="3.7" fill="#c9f2dc" stroke="#1e8a58" stroke-width="2"/>
<circle cx="936.51" cy="1436" r="3.7" fill="#c9f2dc" stroke="#1e8a58" stroke-width="2"/>
<circle cx="951.6" cy="1438" r="3.7" fill="#c9f2dc" stroke="#1e8a58" stroke-width="2"/>
<circle cx="996.87" cy="1446" r="3.7" fill="#c9f2dc" stroke="#1e8a58" stroke-width="2"/>
<circle cx="1004.41" cy="1444" r="3.7" fill="#c9f2dc" stroke="#1e8a58" stroke-width="2"/>
<circle cx="1057.23" cy="1447" r="3.7" fill="#c9f2dc" stroke="#1e8a58" stroke-width="2"/>
<circle cx="1072.32" cy="1434.5" r="3.7" fill="#c9f2dc" stroke="#1e8a58" stroke-width="2"/>
<circle cx="1074.84" cy="1436" r="3.7" fill="#c9f2dc" stroke="#1e8a58" stroke-width="2"/>
<circle cx="1022.02" cy="1403.7" r="3.7" fill="#c9f2dc" stroke="#1e8a58" stroke-width="2"/>
<circle cx="1062.26" cy="1403.7" r="3.7" fill="#c9f2dc" stroke="#1e8a58" stroke-width="2"/>
<circle cx="1092.44" cy="1403.7" r="3.7" fill="#c9f2dc" stroke="#1e8a58" stroke-width="2"/>
<path d="M881.1 1567.65 L876.8 1575.15 L885.4 1575.15 Z" fill="none" stroke="#e84ce8" stroke-width="1.7"/>
<path d="M991.65 1557.25 L987.35 1564.75 L995.95 1564.75 Z" fill="none" stroke="#e84ce8" stroke-width="1.7"/>
<path d="M1006.93 1571.58 L1002.63 1579.08 L1011.23 1579.08 Z" fill="none" stroke="#e84ce8" stroke-width="1.7"/>
<path d="M891.24 1565.96 L886.94 1573.46 L895.54 1573.46 Z" fill="none" stroke="#e84ce8" stroke-width="1.7"/>
<path d="M897.09 1577.72 L892.79 1585.22 L901.39 1585.22 Z" fill="none" stroke="#e84ce8" stroke-width="1.7"/>
<path d="M917.06 1566.5 L912.76 1574 L921.36 1574 Z" fill="none" stroke="#e84ce8" stroke-width="1.7"/>
<path d="M1013.72 1577.94 L1009.42 1585.44 L1018.02 1585.44 Z" fill="none" stroke="#e84ce8" stroke-width="1.7"/>
<path d="M938.84 1567.5 L934.54 1575 L943.14 1575 Z" fill="none" stroke="#e84ce8" stroke-width="1.7"/>
<path d="M976.7 1567.24 L972.4 1574.74 L981 1574.74 Z" fill="none" stroke="#e84ce8" stroke-width="1.7"/>
<path d="M916.54 1565.08 L912.24 1572.58 L920.84 1572.58 Z" fill="none" stroke="#e84ce8" stroke-width="1.7"/>
<path d="M896.72 1564.31 L892.42 1571.81 L901.02 1571.81 Z" fill="none" stroke="#e84ce8" stroke-width="1.7"/>
<path d="M1012.22 1581.02 L1007.92 1588.52 L1016.52 1588.52 Z" fill="none" stroke="#e84ce8" stroke-width="1.7"/>
<path d="M945.12 1563.21 L940.82 1570.71 L949.42 1570.71 Z" fill="none" stroke="#e84ce8" stroke-width="1.7"/>
<path d="M888.84 1561.31 L884.54 1568.81 L893.14 1568.81 Z" fill="none" stroke="#e84ce8" stroke-width="1.7"/>
<path d="M983.91 1578.37 L979.61 1585.87 L988.21 1585.87 Z" fill="none" stroke="#e84ce8" stroke-width="1.7"/>
<path d="M926.19 1576.04 L921.89 1583.54 L930.49 1583.54 Z" fill="none" stroke="#e84ce8" stroke-width="1.7"/>
<path d="M982.93 1573.42 L978.63 1580.92 L987.23 1580.92 Z" fill="none" stroke="#e84ce8" stroke-width="1.7"/>
<path d="M967.72 1575.28 L963.42 1582.78 L972.02 1582.78 Z" fill="none" stroke="#e84ce8" stroke-width="1.7"/>
<path d="M926.48 1573.7 L922.18 1581.2 L930.78 1581.2 Z" fill="none" stroke="#e84ce8" stroke-width="1.7"/>
<path d="M915.15 1567.43 L910.85 1574.93 L919.45 1574.93 Z" fill="none" stroke="#e84ce8" stroke-width="1.7"/>
<path d="M982.23 1573.31 L977.93 1580.81 L986.53 1580.81 Z" fill="none" stroke="#e84ce8" stroke-width="1.7"/>
<path d="M916.93 1580.61 L912.63 1588.11 L921.23 1588.11 Z" fill="none" stroke="#e84ce8" stroke-width="1.7"/>
<path d="M965.75 1570.15 L961.45 1577.65 L970.05 1577.65 Z" fill="none" stroke="#e84ce8" stroke-width="1.7"/>
<path d="M878.2 1569.19 L873.9 1576.69 L882.5 1576.69 Z" fill="none" stroke="#e84ce8" stroke-width="1.7"/>
<path d="M911.01 1572.76 L906.71 1580.26 L915.31 1580.26 Z" fill="none" stroke="#e84ce8" stroke-width="1.7"/>
<path d="M940.13 1576.92 L935.83 1584.42 L944.43 1584.42 Z" fill="none" stroke="#e84ce8" stroke-width="1.7"/>
<path d="M965.44 1576.37 L961.14 1583.87 L969.74 1583.87 Z" fill="none" stroke="#e84ce8" stroke-width="1.7"/>
<path d="M924.34 1571.97 L920.04 1579.47 L928.64 1579.47 Z" fill="none" stroke="#e84ce8" stroke-width="1.7"/>
<path d="M977.85 1577.25 L973.55 1584.75 L982.15 1584.75 Z" fill="none" stroke="#e84ce8" stroke-width="1.7"/>
<path d="M924.64 1577.67 L920.34 1585.17 L928.94 1585.17 Z" fill="none" stroke="#e84ce8" stroke-width="1.7"/>
<path d="M995.97 1573.24 L991.67 1580.74 L1000.27 1580.74 Z" fill="none" stroke="#e84ce8" stroke-width="1.7"/>
<path d="M1007.85 1568.36 L1003.55 1575.86 L1012.15 1575.86 Z" fill="none" stroke="#e84ce8" stroke-width="1.7"/>
<path d="M899.41 1577.49 L895.11 1584.99 L903.71 1584.99 Z" fill="none" stroke="#e84ce8" stroke-width="1.7"/>
<path d="M1005.23 1567.19 L1000.93 1574.69 L1009.53 1574.69 Z" fill="none" stroke="#e84ce8" stroke-width="1.7"/>
<path d="M975.36 1574.44 L971.06 1581.94 L979.66 1581.94 Z" fill="none" stroke="#e84ce8" stroke-width="1.7"/>
<path d="M900.19 1575.88 L895.89 1583.38 L904.49 1583.38 Z" fill="none" stroke="#e84ce8" stroke-width="1.7"/>
<path d="M956.31 1572.59 L952.01 1580.09 L960.61 1580.09 Z" fill="none" stroke="#e84ce8" stroke-width="1.7"/>
<path d="M934.35 1571.39 L930.05 1578.89 L938.65 1578.89 Z" fill="none" stroke="#e84ce8" stroke-width="1.7"/>
<path d="M982.91 1571.76 L978.61 1579.26 L987.21 1579.26 Z" fill="none" stroke="#e84ce8" stroke-width="1.7"/>
<path d="M975.46 1554.29 L971.16 1561.79 L979.76 1561.79 Z" fill="none" stroke="#e84ce8" stroke-width="1.7"/>
<path d="M898.57 1566.15 L894.27 1573.65 L902.87 1573.65 Z" fill="none" stroke="#e84ce8" stroke-width="1.7"/>
<path d="M965.81 1559.78 L961.51 1567.28 L970.11 1567.28 Z" fill="none" stroke="#e84ce8" stroke-width="1.7"/>
<path d="M970.73 1571.59 L966.43 1579.09 L975.03 1579.09 Z" fill="none" stroke="#e84ce8" stroke-width="1.7"/>
<path d="M882.36 1567.02 L878.06 1574.52 L886.66 1574.52 Z" fill="none" stroke="#e84ce8" stroke-width="1.7"/>
<path d="M907.66 1555.05 L903.36 1562.55 L911.96 1562.55 Z" fill="none" stroke="#e84ce8" stroke-width="1.7"/>
<path d="M894.93 1562.6 L890.63 1570.1 L899.23 1570.1 Z" fill="none" stroke="#e84ce8" stroke-width="1.7"/>
<path d="M901.52 1559.05 L897.22 1566.55 L905.82 1566.55 Z" fill="none" stroke="#e84ce8" stroke-width="1.7"/>
<path d="M881.51 1566.84 L877.21 1574.34 L885.81 1574.34 Z" fill="none" stroke="#e84ce8" stroke-width="1.7"/>
<path d="M928.79 1571.04 L924.49 1578.54 L933.09 1578.54 Z" fill="none" stroke="#e84ce8" stroke-width="1.7"/>
<path d="M957.59 1560.32 L953.29 1567.82 L961.89 1567.82 Z" fill="none" stroke="#e84ce8" stroke-width="1.7"/>
<path d="M1000.53 1553.52 L996.23 1561.02 L1004.83 1561.02 Z" fill="none" stroke="#e84ce8" stroke-width="1.7"/>
<path d="M914.83 1565.26 L910.53 1572.76 L919.13 1572.76 Z" fill="none" stroke="#e84ce8" stroke-width="1.7"/>
<path d="M892.4 1577.34 L888.1 1584.84 L896.7 1584.84 Z" fill="none" stroke="#e84ce8" stroke-width="1.7"/>
<path d="M927.91 1554.54 L923.61 1562.04 L932.21 1562.04 Z" fill="none" stroke="#e84ce8" stroke-width="1.7"/>
<path d="M960.8 1556.22 L956.5 1563.72 L965.1 1563.72 Z" fill="none" stroke="#e84ce8" stroke-width="1.7"/>
<path d="M951.42 1563.23 L947.12 1570.73 L955.72 1570.73 Z" fill="none" stroke="#e84ce8" stroke-width="1.7"/>
<path d="M956.31 1580.98 L952.01 1588.48 L960.61 1588.48 Z" fill="none" stroke="#e84ce8" stroke-width="1.7"/>
<path d="M988.92 1565.52 L984.62 1573.02 L993.22 1573.02 Z" fill="none" stroke="#e84ce8" stroke-width="1.7"/>
<path d="M964.74 1564.1 L960.44 1571.6 L969.04 1571.6 Z" fill="none" stroke="#e84ce8" stroke-width="1.7"/>
<path d="M896.11 1570.59 L891.81 1578.09 L900.41 1578.09 Z" fill="none" stroke="#e84ce8" stroke-width="1.7"/>
<path d="M953.98 1580.95 L949.68 1588.45 L958.28 1588.45 Z" fill="none" stroke="#e84ce8" stroke-width="1.7"/>
<path d="M954.25 1571.14 L949.95 1578.64 L958.55 1578.64 Z" fill="none" stroke="#e84ce8" stroke-width="1.7"/>
<path d="M895.92 1571.55 L891.62 1579.05 L900.22 1579.05 Z" fill="none" stroke="#e84ce8" stroke-width="1.7"/>
<path d="M998.9 1564.28 L994.6 1571.78 L1003.2 1571.78 Z" fill="none" stroke="#e84ce8" stroke-width="1.7"/>
<path d="M907.67 1561.86 L903.37 1569.36 L911.97 1569.36 Z" fill="none" stroke="#e84ce8" stroke-width="1.7"/>
<path d="M1010.04 1564.39 L1005.74 1571.89 L1014.34 1571.89 Z" fill="none" stroke="#e84ce8" stroke-width="1.7"/>
<path d="M1011.21 1567.73 L1006.91 1575.23 L1015.51 1575.23 Z" fill="none" stroke="#e84ce8" stroke-width="1.7"/>
<path d="M920.4 1581.72 L916.1 1589.22 L924.7 1589.22 Z" fill="none" stroke="#e84ce8" stroke-width="1.7"/>
<path d="M944.08 1561.71 L939.78 1569.21 L948.38 1569.21 Z" fill="none" stroke="#e84ce8" stroke-width="1.7"/>
<path d="M942.05 1557 L937.75 1564.5 L946.35 1564.5 Z" fill="none" stroke="#e84ce8" stroke-width="1.7"/>
<path d="M961.91 1566.22 L957.61 1573.72 L966.21 1573.72 Z" fill="none" stroke="#e84ce8" stroke-width="1.7"/>
<path d="M916.83 1575.92 L912.53 1583.42 L921.13 1583.42 Z" fill="none" stroke="#e84ce8" stroke-width="1.7"/>
<path d="M990.05 1553.88 L985.75 1561.38 L994.35 1561.38 Z" fill="none" stroke="#e84ce8" stroke-width="1.7"/>
<path d="M914.18 1580.32 L909.88 1587.82 L918.48 1587.82 Z" fill="none" stroke="#e84ce8" stroke-width="1.7"/>
<path d="M983.89 1560.55 L979.59 1568.05 L988.19 1568.05 Z" fill="none" stroke="#e84ce8" stroke-width="1.7"/>
<path d="M913.34 1557.94 L909.04 1565.44 L917.64 1565.44 Z" fill="none" stroke="#e84ce8" stroke-width="1.7"/>
<path d="M1012.28 1561.91 L1007.98 1569.41 L1016.58 1569.41 Z" fill="none" stroke="#e84ce8" stroke-width="1.7"/>
<path d="M941.73 1571.99 L937.43 1579.49 L946.03 1579.49 Z" fill="none" stroke="#e84ce8" stroke-width="1.7"/>
<path d="M959.46 1574.82 L955.16 1582.32 L963.76 1582.32 Z" fill="none" stroke="#e84ce8" stroke-width="1.7"/>
<path d="M892.83 1575.3 L888.53 1582.8 L897.13 1582.8 Z" fill="none" stroke="#e84ce8" stroke-width="1.7"/>
<path d="M917.87 1568.8 L913.57 1576.3 L922.17 1576.3 Z" fill="none" stroke="#e84ce8" stroke-width="1.7"/>
<path d="M922.73 1562.01 L918.43 1569.51 L927.03 1569.51 Z" fill="none" stroke="#e84ce8" stroke-width="1.7"/>
<path d="M949.31 1566.82 L945.01 1574.32 L953.61 1574.32 Z" fill="none" stroke="#e84ce8" stroke-width="1.7"/>
<path d="M926.15 1574.86 L921.85 1582.36 L930.45 1582.36 Z" fill="none" stroke="#e84ce8" stroke-width="1.7"/>
<path d="M957.67 1554.55 L953.37 1562.05 L961.97 1562.05 Z" fill="none" stroke="#e84ce8" stroke-width="1.7"/>
<path d="M911.25 1566.57 L906.95 1574.07 L915.55 1574.07 Z" fill="none" stroke="#e84ce8" stroke-width="1.7"/>
<path d="M1002.37 1578.96 L998.07 1586.46 L1006.67 1586.46 Z" fill="none" stroke="#e84ce8" stroke-width="1.7"/>
<path d="M878.61 1575.82 L874.31 1583.32 L882.91 1583.32 Z" fill="none" stroke="#e84ce8" stroke-width="1.7"/>
<path d="M935.3 1570.01 L931 1577.51 L939.6 1577.51 Z" fill="none" stroke="#e84ce8" stroke-width="1.7"/>
<path d="M973.78 1571.63 L969.48 1579.13 L978.08 1579.13 Z" fill="none" stroke="#e84ce8" stroke-width="1.7"/>
<path d="M942.73 1579.64 L938.43 1587.14 L947.03 1587.14 Z" fill="none" stroke="#e84ce8" stroke-width="1.7"/>
<path d="M929.5 1564.74 L925.2 1572.24 L933.8 1572.24 Z" fill="none" stroke="#e84ce8" stroke-width="1.7"/>
<path d="M990.5 1555.4 L986.2 1562.9 L994.8 1562.9 Z" fill="none" stroke="#e84ce8" stroke-width="1.7"/>
<path d="M971.92 1565.91 L967.62 1573.41 L976.22 1573.41 Z" fill="none" stroke="#e84ce8" stroke-width="1.7"/>
<path d="M915.9 1575.89 L911.6 1583.39 L920.2 1583.39 Z" fill="none" stroke="#e84ce8" stroke-width="1.7"/>
<path d="M1001.56 1557.59 L997.26 1565.09 L1005.86 1565.09 Z" fill="none" stroke="#e84ce8" stroke-width="1.7"/>
<path d="M951.95 1567.77 L947.65 1575.27 L956.25 1575.27 Z" fill="none" stroke="#e84ce8" stroke-width="1.7"/>
<path d="M921.99 1557.9 L917.69 1565.4 L926.29 1565.4 Z" fill="none" stroke="#e84ce8" stroke-width="1.7"/>
<path d="M956.99 1576.78 L952.69 1584.28 L961.29 1584.28 Z" fill="none" stroke="#e84ce8" stroke-width="1.7"/>
<path d="M886 1560.1 L881.7 1567.6 L890.3 1567.6 Z" fill="none" stroke="#e84ce8" stroke-width="1.7"/>
<path d="M989.06 1576.2 L984.76 1583.7 L993.36 1583.7 Z" fill="none" stroke="#e84ce8" stroke-width="1.7"/>
<path d="M880.12 1574.22 L875.82 1581.72 L884.42 1581.72 Z" fill="none" stroke="#e84ce8" stroke-width="1.7"/>
<path d="M1010.89 1582.13 L1006.59 1589.63 L1015.19 1589.63 Z" fill="none" stroke="#e84ce8" stroke-width="1.7"/>
<path d="M883.32 1577.65 L879.02 1585.15 L887.62 1585.15 Z" fill="none" stroke="#e84ce8" stroke-width="1.7"/>
<path d="M906.69 1572.02 L902.39 1579.52 L910.99 1579.52 Z" fill="none" stroke="#e84ce8" stroke-width="1.7"/>
<path d="M916.74 1579.82 L912.44 1587.32 L921.04 1587.32 Z" fill="none" stroke="#e84ce8" stroke-width="1.7"/>
<path d="M897.16 1571.01 L892.86 1578.51 L901.46 1578.51 Z" fill="none" stroke="#e84ce8" stroke-width="1.7"/>
<path d="M933.41 1558.12 L929.11 1565.62 L937.71 1565.62 Z" fill="none" stroke="#e84ce8" stroke-width="1.7"/>
<path d="M962.01 1554.75 L957.71 1562.25 L966.31 1562.25 Z" fill="none" stroke="#e84ce8" stroke-width="1.7"/>
<path d="M891.46 1564.37 L887.16 1571.87 L895.76 1571.87 Z" fill="none" stroke="#e84ce8" stroke-width="1.7"/>
<path d="M886.49 1555.15 L882.19 1562.65 L890.79 1562.65 Z" fill="none" stroke="#e84ce8" stroke-width="1.7"/>
<path d="M955.54 1574.79 L951.24 1582.29 L959.84 1582.29 Z" fill="none" stroke="#e84ce8" stroke-width="1.7"/>
<path d="M997.14 1557.35 L992.84 1564.85 L1001.44 1564.85 Z" fill="none" stroke="#e84ce8" stroke-width="1.7"/>
<path d="M919.77 1570.71 L915.47 1578.21 L924.07 1578.21 Z" fill="none" stroke="#e84ce8" stroke-width="1.7"/>
<path d="M943.79 1580.41 L939.49 1587.91 L948.09 1587.91 Z" fill="none" stroke="#e84ce8" stroke-width="1.7"/>
<path d="M927.96 1555.1 L923.66 1562.6 L932.26 1562.6 Z" fill="none" stroke="#e84ce8" stroke-width="1.7"/>
<path d="M972.29 1557.83 L967.99 1565.33 L976.59 1565.33 Z" fill="none" stroke="#e84ce8" stroke-width="1.7"/>
<path d="M963.24 1568.01 L958.94 1575.51 L967.54 1575.51 Z" fill="none" stroke="#e84ce8" stroke-width="1.7"/>
<path d="M1001.53 1569.41 L997.23 1576.91 L1005.83 1576.91 Z" fill="none" stroke="#e84ce8" stroke-width="1.7"/>
<path d="M912.73 1569.32 L908.43 1576.82 L917.03 1576.82 Z" fill="none" stroke="#e84ce8" stroke-width="1.7"/>
<path d="M911.49 1575.02 L907.19 1582.52 L915.79 1582.52 Z" fill="none" stroke="#e84ce8" stroke-width="1.7"/>
<path d="M947.55 1557.34 L943.25 1564.84 L951.85 1564.84 Z" fill="none" stroke="#e84ce8" stroke-width="1.7"/>
<path d="M908.78 1564.15 L904.48 1571.65 L913.08 1571.65 Z" fill="none" stroke="#e84ce8" stroke-width="1.7"/>
<path d="M977.7 1558.64 L973.4 1566.14 L982 1566.14 Z" fill="none" stroke="#e84ce8" stroke-width="1.7"/>
<path d="M974.48 1572.28 L970.18 1579.78 L978.78 1579.78 Z" fill="none" stroke="#e84ce8" stroke-width="1.7"/>
<path d="M888.31 1572.65 L884.01 1580.15 L892.61 1580.15 Z" fill="none" stroke="#e84ce8" stroke-width="1.7"/>
<path d="M889.12 1557.08 L884.82 1564.58 L893.42 1564.58 Z" fill="none" stroke="#e84ce8" stroke-width="1.7"/>
<path d="M958.11 1560.34 L953.81 1567.84 L962.41 1567.84 Z" fill="none" stroke="#e84ce8" stroke-width="1.7"/>
<path d="M985.89 1554.35 L981.59 1561.85 L990.19 1561.85 Z" fill="none" stroke="#e84ce8" stroke-width="1.7"/>
<path d="M976.09 1555.04 L971.79 1562.54 L980.39 1562.54 Z" fill="none" stroke="#e84ce8" stroke-width="1.7"/>
<path d="M897.3 1580.8 L893 1588.3 L901.6 1588.3 Z" fill="none" stroke="#e84ce8" stroke-width="1.7"/>
<path d="M970.06 1559.9 L965.76 1567.4 L974.36 1567.4 Z" fill="none" stroke="#e84ce8" stroke-width="1.7"/>
<path d="M892.54 1581.39 L888.24 1588.89 L896.84 1588.89 Z" fill="none" stroke="#e84ce8" stroke-width="1.7"/>
<path d="M967.86 1577.03 L963.56 1584.53 L972.16 1584.53 Z" fill="none" stroke="#e84ce8" stroke-width="1.7"/>
<path d="M895.79 1571.42 L891.49 1578.92 L900.09 1578.92 Z" fill="none" stroke="#e84ce8" stroke-width="1.7"/>
<path d="M925.22 1560.24 L920.92 1567.74 L929.52 1567.74 Z" fill="none" stroke="#e84ce8" stroke-width="1.7"/>
<path d="M922.34 1571.1 L918.04 1578.6 L926.64 1578.6 Z" fill="none" stroke="#e84ce8" stroke-width="1.7"/>
<path d="M924.45 1564.56 L920.15 1572.06 L928.75 1572.06 Z" fill="none" stroke="#e84ce8" stroke-width="1.7"/>
<path d="M895.33 1577.33 L891.03 1584.83 L899.63 1584.83 Z" fill="none" stroke="#e84ce8" stroke-width="1.7"/>
<path d="M965.51 1576.57 L961.21 1584.07 L969.81 1584.07 Z" fill="none" stroke="#e84ce8" stroke-width="1.7"/>
<path d="M936.08 1577.92 L931.78 1585.42 L940.38 1585.42 Z" fill="none" stroke="#e84ce8" stroke-width="1.7"/>
<path d="M947.62 1570.49 L943.32 1577.99 L951.92 1577.99 Z" fill="none" stroke="#e84ce8" stroke-width="1.7"/>
<path d="M955.27 1574.72 L950.97 1582.22 L959.57 1582.22 Z" fill="none" stroke="#e84ce8" stroke-width="1.7"/>
<path d="M930.88 1556.28 L926.58 1563.78 L935.18 1563.78 Z" fill="none" stroke="#e84ce8" stroke-width="1.7"/>
<path d="M881.16 1559.31 L876.86 1566.81 L885.46 1566.81 Z" fill="none" stroke="#e84ce8" stroke-width="1.7"/>
<path d="M882.03 1579 L877.73 1586.5 L886.33 1586.5 Z" fill="none" stroke="#e84ce8" stroke-width="1.7"/>
<path d="M942.61 1575.3 L938.31 1582.8 L946.91 1582.8 Z" fill="none" stroke="#e84ce8" stroke-width="1.7"/>
<path d="M876.67 1566.98 L872.37 1574.48 L880.97 1574.48 Z" fill="none" stroke="#e84ce8" stroke-width="1.7"/>
<path d="M998.69 1571.26 L994.39 1578.76 L1002.99 1578.76 Z" fill="none" stroke="#e84ce8" stroke-width="1.7"/>
<path d="M940.49 1556.36 L936.19 1563.86 L944.79 1563.86 Z" fill="none" stroke="#e84ce8" stroke-width="1.7"/>
<path d="M897.84 1558.06 L893.54 1565.56 L902.14 1565.56 Z" fill="none" stroke="#e84ce8" stroke-width="1.7"/>
<path d="M928.01 1564.56 L923.71 1572.06 L932.31 1572.06 Z" fill="none" stroke="#e84ce8" stroke-width="1.7"/>
<path d="M914.68 1558.13 L910.38 1565.63 L918.98 1565.63 Z" fill="none" stroke="#e84ce8" stroke-width="1.7"/>
<path d="M916 1560.25 L911.7 1567.75 L920.3 1567.75 Z" fill="none" stroke="#e84ce8" stroke-width="1.7"/>
<path d="M942.75 1554.42 L938.45 1561.92 L947.05 1561.92 Z" fill="none" stroke="#e84ce8" stroke-width="1.7"/>
<path d="M1003.46 1564.08 L999.16 1571.58 L1007.76 1571.58 Z" fill="none" stroke="#e84ce8" stroke-width="1.7"/>
<path d="M970.97 1572.82 L966.67 1580.32 L975.27 1580.32 Z" fill="none" stroke="#e84ce8" stroke-width="1.7"/>
<path d="M941.34 1580.61 L937.04 1588.11 L945.64 1588.11 Z" fill="none" stroke="#e84ce8" stroke-width="1.7"/>
<path d="M892.79 1572.67 L888.49 1580.17 L897.09 1580.17 Z" fill="none" stroke="#e84ce8" stroke-width="1.7"/>
<path d="M916.55 1572.84 L912.25 1580.34 L920.85 1580.34 Z" fill="none" stroke="#e84ce8" stroke-width="1.7"/>
<path d="M976.68 1558.18 L972.38 1565.68 L980.98 1565.68 Z" fill="none" stroke="#e84ce8" stroke-width="1.7"/>
<path d="M904.19 1554.22 L899.89 1561.72 L908.49 1561.72 Z" fill="none" stroke="#e84ce8" stroke-width="1.7"/>
<path d="M908.24 1555.74 L903.94 1563.24 L912.54 1563.24 Z" fill="none" stroke="#e84ce8" stroke-width="1.7"/>
<path d="M931.64 1581.42 L927.34 1588.92 L935.94 1588.92 Z" fill="none" stroke="#e84ce8" stroke-width="1.7"/>
<path d="M926.59 1562.44 L922.29 1569.94 L930.89 1569.94 Z" fill="none" stroke="#e84ce8" stroke-width="1.7"/>
<path d="M940.83 1561.62 L936.53 1569.12 L945.13 1569.12 Z" fill="none" stroke="#e84ce8" stroke-width="1.7"/>
<path d="M977.09 1574.09 L972.79 1581.59 L981.39 1581.59 Z" fill="none" stroke="#e84ce8" stroke-width="1.7"/>
<path d="M899.03 1560.4 L894.73 1567.9 L903.33 1567.9 Z" fill="none" stroke="#e84ce8" stroke-width="1.7"/>
<path d="M968.84 1580.47 L964.54 1587.97 L973.14 1587.97 Z" fill="none" stroke="#e84ce8" stroke-width="1.7"/>
<path d="M965.23 1565.85 L960.93 1573.35 L969.53 1573.35 Z" fill="none" stroke="#e84ce8" stroke-width="1.7"/>
<path d="M983.53 1565.26 L979.23 1572.76 L987.83 1572.76 Z" fill="none" stroke="#e84ce8" stroke-width="1.7"/>
<path d="M882.78 1569.23 L878.48 1576.73 L887.08 1576.73 Z" fill="none" stroke="#e84ce8" stroke-width="1.7"/>
<path d="M889.49 1555.54 L885.19 1563.04 L893.79 1563.04 Z" fill="none" stroke="#e84ce8" stroke-width="1.7"/>
<path d="M999.93 1567.58 L995.63 1575.08 L1004.23 1575.08 Z" fill="none" stroke="#e84ce8" stroke-width="1.7"/>
<path d="M883.99 1560.48 L879.69 1567.98 L888.29 1567.98 Z" fill="none" stroke="#e84ce8" stroke-width="1.7"/>
<path d="M883.54 1564.89 L879.24 1572.39 L887.84 1572.39 Z" fill="none" stroke="#e84ce8" stroke-width="1.7"/>
<path d="M1022.61 1556.14 L1018.31 1563.64 L1026.91 1563.64 Z" fill="none" stroke="#e84ce8" stroke-width="1.7"/>
<path d="M1042.84 1559.66 L1038.54 1567.16 L1047.14 1567.16 Z" fill="none" stroke="#e84ce8" stroke-width="1.7"/>
<path d="M1049.88 1556.14 L1045.58 1563.64 L1054.18 1563.64 Z" fill="none" stroke="#e84ce8" stroke-width="1.7"/>
<path d="M1056.91 1561.42 L1052.61 1568.92 L1061.21 1568.92 Z" fill="none" stroke="#e84ce8" stroke-width="1.7"/>
<path d="M1066.59 1558.25 L1062.29 1565.75 L1070.89 1565.75 Z" fill="none" stroke="#e84ce8" stroke-width="1.7"/>
<path d="M1073.62 1558.25 L1069.32 1565.75 L1077.92 1565.75 Z" fill="none" stroke="#e84ce8" stroke-width="1.7"/>
<path d="M1027.01 1571.97 L1022.71 1579.47 L1031.31 1579.47 Z" fill="none" stroke="#e84ce8" stroke-width="1.7"/>
<path d="M1034.93 1566.69 L1030.63 1574.19 L1039.23 1574.19 Z" fill="none" stroke="#e84ce8" stroke-width="1.7"/>
<path d="M1034.05 1573.73 L1029.75 1581.23 L1038.35 1581.23 Z" fill="none" stroke="#e84ce8" stroke-width="1.7"/>
<path d="M1048.12 1573.73 L1043.82 1581.23 L1052.42 1581.23 Z" fill="none" stroke="#e84ce8" stroke-width="1.7"/>
<path d="M1048.12 1580.77 L1043.82 1588.27 L1052.42 1588.27 Z" fill="none" stroke="#e84ce8" stroke-width="1.7"/>
<path d="M1060.43 1568.45 L1056.13 1575.95 L1064.73 1575.95 Z" fill="none" stroke="#e84ce8" stroke-width="1.7"/>
<path d="M1063.95 1573.73 L1059.65 1581.23 L1068.25 1581.23 Z" fill="none" stroke="#e84ce8" stroke-width="1.7"/>
<path d="M1070.11 1578.13 L1065.81 1585.63 L1074.41 1585.63 Z" fill="none" stroke="#e84ce8" stroke-width="1.7"/>
<path d="M1078.02 1570.21 L1073.72 1577.71 L1082.32 1577.71 Z" fill="none" stroke="#e84ce8" stroke-width="1.7"/>
<path d="M1090.33 1575.49 L1086.03 1582.99 L1094.63 1582.99 Z" fill="none" stroke="#e84ce8" stroke-width="1.7"/>
<path d="M1092.97 1573.73 L1088.67 1581.23 L1097.27 1581.23 Z" fill="none" stroke="#e84ce8" stroke-width="1.7"/>
<path d="M1099.13 1568.45 L1094.83 1575.95 L1103.43 1575.95 Z" fill="none" stroke="#e84ce8" stroke-width="1.7"/>
<path d="M1101.77 1579.36 L1097.47 1586.86 L1106.07 1586.86 Z" fill="none" stroke="#e84ce8" stroke-width="1.7"/>
<path d="M1021.73 1578.13 L1017.43 1585.63 L1026.03 1585.63 Z" fill="none" stroke="#e84ce8" stroke-width="1.7"/>
<circle cx="883.65" cy="1473.47" r="3.7" fill="#c9f2dc" stroke="#1e8a58" stroke-width="2"/>
<circle cx="903.88" cy="1474" r="3.7" fill="#c9f2dc" stroke="#1e8a58" stroke-width="2"/>
<circle cx="910.04" cy="1472.59" r="3.7" fill="#c9f2dc" stroke="#1e8a58" stroke-width="2"/>
<circle cx="928.15" cy="1474" r="3.7" fill="#c9f2dc" stroke="#1e8a58" stroke-width="2"/>
<circle cx="936.42" cy="1469.07" r="3.7" fill="#c9f2dc" stroke="#1e8a58" stroke-width="2"/>
<circle cx="954.89" cy="1469.95" r="3.7" fill="#c9f2dc" stroke="#1e8a58" stroke-width="2"/>
<circle cx="958.06" cy="1474" r="3.7" fill="#c9f2dc" stroke="#1e8a58" stroke-width="2"/>
<circle cx="971.6" cy="1471.71" r="3.7" fill="#c9f2dc" stroke="#1e8a58" stroke-width="2"/>
<circle cx="1001.5" cy="1474" r="3.7" fill="#c9f2dc" stroke="#1e8a58" stroke-width="2"/>
<circle cx="1037.21" cy="1475.76" r="3.7" fill="#c9f2dc" stroke="#1e8a58" stroke-width="2"/>
<circle cx="921.12" cy="1482.26" r="3.7" fill="#c9f2dc" stroke="#1e8a58" stroke-width="2"/>
<circle cx="938.18" cy="1481.74" r="3.7" fill="#c9f2dc" stroke="#1e8a58" stroke-width="2"/>
<circle cx="951.02" cy="1484.02" r="3.7" fill="#c9f2dc" stroke="#1e8a58" stroke-width="2"/>
<circle cx="970.72" cy="1482.26" r="3.7" fill="#c9f2dc" stroke="#1e8a58" stroke-width="2"/>
<circle cx="973.89" cy="1484.02" r="3.7" fill="#c9f2dc" stroke="#1e8a58" stroke-width="2"/>
<circle cx="928.5" cy="1487.54" r="3.7" fill="#c9f2dc" stroke="#1e8a58" stroke-width="2"/>
<circle cx="920.59" cy="1491.94" r="3.7" fill="#c9f2dc" stroke="#1e8a58" stroke-width="2"/>
<circle cx="937.65" cy="1491.59" r="3.7" fill="#c9f2dc" stroke="#1e8a58" stroke-width="2"/>
<circle cx="968.08" cy="1491.06" r="3.7" fill="#c9f2dc" stroke="#1e8a58" stroke-width="2"/>
<circle cx="978.28" cy="1492.29" r="3.7" fill="#c9f2dc" stroke="#1e8a58" stroke-width="2"/>
<circle cx="905.64" cy="1491.94" r="3.7" fill="#c9f2dc" stroke="#1e8a58" stroke-width="2"/>
<circle cx="910.91" cy="1493.7" r="3.7" fill="#c9f2dc" stroke="#1e8a58" stroke-width="2"/>
<circle cx="897.72" cy="1498.62" r="3.7" fill="#c9f2dc" stroke="#1e8a58" stroke-width="2"/>
<circle cx="904.76" cy="1497.22" r="3.7" fill="#c9f2dc" stroke="#1e8a58" stroke-width="2"/>
<circle cx="931.14" cy="1497.22" r="3.7" fill="#c9f2dc" stroke="#1e8a58" stroke-width="2"/>
<circle cx="931.14" cy="1498.98" r="3.7" fill="#c9f2dc" stroke="#1e8a58" stroke-width="2"/>
<circle cx="944.34" cy="1501.61" r="3.7" fill="#c9f2dc" stroke="#1e8a58" stroke-width="2"/>
<circle cx="939.94" cy="1506.89" r="3.7" fill="#c9f2dc" stroke="#1e8a58" stroke-width="2"/>
<circle cx="917.95" cy="1504.25" r="3.7" fill="#c9f2dc" stroke="#1e8a58" stroke-width="2"/>
<circle cx="907.4" cy="1506.36" r="3.7" fill="#c9f2dc" stroke="#1e8a58" stroke-width="2"/>
<circle cx="911.79" cy="1509.53" r="3.7" fill="#c9f2dc" stroke="#1e8a58" stroke-width="2"/>
<circle cx="1078.9" cy="1498.62" r="3.7" fill="#c9f2dc" stroke="#1e8a58" stroke-width="2"/>
<circle cx="919.71" cy="1516.57" r="3.7" fill="#c9f2dc" stroke="#1e8a58" stroke-width="2"/>
<circle cx="921.47" cy="1515.69" r="3.7" fill="#c9f2dc" stroke="#1e8a58" stroke-width="2"/>
<circle cx="907.4" cy="1521.49" r="3.7" fill="#c9f2dc" stroke="#1e8a58" stroke-width="2"/>
<circle cx="934.13" cy="1521.49" r="3.7" fill="#c9f2dc" stroke="#1e8a58" stroke-width="2"/>
<circle cx="960.17" cy="1517.97" r="3.7" fill="#c9f2dc" stroke="#1e8a58" stroke-width="2"/>
<circle cx="966.32" cy="1521.84" r="3.7" fill="#c9f2dc" stroke="#1e8a58" stroke-width="2"/>
<circle cx="1001.5" cy="1519.73" r="3.7" fill="#c9f2dc" stroke="#1e8a58" stroke-width="2"/>
<circle cx="1089.98" cy="1517.45" r="3.7" fill="#c9f2dc" stroke="#1e8a58" stroke-width="2"/>
<circle cx="1104.41" cy="1520.96" r="3.7" fill="#c9f2dc" stroke="#1e8a58" stroke-width="2"/>
<circle cx="891.57" cy="1528.88" r="3.7" fill="#c9f2dc" stroke="#1e8a58" stroke-width="2"/>
<circle cx="884.53" cy="1534.51" r="3.7" fill="#c9f2dc" stroke="#1e8a58" stroke-width="2"/>
<circle cx="908.28" cy="1532.04" r="3.7" fill="#c9f2dc" stroke="#1e8a58" stroke-width="2"/>
<circle cx="929.38" cy="1526.24" r="3.7" fill="#c9f2dc" stroke="#1e8a58" stroke-width="2"/>
<circle cx="935.54" cy="1528" r="3.7" fill="#c9f2dc" stroke="#1e8a58" stroke-width="2"/>
<circle cx="945.22" cy="1526.24" r="3.7" fill="#c9f2dc" stroke="#1e8a58" stroke-width="2"/>
<circle cx="956.65" cy="1526.77" r="3.7" fill="#c9f2dc" stroke="#1e8a58" stroke-width="2"/>
<circle cx="963.69" cy="1530.64" r="3.7" fill="#c9f2dc" stroke="#1e8a58" stroke-width="2"/>
<circle cx="985.67" cy="1527.12" r="3.7" fill="#c9f2dc" stroke="#1e8a58" stroke-width="2"/>
<circle cx="987.43" cy="1530.99" r="3.7" fill="#c9f2dc" stroke="#1e8a58" stroke-width="2"/>
<circle cx="933.78" cy="1532.4" r="3.7" fill="#c9f2dc" stroke="#1e8a58" stroke-width="2"/>
<circle cx="945.22" cy="1532.4" r="3.7" fill="#c9f2dc" stroke="#1e8a58" stroke-width="2"/>
<circle cx="924.99" cy="1537.67" r="3.7" fill="#c9f2dc" stroke="#1e8a58" stroke-width="2"/>
<circle cx="898.6" cy="1539.78" r="3.7" fill="#c9f2dc" stroke="#1e8a58" stroke-width="2"/>
<circle cx="917.95" cy="1542.42" r="3.7" fill="#c9f2dc" stroke="#1e8a58" stroke-width="2"/>
<circle cx="936.95" cy="1540.84" r="3.7" fill="#c9f2dc" stroke="#1e8a58" stroke-width="2"/>
<circle cx="946.09" cy="1539.43" r="3.7" fill="#c9f2dc" stroke="#1e8a58" stroke-width="2"/>
<circle cx="959.29" cy="1536.27" r="3.7" fill="#c9f2dc" stroke="#1e8a58" stroke-width="2"/>
<circle cx="973.36" cy="1539.43" r="3.7" fill="#c9f2dc" stroke="#1e8a58" stroke-width="2"/>
<circle cx="979.52" cy="1539.78" r="3.7" fill="#c9f2dc" stroke="#1e8a58" stroke-width="2"/>
<circle cx="1085.94" cy="1536.79" r="3.7" fill="#c9f2dc" stroke="#1e8a58" stroke-width="2"/>
<circle cx="1105.81" cy="1539.78" r="3.7" fill="#c9f2dc" stroke="#1e8a58" stroke-width="2"/>
<circle cx="881.01" cy="1552.63" r="3.7" fill="#c9f2dc" stroke="#1e8a58" stroke-width="2"/>
<circle cx="900.36" cy="1550.87" r="3.7" fill="#c9f2dc" stroke="#1e8a58" stroke-width="2"/>
<circle cx="907.4" cy="1550.87" r="3.7" fill="#c9f2dc" stroke="#1e8a58" stroke-width="2"/>
<circle cx="921.47" cy="1554.38" r="3.7" fill="#c9f2dc" stroke="#1e8a58" stroke-width="2"/>
<circle cx="930.26" cy="1553.5" r="3.7" fill="#c9f2dc" stroke="#1e8a58" stroke-width="2"/>
<circle cx="935.54" cy="1550.87" r="3.7" fill="#c9f2dc" stroke="#1e8a58" stroke-width="2"/>
<circle cx="943.46" cy="1545.59" r="3.7" fill="#c9f2dc" stroke="#1e8a58" stroke-width="2"/>
<circle cx="949.61" cy="1544.71" r="3.7" fill="#c9f2dc" stroke="#1e8a58" stroke-width="2"/>
<circle cx="963.69" cy="1546.47" r="3.7" fill="#c9f2dc" stroke="#1e8a58" stroke-width="2"/>
<circle cx="976" cy="1543.83" r="3.7" fill="#c9f2dc" stroke="#1e8a58" stroke-width="2"/>
<circle cx="988.31" cy="1547.35" r="3.7" fill="#c9f2dc" stroke="#1e8a58" stroke-width="2"/>
<circle cx="992.71" cy="1549.11" r="3.7" fill="#c9f2dc" stroke="#1e8a58" stroke-width="2"/>
<circle cx="997.99" cy="1552.63" r="3.7" fill="#c9f2dc" stroke="#1e8a58" stroke-width="2"/>
<circle cx="1006.78" cy="1553.5" r="3.7" fill="#c9f2dc" stroke="#1e8a58" stroke-width="2"/>
<circle cx="1019.09" cy="1546.82" r="3.7" fill="#c9f2dc" stroke="#1e8a58" stroke-width="2"/>
<circle cx="1037.21" cy="1550.87" r="3.7" fill="#c9f2dc" stroke="#1e8a58" stroke-width="2"/>
<circle cx="1051.64" cy="1549.11" r="3.7" fill="#c9f2dc" stroke="#1e8a58" stroke-width="2"/>
<circle cx="1056.03" cy="1554.91" r="3.7" fill="#c9f2dc" stroke="#1e8a58" stroke-width="2"/>
<circle cx="1074.5" cy="1553.86" r="3.7" fill="#c9f2dc" stroke="#1e8a58" stroke-width="2"/>
<circle cx="1105.29" cy="1550.87" r="3.7" fill="#c9f2dc" stroke="#1e8a58" stroke-width="2"/>
<circle cx="1114.96" cy="1549.99" r="3.7" fill="#c9f2dc" stroke="#1e8a58" stroke-width="2"/>
<circle cx="965.44" cy="1553.5" r="3.7" fill="#c9f2dc" stroke="#1e8a58" stroke-width="2"/>
<circle cx="951.37" cy="1549.99" r="3.7" fill="#c9f2dc" stroke="#1e8a58" stroke-width="2"/>
<circle cx="923.23" cy="1536.79" r="3.7" fill="#c9f2dc" stroke="#1e8a58" stroke-width="2"/>
<circle cx="925.87" cy="1538.55" r="3.7" fill="#c9f2dc" stroke="#1e8a58" stroke-width="2"/>
<circle cx="903.88" cy="1550.87" r="3.7" fill="#c9f2dc" stroke="#1e8a58" stroke-width="2"/>
<circle cx="984.79" cy="1549.99" r="3.7" fill="#c9f2dc" stroke="#1e8a58" stroke-width="2"/>
<circle cx="851" cy="1650.7" r="3.7" fill="#c9f2dc" stroke="#1e8a58" stroke-width="2"/>
<circle cx="896.27" cy="1650.7" r="3.7" fill="#c9f2dc" stroke="#1e8a58" stroke-width="2"/>
<circle cx="901.3" cy="1650.7" r="3.7" fill="#c9f2dc" stroke="#1e8a58" stroke-width="2"/>
<circle cx="923.93" cy="1650.7" r="3.7" fill="#c9f2dc" stroke="#1e8a58" stroke-width="2"/>
<circle cx="936.51" cy="1650.7" r="3.7" fill="#c9f2dc" stroke="#1e8a58" stroke-width="2"/>
<circle cx="851" cy="1677" r="3.7" fill="#c9f2dc" stroke="#1e8a58" stroke-width="2"/>
<circle cx="851" cy="1680" r="3.7" fill="#c9f2dc" stroke="#1e8a58" stroke-width="2"/>
<circle cx="851" cy="1687" r="3.7" fill="#c9f2dc" stroke="#1e8a58" stroke-width="2"/>
<path d="M851 1692.1 L846.7 1699.6 L855.3 1699.6 Z" fill="none" stroke="#e84ce8" stroke-width="1.7"/>
<circle cx="879.84" cy="1673.61" r="3.7" fill="#c9f2dc" stroke="#1e8a58" stroke-width="2"/>
<circle cx="915.65" cy="1690.84" r="3.7" fill="#c9f2dc" stroke="#1e8a58" stroke-width="2"/>
<circle cx="878.93" cy="1671.86" r="3.7" fill="#c9f2dc" stroke="#1e8a58" stroke-width="2"/>
<circle cx="973.82" cy="1690.08" r="3.7" fill="#c9f2dc" stroke="#1e8a58" stroke-width="2"/>
<circle cx="926.08" cy="1691.41" r="3.7" fill="#c9f2dc" stroke="#1e8a58" stroke-width="2"/>
<circle cx="928.42" cy="1689.51" r="3.7" fill="#c9f2dc" stroke="#1e8a58" stroke-width="2"/>
<circle cx="906" cy="1685.73" r="3.7" fill="#c9f2dc" stroke="#1e8a58" stroke-width="2"/>
<circle cx="929.52" cy="1694.53" r="3.7" fill="#c9f2dc" stroke="#1e8a58" stroke-width="2"/>
<circle cx="935.33" cy="1694.14" r="3.7" fill="#c9f2dc" stroke="#1e8a58" stroke-width="2"/>
<circle cx="895.74" cy="1680.09" r="3.7" fill="#c9f2dc" stroke="#1e8a58" stroke-width="2"/>
<circle cx="929.28" cy="1691.92" r="3.7" fill="#c9f2dc" stroke="#1e8a58" stroke-width="2"/>
<circle cx="932.56" cy="1691.26" r="3.7" fill="#c9f2dc" stroke="#1e8a58" stroke-width="2"/>
<circle cx="938.09" cy="1693.35" r="3.7" fill="#c9f2dc" stroke="#1e8a58" stroke-width="2"/>
<circle cx="967.78" cy="1690.85" r="3.7" fill="#c9f2dc" stroke="#1e8a58" stroke-width="2"/>
<circle cx="919.94" cy="1693.96" r="3.7" fill="#c9f2dc" stroke="#1e8a58" stroke-width="2"/>
<circle cx="896.73" cy="1681.17" r="3.7" fill="#c9f2dc" stroke="#1e8a58" stroke-width="2"/>
<circle cx="905.78" cy="1685.5" r="3.7" fill="#c9f2dc" stroke="#1e8a58" stroke-width="2"/>
<circle cx="953.28" cy="1693.92" r="3.7" fill="#c9f2dc" stroke="#1e8a58" stroke-width="2"/>
<circle cx="905.9" cy="1685.81" r="3.7" fill="#c9f2dc" stroke="#1e8a58" stroke-width="2"/>
<circle cx="882.09" cy="1674.67" r="3.7" fill="#c9f2dc" stroke="#1e8a58" stroke-width="2"/>
<circle cx="882.33" cy="1675.89" r="3.7" fill="#c9f2dc" stroke="#1e8a58" stroke-width="2"/>
<circle cx="933.13" cy="1690.47" r="3.7" fill="#c9f2dc" stroke="#1e8a58" stroke-width="2"/>
<circle cx="879.97" cy="1676.35" r="3.7" fill="#c9f2dc" stroke="#1e8a58" stroke-width="2"/>
<circle cx="878.59" cy="1672.66" r="3.7" fill="#c9f2dc" stroke="#1e8a58" stroke-width="2"/>
<circle cx="903.13" cy="1685.9" r="3.7" fill="#c9f2dc" stroke="#1e8a58" stroke-width="2"/>
<circle cx="883.8" cy="1676.57" r="3.7" fill="#c9f2dc" stroke="#1e8a58" stroke-width="2"/>
<circle cx="906.01" cy="1689.6" r="3.7" fill="#c9f2dc" stroke="#1e8a58" stroke-width="2"/>
<circle cx="930.98" cy="1694.38" r="3.7" fill="#c9f2dc" stroke="#1e8a58" stroke-width="2"/>
<circle cx="941.08" cy="1693.56" r="3.7" fill="#c9f2dc" stroke="#1e8a58" stroke-width="2"/>
<circle cx="932.9" cy="1691.65" r="3.7" fill="#c9f2dc" stroke="#1e8a58" stroke-width="2"/>
<circle cx="957.86" cy="1692.93" r="3.7" fill="#c9f2dc" stroke="#1e8a58" stroke-width="2"/>
<circle cx="972.09" cy="1693.37" r="3.7" fill="#c9f2dc" stroke="#1e8a58" stroke-width="2"/>
<circle cx="945.94" cy="1690.61" r="3.7" fill="#c9f2dc" stroke="#1e8a58" stroke-width="2"/>
<circle cx="957.37" cy="1691.29" r="3.7" fill="#c9f2dc" stroke="#1e8a58" stroke-width="2"/>
<circle cx="887.07" cy="1676.07" r="3.7" fill="#c9f2dc" stroke="#1e8a58" stroke-width="2"/>
<circle cx="891.1" cy="1679.26" r="3.7" fill="#c9f2dc" stroke="#1e8a58" stroke-width="2"/>
<circle cx="943.33" cy="1690.71" r="3.7" fill="#c9f2dc" stroke="#1e8a58" stroke-width="2"/>
<circle cx="880.19" cy="1676.84" r="3.7" fill="#c9f2dc" stroke="#1e8a58" stroke-width="2"/>
<circle cx="931.09" cy="1689.16" r="3.7" fill="#c9f2dc" stroke="#1e8a58" stroke-width="2"/>
<circle cx="878.86" cy="1672.38" r="3.7" fill="#c9f2dc" stroke="#1e8a58" stroke-width="2"/>
<circle cx="910.46" cy="1692.46" r="3.7" fill="#c9f2dc" stroke="#1e8a58" stroke-width="2"/>
<circle cx="971.51" cy="1692.67" r="3.7" fill="#c9f2dc" stroke="#1e8a58" stroke-width="2"/>
<circle cx="897.46" cy="1683.42" r="3.7" fill="#c9f2dc" stroke="#1e8a58" stroke-width="2"/>
<circle cx="911.01" cy="1689.56" r="3.7" fill="#c9f2dc" stroke="#1e8a58" stroke-width="2"/>
<circle cx="874.92" cy="1673.14" r="3.7" fill="#c9f2dc" stroke="#1e8a58" stroke-width="2"/>
<circle cx="958.9" cy="1693.36" r="3.7" fill="#c9f2dc" stroke="#1e8a58" stroke-width="2"/>
<circle cx="883.46" cy="1677.07" r="3.7" fill="#c9f2dc" stroke="#1e8a58" stroke-width="2"/>
<circle cx="891.29" cy="1682.03" r="3.7" fill="#c9f2dc" stroke="#1e8a58" stroke-width="2"/>
<circle cx="919.65" cy="1694.63" r="3.7" fill="#c9f2dc" stroke="#1e8a58" stroke-width="2"/>
<circle cx="955.59" cy="1689.71" r="3.7" fill="#c9f2dc" stroke="#1e8a58" stroke-width="2"/>
<circle cx="906.33" cy="1690.74" r="3.7" fill="#c9f2dc" stroke="#1e8a58" stroke-width="2"/>
<circle cx="921.17" cy="1691.6" r="3.7" fill="#c9f2dc" stroke="#1e8a58" stroke-width="2"/>
<circle cx="919.15" cy="1693.61" r="3.7" fill="#c9f2dc" stroke="#1e8a58" stroke-width="2"/>
<circle cx="970.18" cy="1692.2" r="3.7" fill="#c9f2dc" stroke="#1e8a58" stroke-width="2"/>
<circle cx="973.62" cy="1692.58" r="3.7" fill="#c9f2dc" stroke="#1e8a58" stroke-width="2"/>
<circle cx="884.31" cy="1679.19" r="3.7" fill="#c9f2dc" stroke="#1e8a58" stroke-width="2"/>
<circle cx="916.89" cy="1689.31" r="3.7" fill="#c9f2dc" stroke="#1e8a58" stroke-width="2"/>
<circle cx="974.48" cy="1689.2" r="3.7" fill="#c9f2dc" stroke="#1e8a58" stroke-width="2"/>
<circle cx="933.13" cy="1691.89" r="3.7" fill="#c9f2dc" stroke="#1e8a58" stroke-width="2"/>
<circle cx="964.56" cy="1691.36" r="3.7" fill="#c9f2dc" stroke="#1e8a58" stroke-width="2"/>
<circle cx="979.26" cy="1681" r="3.7" fill="#c9f2dc" stroke="#1e8a58" stroke-width="2"/>
<circle cx="991.84" cy="1694.5" r="3.7" fill="#c9f2dc" stroke="#1e8a58" stroke-width="2"/>
<circle cx="1022.02" cy="1685.5" r="3.7" fill="#c9f2dc" stroke="#1e8a58" stroke-width="2"/>
<circle cx="1072.32" cy="1693.5" r="3.7" fill="#c9f2dc" stroke="#1e8a58" stroke-width="2"/>
<circle cx="1079.87" cy="1694.5" r="3.7" fill="#c9f2dc" stroke="#1e8a58" stroke-width="2"/>
<circle cx="1094.95" cy="1686" r="3.7" fill="#c9f2dc" stroke="#1e8a58" stroke-width="2"/>
<circle cx="1107.53" cy="1694.5" r="3.7" fill="#c9f2dc" stroke="#1e8a58" stroke-width="2"/>
<path d="M896.27 1692.1 L891.97 1699.6 L900.57 1699.6 Z" fill="none" stroke="#e84ce8" stroke-width="1.7"/>
<path d="M1011.96 1692.1 L1007.66 1699.6 L1016.26 1699.6 Z" fill="none" stroke="#e84ce8" stroke-width="1.7"/>
<path d="M851 1774.94 L846.7 1782.44 L855.3 1782.44 Z" fill="#f49cf4" stroke="#e84ce8" stroke-width="1.7"/>
<path d="M851 1796.84 L846.7 1804.34 L855.3 1804.34 Z" fill="#f49cf4" stroke="#e84ce8" stroke-width="1.7"/>
<path d="M851 1805.6 L846.7 1813.1 L855.3 1813.1 Z" fill="#f49cf4" stroke="#e84ce8" stroke-width="1.7"/>
<path d="M851 1818.74 L846.7 1826.24 L855.3 1826.24 Z" fill="#f49cf4" stroke="#e84ce8" stroke-width="1.7"/>
<path d="M906.39 1806.3 L902.09 1813.8 L910.69 1813.8 Z" fill="#f7b8f7" stroke="#e84ce8" stroke-width="1.7"/>
<path d="M904.39 1814.33 L900.09 1821.83 L908.69 1821.83 Z" fill="#f7b8f7" stroke="#e84ce8" stroke-width="1.7"/>
<path d="M925.91 1819.64 L921.61 1827.14 L930.21 1827.14 Z" fill="#f7b8f7" stroke="#e84ce8" stroke-width="1.7"/>
<path d="M909.97 1808.4 L905.67 1815.9 L914.27 1815.9 Z" fill="#f7b8f7" stroke="#e84ce8" stroke-width="1.7"/>
<path d="M910.89 1826.15 L906.59 1833.65 L915.19 1833.65 Z" fill="#f7b8f7" stroke="#e84ce8" stroke-width="1.7"/>
<path d="M992.63 1822.42 L988.33 1829.92 L996.93 1829.92 Z" fill="#f7b8f7" stroke="#e84ce8" stroke-width="1.7"/>
<path d="M961.97 1809.78 L957.67 1817.28 L966.27 1817.28 Z" fill="#f7b8f7" stroke="#e84ce8" stroke-width="1.7"/>
<path d="M896.37 1821.91 L892.07 1829.41 L900.67 1829.41 Z" fill="#f7b8f7" stroke="#e84ce8" stroke-width="1.7"/>
<path d="M944.29 1799.56 L939.99 1807.06 L948.59 1807.06 Z" fill="#f7b8f7" stroke="#e84ce8" stroke-width="1.7"/>
<path d="M900.03 1801.28 L895.73 1808.78 L904.33 1808.78 Z" fill="#f7b8f7" stroke="#e84ce8" stroke-width="1.7"/>
<path d="M975.71 1823.84 L971.41 1831.34 L980.01 1831.34 Z" fill="#f7b8f7" stroke="#e84ce8" stroke-width="1.7"/>
<path d="M904.14 1820.93 L899.84 1828.43 L908.44 1828.43 Z" fill="#f7b8f7" stroke="#e84ce8" stroke-width="1.7"/>
<path d="M921.36 1817.72 L917.06 1825.22 L925.66 1825.22 Z" fill="#f7b8f7" stroke="#e84ce8" stroke-width="1.7"/>
<path d="M995.8 1816.04 L991.5 1823.54 L1000.1 1823.54 Z" fill="#f7b8f7" stroke="#e84ce8" stroke-width="1.7"/>
<path d="M987.13 1809.1 L982.83 1816.6 L991.43 1816.6 Z" fill="#f7b8f7" stroke="#e84ce8" stroke-width="1.7"/>
<path d="M878.01 1812.91 L873.71 1820.41 L882.31 1820.41 Z" fill="#f7b8f7" stroke="#e84ce8" stroke-width="1.7"/>
<path d="M957.62 1803.7 L953.32 1811.2 L961.92 1811.2 Z" fill="#f7b8f7" stroke="#e84ce8" stroke-width="1.7"/>
<path d="M930.34 1807.43 L926.04 1814.93 L934.64 1814.93 Z" fill="#f7b8f7" stroke="#e84ce8" stroke-width="1.7"/>
<path d="M880.35 1807.29 L876.05 1814.79 L884.65 1814.79 Z" fill="#f7b8f7" stroke="#e84ce8" stroke-width="1.7"/>
<path d="M929.48 1811.9 L925.18 1819.4 L933.78 1819.4 Z" fill="#f7b8f7" stroke="#e84ce8" stroke-width="1.7"/>
<path d="M973.73 1809.73 L969.43 1817.23 L978.03 1817.23 Z" fill="#f7b8f7" stroke="#e84ce8" stroke-width="1.7"/>
<path d="M1012.26 1821.45 L1007.96 1828.95 L1016.56 1828.95 Z" fill="#f7b8f7" stroke="#e84ce8" stroke-width="1.7"/>
<path d="M1004.19 1818 L999.89 1825.5 L1008.49 1825.5 Z" fill="#f7b8f7" stroke="#e84ce8" stroke-width="1.7"/>
<path d="M969.15 1813.61 L964.85 1821.11 L973.45 1821.11 Z" fill="#f7b8f7" stroke="#e84ce8" stroke-width="1.7"/>
<path d="M986.9 1808.71 L982.6 1816.21 L991.2 1816.21 Z" fill="#f7b8f7" stroke="#e84ce8" stroke-width="1.7"/>
<path d="M958.57 1817.63 L954.27 1825.13 L962.87 1825.13 Z" fill="#f7b8f7" stroke="#e84ce8" stroke-width="1.7"/>
<path d="M948.72 1806.5 L944.42 1814 L953.02 1814 Z" fill="#f7b8f7" stroke="#e84ce8" stroke-width="1.7"/>
<path d="M887.35 1800.96 L883.05 1808.46 L891.65 1808.46 Z" fill="#f7b8f7" stroke="#e84ce8" stroke-width="1.7"/>
<path d="M925.75 1814.84 L921.45 1822.34 L930.05 1822.34 Z" fill="#f7b8f7" stroke="#e84ce8" stroke-width="1.7"/>
<path d="M981.5 1818.61 L977.2 1826.11 L985.8 1826.11 Z" fill="#f7b8f7" stroke="#e84ce8" stroke-width="1.7"/>
<path d="M918.98 1824.65 L914.68 1832.15 L923.28 1832.15 Z" fill="#f7b8f7" stroke="#e84ce8" stroke-width="1.7"/>
<path d="M914.53 1818.66 L910.23 1826.16 L918.83 1826.16 Z" fill="#f7b8f7" stroke="#e84ce8" stroke-width="1.7"/>
<path d="M886.56 1819.71 L882.26 1827.21 L890.86 1827.21 Z" fill="#f7b8f7" stroke="#e84ce8" stroke-width="1.7"/>
<path d="M969.12 1825.43 L964.82 1832.93 L973.42 1832.93 Z" fill="#f7b8f7" stroke="#e84ce8" stroke-width="1.7"/>
<path d="M1000.5 1817.86 L996.2 1825.36 L1004.8 1825.36 Z" fill="#f7b8f7" stroke="#e84ce8" stroke-width="1.7"/>
<path d="M992.36 1819.29 L988.06 1826.79 L996.66 1826.79 Z" fill="#f7b8f7" stroke="#e84ce8" stroke-width="1.7"/>
<path d="M960.98 1804.38 L956.68 1811.88 L965.28 1811.88 Z" fill="#f7b8f7" stroke="#e84ce8" stroke-width="1.7"/>
<path d="M947.96 1823.72 L943.66 1831.22 L952.26 1831.22 Z" fill="#f7b8f7" stroke="#e84ce8" stroke-width="1.7"/>
<path d="M909.63 1825.93 L905.33 1833.43 L913.93 1833.43 Z" fill="#f7b8f7" stroke="#e84ce8" stroke-width="1.7"/>
<path d="M951.73 1809.57 L947.43 1817.07 L956.03 1817.07 Z" fill="#f7b8f7" stroke="#e84ce8" stroke-width="1.7"/>
<path d="M877.02 1809.48 L872.72 1816.98 L881.32 1816.98 Z" fill="#f7b8f7" stroke="#e84ce8" stroke-width="1.7"/>
<path d="M901.21 1816.88 L896.91 1824.38 L905.51 1824.38 Z" fill="#f7b8f7" stroke="#e84ce8" stroke-width="1.7"/>
<path d="M1000.82 1824.12 L996.52 1831.62 L1005.12 1831.62 Z" fill="#f7b8f7" stroke="#e84ce8" stroke-width="1.7"/>
<path d="M961.33 1809.38 L957.03 1816.88 L965.63 1816.88 Z" fill="#f7b8f7" stroke="#e84ce8" stroke-width="1.7"/>
<path d="M891.65 1817.89 L887.35 1825.39 L895.95 1825.39 Z" fill="#f7b8f7" stroke="#e84ce8" stroke-width="1.7"/>
<path d="M953.03 1818.63 L948.73 1826.13 L957.33 1826.13 Z" fill="#f7b8f7" stroke="#e84ce8" stroke-width="1.7"/>
<path d="M928.26 1823.46 L923.96 1830.96 L932.56 1830.96 Z" fill="#f7b8f7" stroke="#e84ce8" stroke-width="1.7"/>
<path d="M905.99 1807.1 L901.69 1814.6 L910.29 1814.6 Z" fill="#f7b8f7" stroke="#e84ce8" stroke-width="1.7"/>
<path d="M913.57 1816.01 L909.27 1823.51 L917.87 1823.51 Z" fill="#f7b8f7" stroke="#e84ce8" stroke-width="1.7"/>
<path d="M1000.51 1803.21 L996.21 1810.71 L1004.81 1810.71 Z" fill="#f7b8f7" stroke="#e84ce8" stroke-width="1.7"/>
<path d="M963.99 1820.07 L959.69 1827.57 L968.29 1827.57 Z" fill="#f7b8f7" stroke="#e84ce8" stroke-width="1.7"/>
<path d="M907.63 1800.27 L903.33 1807.77 L911.93 1807.77 Z" fill="#f7b8f7" stroke="#e84ce8" stroke-width="1.7"/>
<path d="M954.75 1821.87 L950.45 1829.37 L959.05 1829.37 Z" fill="#f7b8f7" stroke="#e84ce8" stroke-width="1.7"/>
<path d="M997.93 1818.99 L993.63 1826.49 L1002.23 1826.49 Z" fill="#f7b8f7" stroke="#e84ce8" stroke-width="1.7"/>
<path d="M934.17 1810.47 L929.87 1817.97 L938.47 1817.97 Z" fill="#f7b8f7" stroke="#e84ce8" stroke-width="1.7"/>
<path d="M949.63 1823.97 L945.33 1831.47 L953.93 1831.47 Z" fill="#f7b8f7" stroke="#e84ce8" stroke-width="1.7"/>
<path d="M918.36 1806.4 L914.06 1813.9 L922.66 1813.9 Z" fill="#f7b8f7" stroke="#e84ce8" stroke-width="1.7"/>
<path d="M960.2 1825.71 L955.9 1833.21 L964.5 1833.21 Z" fill="#f7b8f7" stroke="#e84ce8" stroke-width="1.7"/>
<path d="M902.47 1799.36 L898.17 1806.86 L906.77 1806.86 Z" fill="#f7b8f7" stroke="#e84ce8" stroke-width="1.7"/>
<path d="M892.58 1814.34 L888.28 1821.84 L896.88 1821.84 Z" fill="#f7b8f7" stroke="#e84ce8" stroke-width="1.7"/>
<path d="M959.94 1803.68 L955.64 1811.18 L964.24 1811.18 Z" fill="#f7b8f7" stroke="#e84ce8" stroke-width="1.7"/>
<path d="M902.89 1815.23 L898.59 1822.73 L907.19 1822.73 Z" fill="#f7b8f7" stroke="#e84ce8" stroke-width="1.7"/>
<path d="M965.86 1817.93 L961.56 1825.43 L970.16 1825.43 Z" fill="#f7b8f7" stroke="#e84ce8" stroke-width="1.7"/>
<path d="M977.27 1800.23 L972.97 1807.73 L981.57 1807.73 Z" fill="#f7b8f7" stroke="#e84ce8" stroke-width="1.7"/>
<path d="M943.54 1821.99 L939.24 1829.49 L947.84 1829.49 Z" fill="#f7b8f7" stroke="#e84ce8" stroke-width="1.7"/>
<path d="M1008.79 1807.46 L1004.49 1814.96 L1013.09 1814.96 Z" fill="#f7b8f7" stroke="#e84ce8" stroke-width="1.7"/>
<path d="M994.03 1816.66 L989.73 1824.16 L998.33 1824.16 Z" fill="#f7b8f7" stroke="#e84ce8" stroke-width="1.7"/>
<path d="M1004.58 1804.95 L1000.28 1812.45 L1008.88 1812.45 Z" fill="#f7b8f7" stroke="#e84ce8" stroke-width="1.7"/>
<path d="M972.83 1822.16 L968.53 1829.66 L977.13 1829.66 Z" fill="#f7b8f7" stroke="#e84ce8" stroke-width="1.7"/>
<path d="M942.44 1801.34 L938.14 1808.84 L946.74 1808.84 Z" fill="#f7b8f7" stroke="#e84ce8" stroke-width="1.7"/>
<path d="M903.34 1802.91 L899.04 1810.41 L907.64 1810.41 Z" fill="#f7b8f7" stroke="#e84ce8" stroke-width="1.7"/>
<path d="M889.43 1802.78 L885.13 1810.28 L893.73 1810.28 Z" fill="#f7b8f7" stroke="#e84ce8" stroke-width="1.7"/>
<path d="M961.64 1801.45 L957.34 1808.95 L965.94 1808.95 Z" fill="#f7b8f7" stroke="#e84ce8" stroke-width="1.7"/>
<path d="M981.29 1819.22 L976.99 1826.72 L985.59 1826.72 Z" fill="#f7b8f7" stroke="#e84ce8" stroke-width="1.7"/>
<path d="M989.34 1821.12 L985.04 1828.62 L993.64 1828.62 Z" fill="#f7b8f7" stroke="#e84ce8" stroke-width="1.7"/>
<path d="M975.08 1824.51 L970.78 1832.01 L979.38 1832.01 Z" fill="#f7b8f7" stroke="#e84ce8" stroke-width="1.7"/>
<path d="M1008.75 1816.1 L1004.45 1823.6 L1013.05 1823.6 Z" fill="#f7b8f7" stroke="#e84ce8" stroke-width="1.7"/>
<path d="M1009.88 1801.41 L1005.58 1808.91 L1014.18 1808.91 Z" fill="#f7b8f7" stroke="#e84ce8" stroke-width="1.7"/>
<path d="M890.82 1800.32 L886.52 1807.82 L895.12 1807.82 Z" fill="#f7b8f7" stroke="#e84ce8" stroke-width="1.7"/>
<path d="M905.12 1809.04 L900.82 1816.54 L909.42 1816.54 Z" fill="#f7b8f7" stroke="#e84ce8" stroke-width="1.7"/>
<path d="M939.95 1817.65 L935.65 1825.15 L944.25 1825.15 Z" fill="#f7b8f7" stroke="#e84ce8" stroke-width="1.7"/>
<path d="M979.2 1800.86 L974.9 1808.36 L983.5 1808.36 Z" fill="#f7b8f7" stroke="#e84ce8" stroke-width="1.7"/>
<path d="M932.3 1813.8 L928 1821.3 L936.6 1821.3 Z" fill="#f7b8f7" stroke="#e84ce8" stroke-width="1.7"/>
<path d="M928.42 1801.81 L924.12 1809.31 L932.72 1809.31 Z" fill="#f7b8f7" stroke="#e84ce8" stroke-width="1.7"/>
<path d="M959.06 1809.04 L954.76 1816.54 L963.36 1816.54 Z" fill="#f7b8f7" stroke="#e84ce8" stroke-width="1.7"/>
<path d="M971.02 1812.45 L966.72 1819.95 L975.32 1819.95 Z" fill="#f7b8f7" stroke="#e84ce8" stroke-width="1.7"/>
<path d="M1009.55 1825.1 L1005.25 1832.6 L1013.85 1832.6 Z" fill="#f7b8f7" stroke="#e84ce8" stroke-width="1.7"/>
<path d="M886.58 1819.89 L882.28 1827.39 L890.88 1827.39 Z" fill="#f7b8f7" stroke="#e84ce8" stroke-width="1.7"/>
<path d="M976.21 1806.83 L971.91 1814.33 L980.51 1814.33 Z" fill="#f7b8f7" stroke="#e84ce8" stroke-width="1.7"/>
<path d="M892.75 1811.98 L888.45 1819.48 L897.05 1819.48 Z" fill="#f7b8f7" stroke="#e84ce8" stroke-width="1.7"/>
<path d="M925.51 1819.25 L921.21 1826.75 L929.81 1826.75 Z" fill="#f7b8f7" stroke="#e84ce8" stroke-width="1.7"/>
<path d="M1003.43 1809.26 L999.13 1816.76 L1007.73 1816.76 Z" fill="#f7b8f7" stroke="#e84ce8" stroke-width="1.7"/>
<path d="M916.74 1812.54 L912.44 1820.04 L921.04 1820.04 Z" fill="#f7b8f7" stroke="#e84ce8" stroke-width="1.7"/>
<path d="M972.84 1820.71 L968.54 1828.21 L977.14 1828.21 Z" fill="#f7b8f7" stroke="#e84ce8" stroke-width="1.7"/>
<path d="M956.11 1806.83 L951.81 1814.33 L960.41 1814.33 Z" fill="#f7b8f7" stroke="#e84ce8" stroke-width="1.7"/>
<path d="M923.14 1822.37 L918.84 1829.87 L927.44 1829.87 Z" fill="#f7b8f7" stroke="#e84ce8" stroke-width="1.7"/>
<path d="M948.31 1799.92 L944.01 1807.42 L952.61 1807.42 Z" fill="#f7b8f7" stroke="#e84ce8" stroke-width="1.7"/>
<path d="M934.71 1805.2 L930.41 1812.7 L939.01 1812.7 Z" fill="#f7b8f7" stroke="#e84ce8" stroke-width="1.7"/>
<path d="M968.6 1800.57 L964.3 1808.07 L972.9 1808.07 Z" fill="#f7b8f7" stroke="#e84ce8" stroke-width="1.7"/>
<path d="M914.04 1801.2 L909.74 1808.7 L918.34 1808.7 Z" fill="#f7b8f7" stroke="#e84ce8" stroke-width="1.7"/>
<path d="M942.56 1826.21 L938.26 1833.71 L946.86 1833.71 Z" fill="#f7b8f7" stroke="#e84ce8" stroke-width="1.7"/>
<path d="M951.37 1809.37 L947.07 1816.87 L955.67 1816.87 Z" fill="#f7b8f7" stroke="#e84ce8" stroke-width="1.7"/>
<path d="M1005.57 1801.09 L1001.27 1808.59 L1009.87 1808.59 Z" fill="#f7b8f7" stroke="#e84ce8" stroke-width="1.7"/>
<path d="M925.74 1821.32 L921.44 1828.82 L930.04 1828.82 Z" fill="#f7b8f7" stroke="#e84ce8" stroke-width="1.7"/>
<path d="M877.32 1820.06 L873.02 1827.56 L881.62 1827.56 Z" fill="#f7b8f7" stroke="#e84ce8" stroke-width="1.7"/>
<path d="M926.47 1798.96 L922.17 1806.46 L930.77 1806.46 Z" fill="#f7b8f7" stroke="#e84ce8" stroke-width="1.7"/>
<path d="M911.25 1811.4 L906.95 1818.9 L915.55 1818.9 Z" fill="#f7b8f7" stroke="#e84ce8" stroke-width="1.7"/>
<path d="M929.47 1813.05 L925.17 1820.55 L933.77 1820.55 Z" fill="#f7b8f7" stroke="#e84ce8" stroke-width="1.7"/>
<path d="M883.95 1804.65 L879.65 1812.15 L888.25 1812.15 Z" fill="#f7b8f7" stroke="#e84ce8" stroke-width="1.7"/>
<path d="M1011.15 1810.96 L1006.85 1818.46 L1015.45 1818.46 Z" fill="#f7b8f7" stroke="#e84ce8" stroke-width="1.7"/>
<path d="M941.77 1800.9 L937.47 1808.4 L946.07 1808.4 Z" fill="#f7b8f7" stroke="#e84ce8" stroke-width="1.7"/>
<path d="M915.16 1825.37 L910.86 1832.87 L919.46 1832.87 Z" fill="#f7b8f7" stroke="#e84ce8" stroke-width="1.7"/>
<path d="M971.49 1812.79 L967.19 1820.29 L975.79 1820.29 Z" fill="#f7b8f7" stroke="#e84ce8" stroke-width="1.7"/>
<path d="M883.93 1809.56 L879.63 1817.06 L888.23 1817.06 Z" fill="#f7b8f7" stroke="#e84ce8" stroke-width="1.7"/>
<path d="M984.1 1810.74 L979.8 1818.24 L988.4 1818.24 Z" fill="#f7b8f7" stroke="#e84ce8" stroke-width="1.7"/>
<path d="M958.57 1823.9 L954.27 1831.4 L962.87 1831.4 Z" fill="#f7b8f7" stroke="#e84ce8" stroke-width="1.7"/>
<path d="M965.7 1816.4 L961.4 1823.9 L970 1823.9 Z" fill="#f7b8f7" stroke="#e84ce8" stroke-width="1.7"/>
<path d="M881.59 1799.17 L877.29 1806.67 L885.89 1806.67 Z" fill="#f7b8f7" stroke="#e84ce8" stroke-width="1.7"/>
<path d="M982.88 1810.13 L978.58 1817.63 L987.18 1817.63 Z" fill="#f7b8f7" stroke="#e84ce8" stroke-width="1.7"/>
<path d="M997.33 1821.74 L993.03 1829.24 L1001.63 1829.24 Z" fill="#f7b8f7" stroke="#e84ce8" stroke-width="1.7"/>
<path d="M1003.01 1809.16 L998.71 1816.66 L1007.31 1816.66 Z" fill="#f7b8f7" stroke="#e84ce8" stroke-width="1.7"/>
<path d="M1014.57 1819.79 L1010.27 1827.29 L1018.87 1827.29 Z" fill="#f7b8f7" stroke="#e84ce8" stroke-width="1.7"/>
<path d="M999.75 1802.67 L995.45 1810.17 L1004.05 1810.17 Z" fill="#f7b8f7" stroke="#e84ce8" stroke-width="1.7"/>
<path d="M984.45 1810.38 L980.15 1817.88 L988.75 1817.88 Z" fill="#f7b8f7" stroke="#e84ce8" stroke-width="1.7"/>
<path d="M1010.84 1826.48 L1006.54 1833.98 L1015.14 1833.98 Z" fill="#f7b8f7" stroke="#e84ce8" stroke-width="1.7"/>
<path d="M906.54 1810.36 L902.24 1817.86 L910.84 1817.86 Z" fill="#f7b8f7" stroke="#e84ce8" stroke-width="1.7"/>
<path d="M914.02 1811.73 L909.72 1819.23 L918.32 1819.23 Z" fill="#f7b8f7" stroke="#e84ce8" stroke-width="1.7"/>
<path d="M916.18 1817.26 L911.88 1824.76 L920.48 1824.76 Z" fill="#f7b8f7" stroke="#e84ce8" stroke-width="1.7"/>
<path d="M893.64 1803.27 L889.34 1810.77 L897.94 1810.77 Z" fill="#f7b8f7" stroke="#e84ce8" stroke-width="1.7"/>
<path d="M939.81 1800.58 L935.51 1808.08 L944.11 1808.08 Z" fill="#f7b8f7" stroke="#e84ce8" stroke-width="1.7"/>
<path d="M929.25 1823.76 L924.95 1831.26 L933.55 1831.26 Z" fill="#f7b8f7" stroke="#e84ce8" stroke-width="1.7"/>
<path d="M998.86 1804.03 L994.56 1811.53 L1003.16 1811.53 Z" fill="#f7b8f7" stroke="#e84ce8" stroke-width="1.7"/>
<path d="M879.17 1821.81 L874.87 1829.31 L883.47 1829.31 Z" fill="#f7b8f7" stroke="#e84ce8" stroke-width="1.7"/>
<path d="M1009.28 1815.36 L1004.98 1822.86 L1013.58 1822.86 Z" fill="#f7b8f7" stroke="#e84ce8" stroke-width="1.7"/>
<path d="M895.44 1805.16 L891.14 1812.66 L899.74 1812.66 Z" fill="#f7b8f7" stroke="#e84ce8" stroke-width="1.7"/>
<path d="M1003.67 1824.89 L999.37 1832.39 L1007.97 1832.39 Z" fill="#f7b8f7" stroke="#e84ce8" stroke-width="1.7"/>
<path d="M880.91 1803.7 L876.61 1811.2 L885.21 1811.2 Z" fill="#f7b8f7" stroke="#e84ce8" stroke-width="1.7"/>
<path d="M935.85 1806.01 L931.55 1813.51 L940.15 1813.51 Z" fill="#f7b8f7" stroke="#e84ce8" stroke-width="1.7"/>
<path d="M980.71 1809 L976.41 1816.5 L985.01 1816.5 Z" fill="#f7b8f7" stroke="#e84ce8" stroke-width="1.7"/>
<path d="M983.65 1802.78 L979.35 1810.28 L987.95 1810.28 Z" fill="#f7b8f7" stroke="#e84ce8" stroke-width="1.7"/>
<path d="M948.18 1825.94 L943.88 1833.44 L952.48 1833.44 Z" fill="#f7b8f7" stroke="#e84ce8" stroke-width="1.7"/>
<path d="M973.55 1801.04 L969.25 1808.54 L977.85 1808.54 Z" fill="#f7b8f7" stroke="#e84ce8" stroke-width="1.7"/>
<path d="M891.94 1816.61 L887.64 1824.11 L896.24 1824.11 Z" fill="#f7b8f7" stroke="#e84ce8" stroke-width="1.7"/>
<path d="M928.39 1808.88 L924.09 1816.38 L932.69 1816.38 Z" fill="#f7b8f7" stroke="#e84ce8" stroke-width="1.7"/>
<path d="M942.57 1814.87 L938.27 1822.37 L946.87 1822.37 Z" fill="#f7b8f7" stroke="#e84ce8" stroke-width="1.7"/>
<path d="M1009.98 1805.28 L1005.68 1812.78 L1014.28 1812.78 Z" fill="#f7b8f7" stroke="#e84ce8" stroke-width="1.7"/>
<path d="M955.14 1805.91 L950.84 1813.41 L959.44 1813.41 Z" fill="#f7b8f7" stroke="#e84ce8" stroke-width="1.7"/>
<path d="M951.92 1819.09 L947.62 1826.59 L956.22 1826.59 Z" fill="#f7b8f7" stroke="#e84ce8" stroke-width="1.7"/>
<path d="M895.06 1812.04 L890.76 1819.54 L899.36 1819.54 Z" fill="#f7b8f7" stroke="#e84ce8" stroke-width="1.7"/>
<path d="M974.07 1798.73 L969.77 1806.23 L978.37 1806.23 Z" fill="#f7b8f7" stroke="#e84ce8" stroke-width="1.7"/>
<path d="M990.54 1776.52 L986.24 1784.02 L994.84 1784.02 Z" fill="#f7b8f7" stroke="#e84ce8" stroke-width="1.7"/>
<path d="M962.37 1783.77 L958.07 1791.27 L966.67 1791.27 Z" fill="#f7b8f7" stroke="#e84ce8" stroke-width="1.7"/>
<path d="M992.84 1762.8 L988.54 1770.3 L997.14 1770.3 Z" fill="#f7b8f7" stroke="#e84ce8" stroke-width="1.7"/>
<path d="M961.98 1762.13 L957.68 1769.63 L966.28 1769.63 Z" fill="#f7b8f7" stroke="#e84ce8" stroke-width="1.7"/>
<path d="M949.84 1773.76 L945.54 1781.26 L954.14 1781.26 Z" fill="#f7b8f7" stroke="#e84ce8" stroke-width="1.7"/>
<path d="M911.41 1771.94 L907.11 1779.44 L915.71 1779.44 Z" fill="#f7b8f7" stroke="#e84ce8" stroke-width="1.7"/>
<path d="M956.65 1785.45 L952.35 1792.95 L960.95 1792.95 Z" fill="#f7b8f7" stroke="#e84ce8" stroke-width="1.7"/>
<path d="M1006.76 1774.69 L1002.46 1782.19 L1011.06 1782.19 Z" fill="#f7b8f7" stroke="#e84ce8" stroke-width="1.7"/>
<path d="M965.1 1787.66 L960.8 1795.16 L969.4 1795.16 Z" fill="#f7b8f7" stroke="#e84ce8" stroke-width="1.7"/>
<path d="M1008.08 1796.6 L1003.78 1804.1 L1012.38 1804.1 Z" fill="#f7b8f7" stroke="#e84ce8" stroke-width="1.7"/>
<path d="M1013.43 1772.1 L1009.13 1779.6 L1017.73 1779.6 Z" fill="#f7b8f7" stroke="#e84ce8" stroke-width="1.7"/>
<path d="M926.74 1795.93 L922.44 1803.43 L931.04 1803.43 Z" fill="#f7b8f7" stroke="#e84ce8" stroke-width="1.7"/>
<path d="M917.32 1777.65 L913.02 1785.15 L921.62 1785.15 Z" fill="#f7b8f7" stroke="#e84ce8" stroke-width="1.7"/>
<path d="M986.86 1780.68 L982.56 1788.18 L991.16 1788.18 Z" fill="#f7b8f7" stroke="#e84ce8" stroke-width="1.7"/>
<path d="M950.18 1795.65 L945.88 1803.15 L954.48 1803.15 Z" fill="#f7b8f7" stroke="#e84ce8" stroke-width="1.7"/>
<path d="M940.73 1781.55 L936.43 1789.05 L945.03 1789.05 Z" fill="#f7b8f7" stroke="#e84ce8" stroke-width="1.7"/>
<path d="M996.72 1765.9 L992.42 1773.4 L1001.02 1773.4 Z" fill="#f7b8f7" stroke="#e84ce8" stroke-width="1.7"/>
<path d="M946.2 1779.38 L941.9 1786.88 L950.5 1786.88 Z" fill="#f7b8f7" stroke="#e84ce8" stroke-width="1.7"/>
<path d="M968.88 1768.53 L964.58 1776.03 L973.18 1776.03 Z" fill="#f7b8f7" stroke="#e84ce8" stroke-width="1.7"/>
<path d="M957.06 1762.95 L952.76 1770.45 L961.36 1770.45 Z" fill="#f7b8f7" stroke="#e84ce8" stroke-width="1.7"/>
<path d="M918.44 1773.62 L914.14 1781.12 L922.74 1781.12 Z" fill="#f7b8f7" stroke="#e84ce8" stroke-width="1.7"/>
<path d="M924.33 1797.27 L920.03 1804.77 L928.63 1804.77 Z" fill="#f7b8f7" stroke="#e84ce8" stroke-width="1.7"/>
<path d="M936.94 1771.11 L932.64 1778.61 L941.24 1778.61 Z" fill="#f7b8f7" stroke="#e84ce8" stroke-width="1.7"/>
<path d="M991.87 1788.71 L987.57 1796.21 L996.17 1796.21 Z" fill="#f7b8f7" stroke="#e84ce8" stroke-width="1.7"/>
<path d="M936.82 1792.04 L932.52 1799.54 L941.12 1799.54 Z" fill="#f7b8f7" stroke="#e84ce8" stroke-width="1.7"/>
<path d="M975.2 1775.38 L970.9 1782.88 L979.5 1782.88 Z" fill="#f7b8f7" stroke="#e84ce8" stroke-width="1.7"/>
<path d="M975.52 1769.98 L971.22 1777.48 L979.82 1777.48 Z" fill="#f7b8f7" stroke="#e84ce8" stroke-width="1.7"/>
<path d="M936.95 1793.83 L932.65 1801.33 L941.25 1801.33 Z" fill="#f7b8f7" stroke="#e84ce8" stroke-width="1.7"/>
<path d="M955.45 1794.62 L951.15 1802.12 L959.75 1802.12 Z" fill="#f7b8f7" stroke="#e84ce8" stroke-width="1.7"/>
<path d="M927.83 1765.88 L923.53 1773.38 L932.13 1773.38 Z" fill="#f7b8f7" stroke="#e84ce8" stroke-width="1.7"/>
<path d="M914.64 1788.66 L910.34 1796.16 L918.94 1796.16 Z" fill="#f7b8f7" stroke="#e84ce8" stroke-width="1.7"/>
<path d="M968.39 1761.05 L964.09 1768.55 L972.69 1768.55 Z" fill="#f7b8f7" stroke="#e84ce8" stroke-width="1.7"/>
<path d="M913.72 1791.85 L909.42 1799.35 L918.02 1799.35 Z" fill="#f7b8f7" stroke="#e84ce8" stroke-width="1.7"/>
<path d="M961.33 1793.64 L957.03 1801.14 L965.63 1801.14 Z" fill="#f7b8f7" stroke="#e84ce8" stroke-width="1.7"/>
<path d="M913.35 1782.95 L909.05 1790.45 L917.65 1790.45 Z" fill="#f7b8f7" stroke="#e84ce8" stroke-width="1.7"/>
<path d="M921.55 1787.96 L917.25 1795.46 L925.85 1795.46 Z" fill="#f7b8f7" stroke="#e84ce8" stroke-width="1.7"/>
<path d="M973.68 1783.83 L969.38 1791.33 L977.98 1791.33 Z" fill="#f7b8f7" stroke="#e84ce8" stroke-width="1.7"/>
<path d="M932.54 1796.57 L928.24 1804.07 L936.84 1804.07 Z" fill="#f7b8f7" stroke="#e84ce8" stroke-width="1.7"/>
<path d="M920.87 1763.11 L916.57 1770.61 L925.17 1770.61 Z" fill="#f7b8f7" stroke="#e84ce8" stroke-width="1.7"/>
<path d="M981.35 1764.19 L977.05 1771.69 L985.65 1771.69 Z" fill="#f7b8f7" stroke="#e84ce8" stroke-width="1.7"/>
<path d="M916.21 1778.09 L911.91 1785.59 L920.51 1785.59 Z" fill="#f7b8f7" stroke="#e84ce8" stroke-width="1.7"/>
<path d="M977.64 1794.42 L973.34 1801.92 L981.94 1801.92 Z" fill="#f7b8f7" stroke="#e84ce8" stroke-width="1.7"/>
<path d="M985.24 1763.31 L980.94 1770.81 L989.54 1770.81 Z" fill="#f7b8f7" stroke="#e84ce8" stroke-width="1.7"/>
<path d="M977.03 1792.59 L972.73 1800.09 L981.33 1800.09 Z" fill="#f7b8f7" stroke="#e84ce8" stroke-width="1.7"/>
<path d="M921.88 1789.22 L917.58 1796.72 L926.18 1796.72 Z" fill="#f7b8f7" stroke="#e84ce8" stroke-width="1.7"/>
<path d="M936.45 1771.98 L932.15 1779.48 L940.75 1779.48 Z" fill="#f7b8f7" stroke="#e84ce8" stroke-width="1.7"/>
<path d="M909.31 1789.36 L905.01 1796.86 L913.61 1796.86 Z" fill="#f7b8f7" stroke="#e84ce8" stroke-width="1.7"/>
<path d="M963.59 1794.79 L959.29 1802.29 L967.89 1802.29 Z" fill="#f7b8f7" stroke="#e84ce8" stroke-width="1.7"/>
<path d="M958.29 1766.56 L953.99 1774.06 L962.59 1774.06 Z" fill="#f7b8f7" stroke="#e84ce8" stroke-width="1.7"/>
<path d="M932 1770.64 L927.7 1778.14 L936.3 1778.14 Z" fill="#f7b8f7" stroke="#e84ce8" stroke-width="1.7"/>
<path d="M1009.08 1768.45 L1004.78 1775.95 L1013.38 1775.95 Z" fill="#f7b8f7" stroke="#e84ce8" stroke-width="1.7"/>
<path d="M918.46 1774.02 L914.16 1781.52 L922.76 1781.52 Z" fill="#f7b8f7" stroke="#e84ce8" stroke-width="1.7"/>
<path d="M917.51 1776.76 L913.21 1784.26 L921.81 1784.26 Z" fill="#f7b8f7" stroke="#e84ce8" stroke-width="1.7"/>
<path d="M974.76 1785.29 L970.46 1792.79 L979.06 1792.79 Z" fill="#f7b8f7" stroke="#e84ce8" stroke-width="1.7"/>
<path d="M927.61 1765.93 L923.31 1773.43 L931.91 1773.43 Z" fill="#f7b8f7" stroke="#e84ce8" stroke-width="1.7"/>
<path d="M961 1786.67 L956.7 1794.17 L965.3 1794.17 Z" fill="#f7b8f7" stroke="#e84ce8" stroke-width="1.7"/>
<path d="M956.35 1782.36 L952.05 1789.86 L960.65 1789.86 Z" fill="#f7b8f7" stroke="#e84ce8" stroke-width="1.7"/>
<path d="M1005.42 1766.17 L1001.12 1773.67 L1009.72 1773.67 Z" fill="#f7b8f7" stroke="#e84ce8" stroke-width="1.7"/>
<path d="M937.42 1779.36 L933.12 1786.86 L941.72 1786.86 Z" fill="#f7b8f7" stroke="#e84ce8" stroke-width="1.7"/>
<path d="M965.74 1794.73 L961.44 1802.23 L970.04 1802.23 Z" fill="#f7b8f7" stroke="#e84ce8" stroke-width="1.7"/>
<path d="M967.76 1785.73 L963.46 1793.23 L972.06 1793.23 Z" fill="#f7b8f7" stroke="#e84ce8" stroke-width="1.7"/>
<path d="M953.44 1790.34 L949.14 1797.84 L957.74 1797.84 Z" fill="#f7b8f7" stroke="#e84ce8" stroke-width="1.7"/>
<path d="M997.38 1771.79 L993.08 1779.29 L1001.68 1779.29 Z" fill="#f7b8f7" stroke="#e84ce8" stroke-width="1.7"/>
<path d="M920.54 1770.49 L916.24 1777.99 L924.84 1777.99 Z" fill="#f7b8f7" stroke="#e84ce8" stroke-width="1.7"/>
<path d="M946.89 1794.33 L942.59 1801.83 L951.19 1801.83 Z" fill="#f7b8f7" stroke="#e84ce8" stroke-width="1.7"/>
<path d="M937.08 1784.49 L932.78 1791.99 L941.38 1791.99 Z" fill="#f7b8f7" stroke="#e84ce8" stroke-width="1.7"/>
<path d="M976.77 1796.85 L972.47 1804.35 L981.07 1804.35 Z" fill="#f7b8f7" stroke="#e84ce8" stroke-width="1.7"/>
<path d="M921.45 1789.8 L917.15 1797.3 L925.75 1797.3 Z" fill="#f7b8f7" stroke="#e84ce8" stroke-width="1.7"/>
<path d="M944.66 1764.58 L940.36 1772.08 L948.96 1772.08 Z" fill="#f7b8f7" stroke="#e84ce8" stroke-width="1.7"/>
<path d="M975.86 1792.62 L971.56 1800.12 L980.16 1800.12 Z" fill="#f7b8f7" stroke="#e84ce8" stroke-width="1.7"/>
<path d="M932.02 1710.55 L927.72 1718.05 L936.32 1718.05 Z" fill="#f7b8f7" stroke="#e84ce8" stroke-width="1.7"/>
<path d="M916.19 1720.23 L911.89 1727.73 L920.49 1727.73 Z" fill="#f7b8f7" stroke="#e84ce8" stroke-width="1.7"/>
<path d="M926.75 1725.5 L922.45 1733 L931.05 1733 Z" fill="#f7b8f7" stroke="#e84ce8" stroke-width="1.7"/>
<path d="M945.22 1725.15 L940.92 1732.65 L949.52 1732.65 Z" fill="#f7b8f7" stroke="#e84ce8" stroke-width="1.7"/>
<path d="M976.88 1730.78 L972.58 1738.28 L981.18 1738.28 Z" fill="#f7b8f7" stroke="#e84ce8" stroke-width="1.7"/>
<path d="M880.13 1745.73 L875.83 1753.23 L884.43 1753.23 Z" fill="#f7b8f7" stroke="#e84ce8" stroke-width="1.7"/>
<path d="M900.01 1755.76 L895.71 1763.26 L904.31 1763.26 Z" fill="#f7b8f7" stroke="#e84ce8" stroke-width="1.7"/>
<path d="M922.35 1750.13 L918.05 1757.63 L926.65 1757.63 Z" fill="#f7b8f7" stroke="#e84ce8" stroke-width="1.7"/>
<path d="M932.02 1748.02 L927.72 1755.52 L936.32 1755.52 Z" fill="#f7b8f7" stroke="#e84ce8" stroke-width="1.7"/>
<path d="M973.36 1748.37 L969.06 1755.87 L977.66 1755.87 Z" fill="#f7b8f7" stroke="#e84ce8" stroke-width="1.7"/>
<path d="M958.06 1752.77 L953.76 1760.27 L962.36 1760.27 Z" fill="#f7b8f7" stroke="#e84ce8" stroke-width="1.7"/>
<path d="M910.91 1771.59 L906.61 1779.09 L915.21 1779.09 Z" fill="#f7b8f7" stroke="#e84ce8" stroke-width="1.7"/>
<path d="M889.45 1775.64 L885.15 1783.14 L893.75 1783.14 Z" fill="#f7b8f7" stroke="#e84ce8" stroke-width="1.7"/>
<path d="M895.08 1791.99 L890.78 1799.49 L899.38 1799.49 Z" fill="#f7b8f7" stroke="#e84ce8" stroke-width="1.7"/>
<path d="M1074.5 1718.12 L1070.2 1725.62 L1078.8 1725.62 Z" fill="#f7b8f7" stroke="#e84ce8" stroke-width="1.7"/>
<path d="M1012.06 1769.13 L1007.76 1776.63 L1016.36 1776.63 Z" fill="#f7b8f7" stroke="#e84ce8" stroke-width="1.7"/>
<path d="M1011.18 1778.63 L1006.88 1786.13 L1015.48 1786.13 Z" fill="#f7b8f7" stroke="#e84ce8" stroke-width="1.7"/>
<path d="M1022.61 1784.43 L1018.31 1791.93 L1026.91 1791.93 Z" fill="#f7b8f7" stroke="#e84ce8" stroke-width="1.7"/>
<path d="M1056.91 1774.4 L1052.61 1781.9 L1061.21 1781.9 Z" fill="#f7b8f7" stroke="#e84ce8" stroke-width="1.7"/>
<path d="M1042.84 1793.75 L1038.54 1801.25 L1047.14 1801.25 Z" fill="#f7b8f7" stroke="#e84ce8" stroke-width="1.7"/>
<path d="M1049 1791.47 L1044.7 1798.97 L1053.3 1798.97 Z" fill="#f7b8f7" stroke="#e84ce8" stroke-width="1.7"/>
<path d="M1068.35 1794.98 L1064.05 1802.48 L1072.65 1802.48 Z" fill="#f7b8f7" stroke="#e84ce8" stroke-width="1.7"/>
<path d="M1071.86 1793.23 L1067.56 1800.73 L1076.16 1800.73 Z" fill="#f7b8f7" stroke="#e84ce8" stroke-width="1.7"/>
<path d="M1022.61 1808.18 L1018.31 1815.68 L1026.91 1815.68 Z" fill="#f7b8f7" stroke="#e84ce8" stroke-width="1.7"/>
<path d="M1027.89 1804.66 L1023.59 1812.16 L1032.19 1812.16 Z" fill="#f7b8f7" stroke="#e84ce8" stroke-width="1.7"/>
<path d="M1051.64 1806.07 L1047.34 1813.57 L1055.94 1813.57 Z" fill="#f7b8f7" stroke="#e84ce8" stroke-width="1.7"/>
<path d="M1063.95 1813.1 L1059.65 1820.6 L1068.25 1820.6 Z" fill="#f7b8f7" stroke="#e84ce8" stroke-width="1.7"/>
<path d="M1078.9 1809.58 L1074.6 1817.08 L1083.2 1817.08 Z" fill="#f7b8f7" stroke="#e84ce8" stroke-width="1.7"/>
<path d="M1092.09 1811.69 L1087.79 1819.19 L1096.39 1819.19 Z" fill="#f7b8f7" stroke="#e84ce8" stroke-width="1.7"/>
<path d="M1094.73 1815.21 L1090.43 1822.71 L1099.03 1822.71 Z" fill="#f7b8f7" stroke="#e84ce8" stroke-width="1.7"/>
<path d="M1038.44 1827.17 L1034.14 1834.67 L1042.74 1834.67 Z" fill="#f7b8f7" stroke="#e84ce8" stroke-width="1.7"/>
<path d="M1048.12 1825.77 L1043.82 1833.27 L1052.42 1833.27 Z" fill="#f7b8f7" stroke="#e84ce8" stroke-width="1.7"/>
<path d="M1065.71 1825.77 L1061.41 1833.27 L1070.01 1833.27 Z" fill="#f7b8f7" stroke="#e84ce8" stroke-width="1.7"/>
<path d="M1092.09 1827.17 L1087.79 1834.67 L1096.39 1834.67 Z" fill="#f7b8f7" stroke="#e84ce8" stroke-width="1.7"/>
<path d="M1100.01 1825.77 L1095.71 1833.27 L1104.31 1833.27 Z" fill="#f7b8f7" stroke="#e84ce8" stroke-width="1.7"/>
<path d="M1102.3 1825.42 L1098 1832.92 L1106.6 1832.92 Z" fill="#f7b8f7" stroke="#e84ce8" stroke-width="1.7"/>
<path d="M1034.93 1818.73 L1030.63 1826.23 L1039.23 1826.23 Z" fill="#f7b8f7" stroke="#e84ce8" stroke-width="1.7"/>
<path d="M881.89 1816.97 L877.59 1824.47 L886.19 1824.47 Z" fill="#f7b8f7" stroke="#e84ce8" stroke-width="1.7"/>
<path d="M938.18 1825.77 L933.88 1833.27 L942.48 1833.27 Z" fill="#f7b8f7" stroke="#e84ce8" stroke-width="1.7"/>
<circle cx="885.94" cy="1718.47" r="3.7" fill="#c9f2dc" stroke="#1e8a58" stroke-width="2"/>
<circle cx="923.23" cy="1717.06" r="3.7" fill="#c9f2dc" stroke="#1e8a58" stroke-width="2"/>
<circle cx="943.46" cy="1714.95" r="3.7" fill="#c9f2dc" stroke="#1e8a58" stroke-width="2"/>
<circle cx="959.29" cy="1721.11" r="3.7" fill="#c9f2dc" stroke="#1e8a58" stroke-width="2"/>
<circle cx="983.91" cy="1722.87" r="3.7" fill="#c9f2dc" stroke="#1e8a58" stroke-width="2"/>
<circle cx="898.6" cy="1733.07" r="3.7" fill="#c9f2dc" stroke="#1e8a58" stroke-width="2"/>
<circle cx="907.04" cy="1733.07" r="3.7" fill="#c9f2dc" stroke="#1e8a58" stroke-width="2"/>
<circle cx="937.3" cy="1726.39" r="3.7" fill="#c9f2dc" stroke="#1e8a58" stroke-width="2"/>
<circle cx="939.06" cy="1731.31" r="3.7" fill="#c9f2dc" stroke="#1e8a58" stroke-width="2"/>
<circle cx="954.01" cy="1727.26" r="3.7" fill="#c9f2dc" stroke="#1e8a58" stroke-width="2"/>
<circle cx="951.37" cy="1736.06" r="3.7" fill="#c9f2dc" stroke="#1e8a58" stroke-width="2"/>
<circle cx="925.87" cy="1736.94" r="3.7" fill="#c9f2dc" stroke="#1e8a58" stroke-width="2"/>
<circle cx="938.18" cy="1740.46" r="3.7" fill="#c9f2dc" stroke="#1e8a58" stroke-width="2"/>
<circle cx="951.37" cy="1745.38" r="3.7" fill="#c9f2dc" stroke="#1e8a58" stroke-width="2"/>
<circle cx="929.38" cy="1746.61" r="3.7" fill="#c9f2dc" stroke="#1e8a58" stroke-width="2"/>
<circle cx="899.48" cy="1751.89" r="3.7" fill="#c9f2dc" stroke="#1e8a58" stroke-width="2"/>
<circle cx="904.76" cy="1748.37" r="3.7" fill="#c9f2dc" stroke="#1e8a58" stroke-width="2"/>
<circle cx="910.91" cy="1746.61" r="3.7" fill="#c9f2dc" stroke="#1e8a58" stroke-width="2"/>
<circle cx="910.04" cy="1754.88" r="3.7" fill="#c9f2dc" stroke="#1e8a58" stroke-width="2"/>
<circle cx="881.54" cy="1758.4" r="3.7" fill="#c9f2dc" stroke="#1e8a58" stroke-width="2"/>
<circle cx="958.41" cy="1755.94" r="3.7" fill="#c9f2dc" stroke="#1e8a58" stroke-width="2"/>
<circle cx="1004.14" cy="1756.64" r="3.7" fill="#c9f2dc" stroke="#1e8a58" stroke-width="2"/>
<circle cx="1002.38" cy="1761.57" r="3.7" fill="#c9f2dc" stroke="#1e8a58" stroke-width="2"/>
<circle cx="990.07" cy="1761.57" r="3.7" fill="#c9f2dc" stroke="#1e8a58" stroke-width="2"/>
<circle cx="937.83" cy="1762.09" r="3.7" fill="#c9f2dc" stroke="#1e8a58" stroke-width="2"/>
<circle cx="964.56" cy="1768.6" r="3.7" fill="#c9f2dc" stroke="#1e8a58" stroke-width="2"/>
<circle cx="1037.56" cy="1765.44" r="3.7" fill="#c9f2dc" stroke="#1e8a58" stroke-width="2"/>
<circle cx="904.76" cy="1768.6" r="3.7" fill="#c9f2dc" stroke="#1e8a58" stroke-width="2"/>
<circle cx="922" cy="1770.01" r="3.7" fill="#c9f2dc" stroke="#1e8a58" stroke-width="2"/>
<circle cx="918.3" cy="1777.04" r="3.7" fill="#c9f2dc" stroke="#1e8a58" stroke-width="2"/>
<circle cx="939.94" cy="1772.47" r="3.7" fill="#c9f2dc" stroke="#1e8a58" stroke-width="2"/>
<circle cx="947.5" cy="1775.64" r="3.7" fill="#c9f2dc" stroke="#1e8a58" stroke-width="2"/>
<circle cx="949.61" cy="1781.27" r="3.7" fill="#c9f2dc" stroke="#1e8a58" stroke-width="2"/>
<circle cx="918.83" cy="1784.08" r="3.7" fill="#c9f2dc" stroke="#1e8a58" stroke-width="2"/>
<circle cx="931.14" cy="1781.79" r="3.7" fill="#c9f2dc" stroke="#1e8a58" stroke-width="2"/>
<circle cx="931.14" cy="1787.95" r="3.7" fill="#c9f2dc" stroke="#1e8a58" stroke-width="2"/>
<circle cx="955.77" cy="1785.31" r="3.7" fill="#c9f2dc" stroke="#1e8a58" stroke-width="2"/>
<circle cx="974.24" cy="1782.67" r="3.7" fill="#c9f2dc" stroke="#1e8a58" stroke-width="2"/>
<circle cx="978.64" cy="1777.4" r="3.7" fill="#c9f2dc" stroke="#1e8a58" stroke-width="2"/>
<circle cx="987.96" cy="1784.08" r="3.7" fill="#c9f2dc" stroke="#1e8a58" stroke-width="2"/>
<circle cx="985.67" cy="1787.6" r="3.7" fill="#c9f2dc" stroke="#1e8a58" stroke-width="2"/>
<circle cx="1001.5" cy="1788.83" r="3.7" fill="#c9f2dc" stroke="#1e8a58" stroke-width="2"/>
<circle cx="901.24" cy="1787.6" r="3.7" fill="#c9f2dc" stroke="#1e8a58" stroke-width="2"/>
<circle cx="909.68" cy="1790.59" r="3.7" fill="#c9f2dc" stroke="#1e8a58" stroke-width="2"/>
<circle cx="921.82" cy="1794.99" r="3.7" fill="#c9f2dc" stroke="#1e8a58" stroke-width="2"/>
<circle cx="965.44" cy="1790.59" r="3.7" fill="#c9f2dc" stroke="#1e8a58" stroke-width="2"/>
<circle cx="968.96" cy="1793.23" r="3.7" fill="#c9f2dc" stroke="#1e8a58" stroke-width="2"/>
<circle cx="978.64" cy="1794.11" r="3.7" fill="#c9f2dc" stroke="#1e8a58" stroke-width="2"/>
<circle cx="987.43" cy="1795.87" r="3.7" fill="#c9f2dc" stroke="#1e8a58" stroke-width="2"/>
<circle cx="1063.95" cy="1789.36" r="3.7" fill="#c9f2dc" stroke="#1e8a58" stroke-width="2"/>
<circle cx="1090.33" cy="1789.36" r="3.7" fill="#c9f2dc" stroke="#1e8a58" stroke-width="2"/>
<circle cx="1115.84" cy="1789.36" r="3.7" fill="#c9f2dc" stroke="#1e8a58" stroke-width="2"/>
<circle cx="964.56" cy="1799.91" r="3.7" fill="#c9f2dc" stroke="#1e8a58" stroke-width="2"/>
<circle cx="979.52" cy="1805.54" r="3.7" fill="#c9f2dc" stroke="#1e8a58" stroke-width="2"/>
<circle cx="993.59" cy="1801.14" r="3.7" fill="#c9f2dc" stroke="#1e8a58" stroke-width="2"/>
<circle cx="1058.67" cy="1802.37" r="3.7" fill="#c9f2dc" stroke="#1e8a58" stroke-width="2"/>
<circle cx="1086.82" cy="1805.54" r="3.7" fill="#c9f2dc" stroke="#1e8a58" stroke-width="2"/>
<circle cx="1105.81" cy="1801.67" r="3.7" fill="#c9f2dc" stroke="#1e8a58" stroke-width="2"/>
<circle cx="957.53" cy="1807.3" r="3.7" fill="#c9f2dc" stroke="#1e8a58" stroke-width="2"/>
<circle cx="966.32" cy="1812.23" r="3.7" fill="#c9f2dc" stroke="#1e8a58" stroke-width="2"/>
<circle cx="1003.26" cy="1808.71" r="3.7" fill="#c9f2dc" stroke="#1e8a58" stroke-width="2"/>
<circle cx="1006.78" cy="1807.3" r="3.7" fill="#c9f2dc" stroke="#1e8a58" stroke-width="2"/>
<circle cx="927.63" cy="1817.5" r="3.7" fill="#c9f2dc" stroke="#1e8a58" stroke-width="2"/>
<circle cx="935.54" cy="1819.96" r="3.7" fill="#c9f2dc" stroke="#1e8a58" stroke-width="2"/>
<circle cx="946.09" cy="1825.24" r="3.7" fill="#c9f2dc" stroke="#1e8a58" stroke-width="2"/>
<circle cx="998.87" cy="1826.3" r="3.7" fill="#c9f2dc" stroke="#1e8a58" stroke-width="2"/>
<circle cx="983.91" cy="1831.57" r="3.7" fill="#c9f2dc" stroke="#1e8a58" stroke-width="2"/>
<circle cx="1019.62" cy="1831.57" r="3.7" fill="#c9f2dc" stroke="#1e8a58" stroke-width="2"/>
<circle cx="1037.56" cy="1818.73" r="3.7" fill="#c9f2dc" stroke="#1e8a58" stroke-width="2"/>
<circle cx="1051.99" cy="1818.73" r="3.7" fill="#c9f2dc" stroke="#1e8a58" stroke-width="2"/>
<circle cx="1056.91" cy="1816.09" r="3.7" fill="#c9f2dc" stroke="#1e8a58" stroke-width="2"/>
<circle cx="1072.39" cy="1831.57" r="3.7" fill="#c9f2dc" stroke="#1e8a58" stroke-width="2"/>
<circle cx="1075.38" cy="1828.76" r="3.7" fill="#c9f2dc" stroke="#1e8a58" stroke-width="2"/>
<text x="1215.5" y="1347" font-size="30" font-weight="bold">l</text>
<rect x="1357" y="1581.16" width="5.6" height="18.94" fill="#999999"/>
<line x1="1359.8" y1="1573.8" x2="1359.8" y2="1588.53" stroke="#000" stroke-width="1.5"/>
<line x1="1357.3" y1="1573.8" x2="1362.3" y2="1573.8" stroke="#000" stroke-width="1.5"/>
<line x1="1357.3" y1="1588.53" x2="1362.3" y2="1588.53" stroke="#000" stroke-width="1.5"/>
<rect x="1366.6" y="1590.63" width="5.6" height="9.47" fill="#999999"/>
<line x1="1369.4" y1="1587.48" x2="1369.4" y2="1593.79" stroke="#000" stroke-width="1.5"/>
<line x1="1366.9" y1="1587.48" x2="1371.9" y2="1587.48" stroke="#000" stroke-width="1.5"/>
<line x1="1366.9" y1="1593.79" x2="1371.9" y2="1593.79" stroke="#000" stroke-width="1.5"/>
<rect x="1376.2" y="1574.85" width="5.6" height="25.25" fill="#999999"/>
<line x1="1379" y1="1568.54" x2="1379" y2="1581.16" stroke="#000" stroke-width="1.5"/>
<line x1="1376.5" y1="1568.54" x2="1381.5" y2="1568.54" stroke="#000" stroke-width="1.5"/>
<line x1="1376.5" y1="1581.16" x2="1381.5" y2="1581.16" stroke="#000" stroke-width="1.5"/>
<rect x="1385.8" y="1576.96" width="5.6" height="23.14" fill="#999999"/>
<line x1="1388.6" y1="1571.7" x2="1388.6" y2="1582.22" stroke="#000" stroke-width="1.5"/>
<line x1="1386.1" y1="1571.7" x2="1391.1" y2="1571.7" stroke="#000" stroke-width="1.5"/>
<line x1="1386.1" y1="1582.22" x2="1391.1" y2="1582.22" stroke="#000" stroke-width="1.5"/>
<rect x="1401.72" y="1583.27" width="5.6" height="16.83" fill="#f245f2"/>
<line x1="1404.52" y1="1579.06" x2="1404.52" y2="1587.48" stroke="#000" stroke-width="1.5"/>
<line x1="1402.02" y1="1579.06" x2="1407.02" y2="1579.06" stroke="#000" stroke-width="1.5"/>
<line x1="1402.02" y1="1587.48" x2="1407.02" y2="1587.48" stroke="#000" stroke-width="1.5"/>
<rect x="1411.32" y="1588.53" width="5.6" height="11.57" fill="#f245f2"/>
<line x1="1414.12" y1="1586.42" x2="1414.12" y2="1590.63" stroke="#000" stroke-width="1.5"/>
<line x1="1411.62" y1="1586.42" x2="1416.62" y2="1586.42" stroke="#000" stroke-width="1.5"/>
<line x1="1411.62" y1="1590.63" x2="1416.62" y2="1590.63" stroke="#000" stroke-width="1.5"/>
<rect x="1420.92" y="1563.28" width="5.6" height="36.82" fill="#f245f2"/>
<line x1="1423.72" y1="1559.07" x2="1423.72" y2="1567.49" stroke="#000" stroke-width="1.5"/>
<line x1="1421.22" y1="1559.07" x2="1426.22" y2="1559.07" stroke="#000" stroke-width="1.5"/>
<line x1="1421.22" y1="1567.49" x2="1426.22" y2="1567.49" stroke="#000" stroke-width="1.5"/>
<rect x="1430.52" y="1570.64" width="5.6" height="29.46" fill="#f245f2"/>
<line x1="1433.32" y1="1567.49" x2="1433.32" y2="1573.8" stroke="#000" stroke-width="1.5"/>
<line x1="1430.82" y1="1567.49" x2="1435.82" y2="1567.49" stroke="#000" stroke-width="1.5"/>
<line x1="1430.82" y1="1573.8" x2="1435.82" y2="1573.8" stroke="#000" stroke-width="1.5"/>
<rect x="1446.44" y="1581.16" width="5.6" height="18.94" fill="#8c44ea"/>
<line x1="1449.24" y1="1576.96" x2="1449.24" y2="1585.37" stroke="#000" stroke-width="1.5"/>
<line x1="1446.74" y1="1576.96" x2="1451.74" y2="1576.96" stroke="#000" stroke-width="1.5"/>
<line x1="1446.74" y1="1585.37" x2="1451.74" y2="1585.37" stroke="#000" stroke-width="1.5"/>
<rect x="1456.04" y="1582.22" width="5.6" height="17.88" fill="#8c44ea"/>
<line x1="1458.84" y1="1578.01" x2="1458.84" y2="1586.42" stroke="#000" stroke-width="1.5"/>
<line x1="1456.34" y1="1578.01" x2="1461.34" y2="1578.01" stroke="#000" stroke-width="1.5"/>
<line x1="1456.34" y1="1586.42" x2="1461.34" y2="1586.42" stroke="#000" stroke-width="1.5"/>
<rect x="1465.64" y="1562.23" width="5.6" height="37.87" fill="#8c44ea"/>
<line x1="1468.44" y1="1556.97" x2="1468.44" y2="1567.49" stroke="#000" stroke-width="1.5"/>
<line x1="1465.94" y1="1556.97" x2="1470.94" y2="1556.97" stroke="#000" stroke-width="1.5"/>
<line x1="1465.94" y1="1567.49" x2="1470.94" y2="1567.49" stroke="#000" stroke-width="1.5"/>
<rect x="1475.24" y="1560.12" width="5.6" height="39.98" fill="#8c44ea"/>
<line x1="1478.04" y1="1555.92" x2="1478.04" y2="1564.33" stroke="#000" stroke-width="1.5"/>
<line x1="1475.54" y1="1555.92" x2="1480.54" y2="1555.92" stroke="#000" stroke-width="1.5"/>
<line x1="1475.54" y1="1564.33" x2="1480.54" y2="1564.33" stroke="#000" stroke-width="1.5"/>
<rect x="1491.16" y="1572.75" width="5.6" height="27.35" fill="#1b6ced"/>
<line x1="1493.96" y1="1567.49" x2="1493.96" y2="1578.01" stroke="#000" stroke-width="1.5"/>
<line x1="1491.46" y1="1567.49" x2="1496.46" y2="1567.49" stroke="#000" stroke-width="1.5"/>
<line x1="1491.46" y1="1578.01" x2="1496.46" y2="1578.01" stroke="#000" stroke-width="1.5"/>
<rect x="1500.76" y="1579.06" width="5.6" height="21.04" fill="#1b6ced"/>
<line x1="1503.56" y1="1575.9" x2="1503.56" y2="1582.22" stroke="#000" stroke-width="1.5"/>
<line x1="1501.06" y1="1575.9" x2="1506.06" y2="1575.9" stroke="#000" stroke-width="1.5"/>
<line x1="1501.06" y1="1582.22" x2="1506.06" y2="1582.22" stroke="#000" stroke-width="1.5"/>
<rect x="1510.36" y="1549.6" width="5.6" height="50.5" fill="#1b6ced"/>
<line x1="1513.16" y1="1544.34" x2="1513.16" y2="1554.86" stroke="#000" stroke-width="1.5"/>
<line x1="1510.66" y1="1544.34" x2="1515.66" y2="1544.34" stroke="#000" stroke-width="1.5"/>
<line x1="1510.66" y1="1554.86" x2="1515.66" y2="1554.86" stroke="#000" stroke-width="1.5"/>
<rect x="1519.96" y="1556.97" width="5.6" height="43.13" fill="#1b6ced"/>
<line x1="1522.76" y1="1552.76" x2="1522.76" y2="1561.18" stroke="#000" stroke-width="1.5"/>
<line x1="1520.26" y1="1552.76" x2="1525.26" y2="1552.76" stroke="#000" stroke-width="1.5"/>
<line x1="1520.26" y1="1561.18" x2="1525.26" y2="1561.18" stroke="#000" stroke-width="1.5"/>
<rect x="1535.88" y="1575.9" width="5.6" height="24.2" fill="#2ac6ef"/>
<line x1="1538.68" y1="1569.59" x2="1538.68" y2="1582.22" stroke="#000" stroke-width="1.5"/>
<line x1="1536.18" y1="1569.59" x2="1541.18" y2="1569.59" stroke="#000" stroke-width="1.5"/>
<line x1="1536.18" y1="1582.22" x2="1541.18" y2="1582.22" stroke="#000" stroke-width="1.5"/>
<rect x="1545.48" y="1586.42" width="5.6" height="13.68" fill="#2ac6ef"/>
<line x1="1548.28" y1="1583.27" x2="1548.28" y2="1589.58" stroke="#000" stroke-width="1.5"/>
<line x1="1545.78" y1="1583.27" x2="1550.78" y2="1583.27" stroke="#000" stroke-width="1.5"/>
<line x1="1545.78" y1="1589.58" x2="1550.78" y2="1589.58" stroke="#000" stroke-width="1.5"/>
<rect x="1555.08" y="1561.18" width="5.6" height="38.92" fill="#2ac6ef"/>
<line x1="1557.88" y1="1556.97" x2="1557.88" y2="1565.38" stroke="#000" stroke-width="1.5"/>
<line x1="1555.38" y1="1556.97" x2="1560.38" y2="1556.97" stroke="#000" stroke-width="1.5"/>
<line x1="1555.38" y1="1565.38" x2="1560.38" y2="1565.38" stroke="#000" stroke-width="1.5"/>
<rect x="1564.68" y="1559.07" width="5.6" height="41.03" fill="#2ac6ef"/>
<line x1="1567.48" y1="1553.81" x2="1567.48" y2="1564.33" stroke="#000" stroke-width="1.5"/>
<line x1="1564.98" y1="1553.81" x2="1569.98" y2="1553.81" stroke="#000" stroke-width="1.5"/>
<line x1="1564.98" y1="1564.33" x2="1569.98" y2="1564.33" stroke="#000" stroke-width="1.5"/>
<rect x="1580.6" y="1573.8" width="5.6" height="26.3" fill="#1ec836"/>
<line x1="1583.4" y1="1569.59" x2="1583.4" y2="1578.01" stroke="#000" stroke-width="1.5"/>
<line x1="1580.9" y1="1569.59" x2="1585.9" y2="1569.59" stroke="#000" stroke-width="1.5"/>
<line x1="1580.9" y1="1578.01" x2="1585.9" y2="1578.01" stroke="#000" stroke-width="1.5"/>
<rect x="1590.2" y="1575.9" width="5.6" height="24.2" fill="#1ec836"/>
<line x1="1593" y1="1570.64" x2="1593" y2="1581.16" stroke="#000" stroke-width="1.5"/>
<line x1="1590.5" y1="1570.64" x2="1595.5" y2="1570.64" stroke="#000" stroke-width="1.5"/>
<line x1="1590.5" y1="1581.16" x2="1595.5" y2="1581.16" stroke="#000" stroke-width="1.5"/>
<rect x="1599.8" y="1555.92" width="5.6" height="44.18" fill="#1ec836"/>
<line x1="1602.6" y1="1551.71" x2="1602.6" y2="1560.12" stroke="#000" stroke-width="1.5"/>
<line x1="1600.1" y1="1551.71" x2="1605.1" y2="1551.71" stroke="#000" stroke-width="1.5"/>
<line x1="1600.1" y1="1560.12" x2="1605.1" y2="1560.12" stroke="#000" stroke-width="1.5"/>
<rect x="1609.4" y="1554.86" width="5.6" height="45.24" fill="#1ec836"/>
<line x1="1612.2" y1="1550.66" x2="1612.2" y2="1559.07" stroke="#000" stroke-width="1.5"/>
<line x1="1609.7" y1="1550.66" x2="1614.7" y2="1550.66" stroke="#000" stroke-width="1.5"/>
<line x1="1609.7" y1="1559.07" x2="1614.7" y2="1559.07" stroke="#000" stroke-width="1.5"/>
<rect x="1625.32" y="1569.59" width="5.6" height="30.51" fill="#8ed12a"/>
<line x1="1628.12" y1="1565.38" x2="1628.12" y2="1573.8" stroke="#000" stroke-width="1.5"/>
<line x1="1625.62" y1="1565.38" x2="1630.62" y2="1565.38" stroke="#000" stroke-width="1.5"/>
<line x1="1625.62" y1="1573.8" x2="1630.62" y2="1573.8" stroke="#000" stroke-width="1.5"/>
<rect x="1634.92" y="1554.86" width="5.6" height="45.24" fill="#8ed12a"/>
<line x1="1637.72" y1="1543.29" x2="1637.72" y2="1566.44" stroke="#000" stroke-width="1.5"/>
<line x1="1635.22" y1="1543.29" x2="1640.22" y2="1543.29" stroke="#000" stroke-width="1.5"/>
<line x1="1635.22" y1="1566.44" x2="1640.22" y2="1566.44" stroke="#000" stroke-width="1.5"/>
<rect x="1644.52" y="1544.34" width="5.6" height="55.76" fill="#8ed12a"/>
<line x1="1647.32" y1="1539.08" x2="1647.32" y2="1549.6" stroke="#000" stroke-width="1.5"/>
<line x1="1644.82" y1="1539.08" x2="1649.82" y2="1539.08" stroke="#000" stroke-width="1.5"/>
<line x1="1644.82" y1="1549.6" x2="1649.82" y2="1549.6" stroke="#000" stroke-width="1.5"/>
<rect x="1654.12" y="1539.08" width="5.6" height="61.02" fill="#8ed12a"/>
<line x1="1656.92" y1="1531.72" x2="1656.92" y2="1546.45" stroke="#000" stroke-width="1.5"/>
<line x1="1654.42" y1="1531.72" x2="1659.42" y2="1531.72" stroke="#000" stroke-width="1.5"/>
<line x1="1654.42" y1="1546.45" x2="1659.42" y2="1546.45" stroke="#000" stroke-width="1.5"/>
<rect x="1670.04" y="1563.28" width="5.6" height="36.82" fill="#d4d42a"/>
<line x1="1672.84" y1="1558.02" x2="1672.84" y2="1568.54" stroke="#000" stroke-width="1.5"/>
<line x1="1670.34" y1="1558.02" x2="1675.34" y2="1558.02" stroke="#000" stroke-width="1.5"/>
<line x1="1670.34" y1="1568.54" x2="1675.34" y2="1568.54" stroke="#000" stroke-width="1.5"/>
<rect x="1679.64" y="1576.96" width="5.6" height="23.14" fill="#d4d42a"/>
<line x1="1682.44" y1="1572.75" x2="1682.44" y2="1581.16" stroke="#000" stroke-width="1.5"/>
<line x1="1679.94" y1="1572.75" x2="1684.94" y2="1572.75" stroke="#000" stroke-width="1.5"/>
<line x1="1679.94" y1="1581.16" x2="1684.94" y2="1581.16" stroke="#000" stroke-width="1.5"/>
<rect x="1689.24" y="1554.86" width="5.6" height="45.24" fill="#d4d42a"/>
<line x1="1692.04" y1="1549.6" x2="1692.04" y2="1560.12" stroke="#000" stroke-width="1.5"/>
<line x1="1689.54" y1="1549.6" x2="1694.54" y2="1549.6" stroke="#000" stroke-width="1.5"/>
<line x1="1689.54" y1="1560.12" x2="1694.54" y2="1560.12" stroke="#000" stroke-width="1.5"/>
<rect x="1698.84" y="1554.86" width="5.6" height="45.24" fill="#d4d42a"/>
<line x1="1701.64" y1="1548.55" x2="1701.64" y2="1561.18" stroke="#000" stroke-width="1.5"/>
<line x1="1699.14" y1="1548.55" x2="1704.14" y2="1548.55" stroke="#000" stroke-width="1.5"/>
<line x1="1699.14" y1="1561.18" x2="1704.14" y2="1561.18" stroke="#000" stroke-width="1.5"/>
<rect x="1714.76" y="1510.68" width="5.6" height="89.42" fill="#f6921c"/>
<line x1="1717.56" y1="1460.18" x2="1717.56" y2="1561.18" stroke="#000" stroke-width="1.5"/>
<line x1="1715.06" y1="1460.18" x2="1720.06" y2="1460.18" stroke="#000" stroke-width="1.5"/>
<line x1="1715.06" y1="1561.18" x2="1720.06" y2="1561.18" stroke="#000" stroke-width="1.5"/>
<rect x="1724.36" y="1532.77" width="5.6" height="67.33" fill="#f6921c"/>
<line x1="1727.16" y1="1498.06" x2="1727.16" y2="1567.49" stroke="#000" stroke-width="1.5"/>
<line x1="1724.66" y1="1498.06" x2="1729.66" y2="1498.06" stroke="#000" stroke-width="1.5"/>
<line x1="1724.66" y1="1567.49" x2="1729.66" y2="1567.49" stroke="#000" stroke-width="1.5"/>
<rect x="1733.96" y="1536.98" width="5.6" height="63.12" fill="#f6921c"/>
<line x1="1736.76" y1="1520.15" x2="1736.76" y2="1553.81" stroke="#000" stroke-width="1.5"/>
<line x1="1734.26" y1="1520.15" x2="1739.26" y2="1520.15" stroke="#000" stroke-width="1.5"/>
<line x1="1734.26" y1="1553.81" x2="1739.26" y2="1553.81" stroke="#000" stroke-width="1.5"/>
<rect x="1743.56" y="1544.34" width="5.6" height="55.76" fill="#f6921c"/>
<line x1="1746.36" y1="1535.93" x2="1746.36" y2="1552.76" stroke="#000" stroke-width="1.5"/>
<line x1="1743.86" y1="1535.93" x2="1748.86" y2="1535.93" stroke="#000" stroke-width="1.5"/>
<line x1="1743.86" y1="1552.76" x2="1748.86" y2="1552.76" stroke="#000" stroke-width="1.5"/>
<rect x="1759.48" y="1553.81" width="5.6" height="46.29" fill="#f23c16"/>
<line x1="1762.28" y1="1536.98" x2="1762.28" y2="1570.64" stroke="#000" stroke-width="1.5"/>
<line x1="1759.78" y1="1536.98" x2="1764.78" y2="1536.98" stroke="#000" stroke-width="1.5"/>
<line x1="1759.78" y1="1570.64" x2="1764.78" y2="1570.64" stroke="#000" stroke-width="1.5"/>
<rect x="1769.08" y="1565.38" width="5.6" height="34.72" fill="#f23c16"/>
<line x1="1771.88" y1="1560.12" x2="1771.88" y2="1570.64" stroke="#000" stroke-width="1.5"/>
<line x1="1769.38" y1="1560.12" x2="1774.38" y2="1560.12" stroke="#000" stroke-width="1.5"/>
<line x1="1769.38" y1="1570.64" x2="1774.38" y2="1570.64" stroke="#000" stroke-width="1.5"/>
<rect x="1778.68" y="1542.24" width="5.6" height="57.86" fill="#f23c16"/>
<line x1="1781.48" y1="1525.41" x2="1781.48" y2="1559.07" stroke="#000" stroke-width="1.5"/>
<line x1="1778.98" y1="1525.41" x2="1783.98" y2="1525.41" stroke="#000" stroke-width="1.5"/>
<line x1="1778.98" y1="1559.07" x2="1783.98" y2="1559.07" stroke="#000" stroke-width="1.5"/>
<rect x="1788.28" y="1569.59" width="5.6" height="30.51" fill="#f23c16"/>
<line x1="1791.08" y1="1565.38" x2="1791.08" y2="1573.8" stroke="#000" stroke-width="1.5"/>
<line x1="1788.58" y1="1565.38" x2="1793.58" y2="1565.38" stroke="#000" stroke-width="1.5"/>
<line x1="1788.58" y1="1573.8" x2="1793.58" y2="1573.8" stroke="#000" stroke-width="1.5"/>
<rect x="1804.2" y="1428" width="5.6" height="172.1" fill="#d42a14"/>
<rect x="1804.2" y="1398.38" width="5.6" height="8.62" fill="#d42a14"/>
<rect x="1813.8" y="1428" width="5.6" height="172.1" fill="#d42a14"/>
<rect x="1813.8" y="1394.68" width="5.6" height="12.32" fill="#d42a14"/>
<rect x="1823.4" y="1428" width="5.6" height="172.1" fill="#d42a14"/>
<rect x="1823.4" y="1402.15" width="5.6" height="4.85" fill="#d42a14"/>
<rect x="1833" y="1428" width="5.6" height="172.1" fill="#d42a14"/>
<rect x="1833" y="1401.41" width="5.6" height="5.59" fill="#d42a14"/>
<line x1="1807" y1="1393.6" x2="1807" y2="1405.8" stroke="#000" stroke-width="1.5"/>
<line x1="1804.5" y1="1393.6" x2="1809.5" y2="1393.6" stroke="#000" stroke-width="1.5"/>
<line x1="1804.5" y1="1405.8" x2="1809.5" y2="1405.8" stroke="#000" stroke-width="1.5"/>
<line x1="1816.6" y1="1387.3" x2="1816.6" y2="1405.8" stroke="#000" stroke-width="1.5"/>
<line x1="1814.1" y1="1387.3" x2="1819.1" y2="1387.3" stroke="#000" stroke-width="1.5"/>
<line x1="1814.1" y1="1405.8" x2="1819.1" y2="1405.8" stroke="#000" stroke-width="1.5"/>
<line x1="1826.2" y1="1428" x2="1826.2" y2="1472.4" stroke="#000" stroke-width="1.5"/>
<line x1="1823.7" y1="1472.4" x2="1828.7" y2="1472.4" stroke="#000" stroke-width="1.5"/>
<line x1="1835.8" y1="1428" x2="1835.8" y2="1445.4" stroke="#000" stroke-width="1.5"/>
<line x1="1833.3" y1="1445.4" x2="1838.3" y2="1445.4" stroke="#000" stroke-width="1.5"/>
<rect x="1837.5" y="1368" width="5" height="5" fill="#cccccc"/>
<line x1="1350.9" y1="1363.3" x2="1350.9" y2="1407" stroke="#000" stroke-width="2"/>
<line x1="1350.9" y1="1428" x2="1350.9" y2="1601.1" stroke="#000" stroke-width="2"/>
<line x1="1337.6" y1="1600.1" x2="1841.9" y2="1600.1" stroke="#000" stroke-width="2"/>
<line x1="1331.3" y1="1363.3" x2="1350.9" y2="1363.3" stroke="#000" stroke-width="2"/>
<line x1="1331.3" y1="1400.3" x2="1350.9" y2="1400.3" stroke="#000" stroke-width="2"/>
<line x1="1342.4" y1="1407" x2="1358.3" y2="1407" stroke="#000" stroke-width="2"/>
<line x1="1342.4" y1="1428" x2="1358.3" y2="1428" stroke="#000" stroke-width="2"/>
<line x1="1337.6" y1="1442.3" x2="1350.9" y2="1442.3" stroke="#000" stroke-width="2"/>
<text x="1330.2" y="1450.6" font-size="24" text-anchor="end">15</text>
<line x1="1337.6" y1="1494.9" x2="1350.9" y2="1494.9" stroke="#000" stroke-width="2"/>
<text x="1330.2" y="1503.2" font-size="24" text-anchor="end">10</text>
<line x1="1337.6" y1="1547.5" x2="1350.9" y2="1547.5" stroke="#000" stroke-width="2"/>
<text x="1330.2" y="1555.8" font-size="24" text-anchor="end">5</text>
<line x1="1337.6" y1="1600.1" x2="1350.9" y2="1600.1" stroke="#000" stroke-width="2"/>
<text x="1330.2" y="1608.4" font-size="24" text-anchor="end">0</text>
<text x="1323.9" y="1373.7" font-size="24" text-anchor="end">75</text>
<text x="1323.9" y="1409.5" font-size="24" text-anchor="end">25</text>
<text x="1282.5" y="1485" font-size="25" text-anchor="middle" transform="rotate(-90 1282.5 1485)">Frequency (Action/min)</text>
<line x1="1357.2" y1="1614.1" x2="1384.1" y2="1614.1" stroke="#000" stroke-width="2.2"/>
<path d="M1392.1 1614.1 L1383.1 1609.3 L1383.1 1618.9 Z" fill="#000"/>
<line x1="1401.92" y1="1614.1" x2="1428.82" y2="1614.1" stroke="#000" stroke-width="2.2"/>
<path d="M1436.82 1614.1 L1427.82 1609.3 L1427.82 1618.9 Z" fill="#000"/>
<line x1="1446.64" y1="1614.1" x2="1473.54" y2="1614.1" stroke="#000" stroke-width="2.2"/>
<path d="M1481.54 1614.1 L1472.54 1609.3 L1472.54 1618.9 Z" fill="#000"/>
<line x1="1491.36" y1="1614.1" x2="1518.26" y2="1614.1" stroke="#000" stroke-width="2.2"/>
<path d="M1526.26 1614.1 L1517.26 1609.3 L1517.26 1618.9 Z" fill="#000"/>
<line x1="1536.08" y1="1614.1" x2="1562.98" y2="1614.1" stroke="#000" stroke-width="2.2"/>
<path d="M1570.98 1614.1 L1561.98 1609.3 L1561.98 1618.9 Z" fill="#000"/>
<line x1="1580.8" y1="1614.1" x2="1607.7" y2="1614.1" stroke="#000" stroke-width="2.2"/>
<path d="M1615.7 1614.1 L1606.7 1609.3 L1606.7 1618.9 Z" fill="#000"/>
<line x1="1625.52" y1="1614.1" x2="1652.42" y2="1614.1" stroke="#000" stroke-width="2.2"/>
<path d="M1660.42 1614.1 L1651.42 1609.3 L1651.42 1618.9 Z" fill="#000"/>
<line x1="1670.24" y1="1614.1" x2="1697.14" y2="1614.1" stroke="#000" stroke-width="2.2"/>
<path d="M1705.14 1614.1 L1696.14 1609.3 L1696.14 1618.9 Z" fill="#000"/>
<line x1="1714.96" y1="1614.1" x2="1741.86" y2="1614.1" stroke="#000" stroke-width="2.2"/>
<path d="M1749.86 1614.1 L1740.86 1609.3 L1740.86 1618.9 Z" fill="#000"/>
<line x1="1759.68" y1="1614.1" x2="1786.58" y2="1614.1" stroke="#000" stroke-width="2.2"/>
<path d="M1794.58 1614.1 L1785.58 1609.3 L1785.58 1618.9 Z" fill="#000"/>
<line x1="1804.4" y1="1614.1" x2="1831.3" y2="1614.1" stroke="#000" stroke-width="2.2"/>
<path d="M1839.3 1614.1 L1830.3 1609.3 L1830.3 1618.9 Z" fill="#000"/>
<rect x="1370.2" y="1443.9" width="19.2" height="17.4" fill="#999999"/>
<text x="1395.3" y="1461.3" font-size="22.5" textLength="61.8" lengthAdjust="spacingAndGlyphs">Target</text>
<rect x="1469.3" y="1443.9" width="22.4" height="17.4" fill="#f245f2"/>
<rect x="1491.5" y="1443.9" width="22.4" height="17.4" fill="#8c44ea"/>
<rect x="1513.7" y="1443.9" width="22.4" height="17.4" fill="#1b6ced"/>
<rect x="1535.9" y="1443.9" width="22.4" height="17.4" fill="#2ac6ef"/>
<rect x="1558.1" y="1443.9" width="22.4" height="17.4" fill="#1ec836"/>
<rect x="1580.3" y="1443.9" width="22.4" height="17.4" fill="#8ed12a"/>
<rect x="1602.5" y="1443.9" width="22.4" height="17.4" fill="#d4d42a"/>
<rect x="1624.7" y="1443.9" width="22.4" height="17.4" fill="#f6921c"/>
<rect x="1646.9" y="1443.9" width="22.4" height="17.4" fill="#f23c16"/>
<rect x="1669.1" y="1443.9" width="22.4" height="17.4" fill="#d42a14"/>
<text x="1577.9" y="1437.3" font-size="24.6" text-anchor="middle">Percentile</text>
<text x="1468.2" y="1483.5" font-size="24" text-anchor="middle">1</text>
<text x="1513.7" y="1483.5" font-size="24" text-anchor="middle">20</text>
<text x="1557" y="1483.5" font-size="24" text-anchor="middle">40</text>
<text x="1602.5" y="1483.5" font-size="24" text-anchor="middle">60</text>
<text x="1645.8" y="1483.5" font-size="24" text-anchor="middle">80</text>
<text x="1689.1" y="1483.5" font-size="24" text-anchor="middle">100</text>
<path d="M1473 1364 L1473 1414.3 L1690.2 1414.3 Z" fill="none" stroke="#000" stroke-width="2.2"/>
<text x="1477.5" y="1405.8" font-size="24.7">Similarity</text>
<text x="1270.3" y="1657.19" font-size="24">B vs E</text>
<text x="1373.38" y="1656.79" font-size="24" text-anchor="middle">n.s.</text>
<text x="1418.36" y="1656.79" font-size="24" text-anchor="middle">n.s.</text>
<text x="1463.33" y="1656.79" font-size="24" text-anchor="middle">n.s.</text>
<text x="1508.3" y="1656.79" font-size="24" text-anchor="middle">n.s.</text>
<text x="1553.27" y="1656.79" font-size="24" text-anchor="middle">n.s.</text>
<text x="1598.24" y="1656.79" font-size="24" text-anchor="middle">n.s.</text>
<text x="1643.21" y="1656.79" font-size="24" text-anchor="middle">n.s.</text>
<text x="1688.18" y="1656.79" font-size="24" text-anchor="middle">n.s.</text>
<text x="1733.14" y="1656.79" font-size="24" text-anchor="middle">n.s.</text>
<text x="1778.12" y="1656.79" font-size="24" text-anchor="middle">n.s.</text>
<text x="1823.09" y="1656.79" font-size="24" text-anchor="middle">n.s.</text>
<text x="1270.3" y="1690.76" font-size="24">B vs M</text>
<text x="1373.38" y="1690.36" font-size="24" text-anchor="middle">n.s.</text>
<text x="1418.36" y="1693.36" font-size="24" text-anchor="middle" fill="#1f9a68">****</text>
<text x="1463.33" y="1693.36" font-size="24" text-anchor="middle" fill="#1f9a68">***</text>
<text x="1508.3" y="1693.36" font-size="24" text-anchor="middle" fill="#1f9a68">***</text>
<text x="1553.27" y="1693.36" font-size="24" text-anchor="middle" fill="#1f9a68">*</text>
<text x="1598.24" y="1693.36" font-size="24" text-anchor="middle" fill="#1f9a68">**</text>
<text x="1643.21" y="1693.36" font-size="24" text-anchor="middle" fill="#1f9a68">**</text>
<text x="1688.18" y="1690.36" font-size="24" text-anchor="middle">n.s.</text>
<text x="1733.14" y="1690.36" font-size="24" text-anchor="middle">n.s.</text>
<text x="1778.12" y="1690.36" font-size="24" text-anchor="middle">n.s.</text>
<text x="1823.09" y="1690.36" font-size="24" text-anchor="middle">n.s.</text>
<text x="1270.3" y="1724.33" font-size="24">B vs L</text>
<text x="1373.38" y="1723.92" font-size="24" text-anchor="middle">n.s.</text>
<text x="1418.36" y="1726.92" font-size="24" text-anchor="middle" fill="#1f9a68">****</text>
<text x="1463.33" y="1726.92" font-size="24" text-anchor="middle" fill="#1f9a68">****</text>
<text x="1508.3" y="1726.92" font-size="24" text-anchor="middle" fill="#1f9a68">**</text>
<text x="1553.27" y="1726.92" font-size="24" text-anchor="middle" fill="#1f9a68">***</text>
<text x="1598.24" y="1726.92" font-size="24" text-anchor="middle" fill="#1f9a68">*</text>
<text x="1643.21" y="1726.92" font-size="24" text-anchor="middle" fill="#1f9a68">***</text>
<text x="1688.18" y="1723.92" font-size="24" text-anchor="middle">n.s.</text>
<text x="1733.14" y="1723.92" font-size="24" text-anchor="middle">n.s.</text>
<text x="1778.12" y="1723.92" font-size="24" text-anchor="middle">n.s.</text>
<text x="1823.09" y="1723.92" font-size="24" text-anchor="middle">n.s.</text>
<rect x="1350.9" y="1631.4" width="494.67" height="100.71" fill="none" stroke="#000" stroke-width="2.6"/>
<line x1="1350.9" y1="1664.97" x2="1845.57" y2="1664.97" stroke="#000" stroke-width="2.4"/>
<line x1="1350.9" y1="1698.54" x2="1845.57" y2="1698.54" stroke="#000" stroke-width="2.4"/>
<line x1="1395.87" y1="1631.4" x2="1395.87" y2="1732.11" stroke="#000" stroke-width="2.4"/>
<line x1="1440.84" y1="1631.4" x2="1440.84" y2="1732.11" stroke="#000" stroke-width="2.4"/>
<line x1="1485.81" y1="1631.4" x2="1485.81" y2="1732.11" stroke="#000" stroke-width="2.4"/>
<line x1="1530.78" y1="1631.4" x2="1530.78" y2="1732.11" stroke="#000" stroke-width="2.4"/>
<line x1="1575.75" y1="1631.4" x2="1575.75" y2="1732.11" stroke="#000" stroke-width="2.4"/>
<line x1="1620.72" y1="1631.4" x2="1620.72" y2="1732.11" stroke="#000" stroke-width="2.4"/>
<line x1="1665.69" y1="1631.4" x2="1665.69" y2="1732.11" stroke="#000" stroke-width="2.4"/>
<line x1="1710.66" y1="1631.4" x2="1710.66" y2="1732.11" stroke="#000" stroke-width="2.4"/>
<line x1="1755.63" y1="1631.4" x2="1755.63" y2="1732.11" stroke="#000" stroke-width="2.4"/>
<line x1="1800.6" y1="1631.4" x2="1800.6" y2="1732.11" stroke="#000" stroke-width="2.4"/>
<text x="1270.3" y="1769.95" font-size="24">E vs M</text>
<text x="1373.38" y="1769.55" font-size="24" text-anchor="middle">n.s.</text>
<text x="1418.36" y="1772.55" font-size="24" text-anchor="middle" fill="#1f9a68">****</text>
<text x="1463.33" y="1772.55" font-size="24" text-anchor="middle" fill="#1f9a68">****</text>
<text x="1508.3" y="1772.55" font-size="24" text-anchor="middle" fill="#1f9a68">****</text>
<text x="1553.27" y="1772.55" font-size="24" text-anchor="middle" fill="#1f9a68">****</text>
<text x="1598.24" y="1772.55" font-size="24" text-anchor="middle" fill="#1f9a68">***</text>
<text x="1643.21" y="1772.55" font-size="24" text-anchor="middle" fill="#1f9a68">**</text>
<text x="1688.18" y="1772.55" font-size="24" text-anchor="middle" fill="#1f9a68">***</text>
<text x="1733.14" y="1772.55" font-size="24" text-anchor="middle" fill="#e64ae6">**</text>
<text x="1778.12" y="1772.55" font-size="24" text-anchor="middle" fill="#1f9a68">**</text>
<text x="1823.09" y="1769.55" font-size="24" text-anchor="middle">n.s.</text>
<text x="1270.3" y="1803.25" font-size="24">E vs L</text>
<text x="1373.38" y="1805.85" font-size="24" text-anchor="middle" fill="#1f9a68">*</text>
<text x="1418.36" y="1805.85" font-size="24" text-anchor="middle" fill="#1f9a68">****</text>
<text x="1463.33" y="1805.85" font-size="24" text-anchor="middle" fill="#1f9a68">****</text>
<text x="1508.3" y="1805.85" font-size="24" text-anchor="middle" fill="#1f9a68">****</text>
<text x="1553.27" y="1805.85" font-size="24" text-anchor="middle" fill="#1f9a68">****</text>
<text x="1598.24" y="1805.85" font-size="24" text-anchor="middle" fill="#1f9a68">**</text>
<text x="1643.21" y="1805.85" font-size="24" text-anchor="middle" fill="#1f9a68">***</text>
<text x="1688.18" y="1805.85" font-size="24" text-anchor="middle" fill="#1f9a68">***</text>
<text x="1733.14" y="1805.85" font-size="24" text-anchor="middle" fill="#e64ae6">*</text>
<text x="1778.12" y="1802.85" font-size="24" text-anchor="middle">n.s.</text>
<text x="1823.09" y="1802.85" font-size="24" text-anchor="middle">n.s.</text>
<rect x="1350.9" y="1744.3" width="494.67" height="66.6" fill="none" stroke="#000" stroke-width="2.6"/>
<line x1="1350.9" y1="1777.6" x2="1845.57" y2="1777.6" stroke="#000" stroke-width="2.4"/>
<line x1="1395.87" y1="1744.3" x2="1395.87" y2="1810.9" stroke="#000" stroke-width="2.4"/>
<line x1="1440.84" y1="1744.3" x2="1440.84" y2="1810.9" stroke="#000" stroke-width="2.4"/>
<line x1="1485.81" y1="1744.3" x2="1485.81" y2="1810.9" stroke="#000" stroke-width="2.4"/>
<line x1="1530.78" y1="1744.3" x2="1530.78" y2="1810.9" stroke="#000" stroke-width="2.4"/>
<line x1="1575.75" y1="1744.3" x2="1575.75" y2="1810.9" stroke="#000" stroke-width="2.4"/>
<line x1="1620.72" y1="1744.3" x2="1620.72" y2="1810.9" stroke="#000" stroke-width="2.4"/>
<line x1="1665.69" y1="1744.3" x2="1665.69" y2="1810.9" stroke="#000" stroke-width="2.4"/>
<line x1="1710.66" y1="1744.3" x2="1710.66" y2="1810.9" stroke="#000" stroke-width="2.4"/>
<line x1="1755.63" y1="1744.3" x2="1755.63" y2="1810.9" stroke="#000" stroke-width="2.4"/>
<line x1="1800.6" y1="1744.3" x2="1800.6" y2="1810.9" stroke="#000" stroke-width="2.4"/>
<text x="1270.3" y="1846.7" font-size="24">M vs L</text>
<text x="1373.38" y="1846.3" font-size="24" text-anchor="middle">n.s.</text>
<text x="1418.36" y="1846.3" font-size="24" text-anchor="middle">n.s.</text>
<text x="1463.33" y="1846.3" font-size="24" text-anchor="middle">n.s.</text>
<text x="1508.3" y="1846.3" font-size="24" text-anchor="middle">n.s.</text>
<text x="1553.27" y="1846.3" font-size="24" text-anchor="middle">n.s.</text>
<text x="1598.24" y="1846.3" font-size="24" text-anchor="middle">n.s.</text>
<text x="1643.21" y="1846.3" font-size="24" text-anchor="middle">n.s.</text>
<text x="1688.18" y="1846.3" font-size="24" text-anchor="middle">n.s.</text>
<text x="1733.14" y="1846.3" font-size="24" text-anchor="middle">n.s.</text>
<text x="1778.12" y="1846.3" font-size="24" text-anchor="middle">n.s.</text>
<text x="1823.09" y="1846.3" font-size="24" text-anchor="middle">n.s.</text>
<rect x="1350.9" y="1820.9" width="494.67" height="33.6" fill="none" stroke="#000" stroke-width="2.6"/>
<line x1="1395.87" y1="1820.9" x2="1395.87" y2="1854.5" stroke="#000" stroke-width="2.4"/>
<line x1="1440.84" y1="1820.9" x2="1440.84" y2="1854.5" stroke="#000" stroke-width="2.4"/>
<line x1="1485.81" y1="1820.9" x2="1485.81" y2="1854.5" stroke="#000" stroke-width="2.4"/>
<line x1="1530.78" y1="1820.9" x2="1530.78" y2="1854.5" stroke="#000" stroke-width="2.4"/>
<line x1="1575.75" y1="1820.9" x2="1575.75" y2="1854.5" stroke="#000" stroke-width="2.4"/>
<line x1="1620.72" y1="1820.9" x2="1620.72" y2="1854.5" stroke="#000" stroke-width="2.4"/>
<line x1="1665.69" y1="1820.9" x2="1665.69" y2="1854.5" stroke="#000" stroke-width="2.4"/>
<line x1="1710.66" y1="1820.9" x2="1710.66" y2="1854.5" stroke="#000" stroke-width="2.4"/>
<line x1="1755.63" y1="1820.9" x2="1755.63" y2="1854.5" stroke="#000" stroke-width="2.4"/>
<line x1="1800.6" y1="1820.9" x2="1800.6" y2="1854.5" stroke="#000" stroke-width="2.4"/>
<text x="1373.38" y="1891.25" font-size="24" text-anchor="middle">10</text>
<text x="1418.36" y="1891.25" font-size="24" text-anchor="middle">35</text>
<text x="1463.33" y="1891.25" font-size="24" text-anchor="middle">34</text>
<text x="1508.3" y="1891.25" font-size="24" text-anchor="middle">35</text>
<text x="1553.27" y="1891.25" font-size="24" text-anchor="middle">34</text>
<text x="1598.24" y="1891.25" font-size="24" text-anchor="middle">35</text>
<text x="1643.21" y="1891.25" font-size="24" text-anchor="middle">35</text>
<text x="1688.18" y="1891.25" font-size="24" text-anchor="middle">34</text>
<text x="1733.14" y="1891.25" font-size="24" text-anchor="middle">35</text>
<text x="1778.12" y="1891.25" font-size="24" text-anchor="middle">34</text>
<text x="1823.09" y="1891.25" font-size="24" text-anchor="middle">35</text>
<rect x="1350.9" y="1865.6" width="494.67" height="34.1" fill="none" stroke="#000" stroke-width="2.6"/>
<line x1="1395.87" y1="1865.6" x2="1395.87" y2="1899.7" stroke="#000" stroke-width="2.4"/>
<line x1="1440.84" y1="1865.6" x2="1440.84" y2="1899.7" stroke="#000" stroke-width="2.4"/>
<line x1="1485.81" y1="1865.6" x2="1485.81" y2="1899.7" stroke="#000" stroke-width="2.4"/>
<line x1="1530.78" y1="1865.6" x2="1530.78" y2="1899.7" stroke="#000" stroke-width="2.4"/>
<line x1="1575.75" y1="1865.6" x2="1575.75" y2="1899.7" stroke="#000" stroke-width="2.4"/>
<line x1="1620.72" y1="1865.6" x2="1620.72" y2="1899.7" stroke="#000" stroke-width="2.4"/>
<line x1="1665.69" y1="1865.6" x2="1665.69" y2="1899.7" stroke="#000" stroke-width="2.4"/>
<line x1="1710.66" y1="1865.6" x2="1710.66" y2="1899.7" stroke="#000" stroke-width="2.4"/>
<line x1="1755.63" y1="1865.6" x2="1755.63" y2="1899.7" stroke="#000" stroke-width="2.4"/>
<line x1="1800.6" y1="1865.6" x2="1800.6" y2="1899.7" stroke="#000" stroke-width="2.4"/>
<text x="1329.5" y="1892.3" font-size="24">n</text>
<text x="1232.5" y="1744" font-size="25" text-anchor="middle" transform="rotate(-90 1232.5 1744)">Statistical Comparisons</text>
<line x1="1302.8" y1="1934.8" x2="1355" y2="1934.8" stroke="#000" stroke-width="4"/>
<path d="M1372 1934.8 L1354 1924.3 L1354 1945.3 Z" fill="#000"/>
<text x="1425" y="1944" font-size="25">B - Baseline</text>
<text x="1425" y="1970" font-size="25">E - Early</text>
<text x="1572" y="1944" font-size="25">M - Mid</text>
<text x="1572" y="1970" font-size="25">L - Late</text>
<rect x="1679.1" y="1915.2" width="39.6" height="29.6" fill="none" stroke="#000" stroke-width="2.4"/>
<rect x="1679.1" y="1950.7" width="39.6" height="30.4" fill="none" stroke="#000" stroke-width="2.4"/>
<text x="1698.9" y="1938.5" font-size="16" text-anchor="middle" fill="#1f9a68">*</text>
<text x="1698.9" y="1974.5" font-size="16" text-anchor="middle" fill="#e64ae6">*</text>
<text x="1724.6" y="1938.5" font-size="24.5">Increased</text>
<text x="1724.6" y="1971.8" font-size="24.5">Decreased</text>
<text x="1273.3" y="1973.7" font-size="24">B</text>
<line x1="1290.8" y1="1966.5" x2="1301.3" y2="1966.5" stroke="#000" stroke-width="2.6"/>
<path d="M1308.3 1966.5 L1300.3 1961.9 L1300.3 1971.1 Z" fill="#000"/>
<text x="1310.3" y="1973.7" font-size="24">E</text>
<line x1="1327.8" y1="1966.5" x2="1338.3" y2="1966.5" stroke="#000" stroke-width="2.6"/>
<path d="M1345.3 1966.5 L1337.3 1961.9 L1337.3 1971.1 Z" fill="#000"/>
<text x="1347.3" y="1973.7" font-size="24">M</text>
<line x1="1368.8" y1="1966.5" x2="1379.3" y2="1966.5" stroke="#000" stroke-width="2.6"/>
<path d="M1386.3 1966.5 L1378.3 1961.9 L1378.3 1971.1 Z" fill="#000"/>
<text x="1388.3" y="1973.7" font-size="24">L</text>
</svg></body></html>
